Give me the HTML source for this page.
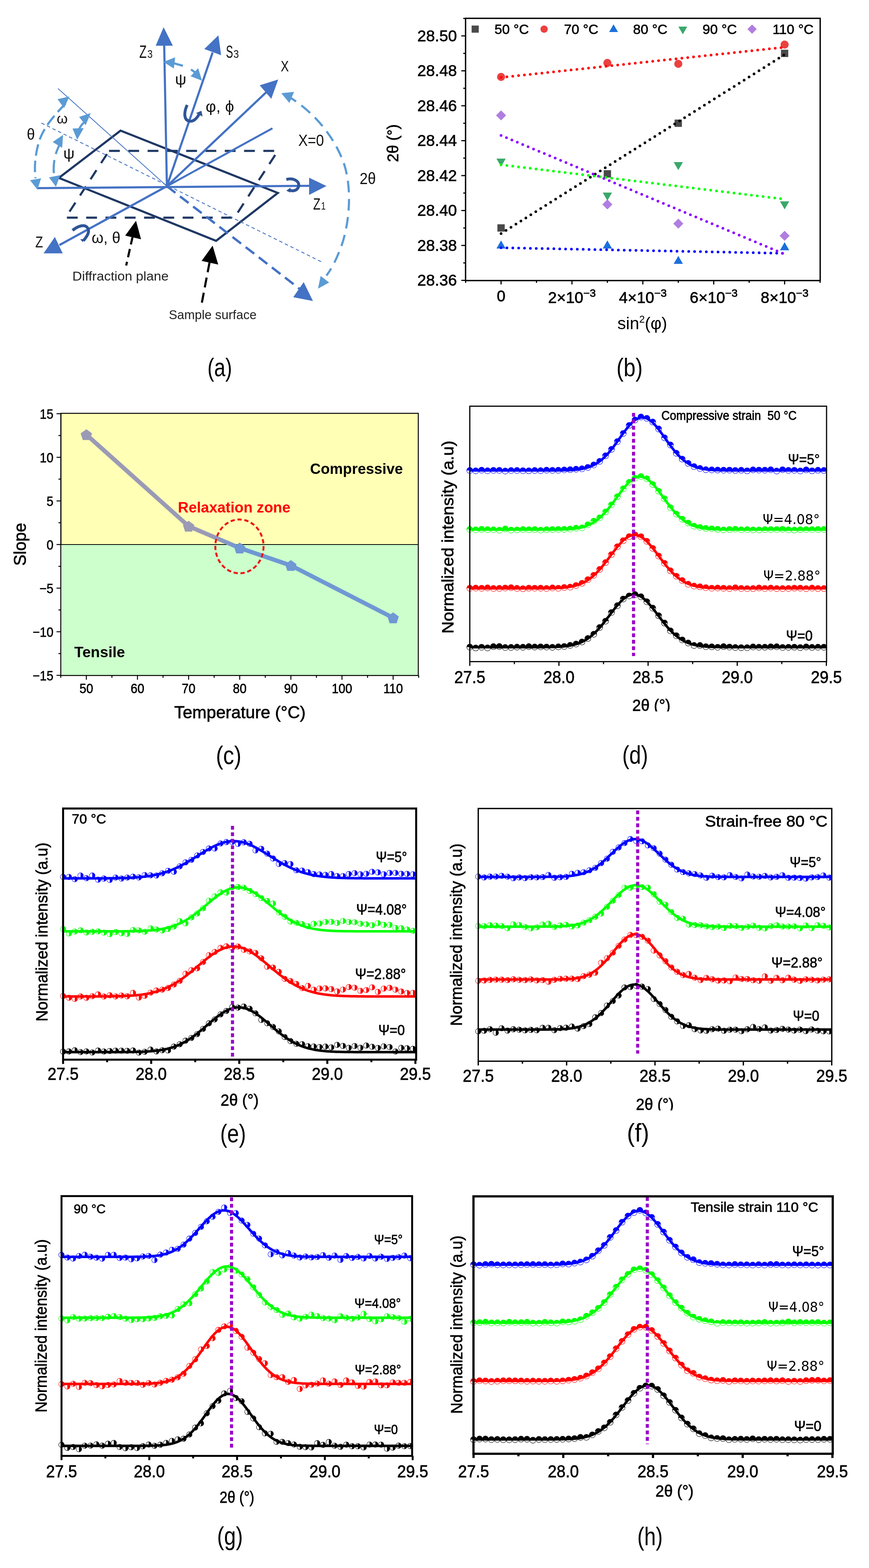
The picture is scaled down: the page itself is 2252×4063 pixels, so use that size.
<!DOCTYPE html>
<html><head><meta charset="utf-8"><title>Figure</title>
<style>html,body{margin:0;padding:0;background:#fff;}svg{display:block;}.cb{fill:#fff;stroke:#00f;stroke-width:1.1}.cg{fill:#fff;stroke:#0f0;stroke-width:1.1}.cr{fill:#fff;stroke:#f00;stroke-width:1.1}.ck{fill:#fff;stroke:#000;stroke-width:1.1}.fb{fill:#00f}.fg{fill:#0f0}.fr{fill:#f00}.fk{fill:#000}</style></head>
<body><svg width="2252" height="4063" viewBox="0 0 2252 4063">
<rect width="2252" height="4063" fill="#fff"/>
<text x="537.5" y="975.0" font-size="66" font-family="'Liberation Sans', sans-serif" fill="#000" textLength="64" lengthAdjust="spacingAndGlyphs">(a)</text>
<text x="1597.5" y="975.0" font-size="66" font-family="'Liberation Sans', sans-serif" fill="#000" textLength="68" lengthAdjust="spacingAndGlyphs">(b)</text>
<text x="559.5" y="1980.0" font-size="66" font-family="'Liberation Sans', sans-serif" fill="#000" textLength="66" lengthAdjust="spacingAndGlyphs">(c)</text>
<text x="1612.5" y="1979.0" font-size="66" font-family="'Liberation Sans', sans-serif" fill="#000" textLength="67" lengthAdjust="spacingAndGlyphs">(d)</text>
<text x="570.5" y="2960.0" font-size="66" font-family="'Liberation Sans', sans-serif" fill="#000" textLength="67" lengthAdjust="spacingAndGlyphs">(e)</text>
<text x="1624.5" y="2958.0" font-size="66" font-family="'Liberation Sans', sans-serif" fill="#000" textLength="58" lengthAdjust="spacingAndGlyphs">(f)</text>
<text x="562.5" y="4003.0" font-size="66" font-family="'Liberation Sans', sans-serif" fill="#000" textLength="67" lengthAdjust="spacingAndGlyphs">(g)</text>
<text x="1651.5" y="4004.0" font-size="66" font-family="'Liberation Sans', sans-serif" fill="#000" textLength="66" lengthAdjust="spacingAndGlyphs">(h)</text>
<polygon points="282.5,391.0 720.0,391.0 607.5,564.0 170.0,564.0" fill="none" stroke="#1f3864" stroke-width="5.5" stroke-dasharray="28 22" stroke-linejoin="miter"/>
<polygon points="312.5,338.5 720.0,500.0 560.0,624.0 152.5,461.0" fill="none" stroke="#1f3864" stroke-width="5.5" stroke-linejoin="miter"/>
<line x1="150.3" y1="229.4" x2="432.5" y2="482.5" stroke="#4472c4" stroke-width="2" />
<line x1="107.3" y1="318.7" x2="834.0" y2="679.0" stroke="#4472c4" stroke-width="2.2" stroke-dasharray="9 7"/>
<line x1="432.5" y1="482.5" x2="781.0" y2="752.0" stroke="#4472c4" stroke-width="6" stroke-dasharray="28 15"/>
<polygon points="787.0,731.0 760.0,770.0 811.0,780.0" fill="#4472c4" stroke="none" stroke-width="0" />
<line x1="97.0" y1="487.5" x2="806.0" y2="481.5" stroke="#4472c4" stroke-width="5.5" />
<polygon points="801.0,460.5 846.0,482.0 801.0,505.0" fill="#4472c4" stroke="none" stroke-width="0" />
<line x1="432.5" y1="482.5" x2="425.5" y2="116.0" stroke="#4472c4" stroke-width="5.5" />
<polygon points="403.5,118.5 448.0,118.5 424.0,70.5" fill="#4472c4" stroke="none" stroke-width="0" />
<line x1="432.5" y1="482.5" x2="551.0" y2="136.0" stroke="#4472c4" stroke-width="5.5" />
<polygon points="529.5,127.0 573.0,143.0 566.0,91.5" fill="#4472c4" stroke="none" stroke-width="0" />
<line x1="432.5" y1="482.5" x2="690.0" y2="239.0" stroke="#4472c4" stroke-width="5.5" />
<polygon points="673.0,221.0 703.0,256.0 721.0,206.0" fill="#4472c4" stroke="none" stroke-width="0" />
<line x1="432.5" y1="482.5" x2="706.0" y2="332.5" stroke="#4472c4" stroke-width="5" />
<line x1="432.5" y1="482.5" x2="154.0" y2="635.0" stroke="#4472c4" stroke-width="5.5" />
<polygon points="113.0,656.5 162.5,656.5 142.2,614.0" fill="#4472c4" stroke="none" stroke-width="0" />
<path d="M742,247 C800,280 860,340 890,420 C915,490 905,590 880,650 C868,680 858,698 846,714" fill="none" stroke="#5b9bd5" stroke-width="5.5" stroke-dasharray="30 17"/>
<polygon points="729.0,241.5 762.0,238.0 750.0,267.0" fill="#5b9bd5" stroke="none" stroke-width="0" />
<polygon points="831.0,715.0 853.0,732.0 824.0,748.0" fill="#5b9bd5" stroke="none" stroke-width="0" />
<path d="M170,268 C140,300 112,330 100,370 C92,400 88,430 92,462" fill="none" stroke="#5b9bd5" stroke-width="5.5" stroke-dasharray="30 13"/>
<polygon points="149.0,257.0 180.0,250.0 166.0,280.0" fill="#5b9bd5" stroke="none" stroke-width="0" />
<polygon points="78.0,467.0 106.5,462.0 97.0,491.5" fill="#5b9bd5" stroke="none" stroke-width="0" />
<path d="M158,368 C146,390 139,410 139,440 L140,458" fill="none" stroke="#5b9bd5" stroke-width="5.5" stroke-dasharray="34 16"/>
<polygon points="136.5,368.0 163.5,349.5 161.0,383.0" fill="#5b9bd5" stroke="none" stroke-width="0" />
<polygon points="127.0,459.5 156.0,454.0 145.0,484.0" fill="#5b9bd5" stroke="none" stroke-width="0" />
<path d="M221,314 C212,322 206,330 203,340" fill="none" stroke="#5b9bd5" stroke-width="5.5" />
<polygon points="205.0,303.0 235.0,293.0 222.0,324.5" fill="#5b9bd5" stroke="none" stroke-width="0" />
<polygon points="188.0,333.0 217.0,332.0 200.0,362.0" fill="#5b9bd5" stroke="none" stroke-width="0" />
<line x1="449.0" y1="163.5" x2="474.0" y2="170.5" stroke="#5b9bd5" stroke-width="5.5" />
<polygon points="423.5,160.5 454.0,148.5 450.5,177.5" fill="#5b9bd5" stroke="none" stroke-width="0" />
<line x1="495.0" y1="180.0" x2="506.0" y2="188.0" stroke="#5b9bd5" stroke-width="5.5" />
<polygon points="494.0,197.5 513.5,176.5 523.5,209.0" fill="#5b9bd5" stroke="none" stroke-width="0" />
<path d="M485,272 C476,292 476,312 492,314 C503,315 511,305 516,296" stroke="#2f5597" stroke-width="7.5" fill="none" stroke-linecap="butt"/>
<polygon points="508.0,293.0 522.0,287.0 525.0,302.0" fill="#2f5597" stroke="none" stroke-width="0" />
<path d="M742,465 C762,460 776,470 774,482 C772,494 758,497 749,492" stroke="#2f5597" stroke-width="7.5" fill="none" stroke-linecap="butt"/>
<polygon points="753.0,486.0 742.0,494.0 752.0,499.0" fill="#2f5597" stroke="none" stroke-width="0" />
<path d="M188,597 C200,587 220,578 228,592 C233,603 224,614 216,624" stroke="#2f5597" stroke-width="7.5" fill="none" stroke-linecap="butt"/>
<polygon points="208.0,620.0 222.0,619.0 214.0,627.0" fill="#2f5597" stroke="none" stroke-width="0" />
<line x1="344.0" y1="612.0" x2="327.0" y2="688.0" stroke="#000" stroke-width="5.5" stroke-dasharray="22 12"/>
<polygon points="352.5,572.0 324.5,610.5 365.5,620.0" fill="#000" stroke="none" stroke-width="0" />
<line x1="543.0" y1="680.0" x2="523.0" y2="785.0" stroke="#000" stroke-width="5.5" stroke-dasharray="26 14"/>
<polygon points="551.0,636.5 522.5,676.0 565.5,685.5" fill="#000" stroke="none" stroke-width="0" />
<text x="361.0" y="149.8" font-size="46" font-family="'Liberation Sans', sans-serif" fill="#111" textLength="19" lengthAdjust="spacingAndGlyphs">Z</text>
<text x="382.0" y="149.8" font-size="30" font-family="'Liberation Sans', sans-serif" fill="#111" textLength="13.5" lengthAdjust="spacingAndGlyphs">3</text>
<text x="585.5" y="149.8" font-size="46" font-family="'Liberation Sans', sans-serif" fill="#111" textLength="18.5" lengthAdjust="spacingAndGlyphs">S</text>
<text x="605.0" y="149.8" font-size="30" font-family="'Liberation Sans', sans-serif" fill="#111" textLength="14" lengthAdjust="spacingAndGlyphs">3</text>
<text x="727.5" y="185.0" font-size="39" font-family="'Liberation Sans', sans-serif" fill="#111" textLength="21" lengthAdjust="spacingAndGlyphs">X</text>
<text x="453.4" y="219.0" font-size="38" font-family="'Liberation Sans', sans-serif" fill="#111" textLength="29.5" lengthAdjust="spacingAndGlyphs">ψ</text>
<text x="532.8" y="290.0" font-size="40" font-family="'Liberation Sans', sans-serif" fill="#111" textLength="74" lengthAdjust="spacingAndGlyphs">φ, ϕ</text>
<text x="147.0" y="319.7" font-size="36" font-family="'Liberation Sans', sans-serif" fill="#111" textLength="28.5" lengthAdjust="spacingAndGlyphs">ω</text>
<text x="69.5" y="361.8" font-size="40" font-family="'Liberation Sans', sans-serif" fill="#111" textLength="21" lengthAdjust="spacingAndGlyphs">θ</text>
<text x="164.0" y="411.0" font-size="38" font-family="'Liberation Sans', sans-serif" fill="#111" textLength="29.4" lengthAdjust="spacingAndGlyphs">ψ</text>
<text x="773.0" y="377.6" font-size="42" font-family="'Liberation Sans', sans-serif" fill="#111" textLength="66.6" lengthAdjust="spacingAndGlyphs">X=0</text>
<text x="932.0" y="477.4" font-size="42" font-family="'Liberation Sans', sans-serif" fill="#111" textLength="42" lengthAdjust="spacingAndGlyphs">2θ</text>
<text x="811.6" y="543.0" font-size="42" font-family="'Liberation Sans', sans-serif" fill="#111" textLength="19" lengthAdjust="spacingAndGlyphs">Z</text>
<text x="832.0" y="543.0" font-size="28" font-family="'Liberation Sans', sans-serif" fill="#111" textLength="12" lengthAdjust="spacingAndGlyphs">1</text>
<text x="91.4" y="641.4" font-size="40" font-family="'Liberation Sans', sans-serif" fill="#111" textLength="20" lengthAdjust="spacingAndGlyphs">Z</text>
<text x="237.6" y="629.5" font-size="40" font-family="'Liberation Sans', sans-serif" fill="#111" textLength="74.4" lengthAdjust="spacingAndGlyphs">ω, θ</text>
<text x="187.6" y="726.9" font-size="33" font-family="'Liberation Sans', sans-serif" fill="#222" textLength="249.4" lengthAdjust="spacingAndGlyphs">Diffraction plane</text>
<text x="437.5" y="826.5" font-size="33" font-family="'Liberation Sans', sans-serif" fill="#222" textLength="227.5" lengthAdjust="spacingAndGlyphs">Sample surface</text>
<line x1="1195.5" y1="726.5" x2="1206.5" y2="726.5" stroke="#000" stroke-width="3" />
<text x="1184.0" y="740.0" font-size="41" font-family="'Liberation Sans', sans-serif" fill="#000" stroke="#000" stroke-width="0.9" text-anchor="end">28.36</text>
<line x1="1200.5" y1="681.2" x2="1206.5" y2="681.2" stroke="#000" stroke-width="3" />
<line x1="1195.5" y1="636.0" x2="1206.5" y2="636.0" stroke="#000" stroke-width="3" />
<text x="1184.0" y="649.5" font-size="41" font-family="'Liberation Sans', sans-serif" fill="#000" stroke="#000" stroke-width="0.9" text-anchor="end">28.38</text>
<line x1="1200.5" y1="590.7" x2="1206.5" y2="590.7" stroke="#000" stroke-width="3" />
<line x1="1195.5" y1="545.5" x2="1206.5" y2="545.5" stroke="#000" stroke-width="3" />
<text x="1184.0" y="559.0" font-size="41" font-family="'Liberation Sans', sans-serif" fill="#000" stroke="#000" stroke-width="0.9" text-anchor="end">28.40</text>
<line x1="1200.5" y1="500.2" x2="1206.5" y2="500.2" stroke="#000" stroke-width="3" />
<line x1="1195.5" y1="455.0" x2="1206.5" y2="455.0" stroke="#000" stroke-width="3" />
<text x="1184.0" y="468.5" font-size="41" font-family="'Liberation Sans', sans-serif" fill="#000" stroke="#000" stroke-width="0.9" text-anchor="end">28.42</text>
<line x1="1200.5" y1="409.7" x2="1206.5" y2="409.7" stroke="#000" stroke-width="3" />
<line x1="1195.5" y1="364.5" x2="1206.5" y2="364.5" stroke="#000" stroke-width="3" />
<text x="1184.0" y="378.0" font-size="41" font-family="'Liberation Sans', sans-serif" fill="#000" stroke="#000" stroke-width="0.9" text-anchor="end">28.44</text>
<line x1="1200.5" y1="319.3" x2="1206.5" y2="319.3" stroke="#000" stroke-width="3" />
<line x1="1195.5" y1="274.0" x2="1206.5" y2="274.0" stroke="#000" stroke-width="3" />
<text x="1184.0" y="287.5" font-size="41" font-family="'Liberation Sans', sans-serif" fill="#000" stroke="#000" stroke-width="0.9" text-anchor="end">28.46</text>
<line x1="1200.5" y1="228.8" x2="1206.5" y2="228.8" stroke="#000" stroke-width="3" />
<line x1="1195.5" y1="183.5" x2="1206.5" y2="183.5" stroke="#000" stroke-width="3" />
<text x="1184.0" y="197.0" font-size="41" font-family="'Liberation Sans', sans-serif" fill="#000" stroke="#000" stroke-width="0.9" text-anchor="end">28.48</text>
<line x1="1200.5" y1="138.3" x2="1206.5" y2="138.3" stroke="#000" stroke-width="3" />
<line x1="1195.5" y1="93.0" x2="1206.5" y2="93.0" stroke="#000" stroke-width="3" />
<text x="1184.0" y="106.5" font-size="41" font-family="'Liberation Sans', sans-serif" fill="#000" stroke="#000" stroke-width="0.9" text-anchor="end">28.50</text>
<line x1="1200.5" y1="47.8" x2="1206.5" y2="47.8" stroke="#000" stroke-width="3" />
<line x1="1206.7" y1="727.0" x2="1206.7" y2="733.0" stroke="#000" stroke-width="3" />
<line x1="1298.5" y1="727.0" x2="1298.5" y2="737.0" stroke="#000" stroke-width="3" />
<line x1="1390.3" y1="727.0" x2="1390.3" y2="733.0" stroke="#000" stroke-width="3" />
<line x1="1482.2" y1="727.0" x2="1482.2" y2="737.0" stroke="#000" stroke-width="3" />
<line x1="1574.0" y1="727.0" x2="1574.0" y2="733.0" stroke="#000" stroke-width="3" />
<line x1="1665.9" y1="727.0" x2="1665.9" y2="737.0" stroke="#000" stroke-width="3" />
<line x1="1757.8" y1="727.0" x2="1757.8" y2="733.0" stroke="#000" stroke-width="3" />
<line x1="1849.6" y1="727.0" x2="1849.6" y2="737.0" stroke="#000" stroke-width="3" />
<line x1="1941.4" y1="727.0" x2="1941.4" y2="733.0" stroke="#000" stroke-width="3" />
<line x1="2033.3" y1="727.0" x2="2033.3" y2="737.0" stroke="#000" stroke-width="3" />
<line x1="2125.2" y1="727.0" x2="2125.2" y2="733.0" stroke="#000" stroke-width="3" />
<text x="1298.5" y="781.0" font-size="40" font-family="'Liberation Sans', sans-serif" fill="#000" text-anchor="middle" stroke="#000" stroke-width="0.9">0</text>
<text x="1420.2" y="784.5" font-size="40" font-family="'Liberation Sans', sans-serif" textLength="124" lengthAdjust="spacingAndGlyphs" stroke="#000" stroke-width="0.9">2×10<tspan font-size="28" dy="-16">−3</tspan></text>
<text x="1603.9" y="784.5" font-size="40" font-family="'Liberation Sans', sans-serif" textLength="124" lengthAdjust="spacingAndGlyphs" stroke="#000" stroke-width="0.9">4×10<tspan font-size="28" dy="-16">−3</tspan></text>
<text x="1787.6" y="784.5" font-size="40" font-family="'Liberation Sans', sans-serif" textLength="124" lengthAdjust="spacingAndGlyphs" stroke="#000" stroke-width="0.9">6×10<tspan font-size="28" dy="-16">−3</tspan></text>
<text x="1971.3" y="784.5" font-size="40" font-family="'Liberation Sans', sans-serif" textLength="124" lengthAdjust="spacingAndGlyphs" stroke="#000" stroke-width="0.9">8×10<tspan font-size="28" dy="-16">−3</tspan></text>
<text x="1600" y="852.5" font-size="44" font-family="'Liberation Sans', sans-serif" textLength="129" lengthAdjust="spacingAndGlyphs">sin<tspan font-size="26" dy="-17">2</tspan><tspan dy="17">(φ)</tspan></text>
<text x="1032.0" y="371.0" font-size="40" font-family="'Liberation Sans', sans-serif" fill="#000" stroke="#000" stroke-width="0.9" text-anchor="middle" textLength="98" lengthAdjust="spacingAndGlyphs" transform="rotate(-90 1032.0 371.0)">2θ (°)</text>
<circle cx="1298.5" cy="199.3" r="10.5" fill="#ec4040"/>
<circle cx="1574.0" cy="163.1" r="10.5" fill="#ec4040"/>
<circle cx="1757.8" cy="165.4" r="10.5" fill="#ec4040"/>
<circle cx="2033.3" cy="115.6" r="10.5" fill="#ec4040"/>
<polygon points="1298.5,285.9 1311.5,298.9 1298.5,311.9 1285.5,298.9" fill="#b07ee0" stroke="none" stroke-width="0" />
<polygon points="1574.0,516.7 1587.0,529.7 1574.0,542.7 1561.0,529.7" fill="#b07ee0" stroke="none" stroke-width="0" />
<polygon points="1757.8,566.4 1770.8,579.4 1757.8,592.4 1744.8,579.4" fill="#b07ee0" stroke="none" stroke-width="0" />
<polygon points="2033.3,598.1 2046.3,611.1 2033.3,624.1 2020.3,611.1" fill="#b07ee0" stroke="none" stroke-width="0" />
<polygon points="1298.5,431.7 1310.5,410.9 1286.5,410.9" fill="#3aa86a" stroke="none" stroke-width="0" />
<polygon points="1574.0,520.0 1586.0,499.1 1562.0,499.1" fill="#3aa86a" stroke="none" stroke-width="0" />
<polygon points="1757.8,440.8 1769.8,419.9 1745.8,419.9" fill="#3aa86a" stroke="none" stroke-width="0" />
<polygon points="2033.3,542.6 2045.3,521.7 2021.3,521.7" fill="#3aa86a" stroke="none" stroke-width="0" />
<polygon points="1298.5,623.1 1310.5,643.9 1286.5,643.9" fill="#1c6fdc" stroke="none" stroke-width="0" />
<polygon points="1574.0,623.1 1586.0,643.9 1562.0,643.9" fill="#1c6fdc" stroke="none" stroke-width="0" />
<polygon points="1757.8,662.9 1769.8,683.8 1745.8,683.8" fill="#1c6fdc" stroke="none" stroke-width="0" />
<polygon points="2033.3,627.6 2045.3,648.5 2021.3,648.5" fill="#1c6fdc" stroke="none" stroke-width="0" />
<rect x="1289.0" y="581.2" width="19.0" height="19.0" fill="#4a4a4a" stroke="none" stroke-width="0" />
<rect x="1564.5" y="441.0" width="19.0" height="19.0" fill="#4a4a4a" stroke="none" stroke-width="0" />
<rect x="1748.2" y="309.8" width="19.0" height="19.0" fill="#4a4a4a" stroke="none" stroke-width="0" />
<rect x="2023.8" y="128.8" width="19.0" height="19.0" fill="#4a4a4a" stroke="none" stroke-width="0" />
<line x1="1298.5" y1="200.7" x2="2033.3" y2="122.4" stroke="#ff0000" stroke-width="7" stroke-linecap="round" stroke-dasharray="0 15.2"/>
<line x1="1298.5" y1="605.2" x2="2033.3" y2="141.4" stroke="#000000" stroke-width="7" stroke-linecap="round" stroke-dasharray="0 15.2"/>
<line x1="1298.5" y1="641.9" x2="2033.3" y2="656.4" stroke="#0000ff" stroke-width="7" stroke-linecap="round" stroke-dasharray="0 15.2"/>
<line x1="1298.5" y1="426.9" x2="2033.3" y2="516.1" stroke="#00ff00" stroke-width="7" stroke-linecap="round" stroke-dasharray="0 15.2"/>
<line x1="1298.5" y1="350.9" x2="2033.3" y2="658.6" stroke="#8b00ff" stroke-width="7" stroke-linecap="round" stroke-dasharray="0 15.2"/>
<rect x="1222.2" y="66.2" width="18.5" height="18.5" fill="#4a4a4a" stroke="none" stroke-width="0" />
<text x="1281.5" y="88.0" font-size="35.5" font-family="'Liberation Sans', sans-serif" fill="#000" stroke="#000" stroke-width="0.8">50 °C</text>
<circle cx="1410.0" cy="75.5" r="9.5" fill="#ec4040"/>
<text x="1461.5" y="88.0" font-size="35.5" font-family="'Liberation Sans', sans-serif" fill="#000" stroke="#000" stroke-width="0.8">70 °C</text>
<polygon points="1590.0,63.1 1601.5,83.1 1578.5,83.1" fill="#1c6fdc" stroke="none" stroke-width="0" />
<text x="1640.5" y="88.0" font-size="35.5" font-family="'Liberation Sans', sans-serif" fill="#000" stroke="#000" stroke-width="0.8">80 °C</text>
<polygon points="1769.5,88.9 1781.0,68.9 1758.0,68.9" fill="#3aa86a" stroke="none" stroke-width="0" />
<text x="1820.5" y="88.0" font-size="35.5" font-family="'Liberation Sans', sans-serif" fill="#000" stroke="#000" stroke-width="0.8">90 °C</text>
<polygon points="1949.0,63.5 1961.0,75.5 1949.0,87.5 1937.0,75.5" fill="#b07ee0" stroke="none" stroke-width="0" />
<text x="2002.0" y="88.0" font-size="35.5" font-family="'Liberation Sans', sans-serif" fill="#000" stroke="#000" stroke-width="0.8">110 °C</text>
<rect x="1206.5" y="47.5" width="919.0" height="679.5" fill="none" stroke="#000" stroke-width="3.5" />
<rect x="157.5" y="1071.0" width="926.5" height="340.0" fill="#ffffb6" stroke="none" stroke-width="0" />
<rect x="157.5" y="1411.0" width="926.5" height="339.3" fill="#ccffcc" stroke="none" stroke-width="0" />
<rect x="157.5" y="1071.0" width="3.0" height="340.0" fill="#b7b86a" stroke="none" stroke-width="0" />
<line x1="157.5" y1="1411.0" x2="1084.0" y2="1411.0" stroke="#000" stroke-width="2" />
<line x1="146.5" y1="1750.0" x2="157.5" y2="1750.0" stroke="#000" stroke-width="2.5" />
<text x="138.5" y="1762.5" font-size="35" font-family="'Liberation Sans', sans-serif" fill="#000" stroke="#000" stroke-width="0.8" text-anchor="end" textLength="54.0" lengthAdjust="spacingAndGlyphs">−15</text>
<line x1="151.5" y1="1693.5" x2="157.5" y2="1693.5" stroke="#000" stroke-width="2.5" />
<line x1="146.5" y1="1637.0" x2="157.5" y2="1637.0" stroke="#000" stroke-width="2.5" />
<text x="138.5" y="1649.5" font-size="35" font-family="'Liberation Sans', sans-serif" fill="#000" stroke="#000" stroke-width="0.8" text-anchor="end" textLength="54.0" lengthAdjust="spacingAndGlyphs">−10</text>
<line x1="151.5" y1="1580.5" x2="157.5" y2="1580.5" stroke="#000" stroke-width="2.5" />
<line x1="146.5" y1="1524.0" x2="157.5" y2="1524.0" stroke="#000" stroke-width="2.5" />
<text x="138.5" y="1536.5" font-size="35" font-family="'Liberation Sans', sans-serif" fill="#000" stroke="#000" stroke-width="0.8" text-anchor="end" textLength="36.3" lengthAdjust="spacingAndGlyphs">−5</text>
<line x1="151.5" y1="1467.5" x2="157.5" y2="1467.5" stroke="#000" stroke-width="2.5" />
<line x1="146.5" y1="1411.0" x2="157.5" y2="1411.0" stroke="#000" stroke-width="2.5" />
<text x="138.5" y="1423.5" font-size="35" font-family="'Liberation Sans', sans-serif" fill="#000" stroke="#000" stroke-width="0.8" text-anchor="end" textLength="17.7" lengthAdjust="spacingAndGlyphs">0</text>
<line x1="151.5" y1="1354.5" x2="157.5" y2="1354.5" stroke="#000" stroke-width="2.5" />
<line x1="146.5" y1="1298.0" x2="157.5" y2="1298.0" stroke="#000" stroke-width="2.5" />
<text x="138.5" y="1310.5" font-size="35" font-family="'Liberation Sans', sans-serif" fill="#000" stroke="#000" stroke-width="0.8" text-anchor="end" textLength="17.7" lengthAdjust="spacingAndGlyphs">5</text>
<line x1="151.5" y1="1241.5" x2="157.5" y2="1241.5" stroke="#000" stroke-width="2.5" />
<line x1="146.5" y1="1185.0" x2="157.5" y2="1185.0" stroke="#000" stroke-width="2.5" />
<text x="138.5" y="1197.5" font-size="35" font-family="'Liberation Sans', sans-serif" fill="#000" stroke="#000" stroke-width="0.8" text-anchor="end" textLength="35.4" lengthAdjust="spacingAndGlyphs">10</text>
<line x1="151.5" y1="1128.5" x2="157.5" y2="1128.5" stroke="#000" stroke-width="2.5" />
<line x1="146.5" y1="1072.0" x2="157.5" y2="1072.0" stroke="#000" stroke-width="2.5" />
<text x="138.5" y="1084.5" font-size="35" font-family="'Liberation Sans', sans-serif" fill="#000" stroke="#000" stroke-width="0.8" text-anchor="end" textLength="35.4" lengthAdjust="spacingAndGlyphs">15</text>
<line x1="157.5" y1="1750.3" x2="157.5" y2="1756.3" stroke="#000" stroke-width="2.5" />
<line x1="223.8" y1="1750.3" x2="223.8" y2="1761.3" stroke="#000" stroke-width="2.5" />
<text x="223.8" y="1796.3" font-size="35" font-family="'Liberation Sans', sans-serif" fill="#000" stroke="#000" stroke-width="0.8" text-anchor="middle" textLength="35.4" lengthAdjust="spacingAndGlyphs">50</text>
<line x1="290.0" y1="1750.3" x2="290.0" y2="1756.3" stroke="#000" stroke-width="2.5" />
<line x1="356.2" y1="1750.3" x2="356.2" y2="1761.3" stroke="#000" stroke-width="2.5" />
<text x="356.2" y="1796.3" font-size="35" font-family="'Liberation Sans', sans-serif" fill="#000" stroke="#000" stroke-width="0.8" text-anchor="middle" textLength="35.4" lengthAdjust="spacingAndGlyphs">60</text>
<line x1="422.5" y1="1750.3" x2="422.5" y2="1756.3" stroke="#000" stroke-width="2.5" />
<line x1="488.8" y1="1750.3" x2="488.8" y2="1761.3" stroke="#000" stroke-width="2.5" />
<text x="488.8" y="1796.3" font-size="35" font-family="'Liberation Sans', sans-serif" fill="#000" stroke="#000" stroke-width="0.8" text-anchor="middle" textLength="35.4" lengthAdjust="spacingAndGlyphs">70</text>
<line x1="555.0" y1="1750.3" x2="555.0" y2="1756.3" stroke="#000" stroke-width="2.5" />
<line x1="621.2" y1="1750.3" x2="621.2" y2="1761.3" stroke="#000" stroke-width="2.5" />
<text x="621.2" y="1796.3" font-size="35" font-family="'Liberation Sans', sans-serif" fill="#000" stroke="#000" stroke-width="0.8" text-anchor="middle" textLength="35.4" lengthAdjust="spacingAndGlyphs">80</text>
<line x1="687.5" y1="1750.3" x2="687.5" y2="1756.3" stroke="#000" stroke-width="2.5" />
<line x1="753.8" y1="1750.3" x2="753.8" y2="1761.3" stroke="#000" stroke-width="2.5" />
<text x="753.8" y="1796.3" font-size="35" font-family="'Liberation Sans', sans-serif" fill="#000" stroke="#000" stroke-width="0.8" text-anchor="middle" textLength="35.4" lengthAdjust="spacingAndGlyphs">90</text>
<line x1="820.0" y1="1750.3" x2="820.0" y2="1756.3" stroke="#000" stroke-width="2.5" />
<line x1="886.2" y1="1750.3" x2="886.2" y2="1761.3" stroke="#000" stroke-width="2.5" />
<text x="886.2" y="1796.3" font-size="35" font-family="'Liberation Sans', sans-serif" fill="#000" stroke="#000" stroke-width="0.8" text-anchor="middle" textLength="53.1" lengthAdjust="spacingAndGlyphs">100</text>
<line x1="952.5" y1="1750.3" x2="952.5" y2="1756.3" stroke="#000" stroke-width="2.5" />
<line x1="1018.8" y1="1750.3" x2="1018.8" y2="1761.3" stroke="#000" stroke-width="2.5" />
<text x="1018.8" y="1796.3" font-size="35" font-family="'Liberation Sans', sans-serif" fill="#000" stroke="#000" stroke-width="0.8" text-anchor="middle" textLength="50.8" lengthAdjust="spacingAndGlyphs">110</text>
<line x1="1085.0" y1="1750.3" x2="1085.0" y2="1756.3" stroke="#000" stroke-width="2.5" />
<text x="451.5" y="1861.0" font-size="44.3" font-family="'Liberation Sans', sans-serif" fill="#000" stroke="#000" stroke-width="0.9" textLength="340.5" lengthAdjust="spacingAndGlyphs">Temperature (°C)</text>
<text x="67.0" y="1410.4" font-size="45" font-family="'Liberation Sans', sans-serif" fill="#000" stroke="#000" stroke-width="0.9" text-anchor="middle" textLength="111" lengthAdjust="spacingAndGlyphs" transform="rotate(-90 67.0 1410.4)">Slope</text>
<text x="803.5" y="1227.5" font-size="38" font-family="'Liberation Sans', sans-serif" fill="#000" font-weight="bold" textLength="240.5" lengthAdjust="spacingAndGlyphs">Compressive</text>
<text x="192.5" y="1702.5" font-size="38" font-family="'Liberation Sans', sans-serif" fill="#000" font-weight="bold" textLength="131.5" lengthAdjust="spacingAndGlyphs">Tensile</text>
<text x="461.0" y="1327.5" font-size="38" font-family="'Liberation Sans', sans-serif" fill="#ff0000" font-weight="bold" textLength="291.5" lengthAdjust="spacingAndGlyphs">Relaxation zone</text>
<defs><linearGradient id="gc" gradientUnits="userSpaceOnUse" x1="488.8" y1="0" x2="621.2" y2="0"><stop offset="0.45" stop-color="#9a9ab6"/><stop offset="1" stop-color="#6f98d4"/></linearGradient></defs>
<line x1="223.8" y1="1126.2" x2="488.8" y2="1363.5" stroke="#9a9ab6" stroke-width="11" stroke-linecap="round"/>
<line x1="488.8" y1="1363.5" x2="621.2" y2="1420.0" stroke="url(#gc)" stroke-width="11" />
<polyline points="621.2,1420.0 753.8,1465.2 1018.8,1600.8" fill="none" stroke="#6f98d4" stroke-width="11" stroke-linejoin="round"/>
<polygon points="223.8,1112.2 238.5,1123.0 232.9,1140.3 214.6,1140.3 209.0,1123.0" fill="#9a9ab6" stroke="none" stroke-width="0" />
<polygon points="488.8,1349.5 503.5,1360.3 497.9,1377.6 479.6,1377.6 474.0,1360.3" fill="#9a9ab6" stroke="none" stroke-width="0" />
<polygon points="621.2,1406.0 636.0,1416.8 630.4,1434.1 612.1,1434.1 606.5,1416.8" fill="#6f98d4" stroke="none" stroke-width="0" />
<polygon points="753.8,1451.2 768.5,1462.0 762.9,1479.3 744.6,1479.3 739.0,1462.0" fill="#6f98d4" stroke="none" stroke-width="0" />
<polygon points="1018.8,1586.8 1033.5,1597.6 1027.9,1614.9 1009.6,1614.9 1004.0,1597.6" fill="#6f98d4" stroke="none" stroke-width="0" />
<ellipse cx="620.5" cy="1415.8" rx="62.5" ry="69.7" fill="none" stroke="#ee1111" stroke-width="5" stroke-dasharray="11 7"/>
<rect x="157.5" y="1071.0" width="926.5" height="679.3" fill="none" stroke="#000" stroke-width="2.5" />
<circle class="cb" cx="1217.5" cy="1219.1" r="7.9"/>
<path class="fb" d="M1209.6,1219.1a7.9,7.9 0 0 1 15.8,0z"/>
<circle class="cb" cx="1232.8" cy="1220.0" r="7.9"/>
<path class="fb" d="M1224.9,1220.0a7.9,7.9 0 0 1 15.8,0z"/>
<circle class="cb" cx="1248.1" cy="1218.3" r="7.9"/>
<path class="fb" d="M1240.2,1218.3a7.9,7.9 0 0 1 15.8,0z"/>
<circle class="cb" cx="1263.4" cy="1219.8" r="7.9"/>
<path class="fb" d="M1255.5,1219.8a7.9,7.9 0 0 1 15.8,0z"/>
<circle class="cb" cx="1278.7" cy="1218.8" r="7.9"/>
<path class="fb" d="M1270.8,1218.8a7.9,7.9 0 0 1 15.8,0z"/>
<circle class="cb" cx="1294.0" cy="1218.8" r="7.9"/>
<path class="fb" d="M1286.1,1218.8a7.9,7.9 0 0 1 15.8,0z"/>
<circle class="cb" cx="1309.3" cy="1220.5" r="7.9"/>
<path class="fb" d="M1301.4,1220.5a7.9,7.9 0 0 1 15.8,0z"/>
<circle class="cb" cx="1324.5" cy="1219.1" r="7.9"/>
<path class="fb" d="M1316.6,1219.1a7.9,7.9 0 0 1 15.8,0z"/>
<circle class="cb" cx="1339.8" cy="1219.0" r="7.9"/>
<path class="fb" d="M1331.9,1219.0a7.9,7.9 0 0 1 15.8,0z"/>
<circle class="cb" cx="1355.1" cy="1219.6" r="7.9"/>
<path class="fb" d="M1347.2,1219.6a7.9,7.9 0 0 1 15.8,0z"/>
<circle class="cb" cx="1370.4" cy="1219.9" r="7.9"/>
<path class="fb" d="M1362.5,1219.9a7.9,7.9 0 0 1 15.8,0z"/>
<circle class="cb" cx="1385.7" cy="1219.0" r="7.9"/>
<path class="fb" d="M1377.8,1219.0a7.9,7.9 0 0 1 15.8,0z"/>
<circle class="cb" cx="1401.0" cy="1219.5" r="7.9"/>
<path class="fb" d="M1393.1,1219.5a7.9,7.9 0 0 1 15.8,0z"/>
<circle class="cb" cx="1416.3" cy="1218.2" r="7.9"/>
<path class="fb" d="M1408.4,1218.2a7.9,7.9 0 0 1 15.8,0z"/>
<circle class="cb" cx="1431.6" cy="1218.7" r="7.9"/>
<path class="fb" d="M1423.7,1218.7a7.9,7.9 0 0 1 15.8,0z"/>
<circle class="cb" cx="1446.9" cy="1218.5" r="7.9"/>
<path class="fb" d="M1439.0,1218.5a7.9,7.9 0 0 1 15.8,0z"/>
<circle class="cb" cx="1462.2" cy="1217.6" r="7.9"/>
<path class="fb" d="M1454.3,1217.6a7.9,7.9 0 0 1 15.8,0z"/>
<circle class="cb" cx="1477.5" cy="1216.9" r="7.9"/>
<path class="fb" d="M1469.6,1216.9a7.9,7.9 0 0 1 15.8,0z"/>
<circle class="cb" cx="1492.8" cy="1215.7" r="7.9"/>
<path class="fb" d="M1484.9,1215.7a7.9,7.9 0 0 1 15.8,0z"/>
<circle class="cb" cx="1508.1" cy="1214.8" r="7.9"/>
<path class="fb" d="M1500.2,1214.8a7.9,7.9 0 0 1 15.8,0z"/>
<circle class="cb" cx="1523.3" cy="1211.1" r="7.9"/>
<path class="fb" d="M1515.4,1211.1a7.9,7.9 0 0 1 15.8,0z"/>
<circle class="cb" cx="1538.6" cy="1204.8" r="7.9"/>
<path class="fb" d="M1530.7,1204.8a7.9,7.9 0 0 1 15.8,0z"/>
<circle class="cb" cx="1553.9" cy="1195.5" r="7.9"/>
<path class="fb" d="M1546.0,1195.5a7.9,7.9 0 0 1 15.8,0z"/>
<circle class="cb" cx="1569.2" cy="1180.9" r="7.9"/>
<path class="fb" d="M1561.3,1180.9a7.9,7.9 0 0 1 15.8,0z"/>
<circle class="cb" cx="1584.5" cy="1164.5" r="7.9"/>
<path class="fb" d="M1576.6,1164.5a7.9,7.9 0 0 1 15.8,0z"/>
<circle class="cb" cx="1599.8" cy="1144.2" r="7.9"/>
<path class="fb" d="M1591.9,1144.2a7.9,7.9 0 0 1 15.8,0z"/>
<circle class="cb" cx="1615.1" cy="1123.2" r="7.9"/>
<path class="fb" d="M1607.2,1123.2a7.9,7.9 0 0 1 15.8,0z"/>
<circle class="cb" cx="1630.4" cy="1102.4" r="7.9"/>
<path class="fb" d="M1622.5,1102.4a7.9,7.9 0 0 1 15.8,0z"/>
<circle class="cb" cx="1645.7" cy="1088.3" r="7.9"/>
<path class="fb" d="M1637.8,1088.3a7.9,7.9 0 0 1 15.8,0z"/>
<circle class="cb" cx="1661.0" cy="1080.4" r="7.9"/>
<path class="fb" d="M1653.1,1080.4a7.9,7.9 0 0 1 15.8,0z"/>
<circle class="cb" cx="1676.3" cy="1083.9" r="7.9"/>
<path class="fb" d="M1668.4,1083.9a7.9,7.9 0 0 1 15.8,0z"/>
<circle class="cb" cx="1691.6" cy="1093.4" r="7.9"/>
<path class="fb" d="M1683.7,1093.4a7.9,7.9 0 0 1 15.8,0z"/>
<circle class="cb" cx="1706.9" cy="1111.5" r="7.9"/>
<path class="fb" d="M1699.0,1111.5a7.9,7.9 0 0 1 15.8,0z"/>
<circle class="cb" cx="1722.1" cy="1134.4" r="7.9"/>
<path class="fb" d="M1714.2,1134.4a7.9,7.9 0 0 1 15.8,0z"/>
<circle class="cb" cx="1737.4" cy="1153.0" r="7.9"/>
<path class="fb" d="M1729.5,1153.0a7.9,7.9 0 0 1 15.8,0z"/>
<circle class="cb" cx="1752.7" cy="1174.5" r="7.9"/>
<path class="fb" d="M1744.8,1174.5a7.9,7.9 0 0 1 15.8,0z"/>
<circle class="cb" cx="1768.0" cy="1189.6" r="7.9"/>
<path class="fb" d="M1760.1,1189.6a7.9,7.9 0 0 1 15.8,0z"/>
<circle class="cb" cx="1783.3" cy="1200.6" r="7.9"/>
<path class="fb" d="M1775.4,1200.6a7.9,7.9 0 0 1 15.8,0z"/>
<circle class="cb" cx="1798.6" cy="1208.9" r="7.9"/>
<path class="fb" d="M1790.7,1208.9a7.9,7.9 0 0 1 15.8,0z"/>
<circle class="cb" cx="1813.9" cy="1213.8" r="7.9"/>
<path class="fb" d="M1806.0,1213.8a7.9,7.9 0 0 1 15.8,0z"/>
<circle class="cb" cx="1829.2" cy="1217.0" r="7.9"/>
<path class="fb" d="M1821.3,1217.0a7.9,7.9 0 0 1 15.8,0z"/>
<circle class="cb" cx="1844.5" cy="1217.5" r="7.9"/>
<path class="fb" d="M1836.6,1217.5a7.9,7.9 0 0 1 15.8,0z"/>
<circle class="cb" cx="1859.8" cy="1217.9" r="7.9"/>
<path class="fb" d="M1851.9,1217.9a7.9,7.9 0 0 1 15.8,0z"/>
<circle class="cb" cx="1875.1" cy="1218.3" r="7.9"/>
<path class="fb" d="M1867.2,1218.3a7.9,7.9 0 0 1 15.8,0z"/>
<circle class="cb" cx="1890.4" cy="1218.1" r="7.9"/>
<path class="fb" d="M1882.5,1218.1a7.9,7.9 0 0 1 15.8,0z"/>
<circle class="cb" cx="1905.6" cy="1218.9" r="7.9"/>
<path class="fb" d="M1897.7,1218.9a7.9,7.9 0 0 1 15.8,0z"/>
<circle class="cb" cx="1920.9" cy="1218.4" r="7.9"/>
<path class="fb" d="M1913.0,1218.4a7.9,7.9 0 0 1 15.8,0z"/>
<circle class="cb" cx="1936.2" cy="1219.9" r="7.9"/>
<path class="fb" d="M1928.3,1219.9a7.9,7.9 0 0 1 15.8,0z"/>
<circle class="cb" cx="1951.5" cy="1217.5" r="7.9"/>
<path class="fb" d="M1943.6,1217.5a7.9,7.9 0 0 1 15.8,0z"/>
<circle class="cb" cx="1966.8" cy="1218.1" r="7.9"/>
<path class="fb" d="M1958.9,1218.1a7.9,7.9 0 0 1 15.8,0z"/>
<circle class="cb" cx="1982.1" cy="1218.2" r="7.9"/>
<path class="fb" d="M1974.2,1218.2a7.9,7.9 0 0 1 15.8,0z"/>
<circle class="cb" cx="1997.4" cy="1217.3" r="7.9"/>
<path class="fb" d="M1989.5,1217.3a7.9,7.9 0 0 1 15.8,0z"/>
<circle class="cb" cx="2012.7" cy="1220.5" r="7.9"/>
<path class="fb" d="M2004.8,1220.5a7.9,7.9 0 0 1 15.8,0z"/>
<circle class="cb" cx="2028.0" cy="1217.1" r="7.9"/>
<path class="fb" d="M2020.1,1217.1a7.9,7.9 0 0 1 15.8,0z"/>
<circle class="cb" cx="2043.3" cy="1218.8" r="7.9"/>
<path class="fb" d="M2035.4,1218.8a7.9,7.9 0 0 1 15.8,0z"/>
<circle class="cb" cx="2058.6" cy="1218.6" r="7.9"/>
<path class="fb" d="M2050.7,1218.6a7.9,7.9 0 0 1 15.8,0z"/>
<circle class="cb" cx="2073.9" cy="1220.3" r="7.9"/>
<path class="fb" d="M2066.0,1220.3a7.9,7.9 0 0 1 15.8,0z"/>
<circle class="cb" cx="2089.2" cy="1217.4" r="7.9"/>
<path class="fb" d="M2081.3,1217.4a7.9,7.9 0 0 1 15.8,0z"/>
<circle class="cb" cx="2104.4" cy="1219.9" r="7.9"/>
<path class="fb" d="M2096.5,1219.9a7.9,7.9 0 0 1 15.8,0z"/>
<circle class="cb" cx="2119.7" cy="1218.4" r="7.9"/>
<path class="fb" d="M2111.8,1218.4a7.9,7.9 0 0 1 15.8,0z"/>
<circle class="cb" cx="2135.0" cy="1218.9" r="7.9"/>
<path class="fb" d="M2127.1,1218.9a7.9,7.9 0 0 1 15.8,0z"/>
<path d="M1217.5,1219.0 L1219.8,1219.0 L1222.1,1219.0 L1224.4,1219.0 L1226.7,1219.0 L1229.0,1219.0 L1231.4,1219.0 L1233.7,1219.0 L1236.0,1219.0 L1238.3,1219.0 L1240.6,1219.0 L1242.9,1219.0 L1245.2,1219.0 L1247.5,1219.0 L1249.8,1219.0 L1252.1,1219.0 L1254.5,1219.0 L1256.8,1219.0 L1259.1,1219.0 L1261.4,1219.0 L1263.7,1219.0 L1266.0,1219.0 L1268.3,1219.0 L1270.6,1219.0 L1272.9,1219.0 L1275.2,1219.0 L1277.6,1219.0 L1279.9,1219.0 L1282.2,1219.0 L1284.5,1219.0 L1286.8,1219.0 L1289.1,1219.0 L1291.4,1219.0 L1293.7,1219.0 L1296.0,1219.0 L1298.4,1219.0 L1300.7,1219.0 L1303.0,1219.0 L1305.3,1219.0 L1307.6,1219.0 L1309.9,1219.0 L1312.2,1219.0 L1314.5,1219.0 L1316.8,1219.0 L1319.1,1219.0 L1321.5,1219.0 L1323.8,1219.0 L1326.1,1219.0 L1328.4,1219.0 L1330.7,1219.0 L1333.0,1219.0 L1335.3,1219.0 L1337.6,1219.0 L1339.9,1219.0 L1342.2,1219.0 L1344.5,1219.0 L1346.9,1219.0 L1349.2,1219.0 L1351.5,1219.0 L1353.8,1219.0 L1356.1,1219.0 L1358.4,1219.0 L1360.7,1219.0 L1363.0,1219.0 L1365.3,1219.0 L1367.6,1219.0 L1370.0,1219.0 L1372.3,1219.0 L1374.6,1219.0 L1376.9,1219.0 L1379.2,1219.0 L1381.5,1219.0 L1383.8,1219.0 L1386.1,1219.0 L1388.4,1219.0 L1390.8,1219.0 L1393.1,1219.0 L1395.4,1219.0 L1397.7,1219.0 L1400.0,1219.0 L1402.3,1219.0 L1404.6,1219.0 L1406.9,1219.0 L1409.2,1219.0 L1411.5,1219.0 L1413.9,1219.0 L1416.2,1219.0 L1418.5,1219.0 L1420.8,1219.0 L1423.1,1219.0 L1425.4,1219.0 L1427.7,1219.0 L1430.0,1218.9 L1432.3,1218.9 L1434.6,1218.9 L1437.0,1218.9 L1439.3,1218.9 L1441.6,1218.9 L1443.9,1218.9 L1446.2,1218.9 L1448.5,1218.8 L1450.8,1218.8 L1453.1,1218.8 L1455.4,1218.7 L1457.7,1218.7 L1460.0,1218.7 L1462.4,1218.6 L1464.7,1218.6 L1467.0,1218.5 L1469.3,1218.4 L1471.6,1218.4 L1473.9,1218.3 L1476.2,1218.2 L1478.5,1218.1 L1480.8,1217.9 L1483.1,1217.8 L1485.5,1217.6 L1487.8,1217.5 L1490.1,1217.3 L1492.4,1217.1 L1494.7,1216.8 L1497.0,1216.6 L1499.3,1216.3 L1501.6,1216.0 L1503.9,1215.7 L1506.2,1215.3 L1508.6,1214.9 L1510.9,1214.4 L1513.2,1213.9 L1515.5,1213.4 L1517.8,1212.8 L1520.1,1212.2 L1522.4,1211.5 L1524.7,1210.8 L1527.0,1210.0 L1529.4,1209.1 L1531.7,1208.2 L1534.0,1207.2 L1536.3,1206.2 L1538.6,1205.0 L1540.9,1203.8 L1543.2,1202.5 L1545.5,1201.2 L1547.8,1199.7 L1550.1,1198.2 L1552.5,1196.6 L1554.8,1194.8 L1557.1,1193.0 L1559.4,1191.1 L1561.7,1189.1 L1564.0,1187.0 L1566.3,1184.9 L1568.6,1182.6 L1570.9,1180.2 L1573.2,1177.7 L1575.5,1175.2 L1577.9,1172.6 L1580.2,1169.8 L1582.5,1167.0 L1584.8,1164.2 L1587.1,1161.2 L1589.4,1158.2 L1591.7,1155.2 L1594.0,1152.0 L1596.3,1148.9 L1598.6,1145.7 L1601.0,1142.4 L1603.3,1139.2 L1605.6,1135.9 L1607.9,1132.7 L1610.2,1129.4 L1612.5,1126.2 L1614.8,1123.0 L1617.1,1119.8 L1619.4,1116.7 L1621.8,1113.7 L1624.1,1110.7 L1626.4,1107.9 L1628.7,1105.1 L1631.0,1102.4 L1633.3,1099.9 L1635.6,1097.4 L1637.9,1095.2 L1640.2,1093.0 L1642.5,1091.1 L1644.9,1089.3 L1647.2,1087.6 L1649.5,1086.2 L1651.8,1085.0 L1654.1,1083.9 L1656.4,1083.1 L1658.7,1082.4 L1661.0,1082.0 L1663.3,1081.7 L1665.6,1081.7 L1668.0,1081.9 L1670.3,1082.3 L1672.6,1082.9 L1674.9,1083.7 L1677.2,1084.7 L1679.5,1085.9 L1681.8,1087.3 L1684.1,1088.9 L1686.4,1090.7 L1688.7,1092.6 L1691.0,1094.7 L1693.4,1097.0 L1695.7,1099.4 L1698.0,1101.9 L1700.3,1104.5 L1702.6,1107.3 L1704.9,1110.1 L1707.2,1113.1 L1709.5,1116.1 L1711.8,1119.2 L1714.1,1122.4 L1716.5,1125.6 L1718.8,1128.8 L1721.1,1132.0 L1723.4,1135.3 L1725.7,1138.5 L1728.0,1141.8 L1730.3,1145.0 L1732.6,1148.2 L1734.9,1151.4 L1737.2,1154.5 L1739.6,1157.6 L1741.9,1160.6 L1744.2,1163.6 L1746.5,1166.5 L1748.8,1169.3 L1751.1,1172.0 L1753.4,1174.7 L1755.7,1177.2 L1758.0,1179.7 L1760.4,1182.1 L1762.7,1184.4 L1765.0,1186.6 L1767.3,1188.7 L1769.6,1190.7 L1771.9,1192.7 L1774.2,1194.5 L1776.5,1196.2 L1778.8,1197.9 L1781.1,1199.4 L1783.5,1200.9 L1785.8,1202.3 L1788.1,1203.6 L1790.4,1204.8 L1792.7,1206.0 L1795.0,1207.0 L1797.3,1208.0 L1799.6,1209.0 L1801.9,1209.8 L1804.2,1210.6 L1806.5,1211.4 L1808.9,1212.1 L1811.2,1212.7 L1813.5,1213.3 L1815.8,1213.8 L1818.1,1214.3 L1820.4,1214.8 L1822.7,1215.2 L1825.0,1215.6 L1827.3,1215.9 L1829.6,1216.2 L1832.0,1216.5 L1834.3,1216.8 L1836.6,1217.0 L1838.9,1217.2 L1841.2,1217.4 L1843.5,1217.6 L1845.8,1217.8 L1848.1,1217.9 L1850.4,1218.0 L1852.8,1218.1 L1855.1,1218.2 L1857.4,1218.3 L1859.7,1218.4 L1862.0,1218.5 L1864.3,1218.6 L1866.6,1218.6 L1868.9,1218.7 L1871.2,1218.7 L1873.5,1218.7 L1875.9,1218.8 L1878.2,1218.8 L1880.5,1218.8 L1882.8,1218.9 L1885.1,1218.9 L1887.4,1218.9 L1889.7,1218.9 L1892.0,1218.9 L1894.3,1218.9 L1896.6,1218.9 L1899.0,1218.9 L1901.3,1219.0 L1903.6,1219.0 L1905.9,1219.0 L1908.2,1219.0 L1910.5,1219.0 L1912.8,1219.0 L1915.1,1219.0 L1917.4,1219.0 L1919.7,1219.0 L1922.0,1219.0 L1924.4,1219.0 L1926.7,1219.0 L1929.0,1219.0 L1931.3,1219.0 L1933.6,1219.0 L1935.9,1219.0 L1938.2,1219.0 L1940.5,1219.0 L1942.8,1219.0 L1945.1,1219.0 L1947.5,1219.0 L1949.8,1219.0 L1952.1,1219.0 L1954.4,1219.0 L1956.7,1219.0 L1959.0,1219.0 L1961.3,1219.0 L1963.6,1219.0 L1965.9,1219.0 L1968.2,1219.0 L1970.6,1219.0 L1972.9,1219.0 L1975.2,1219.0 L1977.5,1219.0 L1979.8,1219.0 L1982.1,1219.0 L1984.4,1219.0 L1986.7,1219.0 L1989.0,1219.0 L1991.4,1219.0 L1993.7,1219.0 L1996.0,1219.0 L1998.3,1219.0 L2000.6,1219.0 L2002.9,1219.0 L2005.2,1219.0 L2007.5,1219.0 L2009.8,1219.0 L2012.1,1219.0 L2014.5,1219.0 L2016.8,1219.0 L2019.1,1219.0 L2021.4,1219.0 L2023.7,1219.0 L2026.0,1219.0 L2028.3,1219.0 L2030.6,1219.0 L2032.9,1219.0 L2035.2,1219.0 L2037.5,1219.0 L2039.9,1219.0 L2042.2,1219.0 L2044.5,1219.0 L2046.8,1219.0 L2049.1,1219.0 L2051.4,1219.0 L2053.7,1219.0 L2056.0,1219.0 L2058.3,1219.0 L2060.6,1219.0 L2063.0,1219.0 L2065.3,1219.0 L2067.6,1219.0 L2069.9,1219.0 L2072.2,1219.0 L2074.5,1219.0 L2076.8,1219.0 L2079.1,1219.0 L2081.4,1219.0 L2083.8,1219.0 L2086.1,1219.0 L2088.4,1219.0 L2090.7,1219.0 L2093.0,1219.0 L2095.3,1219.0 L2097.6,1219.0 L2099.9,1219.0 L2102.2,1219.0 L2104.5,1219.0 L2106.9,1219.0 L2109.2,1219.0 L2111.5,1219.0 L2113.8,1219.0 L2116.1,1219.0 L2118.4,1219.0 L2120.7,1219.0 L2123.0,1219.0 L2125.3,1219.0 L2127.6,1219.0 L2130.0,1219.0 L2132.3,1219.0 L2134.6,1219.0 L2136.9,1219.0 L2139.2,1219.0 L2141.5,1219.0" fill="none" stroke="#0000ff" stroke-width="6.5" stroke-linejoin="round"/>
<circle class="cg" cx="1217.5" cy="1371.8" r="7.9"/>
<path class="fg" d="M1209.6,1371.8a7.9,7.9 0 0 1 15.8,0z"/>
<circle class="cg" cx="1232.8" cy="1372.8" r="7.9"/>
<path class="fg" d="M1224.9,1372.8a7.9,7.9 0 0 1 15.8,0z"/>
<circle class="cg" cx="1248.1" cy="1371.4" r="7.9"/>
<path class="fg" d="M1240.2,1371.4a7.9,7.9 0 0 1 15.8,0z"/>
<circle class="cg" cx="1263.4" cy="1372.2" r="7.9"/>
<path class="fg" d="M1255.5,1372.2a7.9,7.9 0 0 1 15.8,0z"/>
<circle class="cg" cx="1278.7" cy="1372.6" r="7.9"/>
<path class="fg" d="M1270.8,1372.6a7.9,7.9 0 0 1 15.8,0z"/>
<circle class="cg" cx="1294.0" cy="1373.8" r="7.9"/>
<path class="fg" d="M1286.1,1373.8a7.9,7.9 0 0 1 15.8,0z"/>
<circle class="cg" cx="1309.3" cy="1370.4" r="7.9"/>
<path class="fg" d="M1301.4,1370.4a7.9,7.9 0 0 1 15.8,0z"/>
<circle class="cg" cx="1324.5" cy="1373.5" r="7.9"/>
<path class="fg" d="M1316.6,1373.5a7.9,7.9 0 0 1 15.8,0z"/>
<circle class="cg" cx="1339.8" cy="1373.1" r="7.9"/>
<path class="fg" d="M1331.9,1373.1a7.9,7.9 0 0 1 15.8,0z"/>
<circle class="cg" cx="1355.1" cy="1371.9" r="7.9"/>
<path class="fg" d="M1347.2,1371.9a7.9,7.9 0 0 1 15.8,0z"/>
<circle class="cg" cx="1370.4" cy="1372.5" r="7.9"/>
<path class="fg" d="M1362.5,1372.5a7.9,7.9 0 0 1 15.8,0z"/>
<circle class="cg" cx="1385.7" cy="1371.9" r="7.9"/>
<path class="fg" d="M1377.8,1371.9a7.9,7.9 0 0 1 15.8,0z"/>
<circle class="cg" cx="1401.0" cy="1373.6" r="7.9"/>
<path class="fg" d="M1393.1,1373.6a7.9,7.9 0 0 1 15.8,0z"/>
<circle class="cg" cx="1416.3" cy="1372.4" r="7.9"/>
<path class="fg" d="M1408.4,1372.4a7.9,7.9 0 0 1 15.8,0z"/>
<circle class="cg" cx="1431.6" cy="1372.0" r="7.9"/>
<path class="fg" d="M1423.7,1372.0a7.9,7.9 0 0 1 15.8,0z"/>
<circle class="cg" cx="1446.9" cy="1371.8" r="7.9"/>
<path class="fg" d="M1439.0,1371.8a7.9,7.9 0 0 1 15.8,0z"/>
<circle class="cg" cx="1462.2" cy="1371.5" r="7.9"/>
<path class="fg" d="M1454.3,1371.5a7.9,7.9 0 0 1 15.8,0z"/>
<circle class="cg" cx="1477.5" cy="1370.6" r="7.9"/>
<path class="fg" d="M1469.6,1370.6a7.9,7.9 0 0 1 15.8,0z"/>
<circle class="cg" cx="1492.8" cy="1368.5" r="7.9"/>
<path class="fg" d="M1484.9,1368.5a7.9,7.9 0 0 1 15.8,0z"/>
<circle class="cg" cx="1508.1" cy="1367.8" r="7.9"/>
<path class="fg" d="M1500.2,1367.8a7.9,7.9 0 0 1 15.8,0z"/>
<circle class="cg" cx="1523.3" cy="1359.7" r="7.9"/>
<path class="fg" d="M1515.4,1359.7a7.9,7.9 0 0 1 15.8,0z"/>
<circle class="cg" cx="1538.6" cy="1350.4" r="7.9"/>
<path class="fg" d="M1530.7,1350.4a7.9,7.9 0 0 1 15.8,0z"/>
<circle class="cg" cx="1553.9" cy="1341.8" r="7.9"/>
<path class="fg" d="M1546.0,1341.8a7.9,7.9 0 0 1 15.8,0z"/>
<circle class="cg" cx="1569.2" cy="1326.4" r="7.9"/>
<path class="fg" d="M1561.3,1326.4a7.9,7.9 0 0 1 15.8,0z"/>
<circle class="cg" cx="1584.5" cy="1308.1" r="7.9"/>
<path class="fg" d="M1576.6,1308.1a7.9,7.9 0 0 1 15.8,0z"/>
<circle class="cg" cx="1599.8" cy="1286.9" r="7.9"/>
<path class="fg" d="M1591.9,1286.9a7.9,7.9 0 0 1 15.8,0z"/>
<circle class="cg" cx="1615.1" cy="1266.5" r="7.9"/>
<path class="fg" d="M1607.2,1266.5a7.9,7.9 0 0 1 15.8,0z"/>
<circle class="cg" cx="1630.4" cy="1249.7" r="7.9"/>
<path class="fg" d="M1622.5,1249.7a7.9,7.9 0 0 1 15.8,0z"/>
<circle class="cg" cx="1645.7" cy="1239.0" r="7.9"/>
<path class="fg" d="M1637.8,1239.0a7.9,7.9 0 0 1 15.8,0z"/>
<circle class="cg" cx="1661.0" cy="1234.8" r="7.9"/>
<path class="fg" d="M1653.1,1234.8a7.9,7.9 0 0 1 15.8,0z"/>
<circle class="cg" cx="1676.3" cy="1240.5" r="7.9"/>
<path class="fg" d="M1668.4,1240.5a7.9,7.9 0 0 1 15.8,0z"/>
<circle class="cg" cx="1691.6" cy="1255.5" r="7.9"/>
<path class="fg" d="M1683.7,1255.5a7.9,7.9 0 0 1 15.8,0z"/>
<circle class="cg" cx="1706.9" cy="1272.9" r="7.9"/>
<path class="fg" d="M1699.0,1272.9a7.9,7.9 0 0 1 15.8,0z"/>
<circle class="cg" cx="1722.1" cy="1292.5" r="7.9"/>
<path class="fg" d="M1714.2,1292.5a7.9,7.9 0 0 1 15.8,0z"/>
<circle class="cg" cx="1737.4" cy="1315.5" r="7.9"/>
<path class="fg" d="M1729.5,1315.5a7.9,7.9 0 0 1 15.8,0z"/>
<circle class="cg" cx="1752.7" cy="1332.1" r="7.9"/>
<path class="fg" d="M1744.8,1332.1a7.9,7.9 0 0 1 15.8,0z"/>
<circle class="cg" cx="1768.0" cy="1345.2" r="7.9"/>
<path class="fg" d="M1760.1,1345.2a7.9,7.9 0 0 1 15.8,0z"/>
<circle class="cg" cx="1783.3" cy="1355.1" r="7.9"/>
<path class="fg" d="M1775.4,1355.1a7.9,7.9 0 0 1 15.8,0z"/>
<circle class="cg" cx="1798.6" cy="1363.2" r="7.9"/>
<path class="fg" d="M1790.7,1363.2a7.9,7.9 0 0 1 15.8,0z"/>
<circle class="cg" cx="1813.9" cy="1366.6" r="7.9"/>
<path class="fg" d="M1806.0,1366.6a7.9,7.9 0 0 1 15.8,0z"/>
<circle class="cg" cx="1829.2" cy="1368.9" r="7.9"/>
<path class="fg" d="M1821.3,1368.9a7.9,7.9 0 0 1 15.8,0z"/>
<circle class="cg" cx="1844.5" cy="1370.1" r="7.9"/>
<path class="fg" d="M1836.6,1370.1a7.9,7.9 0 0 1 15.8,0z"/>
<circle class="cg" cx="1859.8" cy="1371.4" r="7.9"/>
<path class="fg" d="M1851.9,1371.4a7.9,7.9 0 0 1 15.8,0z"/>
<circle class="cg" cx="1875.1" cy="1373.0" r="7.9"/>
<path class="fg" d="M1867.2,1373.0a7.9,7.9 0 0 1 15.8,0z"/>
<circle class="cg" cx="1890.4" cy="1371.9" r="7.9"/>
<path class="fg" d="M1882.5,1371.9a7.9,7.9 0 0 1 15.8,0z"/>
<circle class="cg" cx="1905.6" cy="1371.1" r="7.9"/>
<path class="fg" d="M1897.7,1371.1a7.9,7.9 0 0 1 15.8,0z"/>
<circle class="cg" cx="1920.9" cy="1372.8" r="7.9"/>
<path class="fg" d="M1913.0,1372.8a7.9,7.9 0 0 1 15.8,0z"/>
<circle class="cg" cx="1936.2" cy="1372.3" r="7.9"/>
<path class="fg" d="M1928.3,1372.3a7.9,7.9 0 0 1 15.8,0z"/>
<circle class="cg" cx="1951.5" cy="1373.0" r="7.9"/>
<path class="fg" d="M1943.6,1373.0a7.9,7.9 0 0 1 15.8,0z"/>
<circle class="cg" cx="1966.8" cy="1373.3" r="7.9"/>
<path class="fg" d="M1958.9,1373.3a7.9,7.9 0 0 1 15.8,0z"/>
<circle class="cg" cx="1982.1" cy="1372.2" r="7.9"/>
<path class="fg" d="M1974.2,1372.2a7.9,7.9 0 0 1 15.8,0z"/>
<circle class="cg" cx="1997.4" cy="1372.2" r="7.9"/>
<path class="fg" d="M1989.5,1372.2a7.9,7.9 0 0 1 15.8,0z"/>
<circle class="cg" cx="2012.7" cy="1372.3" r="7.9"/>
<path class="fg" d="M2004.8,1372.3a7.9,7.9 0 0 1 15.8,0z"/>
<circle class="cg" cx="2028.0" cy="1371.4" r="7.9"/>
<path class="fg" d="M2020.1,1371.4a7.9,7.9 0 0 1 15.8,0z"/>
<circle class="cg" cx="2043.3" cy="1372.8" r="7.9"/>
<path class="fg" d="M2035.4,1372.8a7.9,7.9 0 0 1 15.8,0z"/>
<circle class="cg" cx="2058.6" cy="1373.4" r="7.9"/>
<path class="fg" d="M2050.7,1373.4a7.9,7.9 0 0 1 15.8,0z"/>
<circle class="cg" cx="2073.9" cy="1372.4" r="7.9"/>
<path class="fg" d="M2066.0,1372.4a7.9,7.9 0 0 1 15.8,0z"/>
<circle class="cg" cx="2089.2" cy="1372.1" r="7.9"/>
<path class="fg" d="M2081.3,1372.1a7.9,7.9 0 0 1 15.8,0z"/>
<circle class="cg" cx="2104.4" cy="1372.1" r="7.9"/>
<path class="fg" d="M2096.5,1372.1a7.9,7.9 0 0 1 15.8,0z"/>
<circle class="cg" cx="2119.7" cy="1371.7" r="7.9"/>
<path class="fg" d="M2111.8,1371.7a7.9,7.9 0 0 1 15.8,0z"/>
<circle class="cg" cx="2135.0" cy="1371.7" r="7.9"/>
<path class="fg" d="M2127.1,1371.7a7.9,7.9 0 0 1 15.8,0z"/>
<path d="M1217.5,1372.3 L1219.8,1372.3 L1222.1,1372.3 L1224.4,1372.3 L1226.7,1372.3 L1229.0,1372.3 L1231.4,1372.3 L1233.7,1372.3 L1236.0,1372.3 L1238.3,1372.3 L1240.6,1372.3 L1242.9,1372.3 L1245.2,1372.3 L1247.5,1372.3 L1249.8,1372.3 L1252.1,1372.3 L1254.5,1372.3 L1256.8,1372.3 L1259.1,1372.3 L1261.4,1372.3 L1263.7,1372.3 L1266.0,1372.3 L1268.3,1372.3 L1270.6,1372.3 L1272.9,1372.3 L1275.2,1372.3 L1277.6,1372.3 L1279.9,1372.3 L1282.2,1372.3 L1284.5,1372.3 L1286.8,1372.3 L1289.1,1372.3 L1291.4,1372.3 L1293.7,1372.3 L1296.0,1372.3 L1298.4,1372.3 L1300.7,1372.3 L1303.0,1372.3 L1305.3,1372.3 L1307.6,1372.3 L1309.9,1372.3 L1312.2,1372.3 L1314.5,1372.3 L1316.8,1372.3 L1319.1,1372.3 L1321.5,1372.3 L1323.8,1372.3 L1326.1,1372.3 L1328.4,1372.3 L1330.7,1372.3 L1333.0,1372.3 L1335.3,1372.3 L1337.6,1372.3 L1339.9,1372.3 L1342.2,1372.3 L1344.5,1372.3 L1346.9,1372.3 L1349.2,1372.3 L1351.5,1372.3 L1353.8,1372.3 L1356.1,1372.3 L1358.4,1372.3 L1360.7,1372.3 L1363.0,1372.3 L1365.3,1372.3 L1367.6,1372.3 L1370.0,1372.3 L1372.3,1372.3 L1374.6,1372.3 L1376.9,1372.3 L1379.2,1372.3 L1381.5,1372.3 L1383.8,1372.3 L1386.1,1372.3 L1388.4,1372.3 L1390.8,1372.3 L1393.1,1372.3 L1395.4,1372.3 L1397.7,1372.3 L1400.0,1372.3 L1402.3,1372.3 L1404.6,1372.3 L1406.9,1372.3 L1409.2,1372.3 L1411.5,1372.3 L1413.9,1372.3 L1416.2,1372.3 L1418.5,1372.3 L1420.8,1372.2 L1423.1,1372.2 L1425.4,1372.2 L1427.7,1372.2 L1430.0,1372.2 L1432.3,1372.2 L1434.6,1372.2 L1437.0,1372.1 L1439.3,1372.1 L1441.6,1372.1 L1443.9,1372.1 L1446.2,1372.0 L1448.5,1372.0 L1450.8,1371.9 L1453.1,1371.9 L1455.4,1371.8 L1457.7,1371.8 L1460.0,1371.7 L1462.4,1371.6 L1464.7,1371.5 L1467.0,1371.4 L1469.3,1371.3 L1471.6,1371.2 L1473.9,1371.0 L1476.2,1370.9 L1478.5,1370.7 L1480.8,1370.5 L1483.1,1370.3 L1485.5,1370.1 L1487.8,1369.8 L1490.1,1369.5 L1492.4,1369.2 L1494.7,1368.9 L1497.0,1368.5 L1499.3,1368.1 L1501.6,1367.7 L1503.9,1367.2 L1506.2,1366.6 L1508.6,1366.1 L1510.9,1365.5 L1513.2,1364.8 L1515.5,1364.1 L1517.8,1363.3 L1520.1,1362.5 L1522.4,1361.6 L1524.7,1360.6 L1527.0,1359.6 L1529.4,1358.5 L1531.7,1357.3 L1534.0,1356.1 L1536.3,1354.7 L1538.6,1353.3 L1540.9,1351.9 L1543.2,1350.3 L1545.5,1348.6 L1547.8,1346.9 L1550.1,1345.1 L1552.5,1343.1 L1554.8,1341.1 L1557.1,1339.0 L1559.4,1336.9 L1561.7,1334.6 L1564.0,1332.2 L1566.3,1329.8 L1568.6,1327.2 L1570.9,1324.6 L1573.2,1321.9 L1575.5,1319.2 L1577.9,1316.3 L1580.2,1313.4 L1582.5,1310.5 L1584.8,1307.5 L1587.1,1304.4 L1589.4,1301.3 L1591.7,1298.2 L1594.0,1295.0 L1596.3,1291.8 L1598.6,1288.7 L1601.0,1285.5 L1603.3,1282.3 L1605.6,1279.1 L1607.9,1276.0 L1610.2,1273.0 L1612.5,1269.9 L1614.8,1267.0 L1617.1,1264.1 L1619.4,1261.3 L1621.8,1258.5 L1624.1,1255.9 L1626.4,1253.4 L1628.7,1251.1 L1631.0,1248.8 L1633.3,1246.7 L1635.6,1244.8 L1637.9,1243.0 L1640.2,1241.4 L1642.5,1239.9 L1644.9,1238.7 L1647.2,1237.6 L1649.5,1236.7 L1651.8,1236.0 L1654.1,1235.5 L1656.4,1235.2 L1658.7,1235.1 L1661.0,1235.2 L1663.3,1235.5 L1665.6,1236.0 L1668.0,1236.7 L1670.3,1237.6 L1672.6,1238.7 L1674.9,1239.9 L1677.2,1241.4 L1679.5,1243.0 L1681.8,1244.8 L1684.1,1246.7 L1686.4,1248.8 L1688.7,1251.1 L1691.0,1253.4 L1693.4,1255.9 L1695.7,1258.5 L1698.0,1261.3 L1700.3,1264.1 L1702.6,1267.0 L1704.9,1269.9 L1707.2,1273.0 L1709.5,1276.0 L1711.8,1279.1 L1714.1,1282.3 L1716.5,1285.5 L1718.8,1288.7 L1721.1,1291.8 L1723.4,1295.0 L1725.7,1298.2 L1728.0,1301.3 L1730.3,1304.4 L1732.6,1307.5 L1734.9,1310.5 L1737.2,1313.4 L1739.6,1316.3 L1741.9,1319.2 L1744.2,1321.9 L1746.5,1324.6 L1748.8,1327.2 L1751.1,1329.8 L1753.4,1332.2 L1755.7,1334.6 L1758.0,1336.9 L1760.4,1339.0 L1762.7,1341.1 L1765.0,1343.1 L1767.3,1345.1 L1769.6,1346.9 L1771.9,1348.6 L1774.2,1350.3 L1776.5,1351.9 L1778.8,1353.3 L1781.1,1354.7 L1783.5,1356.1 L1785.8,1357.3 L1788.1,1358.5 L1790.4,1359.6 L1792.7,1360.6 L1795.0,1361.6 L1797.3,1362.5 L1799.6,1363.3 L1801.9,1364.1 L1804.2,1364.8 L1806.5,1365.5 L1808.9,1366.1 L1811.2,1366.6 L1813.5,1367.2 L1815.8,1367.7 L1818.1,1368.1 L1820.4,1368.5 L1822.7,1368.9 L1825.0,1369.2 L1827.3,1369.5 L1829.6,1369.8 L1832.0,1370.1 L1834.3,1370.3 L1836.6,1370.5 L1838.9,1370.7 L1841.2,1370.9 L1843.5,1371.0 L1845.8,1371.2 L1848.1,1371.3 L1850.4,1371.4 L1852.8,1371.5 L1855.1,1371.6 L1857.4,1371.7 L1859.7,1371.8 L1862.0,1371.8 L1864.3,1371.9 L1866.6,1371.9 L1868.9,1372.0 L1871.2,1372.0 L1873.5,1372.1 L1875.9,1372.1 L1878.2,1372.1 L1880.5,1372.1 L1882.8,1372.2 L1885.1,1372.2 L1887.4,1372.2 L1889.7,1372.2 L1892.0,1372.2 L1894.3,1372.2 L1896.6,1372.2 L1899.0,1372.3 L1901.3,1372.3 L1903.6,1372.3 L1905.9,1372.3 L1908.2,1372.3 L1910.5,1372.3 L1912.8,1372.3 L1915.1,1372.3 L1917.4,1372.3 L1919.7,1372.3 L1922.0,1372.3 L1924.4,1372.3 L1926.7,1372.3 L1929.0,1372.3 L1931.3,1372.3 L1933.6,1372.3 L1935.9,1372.3 L1938.2,1372.3 L1940.5,1372.3 L1942.8,1372.3 L1945.1,1372.3 L1947.5,1372.3 L1949.8,1372.3 L1952.1,1372.3 L1954.4,1372.3 L1956.7,1372.3 L1959.0,1372.3 L1961.3,1372.3 L1963.6,1372.3 L1965.9,1372.3 L1968.2,1372.3 L1970.6,1372.3 L1972.9,1372.3 L1975.2,1372.3 L1977.5,1372.3 L1979.8,1372.3 L1982.1,1372.3 L1984.4,1372.3 L1986.7,1372.3 L1989.0,1372.3 L1991.4,1372.3 L1993.7,1372.3 L1996.0,1372.3 L1998.3,1372.3 L2000.6,1372.3 L2002.9,1372.3 L2005.2,1372.3 L2007.5,1372.3 L2009.8,1372.3 L2012.1,1372.3 L2014.5,1372.3 L2016.8,1372.3 L2019.1,1372.3 L2021.4,1372.3 L2023.7,1372.3 L2026.0,1372.3 L2028.3,1372.3 L2030.6,1372.3 L2032.9,1372.3 L2035.2,1372.3 L2037.5,1372.3 L2039.9,1372.3 L2042.2,1372.3 L2044.5,1372.3 L2046.8,1372.3 L2049.1,1372.3 L2051.4,1372.3 L2053.7,1372.3 L2056.0,1372.3 L2058.3,1372.3 L2060.6,1372.3 L2063.0,1372.3 L2065.3,1372.3 L2067.6,1372.3 L2069.9,1372.3 L2072.2,1372.3 L2074.5,1372.3 L2076.8,1372.3 L2079.1,1372.3 L2081.4,1372.3 L2083.8,1372.3 L2086.1,1372.3 L2088.4,1372.3 L2090.7,1372.3 L2093.0,1372.3 L2095.3,1372.3 L2097.6,1372.3 L2099.9,1372.3 L2102.2,1372.3 L2104.5,1372.3 L2106.9,1372.3 L2109.2,1372.3 L2111.5,1372.3 L2113.8,1372.3 L2116.1,1372.3 L2118.4,1372.3 L2120.7,1372.3 L2123.0,1372.3 L2125.3,1372.3 L2127.6,1372.3 L2130.0,1372.3 L2132.3,1372.3 L2134.6,1372.3 L2136.9,1372.3 L2139.2,1372.3 L2141.5,1372.3" fill="none" stroke="#00ff00" stroke-width="6.5" stroke-linejoin="round"/>
<circle class="cr" cx="1217.5" cy="1524.2" r="7.9"/>
<path class="fr" d="M1209.6,1524.2a7.9,7.9 0 0 1 15.8,0z"/>
<circle class="cr" cx="1232.8" cy="1523.8" r="7.9"/>
<path class="fr" d="M1224.9,1523.8a7.9,7.9 0 0 1 15.8,0z"/>
<circle class="cr" cx="1248.1" cy="1524.2" r="7.9"/>
<path class="fr" d="M1240.2,1524.2a7.9,7.9 0 0 1 15.8,0z"/>
<circle class="cr" cx="1263.4" cy="1523.2" r="7.9"/>
<path class="fr" d="M1255.5,1523.2a7.9,7.9 0 0 1 15.8,0z"/>
<circle class="cr" cx="1278.7" cy="1524.8" r="7.9"/>
<path class="fr" d="M1270.8,1524.8a7.9,7.9 0 0 1 15.8,0z"/>
<circle class="cr" cx="1294.0" cy="1524.5" r="7.9"/>
<path class="fr" d="M1286.1,1524.5a7.9,7.9 0 0 1 15.8,0z"/>
<circle class="cr" cx="1309.3" cy="1523.6" r="7.9"/>
<path class="fr" d="M1301.4,1523.6a7.9,7.9 0 0 1 15.8,0z"/>
<circle class="cr" cx="1324.5" cy="1522.7" r="7.9"/>
<path class="fr" d="M1316.6,1522.7a7.9,7.9 0 0 1 15.8,0z"/>
<circle class="cr" cx="1339.8" cy="1524.5" r="7.9"/>
<path class="fr" d="M1331.9,1524.5a7.9,7.9 0 0 1 15.8,0z"/>
<circle class="cr" cx="1355.1" cy="1525.4" r="7.9"/>
<path class="fr" d="M1347.2,1525.4a7.9,7.9 0 0 1 15.8,0z"/>
<circle class="cr" cx="1370.4" cy="1523.9" r="7.9"/>
<path class="fr" d="M1362.5,1523.9a7.9,7.9 0 0 1 15.8,0z"/>
<circle class="cr" cx="1385.7" cy="1524.1" r="7.9"/>
<path class="fr" d="M1377.8,1524.1a7.9,7.9 0 0 1 15.8,0z"/>
<circle class="cr" cx="1401.0" cy="1524.0" r="7.9"/>
<path class="fr" d="M1393.1,1524.0a7.9,7.9 0 0 1 15.8,0z"/>
<circle class="cr" cx="1416.3" cy="1524.8" r="7.9"/>
<path class="fr" d="M1408.4,1524.8a7.9,7.9 0 0 1 15.8,0z"/>
<circle class="cr" cx="1431.6" cy="1523.3" r="7.9"/>
<path class="fr" d="M1423.7,1523.3a7.9,7.9 0 0 1 15.8,0z"/>
<circle class="cr" cx="1446.9" cy="1524.3" r="7.9"/>
<path class="fr" d="M1439.0,1524.3a7.9,7.9 0 0 1 15.8,0z"/>
<circle class="cr" cx="1462.2" cy="1522.2" r="7.9"/>
<path class="fr" d="M1454.3,1522.2a7.9,7.9 0 0 1 15.8,0z"/>
<circle class="cr" cx="1477.5" cy="1521.3" r="7.9"/>
<path class="fr" d="M1469.6,1521.3a7.9,7.9 0 0 1 15.8,0z"/>
<circle class="cr" cx="1492.8" cy="1517.1" r="7.9"/>
<path class="fr" d="M1484.9,1517.1a7.9,7.9 0 0 1 15.8,0z"/>
<circle class="cr" cx="1508.1" cy="1511.4" r="7.9"/>
<path class="fr" d="M1500.2,1511.4a7.9,7.9 0 0 1 15.8,0z"/>
<circle class="cr" cx="1523.3" cy="1501.9" r="7.9"/>
<path class="fr" d="M1515.4,1501.9a7.9,7.9 0 0 1 15.8,0z"/>
<circle class="cr" cx="1538.6" cy="1490.7" r="7.9"/>
<path class="fr" d="M1530.7,1490.7a7.9,7.9 0 0 1 15.8,0z"/>
<circle class="cr" cx="1553.9" cy="1475.5" r="7.9"/>
<path class="fr" d="M1546.0,1475.5a7.9,7.9 0 0 1 15.8,0z"/>
<circle class="cr" cx="1569.2" cy="1457.7" r="7.9"/>
<path class="fr" d="M1561.3,1457.7a7.9,7.9 0 0 1 15.8,0z"/>
<circle class="cr" cx="1584.5" cy="1437.1" r="7.9"/>
<path class="fr" d="M1576.6,1437.1a7.9,7.9 0 0 1 15.8,0z"/>
<circle class="cr" cx="1599.8" cy="1416.6" r="7.9"/>
<path class="fr" d="M1591.9,1416.6a7.9,7.9 0 0 1 15.8,0z"/>
<circle class="cr" cx="1615.1" cy="1400.9" r="7.9"/>
<path class="fr" d="M1607.2,1400.9a7.9,7.9 0 0 1 15.8,0z"/>
<circle class="cr" cx="1630.4" cy="1390.4" r="7.9"/>
<path class="fr" d="M1622.5,1390.4a7.9,7.9 0 0 1 15.8,0z"/>
<circle class="cr" cx="1645.7" cy="1386.1" r="7.9"/>
<path class="fr" d="M1637.8,1386.1a7.9,7.9 0 0 1 15.8,0z"/>
<circle class="cr" cx="1661.0" cy="1390.6" r="7.9"/>
<path class="fr" d="M1653.1,1390.6a7.9,7.9 0 0 1 15.8,0z"/>
<circle class="cr" cx="1676.3" cy="1402.7" r="7.9"/>
<path class="fr" d="M1668.4,1402.7a7.9,7.9 0 0 1 15.8,0z"/>
<circle class="cr" cx="1691.6" cy="1421.0" r="7.9"/>
<path class="fr" d="M1683.7,1421.0a7.9,7.9 0 0 1 15.8,0z"/>
<circle class="cr" cx="1706.9" cy="1440.8" r="7.9"/>
<path class="fr" d="M1699.0,1440.8a7.9,7.9 0 0 1 15.8,0z"/>
<circle class="cr" cx="1722.1" cy="1459.8" r="7.9"/>
<path class="fr" d="M1714.2,1459.8a7.9,7.9 0 0 1 15.8,0z"/>
<circle class="cr" cx="1737.4" cy="1478.9" r="7.9"/>
<path class="fr" d="M1729.5,1478.9a7.9,7.9 0 0 1 15.8,0z"/>
<circle class="cr" cx="1752.7" cy="1493.1" r="7.9"/>
<path class="fr" d="M1744.8,1493.1a7.9,7.9 0 0 1 15.8,0z"/>
<circle class="cr" cx="1768.0" cy="1504.2" r="7.9"/>
<path class="fr" d="M1760.1,1504.2a7.9,7.9 0 0 1 15.8,0z"/>
<circle class="cr" cx="1783.3" cy="1513.7" r="7.9"/>
<path class="fr" d="M1775.4,1513.7a7.9,7.9 0 0 1 15.8,0z"/>
<circle class="cr" cx="1798.6" cy="1518.5" r="7.9"/>
<path class="fr" d="M1790.7,1518.5a7.9,7.9 0 0 1 15.8,0z"/>
<circle class="cr" cx="1813.9" cy="1520.4" r="7.9"/>
<path class="fr" d="M1806.0,1520.4a7.9,7.9 0 0 1 15.8,0z"/>
<circle class="cr" cx="1829.2" cy="1522.8" r="7.9"/>
<path class="fr" d="M1821.3,1522.8a7.9,7.9 0 0 1 15.8,0z"/>
<circle class="cr" cx="1844.5" cy="1524.1" r="7.9"/>
<path class="fr" d="M1836.6,1524.1a7.9,7.9 0 0 1 15.8,0z"/>
<circle class="cr" cx="1859.8" cy="1523.6" r="7.9"/>
<path class="fr" d="M1851.9,1523.6a7.9,7.9 0 0 1 15.8,0z"/>
<circle class="cr" cx="1875.1" cy="1524.2" r="7.9"/>
<path class="fr" d="M1867.2,1524.2a7.9,7.9 0 0 1 15.8,0z"/>
<circle class="cr" cx="1890.4" cy="1525.0" r="7.9"/>
<path class="fr" d="M1882.5,1525.0a7.9,7.9 0 0 1 15.8,0z"/>
<circle class="cr" cx="1905.6" cy="1523.0" r="7.9"/>
<path class="fr" d="M1897.7,1523.0a7.9,7.9 0 0 1 15.8,0z"/>
<circle class="cr" cx="1920.9" cy="1524.8" r="7.9"/>
<path class="fr" d="M1913.0,1524.8a7.9,7.9 0 0 1 15.8,0z"/>
<circle class="cr" cx="1936.2" cy="1525.1" r="7.9"/>
<path class="fr" d="M1928.3,1525.1a7.9,7.9 0 0 1 15.8,0z"/>
<circle class="cr" cx="1951.5" cy="1524.9" r="7.9"/>
<path class="fr" d="M1943.6,1524.9a7.9,7.9 0 0 1 15.8,0z"/>
<circle class="cr" cx="1966.8" cy="1523.4" r="7.9"/>
<path class="fr" d="M1958.9,1523.4a7.9,7.9 0 0 1 15.8,0z"/>
<circle class="cr" cx="1982.1" cy="1524.8" r="7.9"/>
<path class="fr" d="M1974.2,1524.8a7.9,7.9 0 0 1 15.8,0z"/>
<circle class="cr" cx="1997.4" cy="1523.8" r="7.9"/>
<path class="fr" d="M1989.5,1523.8a7.9,7.9 0 0 1 15.8,0z"/>
<circle class="cr" cx="2012.7" cy="1525.0" r="7.9"/>
<path class="fr" d="M2004.8,1525.0a7.9,7.9 0 0 1 15.8,0z"/>
<circle class="cr" cx="2028.0" cy="1525.0" r="7.9"/>
<path class="fr" d="M2020.1,1525.0a7.9,7.9 0 0 1 15.8,0z"/>
<circle class="cr" cx="2043.3" cy="1524.7" r="7.9"/>
<path class="fr" d="M2035.4,1524.7a7.9,7.9 0 0 1 15.8,0z"/>
<circle class="cr" cx="2058.6" cy="1523.9" r="7.9"/>
<path class="fr" d="M2050.7,1523.9a7.9,7.9 0 0 1 15.8,0z"/>
<circle class="cr" cx="2073.9" cy="1524.0" r="7.9"/>
<path class="fr" d="M2066.0,1524.0a7.9,7.9 0 0 1 15.8,0z"/>
<circle class="cr" cx="2089.2" cy="1525.2" r="7.9"/>
<path class="fr" d="M2081.3,1525.2a7.9,7.9 0 0 1 15.8,0z"/>
<circle class="cr" cx="2104.4" cy="1523.8" r="7.9"/>
<path class="fr" d="M2096.5,1523.8a7.9,7.9 0 0 1 15.8,0z"/>
<circle class="cr" cx="2119.7" cy="1524.9" r="7.9"/>
<path class="fr" d="M2111.8,1524.9a7.9,7.9 0 0 1 15.8,0z"/>
<circle class="cr" cx="2135.0" cy="1524.9" r="7.9"/>
<path class="fr" d="M2127.1,1524.9a7.9,7.9 0 0 1 15.8,0z"/>
<path d="M1217.5,1524.5 L1219.8,1524.5 L1222.1,1524.5 L1224.4,1524.5 L1226.7,1524.5 L1229.0,1524.5 L1231.4,1524.5 L1233.7,1524.5 L1236.0,1524.5 L1238.3,1524.5 L1240.6,1524.5 L1242.9,1524.5 L1245.2,1524.5 L1247.5,1524.5 L1249.8,1524.5 L1252.1,1524.5 L1254.5,1524.5 L1256.8,1524.5 L1259.1,1524.5 L1261.4,1524.5 L1263.7,1524.5 L1266.0,1524.5 L1268.3,1524.5 L1270.6,1524.5 L1272.9,1524.5 L1275.2,1524.5 L1277.6,1524.5 L1279.9,1524.5 L1282.2,1524.5 L1284.5,1524.5 L1286.8,1524.5 L1289.1,1524.5 L1291.4,1524.5 L1293.7,1524.5 L1296.0,1524.5 L1298.4,1524.5 L1300.7,1524.5 L1303.0,1524.5 L1305.3,1524.5 L1307.6,1524.5 L1309.9,1524.5 L1312.2,1524.5 L1314.5,1524.5 L1316.8,1524.5 L1319.1,1524.5 L1321.5,1524.5 L1323.8,1524.5 L1326.1,1524.5 L1328.4,1524.5 L1330.7,1524.5 L1333.0,1524.5 L1335.3,1524.5 L1337.6,1524.5 L1339.9,1524.5 L1342.2,1524.5 L1344.5,1524.5 L1346.9,1524.5 L1349.2,1524.5 L1351.5,1524.5 L1353.8,1524.5 L1356.1,1524.5 L1358.4,1524.5 L1360.7,1524.5 L1363.0,1524.5 L1365.3,1524.5 L1367.6,1524.5 L1370.0,1524.5 L1372.3,1524.5 L1374.6,1524.5 L1376.9,1524.5 L1379.2,1524.5 L1381.5,1524.5 L1383.8,1524.5 L1386.1,1524.5 L1388.4,1524.5 L1390.8,1524.5 L1393.1,1524.5 L1395.4,1524.4 L1397.7,1524.4 L1400.0,1524.4 L1402.3,1524.4 L1404.6,1524.4 L1406.9,1524.4 L1409.2,1524.4 L1411.5,1524.4 L1413.9,1524.3 L1416.2,1524.3 L1418.5,1524.3 L1420.8,1524.3 L1423.1,1524.2 L1425.4,1524.2 L1427.7,1524.2 L1430.0,1524.1 L1432.3,1524.1 L1434.6,1524.0 L1437.0,1523.9 L1439.3,1523.9 L1441.6,1523.8 L1443.9,1523.7 L1446.2,1523.6 L1448.5,1523.5 L1450.8,1523.3 L1453.1,1523.2 L1455.4,1523.0 L1457.7,1522.9 L1460.0,1522.7 L1462.4,1522.5 L1464.7,1522.2 L1467.0,1522.0 L1469.3,1521.7 L1471.6,1521.4 L1473.9,1521.1 L1476.2,1520.7 L1478.5,1520.3 L1480.8,1519.9 L1483.1,1519.5 L1485.5,1519.0 L1487.8,1518.4 L1490.1,1517.8 L1492.4,1517.2 L1494.7,1516.5 L1497.0,1515.8 L1499.3,1515.0 L1501.6,1514.2 L1503.9,1513.3 L1506.2,1512.3 L1508.6,1511.3 L1510.9,1510.2 L1513.2,1509.1 L1515.5,1507.9 L1517.8,1506.6 L1520.1,1505.2 L1522.4,1503.7 L1524.7,1502.2 L1527.0,1500.6 L1529.4,1498.9 L1531.7,1497.1 L1534.0,1495.3 L1536.3,1493.3 L1538.6,1491.3 L1540.9,1489.2 L1543.2,1487.0 L1545.5,1484.7 L1547.8,1482.4 L1550.1,1479.9 L1552.5,1477.4 L1554.8,1474.8 L1557.1,1472.2 L1559.4,1469.4 L1561.7,1466.6 L1564.0,1463.8 L1566.3,1460.9 L1568.6,1458.0 L1570.9,1455.0 L1573.2,1451.9 L1575.5,1448.9 L1577.9,1445.8 L1580.2,1442.7 L1582.5,1439.6 L1584.8,1436.6 L1587.1,1433.5 L1589.4,1430.4 L1591.7,1427.4 L1594.0,1424.4 L1596.3,1421.5 L1598.6,1418.6 L1601.0,1415.7 L1603.3,1413.0 L1605.6,1410.4 L1607.9,1407.8 L1610.2,1405.3 L1612.5,1403.0 L1614.8,1400.8 L1617.1,1398.7 L1619.4,1396.7 L1621.8,1394.9 L1624.1,1393.3 L1626.4,1391.8 L1628.7,1390.5 L1631.0,1389.3 L1633.3,1388.4 L1635.6,1387.6 L1637.9,1386.9 L1640.2,1386.5 L1642.5,1386.3 L1644.9,1386.2 L1647.2,1386.3 L1649.5,1386.7 L1651.8,1387.2 L1654.1,1387.8 L1656.4,1388.7 L1658.7,1389.8 L1661.0,1391.0 L1663.3,1392.4 L1665.6,1393.9 L1668.0,1395.6 L1670.3,1397.5 L1672.6,1399.5 L1674.9,1401.7 L1677.2,1403.9 L1679.5,1406.3 L1681.8,1408.8 L1684.1,1411.4 L1686.4,1414.1 L1688.7,1416.9 L1691.0,1419.7 L1693.4,1422.6 L1695.7,1425.6 L1698.0,1428.6 L1700.3,1431.6 L1702.6,1434.7 L1704.9,1437.8 L1707.2,1440.9 L1709.5,1444.0 L1711.8,1447.1 L1714.1,1450.1 L1716.5,1453.2 L1718.8,1456.2 L1721.1,1459.1 L1723.4,1462.1 L1725.7,1464.9 L1728.0,1467.8 L1730.3,1470.5 L1732.6,1473.2 L1734.9,1475.9 L1737.2,1478.4 L1739.6,1480.9 L1741.9,1483.3 L1744.2,1485.6 L1746.5,1487.9 L1748.8,1490.0 L1751.1,1492.1 L1753.4,1494.1 L1755.7,1496.0 L1758.0,1497.8 L1760.4,1499.6 L1762.7,1501.2 L1765.0,1502.8 L1767.3,1504.3 L1769.6,1505.7 L1771.9,1507.1 L1774.2,1508.4 L1776.5,1509.6 L1778.8,1510.7 L1781.1,1511.7 L1783.5,1512.7 L1785.8,1513.7 L1788.1,1514.5 L1790.4,1515.4 L1792.7,1516.1 L1795.0,1516.8 L1797.3,1517.5 L1799.6,1518.1 L1801.9,1518.7 L1804.2,1519.2 L1806.5,1519.7 L1808.9,1520.1 L1811.2,1520.5 L1813.5,1520.9 L1815.8,1521.2 L1818.1,1521.5 L1820.4,1521.8 L1822.7,1522.1 L1825.0,1522.3 L1827.3,1522.6 L1829.6,1522.8 L1832.0,1522.9 L1834.3,1523.1 L1836.6,1523.3 L1838.9,1523.4 L1841.2,1523.5 L1843.5,1523.6 L1845.8,1523.7 L1848.1,1523.8 L1850.4,1523.9 L1852.8,1524.0 L1855.1,1524.0 L1857.4,1524.1 L1859.7,1524.1 L1862.0,1524.2 L1864.3,1524.2 L1866.6,1524.2 L1868.9,1524.3 L1871.2,1524.3 L1873.5,1524.3 L1875.9,1524.4 L1878.2,1524.4 L1880.5,1524.4 L1882.8,1524.4 L1885.1,1524.4 L1887.4,1524.4 L1889.7,1524.4 L1892.0,1524.4 L1894.3,1524.5 L1896.6,1524.5 L1899.0,1524.5 L1901.3,1524.5 L1903.6,1524.5 L1905.9,1524.5 L1908.2,1524.5 L1910.5,1524.5 L1912.8,1524.5 L1915.1,1524.5 L1917.4,1524.5 L1919.7,1524.5 L1922.0,1524.5 L1924.4,1524.5 L1926.7,1524.5 L1929.0,1524.5 L1931.3,1524.5 L1933.6,1524.5 L1935.9,1524.5 L1938.2,1524.5 L1940.5,1524.5 L1942.8,1524.5 L1945.1,1524.5 L1947.5,1524.5 L1949.8,1524.5 L1952.1,1524.5 L1954.4,1524.5 L1956.7,1524.5 L1959.0,1524.5 L1961.3,1524.5 L1963.6,1524.5 L1965.9,1524.5 L1968.2,1524.5 L1970.6,1524.5 L1972.9,1524.5 L1975.2,1524.5 L1977.5,1524.5 L1979.8,1524.5 L1982.1,1524.5 L1984.4,1524.5 L1986.7,1524.5 L1989.0,1524.5 L1991.4,1524.5 L1993.7,1524.5 L1996.0,1524.5 L1998.3,1524.5 L2000.6,1524.5 L2002.9,1524.5 L2005.2,1524.5 L2007.5,1524.5 L2009.8,1524.5 L2012.1,1524.5 L2014.5,1524.5 L2016.8,1524.5 L2019.1,1524.5 L2021.4,1524.5 L2023.7,1524.5 L2026.0,1524.5 L2028.3,1524.5 L2030.6,1524.5 L2032.9,1524.5 L2035.2,1524.5 L2037.5,1524.5 L2039.9,1524.5 L2042.2,1524.5 L2044.5,1524.5 L2046.8,1524.5 L2049.1,1524.5 L2051.4,1524.5 L2053.7,1524.5 L2056.0,1524.5 L2058.3,1524.5 L2060.6,1524.5 L2063.0,1524.5 L2065.3,1524.5 L2067.6,1524.5 L2069.9,1524.5 L2072.2,1524.5 L2074.5,1524.5 L2076.8,1524.5 L2079.1,1524.5 L2081.4,1524.5 L2083.8,1524.5 L2086.1,1524.5 L2088.4,1524.5 L2090.7,1524.5 L2093.0,1524.5 L2095.3,1524.5 L2097.6,1524.5 L2099.9,1524.5 L2102.2,1524.5 L2104.5,1524.5 L2106.9,1524.5 L2109.2,1524.5 L2111.5,1524.5 L2113.8,1524.5 L2116.1,1524.5 L2118.4,1524.5 L2120.7,1524.5 L2123.0,1524.5 L2125.3,1524.5 L2127.6,1524.5 L2130.0,1524.5 L2132.3,1524.5 L2134.6,1524.5 L2136.9,1524.5 L2139.2,1524.5 L2141.5,1524.5" fill="none" stroke="#ff0000" stroke-width="6.5" stroke-linejoin="round"/>
<circle class="ck" cx="1217.5" cy="1676.8" r="7.9"/>
<path class="fk" d="M1209.6,1676.8a7.9,7.9 0 0 1 15.8,0z"/>
<circle class="ck" cx="1232.8" cy="1678.9" r="7.9"/>
<path class="fk" d="M1224.9,1678.9a7.9,7.9 0 0 1 15.8,0z"/>
<circle class="ck" cx="1248.1" cy="1677.1" r="7.9"/>
<path class="fk" d="M1240.2,1677.1a7.9,7.9 0 0 1 15.8,0z"/>
<circle class="ck" cx="1263.4" cy="1678.7" r="7.9"/>
<path class="fk" d="M1255.5,1678.7a7.9,7.9 0 0 1 15.8,0z"/>
<circle class="ck" cx="1278.7" cy="1675.4" r="7.9"/>
<path class="fk" d="M1270.8,1675.4a7.9,7.9 0 0 1 15.8,0z"/>
<circle class="ck" cx="1294.0" cy="1675.2" r="7.9"/>
<path class="fk" d="M1286.1,1675.2a7.9,7.9 0 0 1 15.8,0z"/>
<circle class="ck" cx="1309.3" cy="1677.8" r="7.9"/>
<path class="fk" d="M1301.4,1677.8a7.9,7.9 0 0 1 15.8,0z"/>
<circle class="ck" cx="1324.5" cy="1677.5" r="7.9"/>
<path class="fk" d="M1316.6,1677.5a7.9,7.9 0 0 1 15.8,0z"/>
<circle class="ck" cx="1339.8" cy="1676.7" r="7.9"/>
<path class="fk" d="M1331.9,1676.7a7.9,7.9 0 0 1 15.8,0z"/>
<circle class="ck" cx="1355.1" cy="1677.0" r="7.9"/>
<path class="fk" d="M1347.2,1677.0a7.9,7.9 0 0 1 15.8,0z"/>
<circle class="ck" cx="1370.4" cy="1675.5" r="7.9"/>
<path class="fk" d="M1362.5,1675.5a7.9,7.9 0 0 1 15.8,0z"/>
<circle class="ck" cx="1385.7" cy="1676.5" r="7.9"/>
<path class="fk" d="M1377.8,1676.5a7.9,7.9 0 0 1 15.8,0z"/>
<circle class="ck" cx="1401.0" cy="1676.1" r="7.9"/>
<path class="fk" d="M1393.1,1676.1a7.9,7.9 0 0 1 15.8,0z"/>
<circle class="ck" cx="1416.3" cy="1676.6" r="7.9"/>
<path class="fk" d="M1408.4,1676.6a7.9,7.9 0 0 1 15.8,0z"/>
<circle class="ck" cx="1431.6" cy="1677.2" r="7.9"/>
<path class="fk" d="M1423.7,1677.2a7.9,7.9 0 0 1 15.8,0z"/>
<circle class="ck" cx="1446.9" cy="1676.0" r="7.9"/>
<path class="fk" d="M1439.0,1676.0a7.9,7.9 0 0 1 15.8,0z"/>
<circle class="ck" cx="1462.2" cy="1675.1" r="7.9"/>
<path class="fk" d="M1454.3,1675.1a7.9,7.9 0 0 1 15.8,0z"/>
<circle class="ck" cx="1477.5" cy="1672.2" r="7.9"/>
<path class="fk" d="M1469.6,1672.2a7.9,7.9 0 0 1 15.8,0z"/>
<circle class="ck" cx="1492.8" cy="1668.8" r="7.9"/>
<path class="fk" d="M1484.9,1668.8a7.9,7.9 0 0 1 15.8,0z"/>
<circle class="ck" cx="1508.1" cy="1663.4" r="7.9"/>
<path class="fk" d="M1500.2,1663.4a7.9,7.9 0 0 1 15.8,0z"/>
<circle class="ck" cx="1523.3" cy="1654.4" r="7.9"/>
<path class="fk" d="M1515.4,1654.4a7.9,7.9 0 0 1 15.8,0z"/>
<circle class="ck" cx="1538.6" cy="1643.5" r="7.9"/>
<path class="fk" d="M1530.7,1643.5a7.9,7.9 0 0 1 15.8,0z"/>
<circle class="ck" cx="1553.9" cy="1626.0" r="7.9"/>
<path class="fk" d="M1546.0,1626.0a7.9,7.9 0 0 1 15.8,0z"/>
<circle class="ck" cx="1569.2" cy="1609.6" r="7.9"/>
<path class="fk" d="M1561.3,1609.6a7.9,7.9 0 0 1 15.8,0z"/>
<circle class="ck" cx="1584.5" cy="1587.1" r="7.9"/>
<path class="fk" d="M1576.6,1587.1a7.9,7.9 0 0 1 15.8,0z"/>
<circle class="ck" cx="1599.8" cy="1569.5" r="7.9"/>
<path class="fk" d="M1591.9,1569.5a7.9,7.9 0 0 1 15.8,0z"/>
<circle class="ck" cx="1615.1" cy="1552.1" r="7.9"/>
<path class="fk" d="M1607.2,1552.1a7.9,7.9 0 0 1 15.8,0z"/>
<circle class="ck" cx="1630.4" cy="1544.1" r="7.9"/>
<path class="fk" d="M1622.5,1544.1a7.9,7.9 0 0 1 15.8,0z"/>
<circle class="ck" cx="1645.7" cy="1540.5" r="7.9"/>
<path class="fk" d="M1637.8,1540.5a7.9,7.9 0 0 1 15.8,0z"/>
<circle class="ck" cx="1661.0" cy="1546.3" r="7.9"/>
<path class="fk" d="M1653.1,1546.3a7.9,7.9 0 0 1 15.8,0z"/>
<circle class="ck" cx="1676.3" cy="1559.3" r="7.9"/>
<path class="fk" d="M1668.4,1559.3a7.9,7.9 0 0 1 15.8,0z"/>
<circle class="ck" cx="1691.6" cy="1575.8" r="7.9"/>
<path class="fk" d="M1683.7,1575.8a7.9,7.9 0 0 1 15.8,0z"/>
<circle class="ck" cx="1706.9" cy="1595.4" r="7.9"/>
<path class="fk" d="M1699.0,1595.4a7.9,7.9 0 0 1 15.8,0z"/>
<circle class="ck" cx="1722.1" cy="1614.4" r="7.9"/>
<path class="fk" d="M1714.2,1614.4a7.9,7.9 0 0 1 15.8,0z"/>
<circle class="ck" cx="1737.4" cy="1634.6" r="7.9"/>
<path class="fk" d="M1729.5,1634.6a7.9,7.9 0 0 1 15.8,0z"/>
<circle class="ck" cx="1752.7" cy="1647.3" r="7.9"/>
<path class="fk" d="M1744.8,1647.3a7.9,7.9 0 0 1 15.8,0z"/>
<circle class="ck" cx="1768.0" cy="1658.1" r="7.9"/>
<path class="fk" d="M1760.1,1658.1a7.9,7.9 0 0 1 15.8,0z"/>
<circle class="ck" cx="1783.3" cy="1666.0" r="7.9"/>
<path class="fk" d="M1775.4,1666.0a7.9,7.9 0 0 1 15.8,0z"/>
<circle class="ck" cx="1798.6" cy="1672.5" r="7.9"/>
<path class="fk" d="M1790.7,1672.5a7.9,7.9 0 0 1 15.8,0z"/>
<circle class="ck" cx="1813.9" cy="1672.4" r="7.9"/>
<path class="fk" d="M1806.0,1672.4a7.9,7.9 0 0 1 15.8,0z"/>
<circle class="ck" cx="1829.2" cy="1675.6" r="7.9"/>
<path class="fk" d="M1821.3,1675.6a7.9,7.9 0 0 1 15.8,0z"/>
<circle class="ck" cx="1844.5" cy="1675.9" r="7.9"/>
<path class="fk" d="M1836.6,1675.9a7.9,7.9 0 0 1 15.8,0z"/>
<circle class="ck" cx="1859.8" cy="1677.1" r="7.9"/>
<path class="fk" d="M1851.9,1677.1a7.9,7.9 0 0 1 15.8,0z"/>
<circle class="ck" cx="1875.1" cy="1675.4" r="7.9"/>
<path class="fk" d="M1867.2,1675.4a7.9,7.9 0 0 1 15.8,0z"/>
<circle class="ck" cx="1890.4" cy="1676.6" r="7.9"/>
<path class="fk" d="M1882.5,1676.6a7.9,7.9 0 0 1 15.8,0z"/>
<circle class="ck" cx="1905.6" cy="1677.7" r="7.9"/>
<path class="fk" d="M1897.7,1677.7a7.9,7.9 0 0 1 15.8,0z"/>
<circle class="ck" cx="1920.9" cy="1678.2" r="7.9"/>
<path class="fk" d="M1913.0,1678.2a7.9,7.9 0 0 1 15.8,0z"/>
<circle class="ck" cx="1936.2" cy="1678.3" r="7.9"/>
<path class="fk" d="M1928.3,1678.3a7.9,7.9 0 0 1 15.8,0z"/>
<circle class="ck" cx="1951.5" cy="1676.3" r="7.9"/>
<path class="fk" d="M1943.6,1676.3a7.9,7.9 0 0 1 15.8,0z"/>
<circle class="ck" cx="1966.8" cy="1677.0" r="7.9"/>
<path class="fk" d="M1958.9,1677.0a7.9,7.9 0 0 1 15.8,0z"/>
<circle class="ck" cx="1982.1" cy="1676.9" r="7.9"/>
<path class="fk" d="M1974.2,1676.9a7.9,7.9 0 0 1 15.8,0z"/>
<circle class="ck" cx="1997.4" cy="1675.9" r="7.9"/>
<path class="fk" d="M1989.5,1675.9a7.9,7.9 0 0 1 15.8,0z"/>
<circle class="ck" cx="2012.7" cy="1675.8" r="7.9"/>
<path class="fk" d="M2004.8,1675.8a7.9,7.9 0 0 1 15.8,0z"/>
<circle class="ck" cx="2028.0" cy="1677.6" r="7.9"/>
<path class="fk" d="M2020.1,1677.6a7.9,7.9 0 0 1 15.8,0z"/>
<circle class="ck" cx="2043.3" cy="1677.2" r="7.9"/>
<path class="fk" d="M2035.4,1677.2a7.9,7.9 0 0 1 15.8,0z"/>
<circle class="ck" cx="2058.6" cy="1676.9" r="7.9"/>
<path class="fk" d="M2050.7,1676.9a7.9,7.9 0 0 1 15.8,0z"/>
<circle class="ck" cx="2073.9" cy="1678.0" r="7.9"/>
<path class="fk" d="M2066.0,1678.0a7.9,7.9 0 0 1 15.8,0z"/>
<circle class="ck" cx="2089.2" cy="1676.2" r="7.9"/>
<path class="fk" d="M2081.3,1676.2a7.9,7.9 0 0 1 15.8,0z"/>
<circle class="ck" cx="2104.4" cy="1677.4" r="7.9"/>
<path class="fk" d="M2096.5,1677.4a7.9,7.9 0 0 1 15.8,0z"/>
<circle class="ck" cx="2119.7" cy="1677.0" r="7.9"/>
<path class="fk" d="M2111.8,1677.0a7.9,7.9 0 0 1 15.8,0z"/>
<circle class="ck" cx="2135.0" cy="1677.0" r="7.9"/>
<path class="fk" d="M2127.1,1677.0a7.9,7.9 0 0 1 15.8,0z"/>
<path d="M1217.5,1677.0 L1219.8,1677.0 L1222.1,1677.0 L1224.4,1677.0 L1226.7,1677.0 L1229.0,1677.0 L1231.4,1677.0 L1233.7,1677.0 L1236.0,1677.0 L1238.3,1677.0 L1240.6,1677.0 L1242.9,1677.0 L1245.2,1677.0 L1247.5,1677.0 L1249.8,1677.0 L1252.1,1677.0 L1254.5,1677.0 L1256.8,1677.0 L1259.1,1677.0 L1261.4,1677.0 L1263.7,1677.0 L1266.0,1677.0 L1268.3,1677.0 L1270.6,1677.0 L1272.9,1677.0 L1275.2,1677.0 L1277.6,1677.0 L1279.9,1677.0 L1282.2,1677.0 L1284.5,1677.0 L1286.8,1677.0 L1289.1,1677.0 L1291.4,1677.0 L1293.7,1677.0 L1296.0,1677.0 L1298.4,1677.0 L1300.7,1677.0 L1303.0,1677.0 L1305.3,1677.0 L1307.6,1677.0 L1309.9,1677.0 L1312.2,1677.0 L1314.5,1677.0 L1316.8,1677.0 L1319.1,1677.0 L1321.5,1677.0 L1323.8,1677.0 L1326.1,1677.0 L1328.4,1677.0 L1330.7,1677.0 L1333.0,1677.0 L1335.3,1677.0 L1337.6,1677.0 L1339.9,1677.0 L1342.2,1677.0 L1344.5,1677.0 L1346.9,1677.0 L1349.2,1677.0 L1351.5,1677.0 L1353.8,1677.0 L1356.1,1677.0 L1358.4,1677.0 L1360.7,1677.0 L1363.0,1677.0 L1365.3,1677.0 L1367.6,1677.0 L1370.0,1677.0 L1372.3,1677.0 L1374.6,1677.0 L1376.9,1677.0 L1379.2,1677.0 L1381.5,1677.0 L1383.8,1677.0 L1386.1,1677.0 L1388.4,1677.0 L1390.8,1677.0 L1393.1,1677.0 L1395.4,1676.9 L1397.7,1676.9 L1400.0,1676.9 L1402.3,1676.9 L1404.6,1676.9 L1406.9,1676.9 L1409.2,1676.9 L1411.5,1676.8 L1413.9,1676.8 L1416.2,1676.8 L1418.5,1676.8 L1420.8,1676.7 L1423.1,1676.7 L1425.4,1676.7 L1427.7,1676.6 L1430.0,1676.6 L1432.3,1676.5 L1434.6,1676.4 L1437.0,1676.4 L1439.3,1676.3 L1441.6,1676.2 L1443.9,1676.1 L1446.2,1676.0 L1448.5,1675.9 L1450.8,1675.7 L1453.1,1675.6 L1455.4,1675.4 L1457.7,1675.2 L1460.0,1675.0 L1462.4,1674.8 L1464.7,1674.6 L1467.0,1674.3 L1469.3,1674.0 L1471.6,1673.7 L1473.9,1673.4 L1476.2,1673.0 L1478.5,1672.6 L1480.8,1672.1 L1483.1,1671.6 L1485.5,1671.1 L1487.8,1670.5 L1490.1,1669.9 L1492.4,1669.3 L1494.7,1668.6 L1497.0,1667.8 L1499.3,1667.0 L1501.6,1666.1 L1503.9,1665.2 L1506.2,1664.2 L1508.6,1663.1 L1510.9,1662.0 L1513.2,1660.8 L1515.5,1659.5 L1517.8,1658.2 L1520.1,1656.7 L1522.4,1655.2 L1524.7,1653.7 L1527.0,1652.0 L1529.4,1650.3 L1531.7,1648.4 L1534.0,1646.5 L1536.3,1644.6 L1538.6,1642.5 L1540.9,1640.3 L1543.2,1638.1 L1545.5,1635.8 L1547.8,1633.4 L1550.1,1630.9 L1552.5,1628.4 L1554.8,1625.8 L1557.1,1623.1 L1559.4,1620.3 L1561.7,1617.5 L1564.0,1614.7 L1566.3,1611.8 L1568.6,1608.8 L1570.9,1605.8 L1573.2,1602.8 L1575.5,1599.8 L1577.9,1596.7 L1580.2,1593.7 L1582.5,1590.6 L1584.8,1587.6 L1587.1,1584.5 L1589.4,1581.5 L1591.7,1578.6 L1594.0,1575.6 L1596.3,1572.8 L1598.6,1570.0 L1601.0,1567.3 L1603.3,1564.6 L1605.6,1562.1 L1607.9,1559.6 L1610.2,1557.3 L1612.5,1555.1 L1614.8,1553.0 L1617.1,1551.0 L1619.4,1549.2 L1621.8,1547.5 L1624.1,1546.0 L1626.4,1544.7 L1628.7,1543.5 L1631.0,1542.5 L1633.3,1541.7 L1635.6,1541.0 L1637.9,1540.6 L1640.2,1540.3 L1642.5,1540.2 L1644.9,1540.3 L1647.2,1540.6 L1649.5,1541.0 L1651.8,1541.7 L1654.1,1542.5 L1656.4,1543.5 L1658.7,1544.7 L1661.0,1546.0 L1663.3,1547.5 L1665.6,1549.2 L1668.0,1551.0 L1670.3,1553.0 L1672.6,1555.1 L1674.9,1557.3 L1677.2,1559.6 L1679.5,1562.1 L1681.8,1564.6 L1684.1,1567.3 L1686.4,1570.0 L1688.7,1572.8 L1691.0,1575.6 L1693.4,1578.6 L1695.7,1581.5 L1698.0,1584.5 L1700.3,1587.6 L1702.6,1590.6 L1704.9,1593.7 L1707.2,1596.7 L1709.5,1599.8 L1711.8,1602.8 L1714.1,1605.8 L1716.5,1608.8 L1718.8,1611.8 L1721.1,1614.7 L1723.4,1617.5 L1725.7,1620.3 L1728.0,1623.1 L1730.3,1625.8 L1732.6,1628.4 L1734.9,1630.9 L1737.2,1633.4 L1739.6,1635.8 L1741.9,1638.1 L1744.2,1640.3 L1746.5,1642.5 L1748.8,1644.6 L1751.1,1646.5 L1753.4,1648.4 L1755.7,1650.3 L1758.0,1652.0 L1760.4,1653.7 L1762.7,1655.2 L1765.0,1656.7 L1767.3,1658.2 L1769.6,1659.5 L1771.9,1660.8 L1774.2,1662.0 L1776.5,1663.1 L1778.8,1664.2 L1781.1,1665.2 L1783.5,1666.1 L1785.8,1667.0 L1788.1,1667.8 L1790.4,1668.6 L1792.7,1669.3 L1795.0,1669.9 L1797.3,1670.5 L1799.6,1671.1 L1801.9,1671.6 L1804.2,1672.1 L1806.5,1672.6 L1808.9,1673.0 L1811.2,1673.4 L1813.5,1673.7 L1815.8,1674.0 L1818.1,1674.3 L1820.4,1674.6 L1822.7,1674.8 L1825.0,1675.0 L1827.3,1675.2 L1829.6,1675.4 L1832.0,1675.6 L1834.3,1675.7 L1836.6,1675.9 L1838.9,1676.0 L1841.2,1676.1 L1843.5,1676.2 L1845.8,1676.3 L1848.1,1676.4 L1850.4,1676.4 L1852.8,1676.5 L1855.1,1676.6 L1857.4,1676.6 L1859.7,1676.7 L1862.0,1676.7 L1864.3,1676.7 L1866.6,1676.8 L1868.9,1676.8 L1871.2,1676.8 L1873.5,1676.8 L1875.9,1676.9 L1878.2,1676.9 L1880.5,1676.9 L1882.8,1676.9 L1885.1,1676.9 L1887.4,1676.9 L1889.7,1676.9 L1892.0,1677.0 L1894.3,1677.0 L1896.6,1677.0 L1899.0,1677.0 L1901.3,1677.0 L1903.6,1677.0 L1905.9,1677.0 L1908.2,1677.0 L1910.5,1677.0 L1912.8,1677.0 L1915.1,1677.0 L1917.4,1677.0 L1919.7,1677.0 L1922.0,1677.0 L1924.4,1677.0 L1926.7,1677.0 L1929.0,1677.0 L1931.3,1677.0 L1933.6,1677.0 L1935.9,1677.0 L1938.2,1677.0 L1940.5,1677.0 L1942.8,1677.0 L1945.1,1677.0 L1947.5,1677.0 L1949.8,1677.0 L1952.1,1677.0 L1954.4,1677.0 L1956.7,1677.0 L1959.0,1677.0 L1961.3,1677.0 L1963.6,1677.0 L1965.9,1677.0 L1968.2,1677.0 L1970.6,1677.0 L1972.9,1677.0 L1975.2,1677.0 L1977.5,1677.0 L1979.8,1677.0 L1982.1,1677.0 L1984.4,1677.0 L1986.7,1677.0 L1989.0,1677.0 L1991.4,1677.0 L1993.7,1677.0 L1996.0,1677.0 L1998.3,1677.0 L2000.6,1677.0 L2002.9,1677.0 L2005.2,1677.0 L2007.5,1677.0 L2009.8,1677.0 L2012.1,1677.0 L2014.5,1677.0 L2016.8,1677.0 L2019.1,1677.0 L2021.4,1677.0 L2023.7,1677.0 L2026.0,1677.0 L2028.3,1677.0 L2030.6,1677.0 L2032.9,1677.0 L2035.2,1677.0 L2037.5,1677.0 L2039.9,1677.0 L2042.2,1677.0 L2044.5,1677.0 L2046.8,1677.0 L2049.1,1677.0 L2051.4,1677.0 L2053.7,1677.0 L2056.0,1677.0 L2058.3,1677.0 L2060.6,1677.0 L2063.0,1677.0 L2065.3,1677.0 L2067.6,1677.0 L2069.9,1677.0 L2072.2,1677.0 L2074.5,1677.0 L2076.8,1677.0 L2079.1,1677.0 L2081.4,1677.0 L2083.8,1677.0 L2086.1,1677.0 L2088.4,1677.0 L2090.7,1677.0 L2093.0,1677.0 L2095.3,1677.0 L2097.6,1677.0 L2099.9,1677.0 L2102.2,1677.0 L2104.5,1677.0 L2106.9,1677.0 L2109.2,1677.0 L2111.5,1677.0 L2113.8,1677.0 L2116.1,1677.0 L2118.4,1677.0 L2120.7,1677.0 L2123.0,1677.0 L2125.3,1677.0 L2127.6,1677.0 L2130.0,1677.0 L2132.3,1677.0 L2134.6,1677.0 L2136.9,1677.0 L2139.2,1677.0 L2141.5,1677.0" fill="none" stroke="#000000" stroke-width="6.5" stroke-linejoin="round"/>
<line x1="1641.8" y1="1070.0" x2="1641.8" y2="1700.0" stroke="#9a00c8" stroke-width="8" stroke-dasharray="9.8 7"/>
<rect x="1217.5" y="1052.5" width="924.5" height="661.9" fill="none" stroke="#000" stroke-width="3" />
<line x1="1217.5" y1="1714.4" x2="1217.5" y2="1725.4" stroke="#000" stroke-width="3" />
<text x="1217.5" y="1769.8" font-size="44" font-family="'Liberation Sans', sans-serif" fill="#000" text-anchor="middle" textLength="80.5" lengthAdjust="spacingAndGlyphs" stroke="#000" stroke-width="0.9">27.5</text>
<line x1="1333.0" y1="1714.4" x2="1333.0" y2="1720.9" stroke="#000" stroke-width="3" />
<line x1="1448.5" y1="1714.4" x2="1448.5" y2="1725.4" stroke="#000" stroke-width="3" />
<text x="1448.5" y="1769.8" font-size="44" font-family="'Liberation Sans', sans-serif" fill="#000" text-anchor="middle" textLength="80.5" lengthAdjust="spacingAndGlyphs" stroke="#000" stroke-width="0.9">28.0</text>
<line x1="1564.0" y1="1714.4" x2="1564.0" y2="1720.9" stroke="#000" stroke-width="3" />
<line x1="1679.5" y1="1714.4" x2="1679.5" y2="1725.4" stroke="#000" stroke-width="3" />
<text x="1679.5" y="1769.8" font-size="44" font-family="'Liberation Sans', sans-serif" fill="#000" text-anchor="middle" textLength="80.5" lengthAdjust="spacingAndGlyphs" stroke="#000" stroke-width="0.9">28.5</text>
<line x1="1795.0" y1="1714.4" x2="1795.0" y2="1720.9" stroke="#000" stroke-width="3" />
<line x1="1910.5" y1="1714.4" x2="1910.5" y2="1725.4" stroke="#000" stroke-width="3" />
<text x="1910.5" y="1769.8" font-size="44" font-family="'Liberation Sans', sans-serif" fill="#000" text-anchor="middle" textLength="80.5" lengthAdjust="spacingAndGlyphs" stroke="#000" stroke-width="0.9">29.0</text>
<line x1="2026.0" y1="1714.4" x2="2026.0" y2="1720.9" stroke="#000" stroke-width="3" />
<line x1="2141.5" y1="1714.4" x2="2141.5" y2="1725.4" stroke="#000" stroke-width="3" />
<text x="2141.5" y="1769.8" font-size="44" font-family="'Liberation Sans', sans-serif" fill="#000" text-anchor="middle" textLength="80.5" lengthAdjust="spacingAndGlyphs" stroke="#000" stroke-width="0.9">29.5</text>
<text x="1638.5" y="1841.6" font-size="43" font-family="'Liberation Sans', sans-serif" fill="#000" textLength="99" lengthAdjust="spacingAndGlyphs" stroke="#000" stroke-width="0.9">2θ (°)</text>
<text x="1175.2" y="1391.8" font-size="43" font-family="'Liberation Sans', sans-serif" fill="#000" text-anchor="middle" textLength="500" lengthAdjust="spacingAndGlyphs" transform="rotate(-90 1175.2 1391.8)" stroke="#000" stroke-width="0.9">Normalized intensity (a.u)</text>
<text x="1714.0" y="1087.5" font-size="32.5" font-family="'Liberation Sans', sans-serif" fill="#000" textLength="350.5" lengthAdjust="spacingAndGlyphs" stroke="#000" stroke-width="0.9" style="white-space:pre">Compressive strain  50 °C</text>
<text x="2041.9" y="1202.8" font-size="37.5" font-family="'Liberation Sans', sans-serif" fill="#000" textLength="82.4" lengthAdjust="spacingAndGlyphs" stroke="#000" stroke-width="0.9" style="white-space:pre">Ψ=5°</text>
<text x="1976.4" y="1357.8" font-size="35.5" font-family="'DejaVu Sans', 'Liberation Sans', sans-serif" fill="#000" textLength="148.2" lengthAdjust="spacingAndGlyphs"  style="white-space:pre">Ψ=4.08°</text>
<text x="1978.3" y="1504.1" font-size="35.5" font-family="'DejaVu Sans', 'Liberation Sans', sans-serif" fill="#000" textLength="148.2" lengthAdjust="spacingAndGlyphs"  style="white-space:pre">Ψ=2.88°</text>
<text x="2037.0" y="1659.5" font-size="37" font-family="'Liberation Sans', sans-serif" fill="#000" textLength="69" lengthAdjust="spacingAndGlyphs" stroke="#000" stroke-width="0.9" style="white-space:pre">Ψ=0</text>
<rect x="1630.0" y="1843.5" width="120.0" height="12.0" fill="#fff" stroke="none" stroke-width="0" />
<circle class="cb" cx="163.5" cy="2272.2" r="7.1"/>
<path class="fb" d="M163.5,2265.1a7.1,7.1 0 0 1 0,14.2z"/>
<circle class="cb" cx="178.6" cy="2272.3" r="7.1"/>
<path class="fb" d="M178.6,2265.2a7.1,7.1 0 0 1 0,14.2z"/>
<circle class="cb" cx="193.7" cy="2278.1" r="7.1"/>
<path class="fb" d="M193.7,2271.0a7.1,7.1 0 0 1 0,14.2z"/>
<circle class="cb" cx="208.8" cy="2268.6" r="7.1"/>
<path class="fb" d="M208.8,2261.5a7.1,7.1 0 0 1 0,14.2z"/>
<circle class="cb" cx="223.9" cy="2275.5" r="7.1"/>
<path class="fb" d="M223.9,2268.4a7.1,7.1 0 0 1 0,14.2z"/>
<circle class="cb" cx="239.1" cy="2268.7" r="7.1"/>
<path class="fb" d="M239.1,2261.6a7.1,7.1 0 0 1 0,14.2z"/>
<circle class="cb" cx="254.2" cy="2279.4" r="7.1"/>
<path class="fb" d="M254.2,2272.3a7.1,7.1 0 0 1 0,14.2z"/>
<circle class="cb" cx="269.3" cy="2276.5" r="7.1"/>
<path class="fb" d="M269.3,2269.4a7.1,7.1 0 0 1 0,14.2z"/>
<circle class="cb" cx="284.4" cy="2280.1" r="7.1"/>
<path class="fb" d="M284.4,2273.0a7.1,7.1 0 0 1 0,14.2z"/>
<circle class="cb" cx="299.5" cy="2273.9" r="7.1"/>
<path class="fb" d="M299.5,2266.8a7.1,7.1 0 0 1 0,14.2z"/>
<circle class="cb" cx="314.6" cy="2276.5" r="7.1"/>
<path class="fb" d="M314.6,2269.4a7.1,7.1 0 0 1 0,14.2z"/>
<circle class="cb" cx="329.7" cy="2273.9" r="7.1"/>
<path class="fb" d="M329.7,2266.8a7.1,7.1 0 0 1 0,14.2z"/>
<circle class="cb" cx="344.8" cy="2271.7" r="7.1"/>
<path class="fb" d="M344.8,2264.6a7.1,7.1 0 0 1 0,14.2z"/>
<circle class="cb" cx="359.9" cy="2273.5" r="7.1"/>
<path class="fb" d="M359.9,2266.4a7.1,7.1 0 0 1 0,14.2z"/>
<circle class="cb" cx="375.0" cy="2267.4" r="7.1"/>
<path class="fb" d="M375.0,2260.3a7.1,7.1 0 0 1 0,14.2z"/>
<circle class="cb" cx="390.2" cy="2268.2" r="7.1"/>
<path class="fb" d="M390.2,2261.1a7.1,7.1 0 0 1 0,14.2z"/>
<circle class="cb" cx="405.3" cy="2268.6" r="7.1"/>
<path class="fb" d="M405.3,2261.5a7.1,7.1 0 0 1 0,14.2z"/>
<circle class="cb" cx="420.4" cy="2262.8" r="7.1"/>
<path class="fb" d="M420.4,2255.7a7.1,7.1 0 0 1 0,14.2z"/>
<circle class="cb" cx="435.5" cy="2256.4" r="7.1"/>
<path class="fb" d="M435.5,2249.3a7.1,7.1 0 0 1 0,14.2z"/>
<circle class="cb" cx="450.6" cy="2258.8" r="7.1"/>
<path class="fb" d="M450.6,2251.7a7.1,7.1 0 0 1 0,14.2z"/>
<circle class="cb" cx="465.7" cy="2244.8" r="7.1"/>
<path class="fb" d="M465.7,2237.7a7.1,7.1 0 0 1 0,14.2z"/>
<circle class="cb" cx="480.8" cy="2234.7" r="7.1"/>
<path class="fb" d="M480.8,2227.6a7.1,7.1 0 0 1 0,14.2z"/>
<circle class="cb" cx="495.9" cy="2228.1" r="7.1"/>
<path class="fb" d="M495.9,2221.0a7.1,7.1 0 0 1 0,14.2z"/>
<circle class="cb" cx="511.0" cy="2216.6" r="7.1"/>
<path class="fb" d="M511.0,2209.5a7.1,7.1 0 0 1 0,14.2z"/>
<circle class="cb" cx="526.1" cy="2207.6" r="7.1"/>
<path class="fb" d="M526.1,2200.5a7.1,7.1 0 0 1 0,14.2z"/>
<circle class="cb" cx="541.3" cy="2198.7" r="7.1"/>
<path class="fb" d="M541.3,2191.6a7.1,7.1 0 0 1 0,14.2z"/>
<circle class="cb" cx="556.4" cy="2198.5" r="7.1"/>
<path class="fb" d="M556.4,2191.4a7.1,7.1 0 0 1 0,14.2z"/>
<circle class="cb" cx="571.5" cy="2185.7" r="7.1"/>
<path class="fb" d="M571.5,2178.6a7.1,7.1 0 0 1 0,14.2z"/>
<circle class="cb" cx="586.6" cy="2182.0" r="7.1"/>
<path class="fb" d="M586.6,2174.9a7.1,7.1 0 0 1 0,14.2z"/>
<circle class="cb" cx="601.7" cy="2181.7" r="7.1"/>
<path class="fb" d="M601.7,2174.6a7.1,7.1 0 0 1 0,14.2z"/>
<circle class="cb" cx="616.8" cy="2186.6" r="7.1"/>
<path class="fb" d="M616.8,2179.5a7.1,7.1 0 0 1 0,14.2z"/>
<circle class="cb" cx="631.9" cy="2182.5" r="7.1"/>
<path class="fb" d="M631.9,2175.4a7.1,7.1 0 0 1 0,14.2z"/>
<circle class="cb" cx="647.0" cy="2186.5" r="7.1"/>
<path class="fb" d="M647.0,2179.4a7.1,7.1 0 0 1 0,14.2z"/>
<circle class="cb" cx="662.1" cy="2203.5" r="7.1"/>
<path class="fb" d="M662.1,2196.4a7.1,7.1 0 0 1 0,14.2z"/>
<circle class="cb" cx="677.2" cy="2199.3" r="7.1"/>
<path class="fb" d="M677.2,2192.2a7.1,7.1 0 0 1 0,14.2z"/>
<circle class="cb" cx="692.4" cy="2211.9" r="7.1"/>
<path class="fb" d="M692.4,2204.8a7.1,7.1 0 0 1 0,14.2z"/>
<circle class="cb" cx="707.5" cy="2224.5" r="7.1"/>
<path class="fb" d="M707.5,2217.4a7.1,7.1 0 0 1 0,14.2z"/>
<circle class="cb" cx="722.6" cy="2238.6" r="7.1"/>
<path class="fb" d="M722.6,2231.5a7.1,7.1 0 0 1 0,14.2z"/>
<circle class="cb" cx="737.7" cy="2236.4" r="7.1"/>
<path class="fb" d="M737.7,2229.3a7.1,7.1 0 0 1 0,14.2z"/>
<circle class="cb" cx="752.8" cy="2238.9" r="7.1"/>
<path class="fb" d="M752.8,2231.8a7.1,7.1 0 0 1 0,14.2z"/>
<circle class="cb" cx="767.9" cy="2254.8" r="7.1"/>
<path class="fb" d="M767.9,2247.7a7.1,7.1 0 0 1 0,14.2z"/>
<circle class="cb" cx="783.0" cy="2255.8" r="7.1"/>
<path class="fb" d="M783.0,2248.7a7.1,7.1 0 0 1 0,14.2z"/>
<circle class="cb" cx="798.1" cy="2259.8" r="7.1"/>
<path class="fb" d="M798.1,2252.7a7.1,7.1 0 0 1 0,14.2z"/>
<circle class="cb" cx="813.2" cy="2265.0" r="7.1"/>
<path class="fb" d="M813.2,2257.9a7.1,7.1 0 0 1 0,14.2z"/>
<circle class="cb" cx="828.3" cy="2265.8" r="7.1"/>
<path class="fb" d="M828.3,2258.7a7.1,7.1 0 0 1 0,14.2z"/>
<circle class="cb" cx="843.5" cy="2266.8" r="7.1"/>
<path class="fb" d="M843.5,2259.7a7.1,7.1 0 0 1 0,14.2z"/>
<circle class="cb" cx="858.6" cy="2264.7" r="7.1"/>
<path class="fb" d="M858.6,2257.6a7.1,7.1 0 0 1 0,14.2z"/>
<circle class="cb" cx="873.7" cy="2269.9" r="7.1"/>
<path class="fb" d="M873.7,2262.8a7.1,7.1 0 0 1 0,14.2z"/>
<circle class="cb" cx="888.8" cy="2270.1" r="7.1"/>
<path class="fb" d="M888.8,2263.0a7.1,7.1 0 0 1 0,14.2z"/>
<circle class="cb" cx="903.9" cy="2264.7" r="7.1"/>
<path class="fb" d="M903.9,2257.6a7.1,7.1 0 0 1 0,14.2z"/>
<circle class="cb" cx="919.0" cy="2262.4" r="7.1"/>
<path class="fb" d="M919.0,2255.3a7.1,7.1 0 0 1 0,14.2z"/>
<circle class="cb" cx="934.1" cy="2265.5" r="7.1"/>
<path class="fb" d="M934.1,2258.4a7.1,7.1 0 0 1 0,14.2z"/>
<circle class="cb" cx="949.2" cy="2264.1" r="7.1"/>
<path class="fb" d="M949.2,2257.0a7.1,7.1 0 0 1 0,14.2z"/>
<circle class="cb" cx="964.3" cy="2258.8" r="7.1"/>
<path class="fb" d="M964.3,2251.7a7.1,7.1 0 0 1 0,14.2z"/>
<circle class="cb" cx="979.4" cy="2260.5" r="7.1"/>
<path class="fb" d="M979.4,2253.4a7.1,7.1 0 0 1 0,14.2z"/>
<circle class="cb" cx="994.6" cy="2265.4" r="7.1"/>
<path class="fb" d="M994.6,2258.3a7.1,7.1 0 0 1 0,14.2z"/>
<circle class="cb" cx="1009.7" cy="2262.0" r="7.1"/>
<path class="fb" d="M1009.7,2254.9a7.1,7.1 0 0 1 0,14.2z"/>
<circle class="cb" cx="1024.8" cy="2261.8" r="7.1"/>
<path class="fb" d="M1024.8,2254.7a7.1,7.1 0 0 1 0,14.2z"/>
<circle class="cb" cx="1039.9" cy="2264.2" r="7.1"/>
<path class="fb" d="M1039.9,2257.1a7.1,7.1 0 0 1 0,14.2z"/>
<circle class="cb" cx="1055.0" cy="2264.3" r="7.1"/>
<path class="fb" d="M1055.0,2257.2a7.1,7.1 0 0 1 0,14.2z"/>
<circle class="cb" cx="1070.1" cy="2265.4" r="7.1"/>
<path class="fb" d="M1070.1,2258.3a7.1,7.1 0 0 1 0,14.2z"/>
<path d="M163.5,2276.0 L165.8,2276.0 L168.1,2276.0 L170.3,2276.0 L172.6,2276.0 L174.9,2276.0 L177.2,2276.0 L179.5,2276.0 L181.8,2276.0 L184.0,2276.0 L186.3,2276.0 L188.6,2276.0 L190.9,2276.0 L193.2,2276.0 L195.5,2276.0 L197.7,2276.0 L200.0,2276.0 L202.3,2276.0 L204.6,2276.0 L206.9,2276.0 L209.2,2276.0 L211.4,2276.0 L213.7,2276.0 L216.0,2276.0 L218.3,2276.0 L220.6,2276.0 L222.8,2276.0 L225.1,2276.0 L227.4,2276.0 L229.7,2276.0 L232.0,2276.0 L234.3,2276.0 L236.5,2276.0 L238.8,2276.0 L241.1,2276.0 L243.4,2275.9 L245.7,2275.9 L248.0,2275.9 L250.2,2275.9 L252.5,2275.9 L254.8,2275.9 L257.1,2275.9 L259.4,2275.9 L261.6,2275.9 L263.9,2275.9 L266.2,2275.9 L268.5,2275.9 L270.8,2275.8 L273.1,2275.8 L275.3,2275.8 L277.6,2275.8 L279.9,2275.8 L282.2,2275.8 L284.5,2275.7 L286.8,2275.7 L289.0,2275.7 L291.3,2275.7 L293.6,2275.6 L295.9,2275.6 L298.2,2275.6 L300.5,2275.5 L302.7,2275.5 L305.0,2275.5 L307.3,2275.4 L309.6,2275.4 L311.9,2275.3 L314.1,2275.3 L316.4,2275.2 L318.7,2275.2 L321.0,2275.1 L323.3,2275.0 L325.6,2274.9 L327.8,2274.9 L330.1,2274.8 L332.4,2274.7 L334.7,2274.6 L337.0,2274.5 L339.3,2274.4 L341.5,2274.3 L343.8,2274.1 L346.1,2274.0 L348.4,2273.9 L350.7,2273.7 L352.9,2273.5 L355.2,2273.4 L357.5,2273.2 L359.8,2273.0 L362.1,2272.8 L364.4,2272.6 L366.6,2272.4 L368.9,2272.2 L371.2,2271.9 L373.5,2271.6 L375.8,2271.4 L378.1,2271.1 L380.3,2270.8 L382.6,2270.5 L384.9,2270.1 L387.2,2269.8 L389.5,2269.4 L391.8,2269.0 L394.0,2268.6 L396.3,2268.2 L398.6,2267.8 L400.9,2267.3 L403.2,2266.9 L405.4,2266.4 L407.7,2265.8 L410.0,2265.3 L412.3,2264.7 L414.6,2264.2 L416.9,2263.6 L419.1,2262.9 L421.4,2262.3 L423.7,2261.6 L426.0,2260.9 L428.3,2260.2 L430.6,2259.4 L432.8,2258.6 L435.1,2257.8 L437.4,2257.0 L439.7,2256.2 L442.0,2255.3 L444.2,2254.4 L446.5,2253.5 L448.8,2252.5 L451.1,2251.5 L453.4,2250.5 L455.7,2249.5 L457.9,2248.4 L460.2,2247.4 L462.5,2246.2 L464.8,2245.1 L467.1,2244.0 L469.4,2242.8 L471.6,2241.6 L473.9,2240.4 L476.2,2239.1 L478.5,2237.9 L480.8,2236.6 L483.0,2235.3 L485.3,2233.9 L487.6,2232.6 L489.9,2231.3 L492.2,2229.9 L494.5,2228.5 L496.7,2227.1 L499.0,2225.7 L501.3,2224.3 L503.6,2222.9 L505.9,2221.5 L508.2,2220.0 L510.4,2218.6 L512.7,2217.2 L515.0,2215.7 L517.3,2214.3 L519.6,2212.9 L521.9,2211.5 L524.1,2210.0 L526.4,2208.6 L528.7,2207.2 L531.0,2205.9 L533.3,2204.5 L535.5,2203.1 L537.8,2201.8 L540.1,2200.5 L542.4,2199.2 L544.7,2198.0 L547.0,2196.7 L549.2,2195.5 L551.5,2194.4 L553.8,2193.2 L556.1,2192.1 L558.4,2191.0 L560.7,2190.0 L562.9,2189.0 L565.2,2188.1 L567.5,2187.2 L569.8,2186.3 L572.1,2185.5 L574.3,2184.7 L576.6,2184.0 L578.9,2183.3 L581.2,2182.7 L583.5,2182.1 L585.8,2181.6 L588.0,2181.2 L590.3,2180.8 L592.6,2180.4 L594.9,2180.1 L597.2,2179.9 L599.5,2179.7 L601.7,2179.6 L604.0,2179.5 L606.3,2179.5 L608.6,2179.6 L610.9,2179.7 L613.2,2179.8 L615.4,2180.1 L617.7,2180.3 L620.0,2180.7 L622.3,2181.1 L624.6,2181.5 L626.8,2182.0 L629.1,2182.6 L631.4,2183.2 L633.7,2183.9 L636.0,2184.6 L638.3,2185.3 L640.5,2186.1 L642.8,2187.0 L645.1,2187.9 L647.4,2188.8 L649.7,2189.8 L652.0,2190.8 L654.2,2191.9 L656.5,2193.0 L658.8,2194.1 L661.1,2195.3 L663.4,2196.5 L665.7,2197.7 L667.9,2199.0 L670.2,2200.3 L672.5,2201.6 L674.8,2202.9 L677.1,2204.2 L679.3,2205.6 L681.6,2207.0 L683.9,2208.4 L686.2,2209.8 L688.5,2211.2 L690.8,2212.6 L693.0,2214.0 L695.3,2215.4 L697.6,2216.9 L699.9,2218.3 L702.2,2219.7 L704.5,2221.2 L706.7,2222.6 L709.0,2224.0 L711.3,2225.4 L713.6,2226.8 L715.9,2228.2 L718.1,2229.6 L720.4,2231.0 L722.7,2232.3 L725.0,2233.7 L727.3,2235.0 L729.6,2236.3 L731.8,2237.6 L734.1,2238.9 L736.4,2240.1 L738.7,2241.3 L741.0,2242.5 L743.3,2243.7 L745.5,2244.9 L747.8,2246.0 L750.1,2247.1 L752.4,2248.2 L754.7,2249.3 L757.0,2250.3 L759.2,2251.3 L761.5,2252.3 L763.8,2253.3 L766.1,2254.2 L768.4,2255.1 L770.6,2256.0 L772.9,2256.9 L775.2,2257.7 L777.5,2258.5 L779.8,2259.3 L782.1,2260.0 L784.3,2260.8 L786.6,2261.5 L788.9,2262.1 L791.2,2262.8 L793.5,2263.4 L795.8,2264.0 L798.0,2264.6 L800.3,2265.2 L802.6,2265.7 L804.9,2266.3 L807.2,2266.8 L809.4,2267.2 L811.7,2267.7 L814.0,2268.1 L816.3,2268.6 L818.6,2269.0 L820.9,2269.4 L823.1,2269.7 L825.4,2270.1 L827.7,2270.4 L830.0,2270.7 L832.3,2271.0 L834.6,2271.3 L836.8,2271.6 L839.1,2271.9 L841.4,2272.1 L843.7,2272.3 L846.0,2272.6 L848.2,2272.8 L850.5,2273.0 L852.8,2273.2 L855.1,2273.3 L857.4,2273.5 L859.7,2273.7 L861.9,2273.8 L864.2,2274.0 L866.5,2274.1 L868.8,2274.2 L871.1,2274.3 L873.4,2274.5 L875.6,2274.6 L877.9,2274.7 L880.2,2274.8 L882.5,2274.8 L884.8,2274.9 L887.1,2275.0 L889.3,2275.1 L891.6,2275.1 L893.9,2275.2 L896.2,2275.3 L898.5,2275.3 L900.7,2275.4 L903.0,2275.4 L905.3,2275.5 L907.6,2275.5 L909.9,2275.5 L912.2,2275.6 L914.4,2275.6 L916.7,2275.6 L919.0,2275.7 L921.3,2275.7 L923.6,2275.7 L925.9,2275.7 L928.1,2275.8 L930.4,2275.8 L932.7,2275.8 L935.0,2275.8 L937.3,2275.8 L939.5,2275.8 L941.8,2275.9 L944.1,2275.9 L946.4,2275.9 L948.7,2275.9 L951.0,2275.9 L953.2,2275.9 L955.5,2275.9 L957.8,2275.9 L960.1,2275.9 L962.4,2275.9 L964.7,2275.9 L966.9,2275.9 L969.2,2276.0 L971.5,2276.0 L973.8,2276.0 L976.1,2276.0 L978.4,2276.0 L980.6,2276.0 L982.9,2276.0 L985.2,2276.0 L987.5,2276.0 L989.8,2276.0 L992.0,2276.0 L994.3,2276.0 L996.6,2276.0 L998.9,2276.0 L1001.2,2276.0 L1003.5,2276.0 L1005.7,2276.0 L1008.0,2276.0 L1010.3,2276.0 L1012.6,2276.0 L1014.9,2276.0 L1017.2,2276.0 L1019.4,2276.0 L1021.7,2276.0 L1024.0,2276.0 L1026.3,2276.0 L1028.6,2276.0 L1030.8,2276.0 L1033.1,2276.0 L1035.4,2276.0 L1037.7,2276.0 L1040.0,2276.0 L1042.3,2276.0 L1044.5,2276.0 L1046.8,2276.0 L1049.1,2276.0 L1051.4,2276.0 L1053.7,2276.0 L1056.0,2276.0 L1058.2,2276.0 L1060.5,2276.0 L1062.8,2276.0 L1065.1,2276.0 L1067.4,2276.0 L1069.7,2276.0 L1071.9,2276.0 L1074.2,2276.0 L1076.5,2276.0" fill="none" stroke="#0000ff" stroke-width="6.5" stroke-linejoin="round"/>
<circle class="cg" cx="163.5" cy="2407.1" r="7.1"/>
<path class="fg" d="M163.5,2400.0a7.1,7.1 0 0 1 0,14.2z"/>
<circle class="cg" cx="178.6" cy="2418.9" r="7.1"/>
<path class="fg" d="M178.6,2411.8a7.1,7.1 0 0 1 0,14.2z"/>
<circle class="cg" cx="193.7" cy="2413.9" r="7.1"/>
<path class="fg" d="M193.7,2406.8a7.1,7.1 0 0 1 0,14.2z"/>
<circle class="cg" cx="208.8" cy="2410.5" r="7.1"/>
<path class="fg" d="M208.8,2403.4a7.1,7.1 0 0 1 0,14.2z"/>
<circle class="cg" cx="223.9" cy="2416.4" r="7.1"/>
<path class="fg" d="M223.9,2409.3a7.1,7.1 0 0 1 0,14.2z"/>
<circle class="cg" cx="239.1" cy="2414.3" r="7.1"/>
<path class="fg" d="M239.1,2407.2a7.1,7.1 0 0 1 0,14.2z"/>
<circle class="cg" cx="254.2" cy="2413.4" r="7.1"/>
<path class="fg" d="M254.2,2406.3a7.1,7.1 0 0 1 0,14.2z"/>
<circle class="cg" cx="269.3" cy="2416.6" r="7.1"/>
<path class="fg" d="M269.3,2409.5a7.1,7.1 0 0 1 0,14.2z"/>
<circle class="cg" cx="284.4" cy="2420.5" r="7.1"/>
<path class="fg" d="M284.4,2413.4a7.1,7.1 0 0 1 0,14.2z"/>
<circle class="cg" cx="299.5" cy="2415.0" r="7.1"/>
<path class="fg" d="M299.5,2407.9a7.1,7.1 0 0 1 0,14.2z"/>
<circle class="cg" cx="314.6" cy="2418.3" r="7.1"/>
<path class="fg" d="M314.6,2411.2a7.1,7.1 0 0 1 0,14.2z"/>
<circle class="cg" cx="329.7" cy="2420.0" r="7.1"/>
<path class="fg" d="M329.7,2412.9a7.1,7.1 0 0 1 0,14.2z"/>
<circle class="cg" cx="344.8" cy="2409.6" r="7.1"/>
<path class="fg" d="M344.8,2402.5a7.1,7.1 0 0 1 0,14.2z"/>
<circle class="cg" cx="359.9" cy="2410.8" r="7.1"/>
<path class="fg" d="M359.9,2403.7a7.1,7.1 0 0 1 0,14.2z"/>
<circle class="cg" cx="375.0" cy="2414.4" r="7.1"/>
<path class="fg" d="M375.0,2407.3a7.1,7.1 0 0 1 0,14.2z"/>
<circle class="cg" cx="390.2" cy="2405.4" r="7.1"/>
<path class="fg" d="M390.2,2398.3a7.1,7.1 0 0 1 0,14.2z"/>
<circle class="cg" cx="405.3" cy="2408.5" r="7.1"/>
<path class="fg" d="M405.3,2401.4a7.1,7.1 0 0 1 0,14.2z"/>
<circle class="cg" cx="420.4" cy="2411.2" r="7.1"/>
<path class="fg" d="M420.4,2404.1a7.1,7.1 0 0 1 0,14.2z"/>
<circle class="cg" cx="435.5" cy="2407.0" r="7.1"/>
<path class="fg" d="M435.5,2399.9a7.1,7.1 0 0 1 0,14.2z"/>
<circle class="cg" cx="450.6" cy="2400.9" r="7.1"/>
<path class="fg" d="M450.6,2393.8a7.1,7.1 0 0 1 0,14.2z"/>
<circle class="cg" cx="465.7" cy="2386.8" r="7.1"/>
<path class="fg" d="M465.7,2379.7a7.1,7.1 0 0 1 0,14.2z"/>
<circle class="cg" cx="480.8" cy="2392.5" r="7.1"/>
<path class="fg" d="M480.8,2385.4a7.1,7.1 0 0 1 0,14.2z"/>
<circle class="cg" cx="495.9" cy="2377.2" r="7.1"/>
<path class="fg" d="M495.9,2370.1a7.1,7.1 0 0 1 0,14.2z"/>
<circle class="cg" cx="511.0" cy="2366.8" r="7.1"/>
<path class="fg" d="M511.0,2359.7a7.1,7.1 0 0 1 0,14.2z"/>
<circle class="cg" cx="526.1" cy="2353.6" r="7.1"/>
<path class="fg" d="M526.1,2346.5a7.1,7.1 0 0 1 0,14.2z"/>
<circle class="cg" cx="541.3" cy="2333.8" r="7.1"/>
<path class="fg" d="M541.3,2326.7a7.1,7.1 0 0 1 0,14.2z"/>
<circle class="cg" cx="556.4" cy="2322.3" r="7.1"/>
<path class="fg" d="M556.4,2315.2a7.1,7.1 0 0 1 0,14.2z"/>
<circle class="cg" cx="571.5" cy="2312.0" r="7.1"/>
<path class="fg" d="M571.5,2304.9a7.1,7.1 0 0 1 0,14.2z"/>
<circle class="cg" cx="586.6" cy="2313.2" r="7.1"/>
<path class="fg" d="M586.6,2306.1a7.1,7.1 0 0 1 0,14.2z"/>
<circle class="cg" cx="601.7" cy="2298.7" r="7.1"/>
<path class="fg" d="M601.7,2291.6a7.1,7.1 0 0 1 0,14.2z"/>
<circle class="cg" cx="616.8" cy="2298.5" r="7.1"/>
<path class="fg" d="M616.8,2291.4a7.1,7.1 0 0 1 0,14.2z"/>
<circle class="cg" cx="631.9" cy="2300.3" r="7.1"/>
<path class="fg" d="M631.9,2293.2a7.1,7.1 0 0 1 0,14.2z"/>
<circle class="cg" cx="647.0" cy="2308.4" r="7.1"/>
<path class="fg" d="M647.0,2301.3a7.1,7.1 0 0 1 0,14.2z"/>
<circle class="cg" cx="662.1" cy="2316.9" r="7.1"/>
<path class="fg" d="M662.1,2309.8a7.1,7.1 0 0 1 0,14.2z"/>
<circle class="cg" cx="677.2" cy="2327.1" r="7.1"/>
<path class="fg" d="M677.2,2320.0a7.1,7.1 0 0 1 0,14.2z"/>
<circle class="cg" cx="692.4" cy="2334.5" r="7.1"/>
<path class="fg" d="M692.4,2327.4a7.1,7.1 0 0 1 0,14.2z"/>
<circle class="cg" cx="707.5" cy="2341.2" r="7.1"/>
<path class="fg" d="M707.5,2334.1a7.1,7.1 0 0 1 0,14.2z"/>
<circle class="cg" cx="722.6" cy="2364.1" r="7.1"/>
<path class="fg" d="M722.6,2357.0a7.1,7.1 0 0 1 0,14.2z"/>
<circle class="cg" cx="737.7" cy="2375.5" r="7.1"/>
<path class="fg" d="M737.7,2368.4a7.1,7.1 0 0 1 0,14.2z"/>
<circle class="cg" cx="752.8" cy="2388.0" r="7.1"/>
<path class="fg" d="M752.8,2380.9a7.1,7.1 0 0 1 0,14.2z"/>
<circle class="cg" cx="767.9" cy="2391.1" r="7.1"/>
<path class="fg" d="M767.9,2384.0a7.1,7.1 0 0 1 0,14.2z"/>
<circle class="cg" cx="783.0" cy="2394.4" r="7.1"/>
<path class="fg" d="M783.0,2387.3a7.1,7.1 0 0 1 0,14.2z"/>
<circle class="cg" cx="798.1" cy="2400.1" r="7.1"/>
<path class="fg" d="M798.1,2393.0a7.1,7.1 0 0 1 0,14.2z"/>
<circle class="cg" cx="813.2" cy="2393.7" r="7.1"/>
<path class="fg" d="M813.2,2386.6a7.1,7.1 0 0 1 0,14.2z"/>
<circle class="cg" cx="828.3" cy="2392.8" r="7.1"/>
<path class="fg" d="M828.3,2385.7a7.1,7.1 0 0 1 0,14.2z"/>
<circle class="cg" cx="843.5" cy="2388.9" r="7.1"/>
<path class="fg" d="M843.5,2381.8a7.1,7.1 0 0 1 0,14.2z"/>
<circle class="cg" cx="858.6" cy="2388.7" r="7.1"/>
<path class="fg" d="M858.6,2381.6a7.1,7.1 0 0 1 0,14.2z"/>
<circle class="cg" cx="873.7" cy="2391.4" r="7.1"/>
<path class="fg" d="M873.7,2384.3a7.1,7.1 0 0 1 0,14.2z"/>
<circle class="cg" cx="888.8" cy="2386.3" r="7.1"/>
<path class="fg" d="M888.8,2379.2a7.1,7.1 0 0 1 0,14.2z"/>
<circle class="cg" cx="903.9" cy="2389.1" r="7.1"/>
<path class="fg" d="M903.9,2382.0a7.1,7.1 0 0 1 0,14.2z"/>
<circle class="cg" cx="919.0" cy="2389.6" r="7.1"/>
<path class="fg" d="M919.0,2382.5a7.1,7.1 0 0 1 0,14.2z"/>
<circle class="cg" cx="934.1" cy="2393.7" r="7.1"/>
<path class="fg" d="M934.1,2386.6a7.1,7.1 0 0 1 0,14.2z"/>
<circle class="cg" cx="949.2" cy="2394.8" r="7.1"/>
<path class="fg" d="M949.2,2387.7a7.1,7.1 0 0 1 0,14.2z"/>
<circle class="cg" cx="964.3" cy="2397.5" r="7.1"/>
<path class="fg" d="M964.3,2390.4a7.1,7.1 0 0 1 0,14.2z"/>
<circle class="cg" cx="979.4" cy="2391.8" r="7.1"/>
<path class="fg" d="M979.4,2384.7a7.1,7.1 0 0 1 0,14.2z"/>
<circle class="cg" cx="994.6" cy="2396.3" r="7.1"/>
<path class="fg" d="M994.6,2389.2a7.1,7.1 0 0 1 0,14.2z"/>
<circle class="cg" cx="1009.7" cy="2396.5" r="7.1"/>
<path class="fg" d="M1009.7,2389.4a7.1,7.1 0 0 1 0,14.2z"/>
<circle class="cg" cx="1024.8" cy="2404.3" r="7.1"/>
<path class="fg" d="M1024.8,2397.2a7.1,7.1 0 0 1 0,14.2z"/>
<circle class="cg" cx="1039.9" cy="2405.2" r="7.1"/>
<path class="fg" d="M1039.9,2398.1a7.1,7.1 0 0 1 0,14.2z"/>
<circle class="cg" cx="1055.0" cy="2408.6" r="7.1"/>
<path class="fg" d="M1055.0,2401.5a7.1,7.1 0 0 1 0,14.2z"/>
<circle class="cg" cx="1070.1" cy="2412.0" r="7.1"/>
<path class="fg" d="M1070.1,2404.9a7.1,7.1 0 0 1 0,14.2z"/>
<path d="M163.5,2413.3 L165.8,2413.3 L168.1,2413.3 L170.3,2413.3 L172.6,2413.3 L174.9,2413.3 L177.2,2413.3 L179.5,2413.3 L181.8,2413.3 L184.0,2413.3 L186.3,2413.3 L188.6,2413.3 L190.9,2413.3 L193.2,2413.3 L195.5,2413.3 L197.7,2413.3 L200.0,2413.3 L202.3,2413.3 L204.6,2413.3 L206.9,2413.3 L209.2,2413.3 L211.4,2413.3 L213.7,2413.3 L216.0,2413.3 L218.3,2413.3 L220.6,2413.3 L222.8,2413.3 L225.1,2413.3 L227.4,2413.3 L229.7,2413.3 L232.0,2413.3 L234.3,2413.3 L236.5,2413.3 L238.8,2413.3 L241.1,2413.3 L243.4,2413.3 L245.7,2413.3 L248.0,2413.3 L250.2,2413.3 L252.5,2413.3 L254.8,2413.3 L257.1,2413.3 L259.4,2413.3 L261.6,2413.3 L263.9,2413.3 L266.2,2413.3 L268.5,2413.3 L270.8,2413.3 L273.1,2413.3 L275.3,2413.3 L277.6,2413.3 L279.9,2413.3 L282.2,2413.3 L284.5,2413.3 L286.8,2413.3 L289.0,2413.3 L291.3,2413.3 L293.6,2413.3 L295.9,2413.2 L298.2,2413.2 L300.5,2413.2 L302.7,2413.2 L305.0,2413.2 L307.3,2413.2 L309.6,2413.2 L311.9,2413.2 L314.1,2413.2 L316.4,2413.2 L318.7,2413.2 L321.0,2413.1 L323.3,2413.1 L325.6,2413.1 L327.8,2413.1 L330.1,2413.1 L332.4,2413.0 L334.7,2413.0 L337.0,2413.0 L339.3,2412.9 L341.5,2412.9 L343.8,2412.9 L346.1,2412.8 L348.4,2412.8 L350.7,2412.7 L352.9,2412.7 L355.2,2412.6 L357.5,2412.6 L359.8,2412.5 L362.1,2412.4 L364.4,2412.3 L366.6,2412.3 L368.9,2412.2 L371.2,2412.1 L373.5,2412.0 L375.8,2411.8 L378.1,2411.7 L380.3,2411.6 L382.6,2411.4 L384.9,2411.3 L387.2,2411.1 L389.5,2411.0 L391.8,2410.8 L394.0,2410.6 L396.3,2410.3 L398.6,2410.1 L400.9,2409.9 L403.2,2409.6 L405.4,2409.3 L407.7,2409.0 L410.0,2408.7 L412.3,2408.4 L414.6,2408.0 L416.9,2407.7 L419.1,2407.3 L421.4,2406.8 L423.7,2406.4 L426.0,2405.9 L428.3,2405.4 L430.6,2404.9 L432.8,2404.4 L435.1,2403.8 L437.4,2403.2 L439.7,2402.5 L442.0,2401.9 L444.2,2401.2 L446.5,2400.4 L448.8,2399.7 L451.1,2398.9 L453.4,2398.0 L455.7,2397.2 L457.9,2396.2 L460.2,2395.3 L462.5,2394.3 L464.8,2393.3 L467.1,2392.2 L469.4,2391.1 L471.6,2390.0 L473.9,2388.8 L476.2,2387.6 L478.5,2386.3 L480.8,2385.0 L483.0,2383.7 L485.3,2382.3 L487.6,2380.9 L489.9,2379.4 L492.2,2378.0 L494.5,2376.4 L496.7,2374.9 L499.0,2373.3 L501.3,2371.6 L503.6,2370.0 L505.9,2368.3 L508.2,2366.5 L510.4,2364.8 L512.7,2363.0 L515.0,2361.2 L517.3,2359.3 L519.6,2357.5 L521.9,2355.6 L524.1,2353.7 L526.4,2351.8 L528.7,2349.9 L531.0,2348.0 L533.3,2346.1 L535.5,2344.1 L537.8,2342.2 L540.1,2340.3 L542.4,2338.4 L544.7,2336.4 L547.0,2334.5 L549.2,2332.7 L551.5,2330.8 L553.8,2329.0 L556.1,2327.1 L558.4,2325.4 L560.7,2323.6 L562.9,2321.9 L565.2,2320.2 L567.5,2318.6 L569.8,2317.0 L572.1,2315.5 L574.3,2314.0 L576.6,2312.5 L578.9,2311.2 L581.2,2309.9 L583.5,2308.6 L585.8,2307.5 L588.0,2306.4 L590.3,2305.3 L592.6,2304.4 L594.9,2303.5 L597.2,2302.7 L599.5,2302.0 L601.7,2301.3 L604.0,2300.8 L606.3,2300.3 L608.6,2299.9 L610.9,2299.6 L613.2,2299.4 L615.4,2299.3 L617.7,2299.3 L620.0,2299.4 L622.3,2299.5 L624.6,2299.8 L626.8,2300.1 L629.1,2300.5 L631.4,2301.0 L633.7,2301.6 L636.0,2302.3 L638.3,2303.0 L640.5,2303.8 L642.8,2304.7 L645.1,2305.7 L647.4,2306.8 L649.7,2307.9 L652.0,2309.1 L654.2,2310.4 L656.5,2311.7 L658.8,2313.1 L661.1,2314.6 L663.4,2316.1 L665.7,2317.6 L667.9,2319.2 L670.2,2320.9 L672.5,2322.6 L674.8,2324.3 L677.1,2326.1 L679.3,2327.9 L681.6,2329.7 L683.9,2331.5 L686.2,2333.4 L688.5,2335.3 L690.8,2337.2 L693.0,2339.1 L695.3,2341.0 L697.6,2343.0 L699.9,2344.9 L702.2,2346.8 L704.5,2348.8 L706.7,2350.7 L709.0,2352.6 L711.3,2354.5 L713.6,2356.4 L715.9,2358.2 L718.1,2360.1 L720.4,2361.9 L722.7,2363.7 L725.0,2365.5 L727.3,2367.2 L729.6,2368.9 L731.8,2370.6 L734.1,2372.3 L736.4,2373.9 L738.7,2375.5 L741.0,2377.0 L743.3,2378.6 L745.5,2380.0 L747.8,2381.5 L750.1,2382.9 L752.4,2384.2 L754.7,2385.6 L757.0,2386.8 L759.2,2388.1 L761.5,2389.3 L763.8,2390.4 L766.1,2391.6 L768.4,2392.7 L770.6,2393.7 L772.9,2394.7 L775.2,2395.7 L777.5,2396.6 L779.8,2397.5 L782.1,2398.4 L784.3,2399.2 L786.6,2400.0 L788.9,2400.7 L791.2,2401.5 L793.5,2402.1 L795.8,2402.8 L798.0,2403.4 L800.3,2404.0 L802.6,2404.6 L804.9,2405.1 L807.2,2405.6 L809.4,2406.1 L811.7,2406.6 L814.0,2407.0 L816.3,2407.4 L818.6,2407.8 L820.9,2408.2 L823.1,2408.5 L825.4,2408.8 L827.7,2409.2 L830.0,2409.4 L832.3,2409.7 L834.6,2410.0 L836.8,2410.2 L839.1,2410.4 L841.4,2410.6 L843.7,2410.8 L846.0,2411.0 L848.2,2411.2 L850.5,2411.4 L852.8,2411.5 L855.1,2411.6 L857.4,2411.8 L859.7,2411.9 L861.9,2412.0 L864.2,2412.1 L866.5,2412.2 L868.8,2412.3 L871.1,2412.4 L873.4,2412.5 L875.6,2412.5 L877.9,2412.6 L880.2,2412.7 L882.5,2412.7 L884.8,2412.8 L887.1,2412.8 L889.3,2412.9 L891.6,2412.9 L893.9,2412.9 L896.2,2413.0 L898.5,2413.0 L900.7,2413.0 L903.0,2413.0 L905.3,2413.1 L907.6,2413.1 L909.9,2413.1 L912.2,2413.1 L914.4,2413.1 L916.7,2413.2 L919.0,2413.2 L921.3,2413.2 L923.6,2413.2 L925.9,2413.2 L928.1,2413.2 L930.4,2413.2 L932.7,2413.2 L935.0,2413.2 L937.3,2413.2 L939.5,2413.3 L941.8,2413.3 L944.1,2413.3 L946.4,2413.3 L948.7,2413.3 L951.0,2413.3 L953.2,2413.3 L955.5,2413.3 L957.8,2413.3 L960.1,2413.3 L962.4,2413.3 L964.7,2413.3 L966.9,2413.3 L969.2,2413.3 L971.5,2413.3 L973.8,2413.3 L976.1,2413.3 L978.4,2413.3 L980.6,2413.3 L982.9,2413.3 L985.2,2413.3 L987.5,2413.3 L989.8,2413.3 L992.0,2413.3 L994.3,2413.3 L996.6,2413.3 L998.9,2413.3 L1001.2,2413.3 L1003.5,2413.3 L1005.7,2413.3 L1008.0,2413.3 L1010.3,2413.3 L1012.6,2413.3 L1014.9,2413.3 L1017.2,2413.3 L1019.4,2413.3 L1021.7,2413.3 L1024.0,2413.3 L1026.3,2413.3 L1028.6,2413.3 L1030.8,2413.3 L1033.1,2413.3 L1035.4,2413.3 L1037.7,2413.3 L1040.0,2413.3 L1042.3,2413.3 L1044.5,2413.3 L1046.8,2413.3 L1049.1,2413.3 L1051.4,2413.3 L1053.7,2413.3 L1056.0,2413.3 L1058.2,2413.3 L1060.5,2413.3 L1062.8,2413.3 L1065.1,2413.3 L1067.4,2413.3 L1069.7,2413.3 L1071.9,2413.3 L1074.2,2413.3 L1076.5,2413.3" fill="none" stroke="#00ff00" stroke-width="6.5" stroke-linejoin="round"/>
<circle class="cr" cx="163.5" cy="2581.0" r="7.1"/>
<path class="fr" d="M163.5,2573.9a7.1,7.1 0 0 1 0,14.2z"/>
<circle class="cr" cx="178.6" cy="2585.4" r="7.1"/>
<path class="fr" d="M178.6,2578.3a7.1,7.1 0 0 1 0,14.2z"/>
<circle class="cr" cx="193.7" cy="2588.3" r="7.1"/>
<path class="fr" d="M193.7,2581.2a7.1,7.1 0 0 1 0,14.2z"/>
<circle class="cr" cx="208.8" cy="2582.0" r="7.1"/>
<path class="fr" d="M208.8,2574.9a7.1,7.1 0 0 1 0,14.2z"/>
<circle class="cr" cx="223.9" cy="2585.5" r="7.1"/>
<path class="fr" d="M223.9,2578.4a7.1,7.1 0 0 1 0,14.2z"/>
<circle class="cr" cx="239.1" cy="2581.4" r="7.1"/>
<path class="fr" d="M239.1,2574.3a7.1,7.1 0 0 1 0,14.2z"/>
<circle class="cr" cx="254.2" cy="2576.7" r="7.1"/>
<path class="fr" d="M254.2,2569.6a7.1,7.1 0 0 1 0,14.2z"/>
<circle class="cr" cx="269.3" cy="2582.2" r="7.1"/>
<path class="fr" d="M269.3,2575.1a7.1,7.1 0 0 1 0,14.2z"/>
<circle class="cr" cx="284.4" cy="2579.0" r="7.1"/>
<path class="fr" d="M284.4,2571.9a7.1,7.1 0 0 1 0,14.2z"/>
<circle class="cr" cx="299.5" cy="2581.8" r="7.1"/>
<path class="fr" d="M299.5,2574.7a7.1,7.1 0 0 1 0,14.2z"/>
<circle class="cr" cx="314.6" cy="2579.6" r="7.1"/>
<path class="fr" d="M314.6,2572.5a7.1,7.1 0 0 1 0,14.2z"/>
<circle class="cr" cx="329.7" cy="2581.5" r="7.1"/>
<path class="fr" d="M329.7,2574.4a7.1,7.1 0 0 1 0,14.2z"/>
<circle class="cr" cx="344.8" cy="2572.7" r="7.1"/>
<path class="fr" d="M344.8,2565.6a7.1,7.1 0 0 1 0,14.2z"/>
<circle class="cr" cx="359.9" cy="2584.8" r="7.1"/>
<path class="fr" d="M359.9,2577.7a7.1,7.1 0 0 1 0,14.2z"/>
<circle class="cr" cx="375.0" cy="2580.4" r="7.1"/>
<path class="fr" d="M375.0,2573.3a7.1,7.1 0 0 1 0,14.2z"/>
<circle class="cr" cx="390.2" cy="2572.1" r="7.1"/>
<path class="fr" d="M390.2,2565.0a7.1,7.1 0 0 1 0,14.2z"/>
<circle class="cr" cx="405.3" cy="2566.5" r="7.1"/>
<path class="fr" d="M405.3,2559.4a7.1,7.1 0 0 1 0,14.2z"/>
<circle class="cr" cx="420.4" cy="2564.3" r="7.1"/>
<path class="fr" d="M420.4,2557.2a7.1,7.1 0 0 1 0,14.2z"/>
<circle class="cr" cx="435.5" cy="2560.0" r="7.1"/>
<path class="fr" d="M435.5,2552.9a7.1,7.1 0 0 1 0,14.2z"/>
<circle class="cr" cx="450.6" cy="2551.2" r="7.1"/>
<path class="fr" d="M450.6,2544.1a7.1,7.1 0 0 1 0,14.2z"/>
<circle class="cr" cx="465.7" cy="2541.7" r="7.1"/>
<path class="fr" d="M465.7,2534.6a7.1,7.1 0 0 1 0,14.2z"/>
<circle class="cr" cx="480.8" cy="2523.2" r="7.1"/>
<path class="fr" d="M480.8,2516.1a7.1,7.1 0 0 1 0,14.2z"/>
<circle class="cr" cx="495.9" cy="2513.9" r="7.1"/>
<path class="fr" d="M495.9,2506.8a7.1,7.1 0 0 1 0,14.2z"/>
<circle class="cr" cx="511.0" cy="2509.2" r="7.1"/>
<path class="fr" d="M511.0,2502.1a7.1,7.1 0 0 1 0,14.2z"/>
<circle class="cr" cx="526.1" cy="2492.9" r="7.1"/>
<path class="fr" d="M526.1,2485.8a7.1,7.1 0 0 1 0,14.2z"/>
<circle class="cr" cx="541.3" cy="2475.2" r="7.1"/>
<path class="fr" d="M541.3,2468.1a7.1,7.1 0 0 1 0,14.2z"/>
<circle class="cr" cx="556.4" cy="2466.6" r="7.1"/>
<path class="fr" d="M556.4,2459.5a7.1,7.1 0 0 1 0,14.2z"/>
<circle class="cr" cx="571.5" cy="2456.2" r="7.1"/>
<path class="fr" d="M571.5,2449.1a7.1,7.1 0 0 1 0,14.2z"/>
<circle class="cr" cx="586.6" cy="2451.8" r="7.1"/>
<path class="fr" d="M586.6,2444.7a7.1,7.1 0 0 1 0,14.2z"/>
<circle class="cr" cx="601.7" cy="2456.2" r="7.1"/>
<path class="fr" d="M601.7,2449.1a7.1,7.1 0 0 1 0,14.2z"/>
<circle class="cr" cx="616.8" cy="2452.6" r="7.1"/>
<path class="fr" d="M616.8,2445.5a7.1,7.1 0 0 1 0,14.2z"/>
<circle class="cr" cx="631.9" cy="2461.0" r="7.1"/>
<path class="fr" d="M631.9,2453.9a7.1,7.1 0 0 1 0,14.2z"/>
<circle class="cr" cx="647.0" cy="2465.1" r="7.1"/>
<path class="fr" d="M647.0,2458.0a7.1,7.1 0 0 1 0,14.2z"/>
<circle class="cr" cx="662.1" cy="2469.1" r="7.1"/>
<path class="fr" d="M662.1,2462.0a7.1,7.1 0 0 1 0,14.2z"/>
<circle class="cr" cx="677.2" cy="2483.1" r="7.1"/>
<path class="fr" d="M677.2,2476.0a7.1,7.1 0 0 1 0,14.2z"/>
<circle class="cr" cx="692.4" cy="2504.8" r="7.1"/>
<path class="fr" d="M692.4,2497.7a7.1,7.1 0 0 1 0,14.2z"/>
<circle class="cr" cx="707.5" cy="2507.2" r="7.1"/>
<path class="fr" d="M707.5,2500.1a7.1,7.1 0 0 1 0,14.2z"/>
<circle class="cr" cx="722.6" cy="2518.2" r="7.1"/>
<path class="fr" d="M722.6,2511.1a7.1,7.1 0 0 1 0,14.2z"/>
<circle class="cr" cx="737.7" cy="2536.4" r="7.1"/>
<path class="fr" d="M737.7,2529.3a7.1,7.1 0 0 1 0,14.2z"/>
<circle class="cr" cx="752.8" cy="2542.0" r="7.1"/>
<path class="fr" d="M752.8,2534.9a7.1,7.1 0 0 1 0,14.2z"/>
<circle class="cr" cx="767.9" cy="2549.5" r="7.1"/>
<path class="fr" d="M767.9,2542.4a7.1,7.1 0 0 1 0,14.2z"/>
<circle class="cr" cx="783.0" cy="2560.3" r="7.1"/>
<path class="fr" d="M783.0,2553.2a7.1,7.1 0 0 1 0,14.2z"/>
<circle class="cr" cx="798.1" cy="2554.3" r="7.1"/>
<path class="fr" d="M798.1,2547.2a7.1,7.1 0 0 1 0,14.2z"/>
<circle class="cr" cx="813.2" cy="2564.4" r="7.1"/>
<path class="fr" d="M813.2,2557.3a7.1,7.1 0 0 1 0,14.2z"/>
<circle class="cr" cx="828.3" cy="2561.4" r="7.1"/>
<path class="fr" d="M828.3,2554.3a7.1,7.1 0 0 1 0,14.2z"/>
<circle class="cr" cx="843.5" cy="2561.0" r="7.1"/>
<path class="fr" d="M843.5,2553.9a7.1,7.1 0 0 1 0,14.2z"/>
<circle class="cr" cx="858.6" cy="2563.0" r="7.1"/>
<path class="fr" d="M858.6,2555.9a7.1,7.1 0 0 1 0,14.2z"/>
<circle class="cr" cx="873.7" cy="2569.0" r="7.1"/>
<path class="fr" d="M873.7,2561.9a7.1,7.1 0 0 1 0,14.2z"/>
<circle class="cr" cx="888.8" cy="2564.1" r="7.1"/>
<path class="fr" d="M888.8,2557.0a7.1,7.1 0 0 1 0,14.2z"/>
<circle class="cr" cx="903.9" cy="2557.7" r="7.1"/>
<path class="fr" d="M903.9,2550.6a7.1,7.1 0 0 1 0,14.2z"/>
<circle class="cr" cx="919.0" cy="2559.3" r="7.1"/>
<path class="fr" d="M919.0,2552.2a7.1,7.1 0 0 1 0,14.2z"/>
<circle class="cr" cx="934.1" cy="2567.3" r="7.1"/>
<path class="fr" d="M934.1,2560.2a7.1,7.1 0 0 1 0,14.2z"/>
<circle class="cr" cx="949.2" cy="2565.3" r="7.1"/>
<path class="fr" d="M949.2,2558.2a7.1,7.1 0 0 1 0,14.2z"/>
<circle class="cr" cx="964.3" cy="2558.4" r="7.1"/>
<path class="fr" d="M964.3,2551.3a7.1,7.1 0 0 1 0,14.2z"/>
<circle class="cr" cx="979.4" cy="2570.1" r="7.1"/>
<path class="fr" d="M979.4,2563.0a7.1,7.1 0 0 1 0,14.2z"/>
<circle class="cr" cx="994.6" cy="2561.6" r="7.1"/>
<path class="fr" d="M994.6,2554.5a7.1,7.1 0 0 1 0,14.2z"/>
<circle class="cr" cx="1009.7" cy="2559.7" r="7.1"/>
<path class="fr" d="M1009.7,2552.6a7.1,7.1 0 0 1 0,14.2z"/>
<circle class="cr" cx="1024.8" cy="2564.3" r="7.1"/>
<path class="fr" d="M1024.8,2557.2a7.1,7.1 0 0 1 0,14.2z"/>
<circle class="cr" cx="1039.9" cy="2569.2" r="7.1"/>
<path class="fr" d="M1039.9,2562.1a7.1,7.1 0 0 1 0,14.2z"/>
<circle class="cr" cx="1055.0" cy="2572.9" r="7.1"/>
<path class="fr" d="M1055.0,2565.8a7.1,7.1 0 0 1 0,14.2z"/>
<circle class="cr" cx="1070.1" cy="2572.6" r="7.1"/>
<path class="fr" d="M1070.1,2565.5a7.1,7.1 0 0 1 0,14.2z"/>
<path d="M163.5,2582.0 L165.8,2582.0 L168.1,2582.0 L170.3,2582.0 L172.6,2582.0 L174.9,2582.0 L177.2,2582.0 L179.5,2582.0 L181.8,2582.0 L184.0,2582.0 L186.3,2582.0 L188.6,2582.0 L190.9,2582.0 L193.2,2582.0 L195.5,2582.0 L197.7,2582.0 L200.0,2582.0 L202.3,2582.0 L204.6,2582.0 L206.9,2582.0 L209.2,2582.0 L211.4,2582.0 L213.7,2582.0 L216.0,2582.0 L218.3,2582.0 L220.6,2582.0 L222.8,2582.0 L225.1,2582.0 L227.4,2582.0 L229.7,2582.0 L232.0,2582.0 L234.3,2582.0 L236.5,2582.0 L238.8,2581.9 L241.1,2581.9 L243.4,2581.9 L245.7,2581.9 L248.0,2581.9 L250.2,2581.9 L252.5,2581.9 L254.8,2581.9 L257.1,2581.9 L259.4,2581.9 L261.6,2581.9 L263.9,2581.9 L266.2,2581.8 L268.5,2581.8 L270.8,2581.8 L273.1,2581.8 L275.3,2581.8 L277.6,2581.8 L279.9,2581.7 L282.2,2581.7 L284.5,2581.7 L286.8,2581.6 L289.0,2581.6 L291.3,2581.6 L293.6,2581.5 L295.9,2581.5 L298.2,2581.5 L300.5,2581.4 L302.7,2581.4 L305.0,2581.3 L307.3,2581.3 L309.6,2581.2 L311.9,2581.1 L314.1,2581.1 L316.4,2581.0 L318.7,2580.9 L321.0,2580.8 L323.3,2580.7 L325.6,2580.6 L327.8,2580.5 L330.1,2580.4 L332.4,2580.3 L334.7,2580.2 L337.0,2580.0 L339.3,2579.9 L341.5,2579.7 L343.8,2579.6 L346.1,2579.4 L348.4,2579.2 L350.7,2579.0 L352.9,2578.8 L355.2,2578.6 L357.5,2578.4 L359.8,2578.1 L362.1,2577.9 L364.4,2577.6 L366.6,2577.3 L368.9,2577.0 L371.2,2576.7 L373.5,2576.3 L375.8,2576.0 L378.1,2575.6 L380.3,2575.2 L382.6,2574.8 L384.9,2574.4 L387.2,2573.9 L389.5,2573.4 L391.8,2572.9 L394.0,2572.4 L396.3,2571.8 L398.6,2571.2 L400.9,2570.6 L403.2,2570.0 L405.4,2569.4 L407.7,2568.7 L410.0,2568.0 L412.3,2567.2 L414.6,2566.4 L416.9,2565.6 L419.1,2564.8 L421.4,2563.9 L423.7,2563.0 L426.0,2562.1 L428.3,2561.1 L430.6,2560.1 L432.8,2559.1 L435.1,2558.0 L437.4,2556.9 L439.7,2555.8 L442.0,2554.6 L444.2,2553.4 L446.5,2552.2 L448.8,2550.9 L451.1,2549.6 L453.4,2548.3 L455.7,2546.9 L457.9,2545.5 L460.2,2544.0 L462.5,2542.5 L464.8,2541.0 L467.1,2539.5 L469.4,2537.9 L471.6,2536.3 L473.9,2534.6 L476.2,2533.0 L478.5,2531.3 L480.8,2529.6 L483.0,2527.8 L485.3,2526.0 L487.6,2524.2 L489.9,2522.4 L492.2,2520.6 L494.5,2518.7 L496.7,2516.8 L499.0,2515.0 L501.3,2513.1 L503.6,2511.1 L505.9,2509.2 L508.2,2507.3 L510.4,2505.4 L512.7,2503.4 L515.0,2501.5 L517.3,2499.6 L519.6,2497.6 L521.9,2495.7 L524.1,2493.8 L526.4,2491.9 L528.7,2490.0 L531.0,2488.2 L533.3,2486.3 L535.5,2484.5 L537.8,2482.7 L540.1,2480.9 L542.4,2479.2 L544.7,2477.5 L547.0,2475.8 L549.2,2474.2 L551.5,2472.6 L553.8,2471.1 L556.1,2469.6 L558.4,2468.1 L560.7,2466.7 L562.9,2465.4 L565.2,2464.1 L567.5,2462.9 L569.8,2461.7 L572.1,2460.6 L574.3,2459.6 L576.6,2458.6 L578.9,2457.7 L581.2,2456.8 L583.5,2456.1 L585.8,2455.4 L588.0,2454.7 L590.3,2454.2 L592.6,2453.7 L594.9,2453.3 L597.2,2453.0 L599.5,2452.8 L601.7,2452.6 L604.0,2452.5 L606.3,2452.5 L608.6,2452.6 L610.9,2452.7 L613.2,2453.0 L615.4,2453.3 L617.7,2453.6 L620.0,2454.1 L622.3,2454.6 L624.6,2455.2 L626.8,2455.9 L629.1,2456.7 L631.4,2457.5 L633.7,2458.4 L636.0,2459.4 L638.3,2460.4 L640.5,2461.5 L642.8,2462.6 L645.1,2463.9 L647.4,2465.1 L649.7,2466.5 L652.0,2467.9 L654.2,2469.3 L656.5,2470.8 L658.8,2472.3 L661.1,2473.9 L663.4,2475.5 L665.7,2477.2 L667.9,2478.9 L670.2,2480.6 L672.5,2482.4 L674.8,2484.1 L677.1,2486.0 L679.3,2487.8 L681.6,2489.7 L683.9,2491.5 L686.2,2493.4 L688.5,2495.3 L690.8,2497.3 L693.0,2499.2 L695.3,2501.1 L697.6,2503.0 L699.9,2505.0 L702.2,2506.9 L704.5,2508.8 L706.7,2510.8 L709.0,2512.7 L711.3,2514.6 L713.6,2516.5 L715.9,2518.3 L718.1,2520.2 L720.4,2522.0 L722.7,2523.9 L725.0,2525.7 L727.3,2527.5 L729.6,2529.2 L731.8,2530.9 L734.1,2532.6 L736.4,2534.3 L738.7,2536.0 L741.0,2537.6 L743.3,2539.2 L745.5,2540.7 L747.8,2542.2 L750.1,2543.7 L752.4,2545.2 L754.7,2546.6 L757.0,2548.0 L759.2,2549.3 L761.5,2550.7 L763.8,2551.9 L766.1,2553.2 L768.4,2554.4 L770.6,2555.6 L772.9,2556.7 L775.2,2557.8 L777.5,2558.9 L779.8,2559.9 L782.1,2560.9 L784.3,2561.9 L786.6,2562.9 L788.9,2563.8 L791.2,2564.6 L793.5,2565.5 L795.8,2566.3 L798.0,2567.1 L800.3,2567.8 L802.6,2568.5 L804.9,2569.2 L807.2,2569.9 L809.4,2570.5 L811.7,2571.1 L814.0,2571.7 L816.3,2572.3 L818.6,2572.8 L820.9,2573.3 L823.1,2573.8 L825.4,2574.3 L827.7,2574.7 L830.0,2575.1 L832.3,2575.5 L834.6,2575.9 L836.8,2576.3 L839.1,2576.6 L841.4,2576.9 L843.7,2577.2 L846.0,2577.5 L848.2,2577.8 L850.5,2578.1 L852.8,2578.3 L855.1,2578.6 L857.4,2578.8 L859.7,2579.0 L861.9,2579.2 L864.2,2579.4 L866.5,2579.6 L868.8,2579.7 L871.1,2579.9 L873.4,2580.0 L875.6,2580.2 L877.9,2580.3 L880.2,2580.4 L882.5,2580.5 L884.8,2580.6 L887.1,2580.7 L889.3,2580.8 L891.6,2580.9 L893.9,2581.0 L896.2,2581.1 L898.5,2581.1 L900.7,2581.2 L903.0,2581.3 L905.3,2581.3 L907.6,2581.4 L909.9,2581.4 L912.2,2581.5 L914.4,2581.5 L916.7,2581.5 L919.0,2581.6 L921.3,2581.6 L923.6,2581.6 L925.9,2581.7 L928.1,2581.7 L930.4,2581.7 L932.7,2581.7 L935.0,2581.8 L937.3,2581.8 L939.5,2581.8 L941.8,2581.8 L944.1,2581.8 L946.4,2581.9 L948.7,2581.9 L951.0,2581.9 L953.2,2581.9 L955.5,2581.9 L957.8,2581.9 L960.1,2581.9 L962.4,2581.9 L964.7,2581.9 L966.9,2581.9 L969.2,2581.9 L971.5,2581.9 L973.8,2582.0 L976.1,2582.0 L978.4,2582.0 L980.6,2582.0 L982.9,2582.0 L985.2,2582.0 L987.5,2582.0 L989.8,2582.0 L992.0,2582.0 L994.3,2582.0 L996.6,2582.0 L998.9,2582.0 L1001.2,2582.0 L1003.5,2582.0 L1005.7,2582.0 L1008.0,2582.0 L1010.3,2582.0 L1012.6,2582.0 L1014.9,2582.0 L1017.2,2582.0 L1019.4,2582.0 L1021.7,2582.0 L1024.0,2582.0 L1026.3,2582.0 L1028.6,2582.0 L1030.8,2582.0 L1033.1,2582.0 L1035.4,2582.0 L1037.7,2582.0 L1040.0,2582.0 L1042.3,2582.0 L1044.5,2582.0 L1046.8,2582.0 L1049.1,2582.0 L1051.4,2582.0 L1053.7,2582.0 L1056.0,2582.0 L1058.2,2582.0 L1060.5,2582.0 L1062.8,2582.0 L1065.1,2582.0 L1067.4,2582.0 L1069.7,2582.0 L1071.9,2582.0 L1074.2,2582.0 L1076.5,2582.0" fill="none" stroke="#ff0000" stroke-width="6.5" stroke-linejoin="round"/>
<circle class="ck" cx="163.5" cy="2724.9" r="7.1"/>
<path class="fk" d="M163.5,2717.8a7.1,7.1 0 0 1 0,14.2z"/>
<circle class="ck" cx="178.6" cy="2724.5" r="7.1"/>
<path class="fk" d="M178.6,2717.4a7.1,7.1 0 0 1 0,14.2z"/>
<circle class="ck" cx="193.7" cy="2721.5" r="7.1"/>
<path class="fk" d="M193.7,2714.4a7.1,7.1 0 0 1 0,14.2z"/>
<circle class="ck" cx="208.8" cy="2726.1" r="7.1"/>
<path class="fk" d="M208.8,2719.0a7.1,7.1 0 0 1 0,14.2z"/>
<circle class="ck" cx="223.9" cy="2724.3" r="7.1"/>
<path class="fk" d="M223.9,2717.2a7.1,7.1 0 0 1 0,14.2z"/>
<circle class="ck" cx="239.1" cy="2727.1" r="7.1"/>
<path class="fk" d="M239.1,2720.0a7.1,7.1 0 0 1 0,14.2z"/>
<circle class="ck" cx="254.2" cy="2722.2" r="7.1"/>
<path class="fk" d="M254.2,2715.1a7.1,7.1 0 0 1 0,14.2z"/>
<circle class="ck" cx="269.3" cy="2724.6" r="7.1"/>
<path class="fk" d="M269.3,2717.5a7.1,7.1 0 0 1 0,14.2z"/>
<circle class="ck" cx="284.4" cy="2723.4" r="7.1"/>
<path class="fk" d="M284.4,2716.3a7.1,7.1 0 0 1 0,14.2z"/>
<circle class="ck" cx="299.5" cy="2722.3" r="7.1"/>
<path class="fk" d="M299.5,2715.2a7.1,7.1 0 0 1 0,14.2z"/>
<circle class="ck" cx="314.6" cy="2722.3" r="7.1"/>
<path class="fk" d="M314.6,2715.2a7.1,7.1 0 0 1 0,14.2z"/>
<circle class="ck" cx="329.7" cy="2722.8" r="7.1"/>
<path class="fk" d="M329.7,2715.7a7.1,7.1 0 0 1 0,14.2z"/>
<circle class="ck" cx="344.8" cy="2722.0" r="7.1"/>
<path class="fk" d="M344.8,2714.9a7.1,7.1 0 0 1 0,14.2z"/>
<circle class="ck" cx="359.9" cy="2727.4" r="7.1"/>
<path class="fk" d="M359.9,2720.3a7.1,7.1 0 0 1 0,14.2z"/>
<circle class="ck" cx="375.0" cy="2725.3" r="7.1"/>
<path class="fk" d="M375.0,2718.2a7.1,7.1 0 0 1 0,14.2z"/>
<circle class="ck" cx="390.2" cy="2719.7" r="7.1"/>
<path class="fk" d="M390.2,2712.6a7.1,7.1 0 0 1 0,14.2z"/>
<circle class="ck" cx="405.3" cy="2724.3" r="7.1"/>
<path class="fk" d="M405.3,2717.2a7.1,7.1 0 0 1 0,14.2z"/>
<circle class="ck" cx="420.4" cy="2721.3" r="7.1"/>
<path class="fk" d="M420.4,2714.2a7.1,7.1 0 0 1 0,14.2z"/>
<circle class="ck" cx="435.5" cy="2721.9" r="7.1"/>
<path class="fk" d="M435.5,2714.8a7.1,7.1 0 0 1 0,14.2z"/>
<circle class="ck" cx="450.6" cy="2712.0" r="7.1"/>
<path class="fk" d="M450.6,2704.9a7.1,7.1 0 0 1 0,14.2z"/>
<circle class="ck" cx="465.7" cy="2705.9" r="7.1"/>
<path class="fk" d="M465.7,2698.8a7.1,7.1 0 0 1 0,14.2z"/>
<circle class="ck" cx="480.8" cy="2696.5" r="7.1"/>
<path class="fk" d="M480.8,2689.4a7.1,7.1 0 0 1 0,14.2z"/>
<circle class="ck" cx="495.9" cy="2689.6" r="7.1"/>
<path class="fk" d="M495.9,2682.5a7.1,7.1 0 0 1 0,14.2z"/>
<circle class="ck" cx="511.0" cy="2679.6" r="7.1"/>
<path class="fk" d="M511.0,2672.5a7.1,7.1 0 0 1 0,14.2z"/>
<circle class="ck" cx="526.1" cy="2666.1" r="7.1"/>
<path class="fk" d="M526.1,2659.0a7.1,7.1 0 0 1 0,14.2z"/>
<circle class="ck" cx="541.3" cy="2651.7" r="7.1"/>
<path class="fk" d="M541.3,2644.6a7.1,7.1 0 0 1 0,14.2z"/>
<circle class="ck" cx="556.4" cy="2641.6" r="7.1"/>
<path class="fk" d="M556.4,2634.5a7.1,7.1 0 0 1 0,14.2z"/>
<circle class="ck" cx="571.5" cy="2628.5" r="7.1"/>
<path class="fk" d="M571.5,2621.4a7.1,7.1 0 0 1 0,14.2z"/>
<circle class="ck" cx="586.6" cy="2619.7" r="7.1"/>
<path class="fk" d="M586.6,2612.6a7.1,7.1 0 0 1 0,14.2z"/>
<circle class="ck" cx="601.7" cy="2609.6" r="7.1"/>
<path class="fk" d="M601.7,2602.5a7.1,7.1 0 0 1 0,14.2z"/>
<circle class="ck" cx="616.8" cy="2610.8" r="7.1"/>
<path class="fk" d="M616.8,2603.7a7.1,7.1 0 0 1 0,14.2z"/>
<circle class="ck" cx="631.9" cy="2608.2" r="7.1"/>
<path class="fk" d="M631.9,2601.1a7.1,7.1 0 0 1 0,14.2z"/>
<circle class="ck" cx="647.0" cy="2613.9" r="7.1"/>
<path class="fk" d="M647.0,2606.8a7.1,7.1 0 0 1 0,14.2z"/>
<circle class="ck" cx="662.1" cy="2625.6" r="7.1"/>
<path class="fk" d="M662.1,2618.5a7.1,7.1 0 0 1 0,14.2z"/>
<circle class="ck" cx="677.2" cy="2642.8" r="7.1"/>
<path class="fk" d="M677.2,2635.7a7.1,7.1 0 0 1 0,14.2z"/>
<circle class="ck" cx="692.4" cy="2651.4" r="7.1"/>
<path class="fk" d="M692.4,2644.3a7.1,7.1 0 0 1 0,14.2z"/>
<circle class="ck" cx="707.5" cy="2660.8" r="7.1"/>
<path class="fk" d="M707.5,2653.7a7.1,7.1 0 0 1 0,14.2z"/>
<circle class="ck" cx="722.6" cy="2672.4" r="7.1"/>
<path class="fk" d="M722.6,2665.3a7.1,7.1 0 0 1 0,14.2z"/>
<circle class="ck" cx="737.7" cy="2687.1" r="7.1"/>
<path class="fk" d="M737.7,2680.0a7.1,7.1 0 0 1 0,14.2z"/>
<circle class="ck" cx="752.8" cy="2697.7" r="7.1"/>
<path class="fk" d="M752.8,2690.6a7.1,7.1 0 0 1 0,14.2z"/>
<circle class="ck" cx="767.9" cy="2704.6" r="7.1"/>
<path class="fk" d="M767.9,2697.5a7.1,7.1 0 0 1 0,14.2z"/>
<circle class="ck" cx="783.0" cy="2705.6" r="7.1"/>
<path class="fk" d="M783.0,2698.5a7.1,7.1 0 0 1 0,14.2z"/>
<circle class="ck" cx="798.1" cy="2710.8" r="7.1"/>
<path class="fk" d="M798.1,2703.7a7.1,7.1 0 0 1 0,14.2z"/>
<circle class="ck" cx="813.2" cy="2711.6" r="7.1"/>
<path class="fk" d="M813.2,2704.5a7.1,7.1 0 0 1 0,14.2z"/>
<circle class="ck" cx="828.3" cy="2713.1" r="7.1"/>
<path class="fk" d="M828.3,2706.0a7.1,7.1 0 0 1 0,14.2z"/>
<circle class="ck" cx="843.5" cy="2711.9" r="7.1"/>
<path class="fk" d="M843.5,2704.8a7.1,7.1 0 0 1 0,14.2z"/>
<circle class="ck" cx="858.6" cy="2713.9" r="7.1"/>
<path class="fk" d="M858.6,2706.8a7.1,7.1 0 0 1 0,14.2z"/>
<circle class="ck" cx="873.7" cy="2707.4" r="7.1"/>
<path class="fk" d="M873.7,2700.3a7.1,7.1 0 0 1 0,14.2z"/>
<circle class="ck" cx="888.8" cy="2710.1" r="7.1"/>
<path class="fk" d="M888.8,2703.0a7.1,7.1 0 0 1 0,14.2z"/>
<circle class="ck" cx="903.9" cy="2715.1" r="7.1"/>
<path class="fk" d="M903.9,2708.0a7.1,7.1 0 0 1 0,14.2z"/>
<circle class="ck" cx="919.0" cy="2710.4" r="7.1"/>
<path class="fk" d="M919.0,2703.3a7.1,7.1 0 0 1 0,14.2z"/>
<circle class="ck" cx="934.1" cy="2715.0" r="7.1"/>
<path class="fk" d="M934.1,2707.9a7.1,7.1 0 0 1 0,14.2z"/>
<circle class="ck" cx="949.2" cy="2709.1" r="7.1"/>
<path class="fk" d="M949.2,2702.0a7.1,7.1 0 0 1 0,14.2z"/>
<circle class="ck" cx="964.3" cy="2712.4" r="7.1"/>
<path class="fk" d="M964.3,2705.3a7.1,7.1 0 0 1 0,14.2z"/>
<circle class="ck" cx="979.4" cy="2715.4" r="7.1"/>
<path class="fk" d="M979.4,2708.3a7.1,7.1 0 0 1 0,14.2z"/>
<circle class="ck" cx="994.6" cy="2711.3" r="7.1"/>
<path class="fk" d="M994.6,2704.2a7.1,7.1 0 0 1 0,14.2z"/>
<circle class="ck" cx="1009.7" cy="2713.2" r="7.1"/>
<path class="fk" d="M1009.7,2706.1a7.1,7.1 0 0 1 0,14.2z"/>
<circle class="ck" cx="1024.8" cy="2724.6" r="7.1"/>
<path class="fk" d="M1024.8,2717.5a7.1,7.1 0 0 1 0,14.2z"/>
<circle class="ck" cx="1039.9" cy="2715.2" r="7.1"/>
<path class="fk" d="M1039.9,2708.1a7.1,7.1 0 0 1 0,14.2z"/>
<circle class="ck" cx="1055.0" cy="2716.2" r="7.1"/>
<path class="fk" d="M1055.0,2709.1a7.1,7.1 0 0 1 0,14.2z"/>
<circle class="ck" cx="1070.1" cy="2717.7" r="7.1"/>
<path class="fk" d="M1070.1,2710.6a7.1,7.1 0 0 1 0,14.2z"/>
<path d="M163.5,2726.3 L165.8,2726.3 L168.1,2726.3 L170.3,2726.3 L172.6,2726.3 L174.9,2726.3 L177.2,2726.3 L179.5,2726.3 L181.8,2726.3 L184.0,2726.3 L186.3,2726.3 L188.6,2726.3 L190.9,2726.3 L193.2,2726.3 L195.5,2726.3 L197.7,2726.3 L200.0,2726.3 L202.3,2726.3 L204.6,2726.3 L206.9,2726.3 L209.2,2726.3 L211.4,2726.3 L213.7,2726.3 L216.0,2726.3 L218.3,2726.3 L220.6,2726.3 L222.8,2726.3 L225.1,2726.3 L227.4,2726.3 L229.7,2726.3 L232.0,2726.3 L234.3,2726.3 L236.5,2726.3 L238.8,2726.3 L241.1,2726.3 L243.4,2726.3 L245.7,2726.3 L248.0,2726.3 L250.2,2726.3 L252.5,2726.3 L254.8,2726.3 L257.1,2726.3 L259.4,2726.3 L261.6,2726.3 L263.9,2726.3 L266.2,2726.3 L268.5,2726.3 L270.8,2726.3 L273.1,2726.3 L275.3,2726.3 L277.6,2726.3 L279.9,2726.3 L282.2,2726.3 L284.5,2726.3 L286.8,2726.3 L289.0,2726.3 L291.3,2726.3 L293.6,2726.3 L295.9,2726.3 L298.2,2726.3 L300.5,2726.2 L302.7,2726.2 L305.0,2726.2 L307.3,2726.2 L309.6,2726.2 L311.9,2726.2 L314.1,2726.2 L316.4,2726.2 L318.7,2726.2 L321.0,2726.2 L323.3,2726.1 L325.6,2726.1 L327.8,2726.1 L330.1,2726.1 L332.4,2726.1 L334.7,2726.0 L337.0,2726.0 L339.3,2726.0 L341.5,2726.0 L343.8,2725.9 L346.1,2725.9 L348.4,2725.8 L350.7,2725.8 L352.9,2725.7 L355.2,2725.7 L357.5,2725.6 L359.8,2725.6 L362.1,2725.5 L364.4,2725.4 L366.6,2725.4 L368.9,2725.3 L371.2,2725.2 L373.5,2725.1 L375.8,2725.0 L378.1,2724.8 L380.3,2724.7 L382.6,2724.6 L384.9,2724.4 L387.2,2724.3 L389.5,2724.1 L391.8,2723.9 L394.0,2723.8 L396.3,2723.5 L398.6,2723.3 L400.9,2723.1 L403.2,2722.8 L405.4,2722.6 L407.7,2722.3 L410.0,2722.0 L412.3,2721.7 L414.6,2721.3 L416.9,2721.0 L419.1,2720.6 L421.4,2720.2 L423.7,2719.8 L426.0,2719.3 L428.3,2718.8 L430.6,2718.3 L432.8,2717.8 L435.1,2717.2 L437.4,2716.6 L439.7,2716.0 L442.0,2715.4 L444.2,2714.7 L446.5,2714.0 L448.8,2713.2 L451.1,2712.4 L453.4,2711.6 L455.7,2710.8 L457.9,2709.9 L460.2,2708.9 L462.5,2708.0 L464.8,2707.0 L467.1,2705.9 L469.4,2704.8 L471.6,2703.7 L473.9,2702.5 L476.2,2701.3 L478.5,2700.1 L480.8,2698.8 L483.0,2697.4 L485.3,2696.1 L487.6,2694.7 L489.9,2693.2 L492.2,2691.7 L494.5,2690.2 L496.7,2688.6 L499.0,2687.0 L501.3,2685.4 L503.6,2683.7 L505.9,2682.0 L508.2,2680.2 L510.4,2678.5 L512.7,2676.7 L515.0,2674.8 L517.3,2673.0 L519.6,2671.1 L521.9,2669.2 L524.1,2667.3 L526.4,2665.4 L528.7,2663.4 L531.0,2661.4 L533.3,2659.5 L535.5,2657.5 L537.8,2655.5 L540.1,2653.6 L542.4,2651.6 L544.7,2649.6 L547.0,2647.7 L549.2,2645.7 L551.5,2643.8 L553.8,2641.9 L556.1,2640.0 L558.4,2638.2 L560.7,2636.4 L562.9,2634.6 L565.2,2632.8 L567.5,2631.1 L569.8,2629.5 L572.1,2627.9 L574.3,2626.3 L576.6,2624.8 L578.9,2623.4 L581.2,2622.0 L583.5,2620.7 L585.8,2619.4 L588.0,2618.2 L590.3,2617.1 L592.6,2616.1 L594.9,2615.1 L597.2,2614.3 L599.5,2613.5 L601.7,2612.8 L604.0,2612.2 L606.3,2611.6 L608.6,2611.2 L610.9,2610.8 L613.2,2610.6 L615.4,2610.4 L617.7,2610.3 L620.0,2610.3 L622.3,2610.4 L624.6,2610.6 L626.8,2610.9 L629.1,2611.3 L631.4,2611.7 L633.7,2612.3 L636.0,2612.9 L638.3,2613.6 L640.5,2614.4 L642.8,2615.3 L645.1,2616.3 L647.4,2617.3 L649.7,2618.5 L652.0,2619.7 L654.2,2620.9 L656.5,2622.2 L658.8,2623.6 L661.1,2625.1 L663.4,2626.6 L665.7,2628.2 L667.9,2629.8 L670.2,2631.5 L672.5,2633.2 L674.8,2634.9 L677.1,2636.7 L679.3,2638.5 L681.6,2640.4 L683.9,2642.3 L686.2,2644.2 L688.5,2646.1 L690.8,2648.1 L693.0,2650.0 L695.3,2652.0 L697.6,2653.9 L699.9,2655.9 L702.2,2657.9 L704.5,2659.9 L706.7,2661.8 L709.0,2663.8 L711.3,2665.7 L713.6,2667.7 L715.9,2669.6 L718.1,2671.5 L720.4,2673.4 L722.7,2675.2 L725.0,2677.0 L727.3,2678.8 L729.6,2680.6 L731.8,2682.3 L734.1,2684.0 L736.4,2685.7 L738.7,2687.3 L741.0,2688.9 L743.3,2690.5 L745.5,2692.0 L747.8,2693.5 L750.1,2694.9 L752.4,2696.3 L754.7,2697.7 L757.0,2699.0 L759.2,2700.3 L761.5,2701.6 L763.8,2702.8 L766.1,2703.9 L768.4,2705.0 L770.6,2706.1 L772.9,2707.2 L775.2,2708.2 L777.5,2709.1 L779.8,2710.0 L782.1,2710.9 L784.3,2711.8 L786.6,2712.6 L788.9,2713.4 L791.2,2714.1 L793.5,2714.8 L795.8,2715.5 L798.0,2716.1 L800.3,2716.8 L802.6,2717.3 L804.9,2717.9 L807.2,2718.4 L809.4,2718.9 L811.7,2719.4 L814.0,2719.8 L816.3,2720.3 L818.6,2720.7 L820.9,2721.0 L823.1,2721.4 L825.4,2721.7 L827.7,2722.1 L830.0,2722.4 L832.3,2722.6 L834.6,2722.9 L836.8,2723.1 L839.1,2723.4 L841.4,2723.6 L843.7,2723.8 L846.0,2724.0 L848.2,2724.2 L850.5,2724.3 L852.8,2724.5 L855.1,2724.6 L857.4,2724.7 L859.7,2724.9 L861.9,2725.0 L864.2,2725.1 L866.5,2725.2 L868.8,2725.3 L871.1,2725.4 L873.4,2725.4 L875.6,2725.5 L877.9,2725.6 L880.2,2725.6 L882.5,2725.7 L884.8,2725.8 L887.1,2725.8 L889.3,2725.8 L891.6,2725.9 L893.9,2725.9 L896.2,2726.0 L898.5,2726.0 L900.7,2726.0 L903.0,2726.0 L905.3,2726.1 L907.6,2726.1 L909.9,2726.1 L912.2,2726.1 L914.4,2726.1 L916.7,2726.2 L919.0,2726.2 L921.3,2726.2 L923.6,2726.2 L925.9,2726.2 L928.1,2726.2 L930.4,2726.2 L932.7,2726.2 L935.0,2726.2 L937.3,2726.2 L939.5,2726.3 L941.8,2726.3 L944.1,2726.3 L946.4,2726.3 L948.7,2726.3 L951.0,2726.3 L953.2,2726.3 L955.5,2726.3 L957.8,2726.3 L960.1,2726.3 L962.4,2726.3 L964.7,2726.3 L966.9,2726.3 L969.2,2726.3 L971.5,2726.3 L973.8,2726.3 L976.1,2726.3 L978.4,2726.3 L980.6,2726.3 L982.9,2726.3 L985.2,2726.3 L987.5,2726.3 L989.8,2726.3 L992.0,2726.3 L994.3,2726.3 L996.6,2726.3 L998.9,2726.3 L1001.2,2726.3 L1003.5,2726.3 L1005.7,2726.3 L1008.0,2726.3 L1010.3,2726.3 L1012.6,2726.3 L1014.9,2726.3 L1017.2,2726.3 L1019.4,2726.3 L1021.7,2726.3 L1024.0,2726.3 L1026.3,2726.3 L1028.6,2726.3 L1030.8,2726.3 L1033.1,2726.3 L1035.4,2726.3 L1037.7,2726.3 L1040.0,2726.3 L1042.3,2726.3 L1044.5,2726.3 L1046.8,2726.3 L1049.1,2726.3 L1051.4,2726.3 L1053.7,2726.3 L1056.0,2726.3 L1058.2,2726.3 L1060.5,2726.3 L1062.8,2726.3 L1065.1,2726.3 L1067.4,2726.3 L1069.7,2726.3 L1071.9,2726.3 L1074.2,2726.3 L1076.5,2726.3" fill="none" stroke="#000000" stroke-width="6.5" stroke-linejoin="round"/>
<line x1="602.5" y1="2140.0" x2="602.5" y2="2739.0" stroke="#9a00c8" stroke-width="8" stroke-dasharray="9.8 7"/>
<rect x="163.5" y="2095.0" width="915.0" height="650.8" fill="none" stroke="#000" stroke-width="5.2" />
<line x1="163.5" y1="2745.8" x2="163.5" y2="2756.8" stroke="#000" stroke-width="5.2" />
<text x="163.5" y="2797.9" font-size="44" font-family="'Liberation Sans', sans-serif" fill="#000" text-anchor="middle" textLength="80.5" lengthAdjust="spacingAndGlyphs" stroke="#000" stroke-width="0.9">27.5</text>
<line x1="277.6" y1="2745.8" x2="277.6" y2="2752.3" stroke="#000" stroke-width="5.2" />
<line x1="391.8" y1="2745.8" x2="391.8" y2="2756.8" stroke="#000" stroke-width="5.2" />
<text x="391.8" y="2797.9" font-size="44" font-family="'Liberation Sans', sans-serif" fill="#000" text-anchor="middle" textLength="80.5" lengthAdjust="spacingAndGlyphs" stroke="#000" stroke-width="0.9">28.0</text>
<line x1="505.9" y1="2745.8" x2="505.9" y2="2752.3" stroke="#000" stroke-width="5.2" />
<line x1="620.0" y1="2745.8" x2="620.0" y2="2756.8" stroke="#000" stroke-width="5.2" />
<text x="620.0" y="2797.9" font-size="44" font-family="'Liberation Sans', sans-serif" fill="#000" text-anchor="middle" textLength="80.5" lengthAdjust="spacingAndGlyphs" stroke="#000" stroke-width="0.9">28.5</text>
<line x1="734.1" y1="2745.8" x2="734.1" y2="2752.3" stroke="#000" stroke-width="5.2" />
<line x1="848.2" y1="2745.8" x2="848.2" y2="2756.8" stroke="#000" stroke-width="5.2" />
<text x="848.2" y="2797.9" font-size="44" font-family="'Liberation Sans', sans-serif" fill="#000" text-anchor="middle" textLength="80.5" lengthAdjust="spacingAndGlyphs" stroke="#000" stroke-width="0.9">29.0</text>
<line x1="962.4" y1="2745.8" x2="962.4" y2="2752.3" stroke="#000" stroke-width="5.2" />
<line x1="1076.5" y1="2745.8" x2="1076.5" y2="2756.8" stroke="#000" stroke-width="5.2" />
<text x="1076.5" y="2797.9" font-size="44" font-family="'Liberation Sans', sans-serif" fill="#000" text-anchor="middle" textLength="80.5" lengthAdjust="spacingAndGlyphs" stroke="#000" stroke-width="0.9">29.5</text>
<text x="571.5" y="2864.8" font-size="43" font-family="'Liberation Sans', sans-serif" fill="#000" textLength="99" lengthAdjust="spacingAndGlyphs" stroke="#000" stroke-width="0.9">2θ (°)</text>
<text x="122.7" y="2415.0" font-size="43" font-family="'Liberation Sans', sans-serif" fill="#000" text-anchor="middle" textLength="464" lengthAdjust="spacingAndGlyphs" transform="rotate(-90 122.7 2415.0)" stroke="#000" stroke-width="0.9">Normalized intensity (a.u)</text>
<text x="186.0" y="2134.0" font-size="35" font-family="'Liberation Sans', sans-serif" fill="#000" textLength="89" lengthAdjust="spacingAndGlyphs" stroke="#000" stroke-width="0.9" style="white-space:pre">70 °C</text>
<text x="973.9" y="2233.8" font-size="38" font-family="'Liberation Sans', sans-serif" fill="#000" textLength="81.1" lengthAdjust="spacingAndGlyphs" stroke="#000" stroke-width="0.9" style="white-space:pre">Ψ=5°</text>
<text x="923.3" y="2370.1" font-size="38" font-family="'Liberation Sans', sans-serif" fill="#000" textLength="130.8" lengthAdjust="spacingAndGlyphs" stroke="#000" stroke-width="0.9" style="white-space:pre">Ψ=4.08°</text>
<text x="920.2" y="2536.8" font-size="38" font-family="'Liberation Sans', sans-serif" fill="#000" textLength="131.8" lengthAdjust="spacingAndGlyphs" stroke="#000" stroke-width="0.9" style="white-space:pre">Ψ=2.88°</text>
<text x="980.4" y="2682.0" font-size="37.5" font-family="'Liberation Sans', sans-serif" fill="#000" textLength="68.8" lengthAdjust="spacingAndGlyphs" stroke="#000" stroke-width="0.9" style="white-space:pre">Ψ=0</text>
<circle class="cb" cx="1239.4" cy="2271.4" r="7.1"/>
<path class="fb" d="M1239.4,2264.3a7.1,7.1 0 0 1 0,14.2z"/>
<circle class="cb" cx="1254.6" cy="2273.7" r="7.1"/>
<path class="fb" d="M1254.6,2266.6a7.1,7.1 0 0 1 0,14.2z"/>
<circle class="cb" cx="1269.7" cy="2271.5" r="7.1"/>
<path class="fb" d="M1269.7,2264.4a7.1,7.1 0 0 1 0,14.2z"/>
<circle class="cb" cx="1284.9" cy="2271.3" r="7.1"/>
<path class="fb" d="M1284.9,2264.2a7.1,7.1 0 0 1 0,14.2z"/>
<circle class="cb" cx="1300.0" cy="2269.4" r="7.1"/>
<path class="fb" d="M1300.0,2262.3a7.1,7.1 0 0 1 0,14.2z"/>
<circle class="cb" cx="1315.2" cy="2271.6" r="7.1"/>
<path class="fb" d="M1315.2,2264.5a7.1,7.1 0 0 1 0,14.2z"/>
<circle class="cb" cx="1330.4" cy="2275.5" r="7.1"/>
<path class="fb" d="M1330.4,2268.4a7.1,7.1 0 0 1 0,14.2z"/>
<circle class="cb" cx="1345.5" cy="2273.5" r="7.1"/>
<path class="fb" d="M1345.5,2266.4a7.1,7.1 0 0 1 0,14.2z"/>
<circle class="cb" cx="1360.7" cy="2275.3" r="7.1"/>
<path class="fb" d="M1360.7,2268.2a7.1,7.1 0 0 1 0,14.2z"/>
<circle class="cb" cx="1375.8" cy="2272.9" r="7.1"/>
<path class="fb" d="M1375.8,2265.8a7.1,7.1 0 0 1 0,14.2z"/>
<circle class="cb" cx="1391.0" cy="2273.4" r="7.1"/>
<path class="fb" d="M1391.0,2266.3a7.1,7.1 0 0 1 0,14.2z"/>
<circle class="cb" cx="1406.2" cy="2272.7" r="7.1"/>
<path class="fb" d="M1406.2,2265.6a7.1,7.1 0 0 1 0,14.2z"/>
<circle class="cb" cx="1421.3" cy="2267.1" r="7.1"/>
<path class="fb" d="M1421.3,2260.0a7.1,7.1 0 0 1 0,14.2z"/>
<circle class="cb" cx="1436.5" cy="2274.5" r="7.1"/>
<path class="fb" d="M1436.5,2267.4a7.1,7.1 0 0 1 0,14.2z"/>
<circle class="cb" cx="1451.6" cy="2273.0" r="7.1"/>
<path class="fb" d="M1451.6,2265.9a7.1,7.1 0 0 1 0,14.2z"/>
<circle class="cb" cx="1466.8" cy="2272.2" r="7.1"/>
<path class="fb" d="M1466.8,2265.1a7.1,7.1 0 0 1 0,14.2z"/>
<circle class="cb" cx="1482.0" cy="2264.2" r="7.1"/>
<path class="fb" d="M1482.0,2257.1a7.1,7.1 0 0 1 0,14.2z"/>
<circle class="cb" cx="1497.1" cy="2261.6" r="7.1"/>
<path class="fb" d="M1497.1,2254.5a7.1,7.1 0 0 1 0,14.2z"/>
<circle class="cb" cx="1512.3" cy="2260.1" r="7.1"/>
<path class="fb" d="M1512.3,2253.0a7.1,7.1 0 0 1 0,14.2z"/>
<circle class="cb" cx="1527.4" cy="2255.2" r="7.1"/>
<path class="fb" d="M1527.4,2248.1a7.1,7.1 0 0 1 0,14.2z"/>
<circle class="cb" cx="1542.6" cy="2248.9" r="7.1"/>
<path class="fb" d="M1542.6,2241.8a7.1,7.1 0 0 1 0,14.2z"/>
<circle class="cb" cx="1557.8" cy="2236.7" r="7.1"/>
<path class="fb" d="M1557.8,2229.6a7.1,7.1 0 0 1 0,14.2z"/>
<circle class="cb" cx="1572.9" cy="2225.1" r="7.1"/>
<path class="fb" d="M1572.9,2218.0a7.1,7.1 0 0 1 0,14.2z"/>
<circle class="cb" cx="1588.1" cy="2207.1" r="7.1"/>
<path class="fb" d="M1588.1,2200.0a7.1,7.1 0 0 1 0,14.2z"/>
<circle class="cb" cx="1603.2" cy="2196.0" r="7.1"/>
<path class="fb" d="M1603.2,2188.9a7.1,7.1 0 0 1 0,14.2z"/>
<circle class="cb" cx="1618.4" cy="2184.7" r="7.1"/>
<path class="fb" d="M1618.4,2177.6a7.1,7.1 0 0 1 0,14.2z"/>
<circle class="cb" cx="1633.6" cy="2174.2" r="7.1"/>
<path class="fb" d="M1633.6,2167.1a7.1,7.1 0 0 1 0,14.2z"/>
<circle class="cb" cx="1648.7" cy="2179.4" r="7.1"/>
<path class="fb" d="M1648.7,2172.3a7.1,7.1 0 0 1 0,14.2z"/>
<circle class="cb" cx="1663.9" cy="2179.8" r="7.1"/>
<path class="fb" d="M1663.9,2172.7a7.1,7.1 0 0 1 0,14.2z"/>
<circle class="cb" cx="1679.0" cy="2190.7" r="7.1"/>
<path class="fb" d="M1679.0,2183.6a7.1,7.1 0 0 1 0,14.2z"/>
<circle class="cb" cx="1694.2" cy="2197.9" r="7.1"/>
<path class="fb" d="M1694.2,2190.8a7.1,7.1 0 0 1 0,14.2z"/>
<circle class="cb" cx="1709.4" cy="2211.9" r="7.1"/>
<path class="fb" d="M1709.4,2204.8a7.1,7.1 0 0 1 0,14.2z"/>
<circle class="cb" cx="1724.5" cy="2227.3" r="7.1"/>
<path class="fb" d="M1724.5,2220.2a7.1,7.1 0 0 1 0,14.2z"/>
<circle class="cb" cx="1739.7" cy="2240.7" r="7.1"/>
<path class="fb" d="M1739.7,2233.6a7.1,7.1 0 0 1 0,14.2z"/>
<circle class="cb" cx="1754.8" cy="2253.2" r="7.1"/>
<path class="fb" d="M1754.8,2246.1a7.1,7.1 0 0 1 0,14.2z"/>
<circle class="cb" cx="1770.0" cy="2259.7" r="7.1"/>
<path class="fb" d="M1770.0,2252.6a7.1,7.1 0 0 1 0,14.2z"/>
<circle class="cb" cx="1785.2" cy="2263.0" r="7.1"/>
<path class="fb" d="M1785.2,2255.9a7.1,7.1 0 0 1 0,14.2z"/>
<circle class="cb" cx="1800.3" cy="2264.9" r="7.1"/>
<path class="fb" d="M1800.3,2257.8a7.1,7.1 0 0 1 0,14.2z"/>
<circle class="cb" cx="1815.5" cy="2268.3" r="7.1"/>
<path class="fb" d="M1815.5,2261.2a7.1,7.1 0 0 1 0,14.2z"/>
<circle class="cb" cx="1830.6" cy="2274.7" r="7.1"/>
<path class="fb" d="M1830.6,2267.6a7.1,7.1 0 0 1 0,14.2z"/>
<circle class="cb" cx="1845.8" cy="2269.2" r="7.1"/>
<path class="fb" d="M1845.8,2262.1a7.1,7.1 0 0 1 0,14.2z"/>
<circle class="cb" cx="1861.0" cy="2272.7" r="7.1"/>
<path class="fb" d="M1861.0,2265.6a7.1,7.1 0 0 1 0,14.2z"/>
<circle class="cb" cx="1876.1" cy="2273.4" r="7.1"/>
<path class="fb" d="M1876.1,2266.3a7.1,7.1 0 0 1 0,14.2z"/>
<circle class="cb" cx="1891.3" cy="2267.7" r="7.1"/>
<path class="fb" d="M1891.3,2260.6a7.1,7.1 0 0 1 0,14.2z"/>
<circle class="cb" cx="1906.4" cy="2272.3" r="7.1"/>
<path class="fb" d="M1906.4,2265.2a7.1,7.1 0 0 1 0,14.2z"/>
<circle class="cb" cx="1921.6" cy="2276.1" r="7.1"/>
<path class="fb" d="M1921.6,2269.0a7.1,7.1 0 0 1 0,14.2z"/>
<circle class="cb" cx="1936.8" cy="2266.2" r="7.1"/>
<path class="fb" d="M1936.8,2259.1a7.1,7.1 0 0 1 0,14.2z"/>
<circle class="cb" cx="1951.9" cy="2271.2" r="7.1"/>
<path class="fb" d="M1951.9,2264.1a7.1,7.1 0 0 1 0,14.2z"/>
<circle class="cb" cx="1967.1" cy="2271.9" r="7.1"/>
<path class="fb" d="M1967.1,2264.8a7.1,7.1 0 0 1 0,14.2z"/>
<circle class="cb" cx="1982.2" cy="2269.7" r="7.1"/>
<path class="fb" d="M1982.2,2262.6a7.1,7.1 0 0 1 0,14.2z"/>
<circle class="cb" cx="1997.4" cy="2273.7" r="7.1"/>
<path class="fb" d="M1997.4,2266.6a7.1,7.1 0 0 1 0,14.2z"/>
<circle class="cb" cx="2012.5" cy="2272.0" r="7.1"/>
<path class="fb" d="M2012.5,2264.9a7.1,7.1 0 0 1 0,14.2z"/>
<circle class="cb" cx="2027.7" cy="2267.8" r="7.1"/>
<path class="fb" d="M2027.7,2260.7a7.1,7.1 0 0 1 0,14.2z"/>
<circle class="cb" cx="2042.9" cy="2274.7" r="7.1"/>
<path class="fb" d="M2042.9,2267.6a7.1,7.1 0 0 1 0,14.2z"/>
<circle class="cb" cx="2058.0" cy="2274.2" r="7.1"/>
<path class="fb" d="M2058.0,2267.1a7.1,7.1 0 0 1 0,14.2z"/>
<circle class="cb" cx="2073.2" cy="2275.0" r="7.1"/>
<path class="fb" d="M2073.2,2267.9a7.1,7.1 0 0 1 0,14.2z"/>
<circle class="cb" cx="2088.3" cy="2276.5" r="7.1"/>
<path class="fb" d="M2088.3,2269.4a7.1,7.1 0 0 1 0,14.2z"/>
<circle class="cb" cx="2103.5" cy="2273.3" r="7.1"/>
<path class="fb" d="M2103.5,2266.2a7.1,7.1 0 0 1 0,14.2z"/>
<circle class="cb" cx="2118.7" cy="2272.6" r="7.1"/>
<path class="fb" d="M2118.7,2265.5a7.1,7.1 0 0 1 0,14.2z"/>
<circle class="cb" cx="2133.8" cy="2268.3" r="7.1"/>
<path class="fb" d="M2133.8,2261.2a7.1,7.1 0 0 1 0,14.2z"/>
<circle class="cb" cx="2149.0" cy="2274.0" r="7.1"/>
<path class="fb" d="M2149.0,2266.9a7.1,7.1 0 0 1 0,14.2z"/>
<path d="M1239.4,2272.2 L1241.7,2272.2 L1244.0,2272.2 L1246.3,2272.2 L1248.6,2272.2 L1250.8,2272.2 L1253.1,2272.2 L1255.4,2272.2 L1257.7,2272.2 L1260.0,2272.2 L1262.3,2272.2 L1264.6,2272.2 L1266.9,2272.2 L1269.2,2272.2 L1271.5,2272.2 L1273.7,2272.2 L1276.0,2272.2 L1278.3,2272.2 L1280.6,2272.2 L1282.9,2272.2 L1285.2,2272.2 L1287.5,2272.2 L1289.8,2272.2 L1292.1,2272.2 L1294.4,2272.2 L1296.7,2272.2 L1298.9,2272.2 L1301.2,2272.2 L1303.5,2272.2 L1305.8,2272.2 L1308.1,2272.2 L1310.4,2272.2 L1312.7,2272.2 L1315.0,2272.2 L1317.3,2272.2 L1319.6,2272.2 L1321.8,2272.2 L1324.1,2272.2 L1326.4,2272.2 L1328.7,2272.2 L1331.0,2272.2 L1333.3,2272.2 L1335.6,2272.2 L1337.9,2272.2 L1340.2,2272.2 L1342.5,2272.2 L1344.7,2272.2 L1347.0,2272.2 L1349.3,2272.2 L1351.6,2272.2 L1353.9,2272.2 L1356.2,2272.2 L1358.5,2272.2 L1360.8,2272.2 L1363.1,2272.2 L1365.3,2272.2 L1367.6,2272.2 L1369.9,2272.2 L1372.2,2272.2 L1374.5,2272.2 L1376.8,2272.2 L1379.1,2272.2 L1381.4,2272.2 L1383.7,2272.2 L1386.0,2272.2 L1388.2,2272.2 L1390.5,2272.2 L1392.8,2272.2 L1395.1,2272.2 L1397.4,2272.2 L1399.7,2272.2 L1402.0,2272.2 L1404.3,2272.2 L1406.6,2272.1 L1408.9,2272.1 L1411.2,2272.1 L1413.4,2272.1 L1415.7,2272.1 L1418.0,2272.1 L1420.3,2272.1 L1422.6,2272.1 L1424.9,2272.0 L1427.2,2272.0 L1429.5,2272.0 L1431.8,2272.0 L1434.1,2271.9 L1436.3,2271.9 L1438.6,2271.8 L1440.9,2271.8 L1443.2,2271.7 L1445.5,2271.7 L1447.8,2271.6 L1450.1,2271.6 L1452.4,2271.5 L1454.7,2271.4 L1457.0,2271.3 L1459.2,2271.2 L1461.5,2271.1 L1463.8,2270.9 L1466.1,2270.8 L1468.4,2270.6 L1470.7,2270.4 L1473.0,2270.2 L1475.3,2270.0 L1477.6,2269.8 L1479.8,2269.6 L1482.1,2269.3 L1484.4,2269.0 L1486.7,2268.7 L1489.0,2268.3 L1491.3,2267.9 L1493.6,2267.5 L1495.9,2267.1 L1498.2,2266.6 L1500.5,2266.1 L1502.7,2265.5 L1505.0,2264.9 L1507.3,2264.3 L1509.6,2263.6 L1511.9,2262.9 L1514.2,2262.1 L1516.5,2261.3 L1518.8,2260.4 L1521.1,2259.5 L1523.4,2258.5 L1525.7,2257.5 L1527.9,2256.4 L1530.2,2255.2 L1532.5,2254.0 L1534.8,2252.8 L1537.1,2251.4 L1539.4,2250.1 L1541.7,2248.6 L1544.0,2247.1 L1546.3,2245.6 L1548.6,2243.9 L1550.8,2242.3 L1553.1,2240.5 L1555.4,2238.7 L1557.7,2236.9 L1560.0,2235.0 L1562.3,2233.1 L1564.6,2231.1 L1566.9,2229.0 L1569.2,2227.0 L1571.5,2224.9 L1573.7,2222.8 L1576.0,2220.6 L1578.3,2218.4 L1580.6,2216.2 L1582.9,2214.0 L1585.2,2211.8 L1587.5,2209.6 L1589.8,2207.5 L1592.1,2205.3 L1594.3,2203.1 L1596.6,2201.0 L1598.9,2198.9 L1601.2,2196.9 L1603.5,2194.9 L1605.8,2192.9 L1608.1,2191.1 L1610.4,2189.2 L1612.7,2187.5 L1615.0,2185.9 L1617.2,2184.3 L1619.5,2182.8 L1621.8,2181.5 L1624.1,2180.2 L1626.4,2179.0 L1628.7,2178.0 L1631.0,2177.1 L1633.3,2176.3 L1635.6,2175.6 L1637.9,2175.1 L1640.2,2174.7 L1642.4,2174.4 L1644.7,2174.2 L1647.0,2174.2 L1649.3,2174.3 L1651.6,2174.6 L1653.9,2175.0 L1656.2,2175.5 L1658.5,2176.1 L1660.8,2176.9 L1663.1,2177.8 L1665.3,2178.8 L1667.6,2180.0 L1669.9,2181.2 L1672.2,2182.5 L1674.5,2184.0 L1676.8,2185.5 L1679.1,2187.2 L1681.4,2188.9 L1683.7,2190.7 L1686.0,2192.6 L1688.2,2194.5 L1690.5,2196.5 L1692.8,2198.5 L1695.1,2200.6 L1697.4,2202.7 L1699.7,2204.9 L1702.0,2207.0 L1704.3,2209.2 L1706.6,2211.4 L1708.8,2213.6 L1711.1,2215.8 L1713.4,2218.0 L1715.7,2220.2 L1718.0,2222.3 L1720.3,2224.5 L1722.6,2226.6 L1724.9,2228.6 L1727.2,2230.7 L1729.5,2232.7 L1731.7,2234.6 L1734.0,2236.5 L1736.3,2238.4 L1738.6,2240.2 L1740.9,2241.9 L1743.2,2243.6 L1745.5,2245.2 L1747.8,2246.8 L1750.1,2248.3 L1752.4,2249.8 L1754.7,2251.2 L1756.9,2252.5 L1759.2,2253.8 L1761.5,2255.0 L1763.8,2256.2 L1766.1,2257.3 L1768.4,2258.3 L1770.7,2259.3 L1773.0,2260.2 L1775.3,2261.1 L1777.6,2261.9 L1779.8,2262.7 L1782.1,2263.5 L1784.4,2264.1 L1786.7,2264.8 L1789.0,2265.4 L1791.3,2266.0 L1793.6,2266.5 L1795.9,2267.0 L1798.2,2267.4 L1800.5,2267.8 L1802.7,2268.2 L1805.0,2268.6 L1807.3,2268.9 L1809.6,2269.2 L1811.9,2269.5 L1814.2,2269.8 L1816.5,2270.0 L1818.8,2270.2 L1821.1,2270.4 L1823.3,2270.6 L1825.6,2270.7 L1827.9,2270.9 L1830.2,2271.0 L1832.5,2271.2 L1834.8,2271.3 L1837.1,2271.4 L1839.4,2271.5 L1841.7,2271.5 L1844.0,2271.6 L1846.2,2271.7 L1848.5,2271.7 L1850.8,2271.8 L1853.1,2271.8 L1855.4,2271.9 L1857.7,2271.9 L1860.0,2272.0 L1862.3,2272.0 L1864.6,2272.0 L1866.9,2272.0 L1869.2,2272.1 L1871.4,2272.1 L1873.7,2272.1 L1876.0,2272.1 L1878.3,2272.1 L1880.6,2272.1 L1882.9,2272.1 L1885.2,2272.1 L1887.5,2272.2 L1889.8,2272.2 L1892.1,2272.2 L1894.3,2272.2 L1896.6,2272.2 L1898.9,2272.2 L1901.2,2272.2 L1903.5,2272.2 L1905.8,2272.2 L1908.1,2272.2 L1910.4,2272.2 L1912.7,2272.2 L1915.0,2272.2 L1917.2,2272.2 L1919.5,2272.2 L1921.8,2272.2 L1924.1,2272.2 L1926.4,2272.2 L1928.7,2272.2 L1931.0,2272.2 L1933.3,2272.2 L1935.6,2272.2 L1937.8,2272.2 L1940.1,2272.2 L1942.4,2272.2 L1944.7,2272.2 L1947.0,2272.2 L1949.3,2272.2 L1951.6,2272.2 L1953.9,2272.2 L1956.2,2272.2 L1958.5,2272.2 L1960.7,2272.2 L1963.0,2272.2 L1965.3,2272.2 L1967.6,2272.2 L1969.9,2272.2 L1972.2,2272.2 L1974.5,2272.2 L1976.8,2272.2 L1979.1,2272.2 L1981.4,2272.2 L1983.7,2272.2 L1985.9,2272.2 L1988.2,2272.2 L1990.5,2272.2 L1992.8,2272.2 L1995.1,2272.2 L1997.4,2272.2 L1999.7,2272.2 L2002.0,2272.2 L2004.3,2272.2 L2006.6,2272.2 L2008.8,2272.2 L2011.1,2272.2 L2013.4,2272.2 L2015.7,2272.2 L2018.0,2272.2 L2020.3,2272.2 L2022.6,2272.2 L2024.9,2272.2 L2027.2,2272.2 L2029.5,2272.2 L2031.7,2272.2 L2034.0,2272.2 L2036.3,2272.2 L2038.6,2272.2 L2040.9,2272.2 L2043.2,2272.2 L2045.5,2272.2 L2047.8,2272.2 L2050.1,2272.2 L2052.3,2272.2 L2054.6,2272.2 L2056.9,2272.2 L2059.2,2272.2 L2061.5,2272.2 L2063.8,2272.2 L2066.1,2272.2 L2068.4,2272.2 L2070.7,2272.2 L2073.0,2272.2 L2075.2,2272.2 L2077.5,2272.2 L2079.8,2272.2 L2082.1,2272.2 L2084.4,2272.2 L2086.7,2272.2 L2089.0,2272.2 L2091.3,2272.2 L2093.6,2272.2 L2095.9,2272.2 L2098.2,2272.2 L2100.4,2272.2 L2102.7,2272.2 L2105.0,2272.2 L2107.3,2272.2 L2109.6,2272.2 L2111.9,2272.2 L2114.2,2272.2 L2116.5,2272.2 L2118.8,2272.2 L2121.1,2272.2 L2123.3,2272.2 L2125.6,2272.2 L2127.9,2272.2 L2130.2,2272.2 L2132.5,2272.2 L2134.8,2272.2 L2137.1,2272.2 L2139.4,2272.2 L2141.7,2272.2 L2144.0,2272.2 L2146.2,2272.2 L2148.5,2272.2 L2150.8,2272.2 L2153.1,2272.2 L2155.4,2272.2" fill="none" stroke="#0000ff" stroke-width="6.5" stroke-linejoin="round"/>
<circle class="cg" cx="1239.4" cy="2399.4" r="7.1"/>
<path class="fg" d="M1239.4,2392.3a7.1,7.1 0 0 1 0,14.2z"/>
<circle class="cg" cx="1254.6" cy="2399.8" r="7.1"/>
<path class="fg" d="M1254.6,2392.7a7.1,7.1 0 0 1 0,14.2z"/>
<circle class="cg" cx="1269.7" cy="2397.4" r="7.1"/>
<path class="fg" d="M1269.7,2390.3a7.1,7.1 0 0 1 0,14.2z"/>
<circle class="cg" cx="1284.9" cy="2398.3" r="7.1"/>
<path class="fg" d="M1284.9,2391.2a7.1,7.1 0 0 1 0,14.2z"/>
<circle class="cg" cx="1300.0" cy="2399.6" r="7.1"/>
<path class="fg" d="M1300.0,2392.5a7.1,7.1 0 0 1 0,14.2z"/>
<circle class="cg" cx="1315.2" cy="2405.1" r="7.1"/>
<path class="fg" d="M1315.2,2398.0a7.1,7.1 0 0 1 0,14.2z"/>
<circle class="cg" cx="1330.4" cy="2395.1" r="7.1"/>
<path class="fg" d="M1330.4,2388.0a7.1,7.1 0 0 1 0,14.2z"/>
<circle class="cg" cx="1345.5" cy="2396.8" r="7.1"/>
<path class="fg" d="M1345.5,2389.7a7.1,7.1 0 0 1 0,14.2z"/>
<circle class="cg" cx="1360.7" cy="2401.9" r="7.1"/>
<path class="fg" d="M1360.7,2394.8a7.1,7.1 0 0 1 0,14.2z"/>
<circle class="cg" cx="1375.8" cy="2405.5" r="7.1"/>
<path class="fg" d="M1375.8,2398.4a7.1,7.1 0 0 1 0,14.2z"/>
<circle class="cg" cx="1391.0" cy="2402.9" r="7.1"/>
<path class="fg" d="M1391.0,2395.8a7.1,7.1 0 0 1 0,14.2z"/>
<circle class="cg" cx="1406.2" cy="2395.4" r="7.1"/>
<path class="fg" d="M1406.2,2388.3a7.1,7.1 0 0 1 0,14.2z"/>
<circle class="cg" cx="1421.3" cy="2393.5" r="7.1"/>
<path class="fg" d="M1421.3,2386.4a7.1,7.1 0 0 1 0,14.2z"/>
<circle class="cg" cx="1436.5" cy="2401.9" r="7.1"/>
<path class="fg" d="M1436.5,2394.8a7.1,7.1 0 0 1 0,14.2z"/>
<circle class="cg" cx="1451.6" cy="2398.1" r="7.1"/>
<path class="fg" d="M1451.6,2391.0a7.1,7.1 0 0 1 0,14.2z"/>
<circle class="cg" cx="1466.8" cy="2396.1" r="7.1"/>
<path class="fg" d="M1466.8,2389.0a7.1,7.1 0 0 1 0,14.2z"/>
<circle class="cg" cx="1482.0" cy="2400.7" r="7.1"/>
<path class="fg" d="M1482.0,2393.6a7.1,7.1 0 0 1 0,14.2z"/>
<circle class="cg" cx="1497.1" cy="2398.2" r="7.1"/>
<path class="fg" d="M1497.1,2391.1a7.1,7.1 0 0 1 0,14.2z"/>
<circle class="cg" cx="1512.3" cy="2390.9" r="7.1"/>
<path class="fg" d="M1512.3,2383.8a7.1,7.1 0 0 1 0,14.2z"/>
<circle class="cg" cx="1527.4" cy="2384.4" r="7.1"/>
<path class="fg" d="M1527.4,2377.3a7.1,7.1 0 0 1 0,14.2z"/>
<circle class="cg" cx="1542.6" cy="2375.7" r="7.1"/>
<path class="fg" d="M1542.6,2368.6a7.1,7.1 0 0 1 0,14.2z"/>
<circle class="cg" cx="1557.8" cy="2367.1" r="7.1"/>
<path class="fg" d="M1557.8,2360.0a7.1,7.1 0 0 1 0,14.2z"/>
<circle class="cg" cx="1572.9" cy="2349.9" r="7.1"/>
<path class="fg" d="M1572.9,2342.8a7.1,7.1 0 0 1 0,14.2z"/>
<circle class="cg" cx="1588.1" cy="2334.1" r="7.1"/>
<path class="fg" d="M1588.1,2327.0a7.1,7.1 0 0 1 0,14.2z"/>
<circle class="cg" cx="1603.2" cy="2319.1" r="7.1"/>
<path class="fg" d="M1603.2,2312.0a7.1,7.1 0 0 1 0,14.2z"/>
<circle class="cg" cx="1618.4" cy="2300.1" r="7.1"/>
<path class="fg" d="M1618.4,2293.0a7.1,7.1 0 0 1 0,14.2z"/>
<circle class="cg" cx="1633.6" cy="2300.3" r="7.1"/>
<path class="fg" d="M1633.6,2293.2a7.1,7.1 0 0 1 0,14.2z"/>
<circle class="cg" cx="1648.7" cy="2296.6" r="7.1"/>
<path class="fg" d="M1648.7,2289.5a7.1,7.1 0 0 1 0,14.2z"/>
<circle class="cg" cx="1663.9" cy="2298.6" r="7.1"/>
<path class="fg" d="M1663.9,2291.5a7.1,7.1 0 0 1 0,14.2z"/>
<circle class="cg" cx="1679.0" cy="2300.0" r="7.1"/>
<path class="fg" d="M1679.0,2292.9a7.1,7.1 0 0 1 0,14.2z"/>
<circle class="cg" cx="1694.2" cy="2317.0" r="7.1"/>
<path class="fg" d="M1694.2,2309.9a7.1,7.1 0 0 1 0,14.2z"/>
<circle class="cg" cx="1709.4" cy="2336.6" r="7.1"/>
<path class="fg" d="M1709.4,2329.5a7.1,7.1 0 0 1 0,14.2z"/>
<circle class="cg" cx="1724.5" cy="2344.1" r="7.1"/>
<path class="fg" d="M1724.5,2337.0a7.1,7.1 0 0 1 0,14.2z"/>
<circle class="cg" cx="1739.7" cy="2363.1" r="7.1"/>
<path class="fg" d="M1739.7,2356.0a7.1,7.1 0 0 1 0,14.2z"/>
<circle class="cg" cx="1754.8" cy="2378.5" r="7.1"/>
<path class="fg" d="M1754.8,2371.4a7.1,7.1 0 0 1 0,14.2z"/>
<circle class="cg" cx="1770.0" cy="2380.6" r="7.1"/>
<path class="fg" d="M1770.0,2373.5a7.1,7.1 0 0 1 0,14.2z"/>
<circle class="cg" cx="1785.2" cy="2395.8" r="7.1"/>
<path class="fg" d="M1785.2,2388.7a7.1,7.1 0 0 1 0,14.2z"/>
<circle class="cg" cx="1800.3" cy="2397.0" r="7.1"/>
<path class="fg" d="M1800.3,2389.9a7.1,7.1 0 0 1 0,14.2z"/>
<circle class="cg" cx="1815.5" cy="2397.5" r="7.1"/>
<path class="fg" d="M1815.5,2390.4a7.1,7.1 0 0 1 0,14.2z"/>
<circle class="cg" cx="1830.6" cy="2400.5" r="7.1"/>
<path class="fg" d="M1830.6,2393.4a7.1,7.1 0 0 1 0,14.2z"/>
<circle class="cg" cx="1845.8" cy="2402.3" r="7.1"/>
<path class="fg" d="M1845.8,2395.2a7.1,7.1 0 0 1 0,14.2z"/>
<circle class="cg" cx="1861.0" cy="2401.2" r="7.1"/>
<path class="fg" d="M1861.0,2394.1a7.1,7.1 0 0 1 0,14.2z"/>
<circle class="cg" cx="1876.1" cy="2404.5" r="7.1"/>
<path class="fg" d="M1876.1,2397.4a7.1,7.1 0 0 1 0,14.2z"/>
<circle class="cg" cx="1891.3" cy="2399.1" r="7.1"/>
<path class="fg" d="M1891.3,2392.0a7.1,7.1 0 0 1 0,14.2z"/>
<circle class="cg" cx="1906.4" cy="2399.9" r="7.1"/>
<path class="fg" d="M1906.4,2392.8a7.1,7.1 0 0 1 0,14.2z"/>
<circle class="cg" cx="1921.6" cy="2404.3" r="7.1"/>
<path class="fg" d="M1921.6,2397.2a7.1,7.1 0 0 1 0,14.2z"/>
<circle class="cg" cx="1936.8" cy="2401.3" r="7.1"/>
<path class="fg" d="M1936.8,2394.2a7.1,7.1 0 0 1 0,14.2z"/>
<circle class="cg" cx="1951.9" cy="2398.6" r="7.1"/>
<path class="fg" d="M1951.9,2391.5a7.1,7.1 0 0 1 0,14.2z"/>
<circle class="cg" cx="1967.1" cy="2404.0" r="7.1"/>
<path class="fg" d="M1967.1,2396.9a7.1,7.1 0 0 1 0,14.2z"/>
<circle class="cg" cx="1982.2" cy="2405.6" r="7.1"/>
<path class="fg" d="M1982.2,2398.5a7.1,7.1 0 0 1 0,14.2z"/>
<circle class="cg" cx="1997.4" cy="2399.9" r="7.1"/>
<path class="fg" d="M1997.4,2392.8a7.1,7.1 0 0 1 0,14.2z"/>
<circle class="cg" cx="2012.5" cy="2397.1" r="7.1"/>
<path class="fg" d="M2012.5,2390.0a7.1,7.1 0 0 1 0,14.2z"/>
<circle class="cg" cx="2027.7" cy="2400.8" r="7.1"/>
<path class="fg" d="M2027.7,2393.7a7.1,7.1 0 0 1 0,14.2z"/>
<circle class="cg" cx="2042.9" cy="2400.8" r="7.1"/>
<path class="fg" d="M2042.9,2393.7a7.1,7.1 0 0 1 0,14.2z"/>
<circle class="cg" cx="2058.0" cy="2400.3" r="7.1"/>
<path class="fg" d="M2058.0,2393.2a7.1,7.1 0 0 1 0,14.2z"/>
<circle class="cg" cx="2073.2" cy="2405.4" r="7.1"/>
<path class="fg" d="M2073.2,2398.3a7.1,7.1 0 0 1 0,14.2z"/>
<circle class="cg" cx="2088.3" cy="2398.1" r="7.1"/>
<path class="fg" d="M2088.3,2391.0a7.1,7.1 0 0 1 0,14.2z"/>
<circle class="cg" cx="2103.5" cy="2405.0" r="7.1"/>
<path class="fg" d="M2103.5,2397.9a7.1,7.1 0 0 1 0,14.2z"/>
<circle class="cg" cx="2118.7" cy="2397.4" r="7.1"/>
<path class="fg" d="M2118.7,2390.3a7.1,7.1 0 0 1 0,14.2z"/>
<circle class="cg" cx="2133.8" cy="2398.8" r="7.1"/>
<path class="fg" d="M2133.8,2391.7a7.1,7.1 0 0 1 0,14.2z"/>
<circle class="cg" cx="2149.0" cy="2403.1" r="7.1"/>
<path class="fg" d="M2149.0,2396.0a7.1,7.1 0 0 1 0,14.2z"/>
<path d="M1239.4,2401.2 L1241.7,2401.2 L1244.0,2401.2 L1246.3,2401.2 L1248.6,2401.2 L1250.8,2401.2 L1253.1,2401.2 L1255.4,2401.2 L1257.7,2401.2 L1260.0,2401.2 L1262.3,2401.2 L1264.6,2401.2 L1266.9,2401.2 L1269.2,2401.2 L1271.5,2401.2 L1273.7,2401.2 L1276.0,2401.2 L1278.3,2401.2 L1280.6,2401.2 L1282.9,2401.2 L1285.2,2401.2 L1287.5,2401.2 L1289.8,2401.2 L1292.1,2401.2 L1294.4,2401.2 L1296.7,2401.2 L1298.9,2401.2 L1301.2,2401.2 L1303.5,2401.2 L1305.8,2401.2 L1308.1,2401.2 L1310.4,2401.2 L1312.7,2401.2 L1315.0,2401.2 L1317.3,2401.2 L1319.6,2401.2 L1321.8,2401.2 L1324.1,2401.2 L1326.4,2401.2 L1328.7,2401.2 L1331.0,2401.2 L1333.3,2401.2 L1335.6,2401.2 L1337.9,2401.2 L1340.2,2401.2 L1342.5,2401.2 L1344.7,2401.2 L1347.0,2401.2 L1349.3,2401.2 L1351.6,2401.2 L1353.9,2401.2 L1356.2,2401.2 L1358.5,2401.2 L1360.8,2401.2 L1363.1,2401.2 L1365.3,2401.2 L1367.6,2401.2 L1369.9,2401.2 L1372.2,2401.2 L1374.5,2401.2 L1376.8,2401.2 L1379.1,2401.2 L1381.4,2401.2 L1383.7,2401.2 L1386.0,2401.2 L1388.2,2401.2 L1390.5,2401.2 L1392.8,2401.2 L1395.1,2401.2 L1397.4,2401.2 L1399.7,2401.2 L1402.0,2401.1 L1404.3,2401.1 L1406.6,2401.1 L1408.9,2401.1 L1411.2,2401.1 L1413.4,2401.1 L1415.7,2401.1 L1418.0,2401.1 L1420.3,2401.0 L1422.6,2401.0 L1424.9,2401.0 L1427.2,2401.0 L1429.5,2400.9 L1431.8,2400.9 L1434.1,2400.8 L1436.3,2400.8 L1438.6,2400.8 L1440.9,2400.7 L1443.2,2400.6 L1445.5,2400.6 L1447.8,2400.5 L1450.1,2400.4 L1452.4,2400.3 L1454.7,2400.2 L1457.0,2400.1 L1459.2,2399.9 L1461.5,2399.8 L1463.8,2399.6 L1466.1,2399.5 L1468.4,2399.3 L1470.7,2399.1 L1473.0,2398.9 L1475.3,2398.6 L1477.6,2398.3 L1479.8,2398.1 L1482.1,2397.7 L1484.4,2397.4 L1486.7,2397.0 L1489.0,2396.6 L1491.3,2396.2 L1493.6,2395.7 L1495.9,2395.2 L1498.2,2394.7 L1500.5,2394.1 L1502.7,2393.5 L1505.0,2392.8 L1507.3,2392.1 L1509.6,2391.4 L1511.9,2390.6 L1514.2,2389.7 L1516.5,2388.8 L1518.8,2387.8 L1521.1,2386.8 L1523.4,2385.8 L1525.7,2384.6 L1527.9,2383.4 L1530.2,2382.2 L1532.5,2380.9 L1534.8,2379.5 L1537.1,2378.1 L1539.4,2376.6 L1541.7,2375.0 L1544.0,2373.4 L1546.3,2371.7 L1548.6,2369.9 L1550.8,2368.1 L1553.1,2366.3 L1555.4,2364.3 L1557.7,2362.3 L1560.0,2360.3 L1562.3,2358.2 L1564.6,2356.1 L1566.9,2353.9 L1569.2,2351.7 L1571.5,2349.5 L1573.7,2347.2 L1576.0,2344.9 L1578.3,2342.5 L1580.6,2340.2 L1582.9,2337.8 L1585.2,2335.5 L1587.5,2333.1 L1589.8,2330.8 L1592.1,2328.4 L1594.3,2326.1 L1596.6,2323.8 L1598.9,2321.6 L1601.2,2319.4 L1603.5,2317.2 L1605.8,2315.1 L1608.1,2313.1 L1610.4,2311.1 L1612.7,2309.2 L1615.0,2307.4 L1617.2,2305.6 L1619.5,2304.0 L1621.8,2302.5 L1624.1,2301.1 L1626.4,2299.8 L1628.7,2298.6 L1631.0,2297.5 L1633.3,2296.5 L1635.6,2295.7 L1637.9,2295.1 L1640.2,2294.5 L1642.4,2294.1 L1644.7,2293.8 L1647.0,2293.7 L1649.3,2293.7 L1651.6,2293.9 L1653.9,2294.2 L1656.2,2294.6 L1658.5,2295.2 L1660.8,2295.9 L1663.1,2296.7 L1665.3,2297.7 L1667.6,2298.8 L1669.9,2300.0 L1672.2,2301.3 L1674.5,2302.8 L1676.8,2304.3 L1679.1,2306.0 L1681.4,2307.7 L1683.7,2309.6 L1686.0,2311.5 L1688.2,2313.5 L1690.5,2315.5 L1692.8,2317.6 L1695.1,2319.8 L1697.4,2322.0 L1699.7,2324.3 L1702.0,2326.6 L1704.3,2328.9 L1706.6,2331.2 L1708.8,2333.6 L1711.1,2336.0 L1713.4,2338.3 L1715.7,2340.7 L1718.0,2343.0 L1720.3,2345.3 L1722.6,2347.6 L1724.9,2349.9 L1727.2,2352.2 L1729.5,2354.4 L1731.7,2356.5 L1734.0,2358.7 L1736.3,2360.7 L1738.6,2362.7 L1740.9,2364.7 L1743.2,2366.6 L1745.5,2368.5 L1747.8,2370.3 L1750.1,2372.0 L1752.4,2373.7 L1754.7,2375.3 L1756.9,2376.9 L1759.2,2378.3 L1761.5,2379.8 L1763.8,2381.1 L1766.1,2382.4 L1768.4,2383.7 L1770.7,2384.9 L1773.0,2386.0 L1775.3,2387.0 L1777.6,2388.0 L1779.8,2389.0 L1782.1,2389.9 L1784.4,2390.7 L1786.7,2391.5 L1789.0,2392.3 L1791.3,2393.0 L1793.6,2393.6 L1795.9,2394.2 L1798.2,2394.8 L1800.5,2395.3 L1802.7,2395.8 L1805.0,2396.3 L1807.3,2396.7 L1809.6,2397.1 L1811.9,2397.5 L1814.2,2397.8 L1816.5,2398.1 L1818.8,2398.4 L1821.1,2398.7 L1823.3,2398.9 L1825.6,2399.1 L1827.9,2399.3 L1830.2,2399.5 L1832.5,2399.7 L1834.8,2399.8 L1837.1,2400.0 L1839.4,2400.1 L1841.7,2400.2 L1844.0,2400.3 L1846.2,2400.4 L1848.5,2400.5 L1850.8,2400.6 L1853.1,2400.6 L1855.4,2400.7 L1857.7,2400.8 L1860.0,2400.8 L1862.3,2400.9 L1864.6,2400.9 L1866.9,2400.9 L1869.2,2401.0 L1871.4,2401.0 L1873.7,2401.0 L1876.0,2401.0 L1878.3,2401.1 L1880.6,2401.1 L1882.9,2401.1 L1885.2,2401.1 L1887.5,2401.1 L1889.8,2401.1 L1892.1,2401.1 L1894.3,2401.1 L1896.6,2401.2 L1898.9,2401.2 L1901.2,2401.2 L1903.5,2401.2 L1905.8,2401.2 L1908.1,2401.2 L1910.4,2401.2 L1912.7,2401.2 L1915.0,2401.2 L1917.2,2401.2 L1919.5,2401.2 L1921.8,2401.2 L1924.1,2401.2 L1926.4,2401.2 L1928.7,2401.2 L1931.0,2401.2 L1933.3,2401.2 L1935.6,2401.2 L1937.8,2401.2 L1940.1,2401.2 L1942.4,2401.2 L1944.7,2401.2 L1947.0,2401.2 L1949.3,2401.2 L1951.6,2401.2 L1953.9,2401.2 L1956.2,2401.2 L1958.5,2401.2 L1960.7,2401.2 L1963.0,2401.2 L1965.3,2401.2 L1967.6,2401.2 L1969.9,2401.2 L1972.2,2401.2 L1974.5,2401.2 L1976.8,2401.2 L1979.1,2401.2 L1981.4,2401.2 L1983.7,2401.2 L1985.9,2401.2 L1988.2,2401.2 L1990.5,2401.2 L1992.8,2401.2 L1995.1,2401.2 L1997.4,2401.2 L1999.7,2401.2 L2002.0,2401.2 L2004.3,2401.2 L2006.6,2401.2 L2008.8,2401.2 L2011.1,2401.2 L2013.4,2401.2 L2015.7,2401.2 L2018.0,2401.2 L2020.3,2401.2 L2022.6,2401.2 L2024.9,2401.2 L2027.2,2401.2 L2029.5,2401.2 L2031.7,2401.2 L2034.0,2401.2 L2036.3,2401.2 L2038.6,2401.2 L2040.9,2401.2 L2043.2,2401.2 L2045.5,2401.2 L2047.8,2401.2 L2050.1,2401.2 L2052.3,2401.2 L2054.6,2401.2 L2056.9,2401.2 L2059.2,2401.2 L2061.5,2401.2 L2063.8,2401.2 L2066.1,2401.2 L2068.4,2401.2 L2070.7,2401.2 L2073.0,2401.2 L2075.2,2401.2 L2077.5,2401.2 L2079.8,2401.2 L2082.1,2401.2 L2084.4,2401.2 L2086.7,2401.2 L2089.0,2401.2 L2091.3,2401.2 L2093.6,2401.2 L2095.9,2401.2 L2098.2,2401.2 L2100.4,2401.2 L2102.7,2401.2 L2105.0,2401.2 L2107.3,2401.2 L2109.6,2401.2 L2111.9,2401.2 L2114.2,2401.2 L2116.5,2401.2 L2118.8,2401.2 L2121.1,2401.2 L2123.3,2401.2 L2125.6,2401.2 L2127.9,2401.2 L2130.2,2401.2 L2132.5,2401.2 L2134.8,2401.2 L2137.1,2401.2 L2139.4,2401.2 L2141.7,2401.2 L2144.0,2401.2 L2146.2,2401.2 L2148.5,2401.2 L2150.8,2401.2 L2153.1,2401.2 L2155.4,2401.2" fill="none" stroke="#00ff00" stroke-width="6.5" stroke-linejoin="round"/>
<circle class="cr" cx="1239.4" cy="2541.4" r="7.1"/>
<path class="fr" d="M1239.4,2534.3a7.1,7.1 0 0 1 0,14.2z"/>
<circle class="cr" cx="1254.6" cy="2540.6" r="7.1"/>
<path class="fr" d="M1254.6,2533.5a7.1,7.1 0 0 1 0,14.2z"/>
<circle class="cr" cx="1269.7" cy="2539.0" r="7.1"/>
<path class="fr" d="M1269.7,2531.9a7.1,7.1 0 0 1 0,14.2z"/>
<circle class="cr" cx="1284.9" cy="2538.4" r="7.1"/>
<path class="fr" d="M1284.9,2531.3a7.1,7.1 0 0 1 0,14.2z"/>
<circle class="cr" cx="1300.0" cy="2538.5" r="7.1"/>
<path class="fr" d="M1300.0,2531.4a7.1,7.1 0 0 1 0,14.2z"/>
<circle class="cr" cx="1315.2" cy="2539.7" r="7.1"/>
<path class="fr" d="M1315.2,2532.6a7.1,7.1 0 0 1 0,14.2z"/>
<circle class="cr" cx="1330.4" cy="2537.5" r="7.1"/>
<path class="fr" d="M1330.4,2530.4a7.1,7.1 0 0 1 0,14.2z"/>
<circle class="cr" cx="1345.5" cy="2538.8" r="7.1"/>
<path class="fr" d="M1345.5,2531.7a7.1,7.1 0 0 1 0,14.2z"/>
<circle class="cr" cx="1360.7" cy="2539.7" r="7.1"/>
<path class="fr" d="M1360.7,2532.6a7.1,7.1 0 0 1 0,14.2z"/>
<circle class="cr" cx="1375.8" cy="2538.0" r="7.1"/>
<path class="fr" d="M1375.8,2530.9a7.1,7.1 0 0 1 0,14.2z"/>
<circle class="cr" cx="1391.0" cy="2540.3" r="7.1"/>
<path class="fr" d="M1391.0,2533.2a7.1,7.1 0 0 1 0,14.2z"/>
<circle class="cr" cx="1406.2" cy="2539.7" r="7.1"/>
<path class="fr" d="M1406.2,2532.6a7.1,7.1 0 0 1 0,14.2z"/>
<circle class="cr" cx="1421.3" cy="2544.0" r="7.1"/>
<path class="fr" d="M1421.3,2536.9a7.1,7.1 0 0 1 0,14.2z"/>
<circle class="cr" cx="1436.5" cy="2538.8" r="7.1"/>
<path class="fr" d="M1436.5,2531.7a7.1,7.1 0 0 1 0,14.2z"/>
<circle class="cr" cx="1451.6" cy="2536.3" r="7.1"/>
<path class="fr" d="M1451.6,2529.2a7.1,7.1 0 0 1 0,14.2z"/>
<circle class="cr" cx="1466.8" cy="2536.0" r="7.1"/>
<path class="fr" d="M1466.8,2528.9a7.1,7.1 0 0 1 0,14.2z"/>
<circle class="cr" cx="1482.0" cy="2536.0" r="7.1"/>
<path class="fr" d="M1482.0,2528.9a7.1,7.1 0 0 1 0,14.2z"/>
<circle class="cr" cx="1497.1" cy="2536.8" r="7.1"/>
<path class="fr" d="M1497.1,2529.7a7.1,7.1 0 0 1 0,14.2z"/>
<circle class="cr" cx="1512.3" cy="2529.3" r="7.1"/>
<path class="fr" d="M1512.3,2522.2a7.1,7.1 0 0 1 0,14.2z"/>
<circle class="cr" cx="1527.4" cy="2525.5" r="7.1"/>
<path class="fr" d="M1527.4,2518.4a7.1,7.1 0 0 1 0,14.2z"/>
<circle class="cr" cx="1542.6" cy="2520.6" r="7.1"/>
<path class="fr" d="M1542.6,2513.5a7.1,7.1 0 0 1 0,14.2z"/>
<circle class="cr" cx="1557.8" cy="2494.7" r="7.1"/>
<path class="fr" d="M1557.8,2487.6a7.1,7.1 0 0 1 0,14.2z"/>
<circle class="cr" cx="1572.9" cy="2482.9" r="7.1"/>
<path class="fr" d="M1572.9,2475.8a7.1,7.1 0 0 1 0,14.2z"/>
<circle class="cr" cx="1588.1" cy="2468.7" r="7.1"/>
<path class="fr" d="M1588.1,2461.6a7.1,7.1 0 0 1 0,14.2z"/>
<circle class="cr" cx="1603.2" cy="2450.8" r="7.1"/>
<path class="fr" d="M1603.2,2443.7a7.1,7.1 0 0 1 0,14.2z"/>
<circle class="cr" cx="1618.4" cy="2434.6" r="7.1"/>
<path class="fr" d="M1618.4,2427.5a7.1,7.1 0 0 1 0,14.2z"/>
<circle class="cr" cx="1633.6" cy="2422.5" r="7.1"/>
<path class="fr" d="M1633.6,2415.4a7.1,7.1 0 0 1 0,14.2z"/>
<circle class="cr" cx="1648.7" cy="2423.1" r="7.1"/>
<path class="fr" d="M1648.7,2416.0a7.1,7.1 0 0 1 0,14.2z"/>
<circle class="cr" cx="1663.9" cy="2427.3" r="7.1"/>
<path class="fr" d="M1663.9,2420.2a7.1,7.1 0 0 1 0,14.2z"/>
<circle class="cr" cx="1679.0" cy="2437.3" r="7.1"/>
<path class="fr" d="M1679.0,2430.2a7.1,7.1 0 0 1 0,14.2z"/>
<circle class="cr" cx="1694.2" cy="2463.0" r="7.1"/>
<path class="fr" d="M1694.2,2455.9a7.1,7.1 0 0 1 0,14.2z"/>
<circle class="cr" cx="1709.4" cy="2475.5" r="7.1"/>
<path class="fr" d="M1709.4,2468.4a7.1,7.1 0 0 1 0,14.2z"/>
<circle class="cr" cx="1724.5" cy="2490.5" r="7.1"/>
<path class="fr" d="M1724.5,2483.4a7.1,7.1 0 0 1 0,14.2z"/>
<circle class="cr" cx="1739.7" cy="2506.9" r="7.1"/>
<path class="fr" d="M1739.7,2499.8a7.1,7.1 0 0 1 0,14.2z"/>
<circle class="cr" cx="1754.8" cy="2518.0" r="7.1"/>
<path class="fr" d="M1754.8,2510.9a7.1,7.1 0 0 1 0,14.2z"/>
<circle class="cr" cx="1770.0" cy="2526.5" r="7.1"/>
<path class="fr" d="M1770.0,2519.4a7.1,7.1 0 0 1 0,14.2z"/>
<circle class="cr" cx="1785.2" cy="2523.7" r="7.1"/>
<path class="fr" d="M1785.2,2516.6a7.1,7.1 0 0 1 0,14.2z"/>
<circle class="cr" cx="1800.3" cy="2533.4" r="7.1"/>
<path class="fr" d="M1800.3,2526.3a7.1,7.1 0 0 1 0,14.2z"/>
<circle class="cr" cx="1815.5" cy="2539.5" r="7.1"/>
<path class="fr" d="M1815.5,2532.4a7.1,7.1 0 0 1 0,14.2z"/>
<circle class="cr" cx="1830.6" cy="2533.8" r="7.1"/>
<path class="fr" d="M1830.6,2526.7a7.1,7.1 0 0 1 0,14.2z"/>
<circle class="cr" cx="1845.8" cy="2537.5" r="7.1"/>
<path class="fr" d="M1845.8,2530.4a7.1,7.1 0 0 1 0,14.2z"/>
<circle class="cr" cx="1861.0" cy="2540.8" r="7.1"/>
<path class="fr" d="M1861.0,2533.7a7.1,7.1 0 0 1 0,14.2z"/>
<circle class="cr" cx="1876.1" cy="2540.5" r="7.1"/>
<path class="fr" d="M1876.1,2533.4a7.1,7.1 0 0 1 0,14.2z"/>
<circle class="cr" cx="1891.3" cy="2542.5" r="7.1"/>
<path class="fr" d="M1891.3,2535.4a7.1,7.1 0 0 1 0,14.2z"/>
<circle class="cr" cx="1906.4" cy="2532.9" r="7.1"/>
<path class="fr" d="M1906.4,2525.8a7.1,7.1 0 0 1 0,14.2z"/>
<circle class="cr" cx="1921.6" cy="2536.9" r="7.1"/>
<path class="fr" d="M1921.6,2529.8a7.1,7.1 0 0 1 0,14.2z"/>
<circle class="cr" cx="1936.8" cy="2537.0" r="7.1"/>
<path class="fr" d="M1936.8,2529.9a7.1,7.1 0 0 1 0,14.2z"/>
<circle class="cr" cx="1951.9" cy="2539.9" r="7.1"/>
<path class="fr" d="M1951.9,2532.8a7.1,7.1 0 0 1 0,14.2z"/>
<circle class="cr" cx="1967.1" cy="2541.3" r="7.1"/>
<path class="fr" d="M1967.1,2534.2a7.1,7.1 0 0 1 0,14.2z"/>
<circle class="cr" cx="1982.2" cy="2530.0" r="7.1"/>
<path class="fr" d="M1982.2,2522.9a7.1,7.1 0 0 1 0,14.2z"/>
<circle class="cr" cx="1997.4" cy="2541.3" r="7.1"/>
<path class="fr" d="M1997.4,2534.2a7.1,7.1 0 0 1 0,14.2z"/>
<circle class="cr" cx="2012.5" cy="2533.7" r="7.1"/>
<path class="fr" d="M2012.5,2526.6a7.1,7.1 0 0 1 0,14.2z"/>
<circle class="cr" cx="2027.7" cy="2540.0" r="7.1"/>
<path class="fr" d="M2027.7,2532.9a7.1,7.1 0 0 1 0,14.2z"/>
<circle class="cr" cx="2042.9" cy="2533.5" r="7.1"/>
<path class="fr" d="M2042.9,2526.4a7.1,7.1 0 0 1 0,14.2z"/>
<circle class="cr" cx="2058.0" cy="2538.5" r="7.1"/>
<path class="fr" d="M2058.0,2531.4a7.1,7.1 0 0 1 0,14.2z"/>
<circle class="cr" cx="2073.2" cy="2541.6" r="7.1"/>
<path class="fr" d="M2073.2,2534.5a7.1,7.1 0 0 1 0,14.2z"/>
<circle class="cr" cx="2088.3" cy="2537.6" r="7.1"/>
<path class="fr" d="M2088.3,2530.5a7.1,7.1 0 0 1 0,14.2z"/>
<circle class="cr" cx="2103.5" cy="2538.6" r="7.1"/>
<path class="fr" d="M2103.5,2531.5a7.1,7.1 0 0 1 0,14.2z"/>
<circle class="cr" cx="2118.7" cy="2540.4" r="7.1"/>
<path class="fr" d="M2118.7,2533.3a7.1,7.1 0 0 1 0,14.2z"/>
<circle class="cr" cx="2133.8" cy="2538.4" r="7.1"/>
<path class="fr" d="M2133.8,2531.3a7.1,7.1 0 0 1 0,14.2z"/>
<circle class="cr" cx="2149.0" cy="2537.7" r="7.1"/>
<path class="fr" d="M2149.0,2530.6a7.1,7.1 0 0 1 0,14.2z"/>
<path d="M1239.4,2538.0 L1241.7,2538.0 L1244.0,2538.0 L1246.3,2538.0 L1248.6,2538.0 L1250.8,2538.0 L1253.1,2538.0 L1255.4,2538.0 L1257.7,2538.0 L1260.0,2538.0 L1262.3,2538.0 L1264.6,2538.0 L1266.9,2538.0 L1269.2,2538.0 L1271.5,2538.0 L1273.7,2538.0 L1276.0,2538.0 L1278.3,2538.0 L1280.6,2538.0 L1282.9,2538.0 L1285.2,2538.0 L1287.5,2538.0 L1289.8,2538.0 L1292.1,2538.0 L1294.4,2538.0 L1296.7,2538.0 L1298.9,2538.0 L1301.2,2538.0 L1303.5,2538.0 L1305.8,2538.0 L1308.1,2538.0 L1310.4,2538.0 L1312.7,2538.0 L1315.0,2538.0 L1317.3,2538.0 L1319.6,2538.0 L1321.8,2538.0 L1324.1,2538.0 L1326.4,2538.0 L1328.7,2538.0 L1331.0,2538.0 L1333.3,2538.0 L1335.6,2538.0 L1337.9,2538.0 L1340.2,2538.0 L1342.5,2538.0 L1344.7,2538.0 L1347.0,2538.0 L1349.3,2538.0 L1351.6,2538.0 L1353.9,2538.0 L1356.2,2538.0 L1358.5,2538.0 L1360.8,2538.0 L1363.1,2538.0 L1365.3,2538.0 L1367.6,2538.0 L1369.9,2538.0 L1372.2,2538.0 L1374.5,2538.0 L1376.8,2538.0 L1379.1,2538.0 L1381.4,2538.0 L1383.7,2538.0 L1386.0,2538.0 L1388.2,2538.0 L1390.5,2538.0 L1392.8,2538.0 L1395.1,2538.0 L1397.4,2538.0 L1399.7,2538.0 L1402.0,2538.0 L1404.3,2538.0 L1406.6,2538.0 L1408.9,2538.0 L1411.2,2538.0 L1413.4,2538.0 L1415.7,2538.0 L1418.0,2538.0 L1420.3,2538.0 L1422.6,2537.9 L1424.9,2537.9 L1427.2,2537.9 L1429.5,2537.9 L1431.8,2537.9 L1434.1,2537.9 L1436.3,2537.9 L1438.6,2537.8 L1440.9,2537.8 L1443.2,2537.8 L1445.5,2537.7 L1447.8,2537.7 L1450.1,2537.7 L1452.4,2537.6 L1454.7,2537.6 L1457.0,2537.5 L1459.2,2537.4 L1461.5,2537.3 L1463.8,2537.3 L1466.1,2537.2 L1468.4,2537.0 L1470.7,2536.9 L1473.0,2536.8 L1475.3,2536.6 L1477.6,2536.5 L1479.8,2536.3 L1482.1,2536.1 L1484.4,2535.8 L1486.7,2535.6 L1489.0,2535.3 L1491.3,2535.0 L1493.6,2534.6 L1495.9,2534.2 L1498.2,2533.8 L1500.5,2533.4 L1502.7,2532.9 L1505.0,2532.4 L1507.3,2531.8 L1509.6,2531.2 L1511.9,2530.5 L1514.2,2529.7 L1516.5,2529.0 L1518.8,2528.1 L1521.1,2527.2 L1523.4,2526.2 L1525.7,2525.2 L1527.9,2524.1 L1530.2,2522.9 L1532.5,2521.6 L1534.8,2520.3 L1537.1,2518.9 L1539.4,2517.4 L1541.7,2515.8 L1544.0,2514.1 L1546.3,2512.4 L1548.6,2510.6 L1550.8,2508.6 L1553.1,2506.6 L1555.4,2504.6 L1557.7,2502.4 L1560.0,2500.2 L1562.3,2497.9 L1564.6,2495.5 L1566.9,2493.0 L1569.2,2490.5 L1571.5,2487.9 L1573.7,2485.3 L1576.0,2482.6 L1578.3,2479.9 L1580.6,2477.1 L1582.9,2474.3 L1585.2,2471.5 L1587.5,2468.7 L1589.8,2465.9 L1592.1,2463.0 L1594.3,2460.2 L1596.6,2457.4 L1598.9,2454.6 L1601.2,2451.9 L1603.5,2449.3 L1605.8,2446.7 L1608.1,2444.1 L1610.4,2441.7 L1612.7,2439.3 L1615.0,2437.1 L1617.2,2434.9 L1619.5,2432.9 L1621.8,2431.0 L1624.1,2429.3 L1626.4,2427.7 L1628.7,2426.3 L1631.0,2425.0 L1633.3,2423.9 L1635.6,2423.0 L1637.9,2422.2 L1640.2,2421.6 L1642.4,2421.2 L1644.7,2421.0 L1647.0,2421.0 L1649.3,2421.2 L1651.6,2421.5 L1653.9,2422.1 L1656.2,2422.8 L1658.5,2423.7 L1660.8,2424.8 L1663.1,2426.0 L1665.3,2427.4 L1667.6,2429.0 L1669.9,2430.7 L1672.2,2432.5 L1674.5,2434.5 L1676.8,2436.6 L1679.1,2438.9 L1681.4,2441.2 L1683.7,2443.6 L1686.0,2446.1 L1688.2,2448.7 L1690.5,2451.4 L1692.8,2454.1 L1695.1,2456.9 L1697.4,2459.6 L1699.7,2462.5 L1702.0,2465.3 L1704.3,2468.1 L1706.6,2471.0 L1708.8,2473.8 L1711.1,2476.6 L1713.4,2479.3 L1715.7,2482.1 L1718.0,2484.8 L1720.3,2487.4 L1722.6,2490.0 L1724.9,2492.5 L1727.2,2495.0 L1729.5,2497.4 L1731.7,2499.7 L1734.0,2502.0 L1736.3,2504.2 L1738.6,2506.2 L1740.9,2508.3 L1743.2,2510.2 L1745.5,2512.0 L1747.8,2513.8 L1750.1,2515.5 L1752.4,2517.1 L1754.7,2518.6 L1756.9,2520.0 L1759.2,2521.3 L1761.5,2522.6 L1763.8,2523.8 L1766.1,2525.0 L1768.4,2526.0 L1770.7,2527.0 L1773.0,2527.9 L1775.3,2528.8 L1777.6,2529.6 L1779.8,2530.3 L1782.1,2531.0 L1784.4,2531.7 L1786.7,2532.2 L1789.0,2532.8 L1791.3,2533.3 L1793.6,2533.7 L1795.9,2534.2 L1798.2,2534.5 L1800.5,2534.9 L1802.7,2535.2 L1805.0,2535.5 L1807.3,2535.8 L1809.6,2536.0 L1811.9,2536.2 L1814.2,2536.4 L1816.5,2536.6 L1818.8,2536.8 L1821.1,2536.9 L1823.3,2537.0 L1825.6,2537.1 L1827.9,2537.2 L1830.2,2537.3 L1832.5,2537.4 L1834.8,2537.5 L1837.1,2537.5 L1839.4,2537.6 L1841.7,2537.7 L1844.0,2537.7 L1846.2,2537.7 L1848.5,2537.8 L1850.8,2537.8 L1853.1,2537.8 L1855.4,2537.9 L1857.7,2537.9 L1860.0,2537.9 L1862.3,2537.9 L1864.6,2537.9 L1866.9,2537.9 L1869.2,2537.9 L1871.4,2537.9 L1873.7,2538.0 L1876.0,2538.0 L1878.3,2538.0 L1880.6,2538.0 L1882.9,2538.0 L1885.2,2538.0 L1887.5,2538.0 L1889.8,2538.0 L1892.1,2538.0 L1894.3,2538.0 L1896.6,2538.0 L1898.9,2538.0 L1901.2,2538.0 L1903.5,2538.0 L1905.8,2538.0 L1908.1,2538.0 L1910.4,2538.0 L1912.7,2538.0 L1915.0,2538.0 L1917.2,2538.0 L1919.5,2538.0 L1921.8,2538.0 L1924.1,2538.0 L1926.4,2538.0 L1928.7,2538.0 L1931.0,2538.0 L1933.3,2538.0 L1935.6,2538.0 L1937.8,2538.0 L1940.1,2538.0 L1942.4,2538.0 L1944.7,2538.0 L1947.0,2538.0 L1949.3,2538.0 L1951.6,2538.0 L1953.9,2538.0 L1956.2,2538.0 L1958.5,2538.0 L1960.7,2538.0 L1963.0,2538.0 L1965.3,2538.0 L1967.6,2538.0 L1969.9,2538.0 L1972.2,2538.0 L1974.5,2538.0 L1976.8,2538.0 L1979.1,2538.0 L1981.4,2538.0 L1983.7,2538.0 L1985.9,2538.0 L1988.2,2538.0 L1990.5,2538.0 L1992.8,2538.0 L1995.1,2538.0 L1997.4,2538.0 L1999.7,2538.0 L2002.0,2538.0 L2004.3,2538.0 L2006.6,2538.0 L2008.8,2538.0 L2011.1,2538.0 L2013.4,2538.0 L2015.7,2538.0 L2018.0,2538.0 L2020.3,2538.0 L2022.6,2538.0 L2024.9,2538.0 L2027.2,2538.0 L2029.5,2538.0 L2031.7,2538.0 L2034.0,2538.0 L2036.3,2538.0 L2038.6,2538.0 L2040.9,2538.0 L2043.2,2538.0 L2045.5,2538.0 L2047.8,2538.0 L2050.1,2538.0 L2052.3,2538.0 L2054.6,2538.0 L2056.9,2538.0 L2059.2,2538.0 L2061.5,2538.0 L2063.8,2538.0 L2066.1,2538.0 L2068.4,2538.0 L2070.7,2538.0 L2073.0,2538.0 L2075.2,2538.0 L2077.5,2538.0 L2079.8,2538.0 L2082.1,2538.0 L2084.4,2538.0 L2086.7,2538.0 L2089.0,2538.0 L2091.3,2538.0 L2093.6,2538.0 L2095.9,2538.0 L2098.2,2538.0 L2100.4,2538.0 L2102.7,2538.0 L2105.0,2538.0 L2107.3,2538.0 L2109.6,2538.0 L2111.9,2538.0 L2114.2,2538.0 L2116.5,2538.0 L2118.8,2538.0 L2121.1,2538.0 L2123.3,2538.0 L2125.6,2538.0 L2127.9,2538.0 L2130.2,2538.0 L2132.5,2538.0 L2134.8,2538.0 L2137.1,2538.0 L2139.4,2538.0 L2141.7,2538.0 L2144.0,2538.0 L2146.2,2538.0 L2148.5,2538.0 L2150.8,2538.0 L2153.1,2538.0 L2155.4,2538.0" fill="none" stroke="#ff0000" stroke-width="6.5" stroke-linejoin="round"/>
<circle class="ck" cx="1239.4" cy="2672.4" r="7.1"/>
<path class="fk" d="M1239.4,2665.3a7.1,7.1 0 0 1 0,14.2z"/>
<circle class="ck" cx="1254.6" cy="2670.9" r="7.1"/>
<path class="fk" d="M1254.6,2663.8a7.1,7.1 0 0 1 0,14.2z"/>
<circle class="ck" cx="1269.7" cy="2666.9" r="7.1"/>
<path class="fk" d="M1269.7,2659.8a7.1,7.1 0 0 1 0,14.2z"/>
<circle class="ck" cx="1284.9" cy="2676.0" r="7.1"/>
<path class="fk" d="M1284.9,2668.9a7.1,7.1 0 0 1 0,14.2z"/>
<circle class="ck" cx="1300.0" cy="2664.4" r="7.1"/>
<path class="fk" d="M1300.0,2657.3a7.1,7.1 0 0 1 0,14.2z"/>
<circle class="ck" cx="1315.2" cy="2670.5" r="7.1"/>
<path class="fk" d="M1315.2,2663.4a7.1,7.1 0 0 1 0,14.2z"/>
<circle class="ck" cx="1330.4" cy="2667.0" r="7.1"/>
<path class="fk" d="M1330.4,2659.9a7.1,7.1 0 0 1 0,14.2z"/>
<circle class="ck" cx="1345.5" cy="2668.2" r="7.1"/>
<path class="fk" d="M1345.5,2661.1a7.1,7.1 0 0 1 0,14.2z"/>
<circle class="ck" cx="1360.7" cy="2669.9" r="7.1"/>
<path class="fk" d="M1360.7,2662.8a7.1,7.1 0 0 1 0,14.2z"/>
<circle class="ck" cx="1375.8" cy="2668.5" r="7.1"/>
<path class="fk" d="M1375.8,2661.4a7.1,7.1 0 0 1 0,14.2z"/>
<circle class="ck" cx="1391.0" cy="2669.7" r="7.1"/>
<path class="fk" d="M1391.0,2662.6a7.1,7.1 0 0 1 0,14.2z"/>
<circle class="ck" cx="1406.2" cy="2663.2" r="7.1"/>
<path class="fk" d="M1406.2,2656.1a7.1,7.1 0 0 1 0,14.2z"/>
<circle class="ck" cx="1421.3" cy="2663.1" r="7.1"/>
<path class="fk" d="M1421.3,2656.0a7.1,7.1 0 0 1 0,14.2z"/>
<circle class="ck" cx="1436.5" cy="2669.3" r="7.1"/>
<path class="fk" d="M1436.5,2662.2a7.1,7.1 0 0 1 0,14.2z"/>
<circle class="ck" cx="1451.6" cy="2664.1" r="7.1"/>
<path class="fk" d="M1451.6,2657.0a7.1,7.1 0 0 1 0,14.2z"/>
<circle class="ck" cx="1466.8" cy="2663.0" r="7.1"/>
<path class="fk" d="M1466.8,2655.9a7.1,7.1 0 0 1 0,14.2z"/>
<circle class="ck" cx="1482.0" cy="2660.0" r="7.1"/>
<path class="fk" d="M1482.0,2652.9a7.1,7.1 0 0 1 0,14.2z"/>
<circle class="ck" cx="1497.1" cy="2665.3" r="7.1"/>
<path class="fk" d="M1497.1,2658.2a7.1,7.1 0 0 1 0,14.2z"/>
<circle class="ck" cx="1512.3" cy="2658.9" r="7.1"/>
<path class="fk" d="M1512.3,2651.8a7.1,7.1 0 0 1 0,14.2z"/>
<circle class="ck" cx="1527.4" cy="2653.6" r="7.1"/>
<path class="fk" d="M1527.4,2646.5a7.1,7.1 0 0 1 0,14.2z"/>
<circle class="ck" cx="1542.6" cy="2636.0" r="7.1"/>
<path class="fk" d="M1542.6,2628.9a7.1,7.1 0 0 1 0,14.2z"/>
<circle class="ck" cx="1557.8" cy="2625.2" r="7.1"/>
<path class="fk" d="M1557.8,2618.1a7.1,7.1 0 0 1 0,14.2z"/>
<circle class="ck" cx="1572.9" cy="2605.6" r="7.1"/>
<path class="fk" d="M1572.9,2598.5a7.1,7.1 0 0 1 0,14.2z"/>
<circle class="ck" cx="1588.1" cy="2593.9" r="7.1"/>
<path class="fk" d="M1588.1,2586.8a7.1,7.1 0 0 1 0,14.2z"/>
<circle class="ck" cx="1603.2" cy="2579.6" r="7.1"/>
<path class="fk" d="M1603.2,2572.5a7.1,7.1 0 0 1 0,14.2z"/>
<circle class="ck" cx="1618.4" cy="2558.6" r="7.1"/>
<path class="fk" d="M1618.4,2551.5a7.1,7.1 0 0 1 0,14.2z"/>
<circle class="ck" cx="1633.6" cy="2557.7" r="7.1"/>
<path class="fk" d="M1633.6,2550.6a7.1,7.1 0 0 1 0,14.2z"/>
<circle class="ck" cx="1648.7" cy="2554.5" r="7.1"/>
<path class="fk" d="M1648.7,2547.4a7.1,7.1 0 0 1 0,14.2z"/>
<circle class="ck" cx="1663.9" cy="2556.5" r="7.1"/>
<path class="fk" d="M1663.9,2549.4a7.1,7.1 0 0 1 0,14.2z"/>
<circle class="ck" cx="1679.0" cy="2562.8" r="7.1"/>
<path class="fk" d="M1679.0,2555.7a7.1,7.1 0 0 1 0,14.2z"/>
<circle class="ck" cx="1694.2" cy="2588.6" r="7.1"/>
<path class="fk" d="M1694.2,2581.5a7.1,7.1 0 0 1 0,14.2z"/>
<circle class="ck" cx="1709.4" cy="2601.6" r="7.1"/>
<path class="fk" d="M1709.4,2594.5a7.1,7.1 0 0 1 0,14.2z"/>
<circle class="ck" cx="1724.5" cy="2617.0" r="7.1"/>
<path class="fk" d="M1724.5,2609.9a7.1,7.1 0 0 1 0,14.2z"/>
<circle class="ck" cx="1739.7" cy="2634.7" r="7.1"/>
<path class="fk" d="M1739.7,2627.6a7.1,7.1 0 0 1 0,14.2z"/>
<circle class="ck" cx="1754.8" cy="2646.5" r="7.1"/>
<path class="fk" d="M1754.8,2639.4a7.1,7.1 0 0 1 0,14.2z"/>
<circle class="ck" cx="1770.0" cy="2658.4" r="7.1"/>
<path class="fk" d="M1770.0,2651.3a7.1,7.1 0 0 1 0,14.2z"/>
<circle class="ck" cx="1785.2" cy="2656.7" r="7.1"/>
<path class="fk" d="M1785.2,2649.6a7.1,7.1 0 0 1 0,14.2z"/>
<circle class="ck" cx="1800.3" cy="2666.8" r="7.1"/>
<path class="fk" d="M1800.3,2659.7a7.1,7.1 0 0 1 0,14.2z"/>
<circle class="ck" cx="1815.5" cy="2670.0" r="7.1"/>
<path class="fk" d="M1815.5,2662.9a7.1,7.1 0 0 1 0,14.2z"/>
<circle class="ck" cx="1830.6" cy="2671.1" r="7.1"/>
<path class="fk" d="M1830.6,2664.0a7.1,7.1 0 0 1 0,14.2z"/>
<circle class="ck" cx="1845.8" cy="2666.8" r="7.1"/>
<path class="fk" d="M1845.8,2659.7a7.1,7.1 0 0 1 0,14.2z"/>
<circle class="ck" cx="1861.0" cy="2665.4" r="7.1"/>
<path class="fk" d="M1861.0,2658.3a7.1,7.1 0 0 1 0,14.2z"/>
<circle class="ck" cx="1876.1" cy="2670.8" r="7.1"/>
<path class="fk" d="M1876.1,2663.7a7.1,7.1 0 0 1 0,14.2z"/>
<circle class="ck" cx="1891.3" cy="2668.1" r="7.1"/>
<path class="fk" d="M1891.3,2661.0a7.1,7.1 0 0 1 0,14.2z"/>
<circle class="ck" cx="1906.4" cy="2668.2" r="7.1"/>
<path class="fk" d="M1906.4,2661.1a7.1,7.1 0 0 1 0,14.2z"/>
<circle class="ck" cx="1921.6" cy="2672.1" r="7.1"/>
<path class="fk" d="M1921.6,2665.0a7.1,7.1 0 0 1 0,14.2z"/>
<circle class="ck" cx="1936.8" cy="2667.0" r="7.1"/>
<path class="fk" d="M1936.8,2659.9a7.1,7.1 0 0 1 0,14.2z"/>
<circle class="ck" cx="1951.9" cy="2660.9" r="7.1"/>
<path class="fk" d="M1951.9,2653.8a7.1,7.1 0 0 1 0,14.2z"/>
<circle class="ck" cx="1967.1" cy="2666.6" r="7.1"/>
<path class="fk" d="M1967.1,2659.5a7.1,7.1 0 0 1 0,14.2z"/>
<circle class="ck" cx="1982.2" cy="2662.2" r="7.1"/>
<path class="fk" d="M1982.2,2655.1a7.1,7.1 0 0 1 0,14.2z"/>
<circle class="ck" cx="1997.4" cy="2670.3" r="7.1"/>
<path class="fk" d="M1997.4,2663.2a7.1,7.1 0 0 1 0,14.2z"/>
<circle class="ck" cx="2012.5" cy="2668.8" r="7.1"/>
<path class="fk" d="M2012.5,2661.7a7.1,7.1 0 0 1 0,14.2z"/>
<circle class="ck" cx="2027.7" cy="2666.0" r="7.1"/>
<path class="fk" d="M2027.7,2658.9a7.1,7.1 0 0 1 0,14.2z"/>
<circle class="ck" cx="2042.9" cy="2667.8" r="7.1"/>
<path class="fk" d="M2042.9,2660.7a7.1,7.1 0 0 1 0,14.2z"/>
<circle class="ck" cx="2058.0" cy="2670.3" r="7.1"/>
<path class="fk" d="M2058.0,2663.2a7.1,7.1 0 0 1 0,14.2z"/>
<circle class="ck" cx="2073.2" cy="2668.0" r="7.1"/>
<path class="fk" d="M2073.2,2660.9a7.1,7.1 0 0 1 0,14.2z"/>
<circle class="ck" cx="2088.3" cy="2671.8" r="7.1"/>
<path class="fk" d="M2088.3,2664.7a7.1,7.1 0 0 1 0,14.2z"/>
<circle class="ck" cx="2103.5" cy="2667.6" r="7.1"/>
<path class="fk" d="M2103.5,2660.5a7.1,7.1 0 0 1 0,14.2z"/>
<circle class="ck" cx="2118.7" cy="2670.9" r="7.1"/>
<path class="fk" d="M2118.7,2663.8a7.1,7.1 0 0 1 0,14.2z"/>
<circle class="ck" cx="2133.8" cy="2672.3" r="7.1"/>
<path class="fk" d="M2133.8,2665.2a7.1,7.1 0 0 1 0,14.2z"/>
<circle class="ck" cx="2149.0" cy="2672.6" r="7.1"/>
<path class="fk" d="M2149.0,2665.5a7.1,7.1 0 0 1 0,14.2z"/>
<path d="M1239.4,2667.8 L1241.7,2667.8 L1244.0,2667.8 L1246.3,2667.8 L1248.6,2667.8 L1250.8,2667.8 L1253.1,2667.8 L1255.4,2667.8 L1257.7,2667.8 L1260.0,2667.8 L1262.3,2667.8 L1264.6,2667.8 L1266.9,2667.8 L1269.2,2667.8 L1271.5,2667.8 L1273.7,2667.8 L1276.0,2667.8 L1278.3,2667.8 L1280.6,2667.8 L1282.9,2667.8 L1285.2,2667.8 L1287.5,2667.8 L1289.8,2667.8 L1292.1,2667.8 L1294.4,2667.8 L1296.7,2667.8 L1298.9,2667.8 L1301.2,2667.8 L1303.5,2667.8 L1305.8,2667.8 L1308.1,2667.8 L1310.4,2667.8 L1312.7,2667.8 L1315.0,2667.8 L1317.3,2667.8 L1319.6,2667.8 L1321.8,2667.8 L1324.1,2667.8 L1326.4,2667.8 L1328.7,2667.8 L1331.0,2667.8 L1333.3,2667.8 L1335.6,2667.8 L1337.9,2667.8 L1340.2,2667.8 L1342.5,2667.8 L1344.7,2667.8 L1347.0,2667.8 L1349.3,2667.8 L1351.6,2667.8 L1353.9,2667.8 L1356.2,2667.8 L1358.5,2667.8 L1360.8,2667.8 L1363.1,2667.8 L1365.3,2667.8 L1367.6,2667.8 L1369.9,2667.8 L1372.2,2667.8 L1374.5,2667.8 L1376.8,2667.8 L1379.1,2667.8 L1381.4,2667.8 L1383.7,2667.8 L1386.0,2667.8 L1388.2,2667.8 L1390.5,2667.8 L1392.8,2667.8 L1395.1,2667.8 L1397.4,2667.8 L1399.7,2667.8 L1402.0,2667.8 L1404.3,2667.7 L1406.6,2667.7 L1408.9,2667.7 L1411.2,2667.7 L1413.4,2667.7 L1415.7,2667.7 L1418.0,2667.7 L1420.3,2667.7 L1422.6,2667.6 L1424.9,2667.6 L1427.2,2667.6 L1429.5,2667.6 L1431.8,2667.5 L1434.1,2667.5 L1436.3,2667.5 L1438.6,2667.4 L1440.9,2667.4 L1443.2,2667.3 L1445.5,2667.2 L1447.8,2667.2 L1450.1,2667.1 L1452.4,2667.0 L1454.7,2666.9 L1457.0,2666.8 L1459.2,2666.6 L1461.5,2666.5 L1463.8,2666.3 L1466.1,2666.2 L1468.4,2666.0 L1470.7,2665.8 L1473.0,2665.6 L1475.3,2665.3 L1477.6,2665.0 L1479.8,2664.7 L1482.1,2664.4 L1484.4,2664.1 L1486.7,2663.7 L1489.0,2663.3 L1491.3,2662.8 L1493.6,2662.3 L1495.9,2661.8 L1498.2,2661.2 L1500.5,2660.6 L1502.7,2659.9 L1505.0,2659.2 L1507.3,2658.5 L1509.6,2657.6 L1511.9,2656.8 L1514.2,2655.8 L1516.5,2654.8 L1518.8,2653.8 L1521.1,2652.7 L1523.4,2651.5 L1525.7,2650.3 L1527.9,2648.9 L1530.2,2647.5 L1532.5,2646.1 L1534.8,2644.6 L1537.1,2642.9 L1539.4,2641.3 L1541.7,2639.5 L1544.0,2637.7 L1546.3,2635.8 L1548.6,2633.8 L1550.8,2631.8 L1553.1,2629.7 L1555.4,2627.5 L1557.7,2625.3 L1560.0,2623.0 L1562.3,2620.6 L1564.6,2618.2 L1566.9,2615.7 L1569.2,2613.2 L1571.5,2610.7 L1573.7,2608.1 L1576.0,2605.5 L1578.3,2602.9 L1580.6,2600.2 L1582.9,2597.6 L1585.2,2594.9 L1587.5,2592.3 L1589.8,2589.6 L1592.1,2587.0 L1594.3,2584.4 L1596.6,2581.9 L1598.9,2579.4 L1601.2,2576.9 L1603.5,2574.6 L1605.8,2572.3 L1608.1,2570.0 L1610.4,2567.9 L1612.7,2565.9 L1615.0,2563.9 L1617.2,2562.1 L1619.5,2560.4 L1621.8,2558.8 L1624.1,2557.4 L1626.4,2556.1 L1628.7,2554.9 L1631.0,2553.9 L1633.3,2553.1 L1635.6,2552.4 L1637.9,2551.8 L1640.2,2551.5 L1642.4,2551.3 L1644.7,2551.2 L1647.0,2551.3 L1649.3,2551.6 L1651.6,2552.0 L1653.9,2552.6 L1656.2,2553.4 L1658.5,2554.3 L1660.8,2555.4 L1663.1,2556.6 L1665.3,2558.0 L1667.6,2559.5 L1669.9,2561.1 L1672.2,2562.8 L1674.5,2564.7 L1676.8,2566.7 L1679.1,2568.7 L1681.4,2570.9 L1683.7,2573.2 L1686.0,2575.5 L1688.2,2577.9 L1690.5,2580.4 L1692.8,2582.9 L1695.1,2585.5 L1697.4,2588.1 L1699.7,2590.7 L1702.0,2593.3 L1704.3,2596.0 L1706.6,2598.6 L1708.8,2601.3 L1711.1,2603.9 L1713.4,2606.5 L1715.7,2609.1 L1718.0,2611.7 L1720.3,2614.2 L1722.6,2616.7 L1724.9,2619.2 L1727.2,2621.6 L1729.5,2623.9 L1731.7,2626.2 L1734.0,2628.4 L1736.3,2630.5 L1738.6,2632.6 L1740.9,2634.6 L1743.2,2636.6 L1745.5,2638.4 L1747.8,2640.2 L1750.1,2641.9 L1752.4,2643.6 L1754.7,2645.2 L1756.9,2646.7 L1759.2,2648.1 L1761.5,2649.5 L1763.8,2650.8 L1766.1,2652.0 L1768.4,2653.1 L1770.7,2654.2 L1773.0,2655.3 L1775.3,2656.2 L1777.6,2657.1 L1779.8,2658.0 L1782.1,2658.8 L1784.4,2659.5 L1786.7,2660.2 L1789.0,2660.8 L1791.3,2661.4 L1793.6,2662.0 L1795.9,2662.5 L1798.2,2663.0 L1800.5,2663.4 L1802.7,2663.8 L1805.0,2664.2 L1807.3,2664.5 L1809.6,2664.9 L1811.9,2665.1 L1814.2,2665.4 L1816.5,2665.6 L1818.8,2665.9 L1821.1,2666.1 L1823.3,2666.2 L1825.6,2666.4 L1827.9,2666.6 L1830.2,2666.7 L1832.5,2666.8 L1834.8,2666.9 L1837.1,2667.0 L1839.4,2667.1 L1841.7,2667.2 L1844.0,2667.3 L1846.2,2667.3 L1848.5,2667.4 L1850.8,2667.4 L1853.1,2667.5 L1855.4,2667.5 L1857.7,2667.5 L1860.0,2667.6 L1862.3,2667.6 L1864.6,2667.6 L1866.9,2667.7 L1869.2,2667.7 L1871.4,2667.7 L1873.7,2667.7 L1876.0,2667.7 L1878.3,2667.7 L1880.6,2667.7 L1882.9,2667.7 L1885.2,2667.8 L1887.5,2667.8 L1889.8,2667.8 L1892.1,2667.8 L1894.3,2667.8 L1896.6,2667.8 L1898.9,2667.8 L1901.2,2667.8 L1903.5,2667.8 L1905.8,2667.8 L1908.1,2667.8 L1910.4,2667.8 L1912.7,2667.8 L1915.0,2667.8 L1917.2,2667.8 L1919.5,2667.8 L1921.8,2667.8 L1924.1,2667.8 L1926.4,2667.8 L1928.7,2667.8 L1931.0,2667.8 L1933.3,2667.8 L1935.6,2667.8 L1937.8,2667.8 L1940.1,2667.8 L1942.4,2667.8 L1944.7,2667.8 L1947.0,2667.8 L1949.3,2667.8 L1951.6,2667.8 L1953.9,2667.8 L1956.2,2667.8 L1958.5,2667.8 L1960.7,2667.8 L1963.0,2667.8 L1965.3,2667.8 L1967.6,2667.8 L1969.9,2667.8 L1972.2,2667.8 L1974.5,2667.8 L1976.8,2667.8 L1979.1,2667.8 L1981.4,2667.8 L1983.7,2667.8 L1985.9,2667.8 L1988.2,2667.8 L1990.5,2667.8 L1992.8,2667.8 L1995.1,2667.8 L1997.4,2667.8 L1999.7,2667.8 L2002.0,2667.8 L2004.3,2667.8 L2006.6,2667.8 L2008.8,2667.8 L2011.1,2667.8 L2013.4,2667.8 L2015.7,2667.8 L2018.0,2667.8 L2020.3,2667.8 L2022.6,2667.8 L2024.9,2667.8 L2027.2,2667.8 L2029.5,2667.8 L2031.7,2667.8 L2034.0,2667.8 L2036.3,2667.8 L2038.6,2667.8 L2040.9,2667.8 L2043.2,2667.8 L2045.5,2667.8 L2047.8,2667.8 L2050.1,2667.8 L2052.3,2667.8 L2054.6,2667.8 L2056.9,2667.8 L2059.2,2667.8 L2061.5,2667.8 L2063.8,2667.8 L2066.1,2667.8 L2068.4,2667.8 L2070.7,2667.8 L2073.0,2667.8 L2075.2,2667.8 L2077.5,2667.8 L2079.8,2667.8 L2082.1,2667.8 L2084.4,2667.8 L2086.7,2667.8 L2089.0,2667.8 L2091.3,2667.8 L2093.6,2667.8 L2095.9,2667.8 L2098.2,2667.8 L2100.4,2667.8 L2102.7,2667.8 L2105.0,2667.8 L2107.3,2667.8 L2109.6,2667.8 L2111.9,2667.8 L2114.2,2667.8 L2116.5,2667.8 L2118.8,2667.8 L2121.1,2667.8 L2123.3,2667.8 L2125.6,2667.8 L2127.9,2667.8 L2130.2,2667.8 L2132.5,2667.8 L2134.8,2667.8 L2137.1,2667.8 L2139.4,2667.8 L2141.7,2667.8 L2144.0,2667.8 L2146.2,2667.8 L2148.5,2667.8 L2150.8,2667.8 L2153.1,2667.8 L2155.4,2667.8" fill="none" stroke="#000000" stroke-width="6.5" stroke-linejoin="round"/>
<line x1="1652.5" y1="2100.0" x2="1652.5" y2="2730.0" stroke="#9a00c8" stroke-width="8" stroke-dasharray="9.8 7"/>
<rect x="1239.4" y="2095.0" width="916.1" height="654.8" fill="none" stroke="#000" stroke-width="3.4" />
<line x1="1239.4" y1="2749.8" x2="1239.4" y2="2760.8" stroke="#000" stroke-width="3.4" />
<text x="1239.4" y="2802.9" font-size="44" font-family="'Liberation Sans', sans-serif" fill="#000" text-anchor="middle" textLength="80.5" lengthAdjust="spacingAndGlyphs" stroke="#000" stroke-width="0.9">27.5</text>
<line x1="1353.9" y1="2749.8" x2="1353.9" y2="2756.3" stroke="#000" stroke-width="3.4" />
<line x1="1468.4" y1="2749.8" x2="1468.4" y2="2760.8" stroke="#000" stroke-width="3.4" />
<text x="1468.4" y="2802.9" font-size="44" font-family="'Liberation Sans', sans-serif" fill="#000" text-anchor="middle" textLength="80.5" lengthAdjust="spacingAndGlyphs" stroke="#000" stroke-width="0.9">28.0</text>
<line x1="1582.9" y1="2749.8" x2="1582.9" y2="2756.3" stroke="#000" stroke-width="3.4" />
<line x1="1697.4" y1="2749.8" x2="1697.4" y2="2760.8" stroke="#000" stroke-width="3.4" />
<text x="1697.4" y="2802.9" font-size="44" font-family="'Liberation Sans', sans-serif" fill="#000" text-anchor="middle" textLength="80.5" lengthAdjust="spacingAndGlyphs" stroke="#000" stroke-width="0.9">28.5</text>
<line x1="1811.9" y1="2749.8" x2="1811.9" y2="2756.3" stroke="#000" stroke-width="3.4" />
<line x1="1926.4" y1="2749.8" x2="1926.4" y2="2760.8" stroke="#000" stroke-width="3.4" />
<text x="1926.4" y="2802.9" font-size="44" font-family="'Liberation Sans', sans-serif" fill="#000" text-anchor="middle" textLength="80.5" lengthAdjust="spacingAndGlyphs" stroke="#000" stroke-width="0.9">29.0</text>
<line x1="2040.9" y1="2749.8" x2="2040.9" y2="2756.3" stroke="#000" stroke-width="3.4" />
<line x1="2155.4" y1="2749.8" x2="2155.4" y2="2760.8" stroke="#000" stroke-width="3.4" />
<text x="2155.4" y="2802.9" font-size="44" font-family="'Liberation Sans', sans-serif" fill="#000" text-anchor="middle" textLength="80.5" lengthAdjust="spacingAndGlyphs" stroke="#000" stroke-width="0.9">29.5</text>
<text x="1648.0" y="2875.6" font-size="43" font-family="'Liberation Sans', sans-serif" fill="#000" textLength="98" lengthAdjust="spacingAndGlyphs" stroke="#000" stroke-width="0.9">2θ (°)</text>
<text x="1197.4" y="2422.0" font-size="43" font-family="'Liberation Sans', sans-serif" fill="#000" text-anchor="middle" textLength="473" lengthAdjust="spacingAndGlyphs" transform="rotate(-90 1197.4 2422.0)" stroke="#000" stroke-width="0.9">Normalized intensity (a.u)</text>
<text x="1827.0" y="2141.5" font-size="40.5" font-family="'Liberation Sans', sans-serif" fill="#000" textLength="317.5" lengthAdjust="spacingAndGlyphs" stroke="#000" stroke-width="0.9" style="white-space:pre">Strain-free 80 °C</text>
<text x="2046.6" y="2246.8" font-size="37.5" font-family="'Liberation Sans', sans-serif" fill="#000" textLength="81.8" lengthAdjust="spacingAndGlyphs" stroke="#000" stroke-width="0.9" style="white-space:pre">Ψ=5°</text>
<text x="2008.5" y="2375.8" font-size="37.5" font-family="'Liberation Sans', sans-serif" fill="#000" textLength="131.1" lengthAdjust="spacingAndGlyphs" stroke="#000" stroke-width="0.9" style="white-space:pre">Ψ=4.08°</text>
<text x="1999.0" y="2507.0" font-size="37.5" font-family="'Liberation Sans', sans-serif" fill="#000" textLength="133" lengthAdjust="spacingAndGlyphs" stroke="#000" stroke-width="0.9" style="white-space:pre">Ψ=2.88°</text>
<text x="2054.7" y="2645.0" font-size="37.5" font-family="'Liberation Sans', sans-serif" fill="#000" textLength="68.6" lengthAdjust="spacingAndGlyphs" stroke="#000" stroke-width="0.9" style="white-space:pre">Ψ=0</text>
<rect x="1640.0" y="2877.3" width="120.0" height="12.0" fill="#fff" stroke="none" stroke-width="0" />
<circle class="cb" cx="159.4" cy="3251.7" r="7.1"/>
<path class="fb" d="M159.4,3244.6a7.1,7.1 0 0 1 0,14.2z"/>
<circle class="cb" cx="174.5" cy="3258.4" r="7.1"/>
<path class="fb" d="M174.5,3251.3a7.1,7.1 0 0 1 0,14.2z"/>
<circle class="cb" cx="189.5" cy="3261.0" r="7.1"/>
<path class="fb" d="M189.5,3253.9a7.1,7.1 0 0 1 0,14.2z"/>
<circle class="cb" cx="204.6" cy="3254.6" r="7.1"/>
<path class="fb" d="M204.6,3247.5a7.1,7.1 0 0 1 0,14.2z"/>
<circle class="cb" cx="219.6" cy="3251.2" r="7.1"/>
<path class="fb" d="M219.6,3244.1a7.1,7.1 0 0 1 0,14.2z"/>
<circle class="cb" cx="234.7" cy="3256.5" r="7.1"/>
<path class="fb" d="M234.7,3249.4a7.1,7.1 0 0 1 0,14.2z"/>
<circle class="cb" cx="249.8" cy="3258.8" r="7.1"/>
<path class="fb" d="M249.8,3251.7a7.1,7.1 0 0 1 0,14.2z"/>
<circle class="cb" cx="264.8" cy="3261.4" r="7.1"/>
<path class="fb" d="M264.8,3254.3a7.1,7.1 0 0 1 0,14.2z"/>
<circle class="cb" cx="279.9" cy="3251.7" r="7.1"/>
<path class="fb" d="M279.9,3244.6a7.1,7.1 0 0 1 0,14.2z"/>
<circle class="cb" cx="294.9" cy="3251.4" r="7.1"/>
<path class="fb" d="M294.9,3244.3a7.1,7.1 0 0 1 0,14.2z"/>
<circle class="cb" cx="310.0" cy="3259.7" r="7.1"/>
<path class="fb" d="M310.0,3252.6a7.1,7.1 0 0 1 0,14.2z"/>
<circle class="cb" cx="325.1" cy="3258.7" r="7.1"/>
<path class="fb" d="M325.1,3251.6a7.1,7.1 0 0 1 0,14.2z"/>
<circle class="cb" cx="340.1" cy="3263.1" r="7.1"/>
<path class="fb" d="M340.1,3256.0a7.1,7.1 0 0 1 0,14.2z"/>
<circle class="cb" cx="355.2" cy="3260.7" r="7.1"/>
<path class="fb" d="M355.2,3253.6a7.1,7.1 0 0 1 0,14.2z"/>
<circle class="cb" cx="370.2" cy="3255.8" r="7.1"/>
<path class="fb" d="M370.2,3248.7a7.1,7.1 0 0 1 0,14.2z"/>
<circle class="cb" cx="385.3" cy="3254.4" r="7.1"/>
<path class="fb" d="M385.3,3247.3a7.1,7.1 0 0 1 0,14.2z"/>
<circle class="cb" cx="400.4" cy="3265.2" r="7.1"/>
<path class="fb" d="M400.4,3258.1a7.1,7.1 0 0 1 0,14.2z"/>
<circle class="cb" cx="415.4" cy="3251.0" r="7.1"/>
<path class="fb" d="M415.4,3243.9a7.1,7.1 0 0 1 0,14.2z"/>
<circle class="cb" cx="430.5" cy="3245.5" r="7.1"/>
<path class="fb" d="M430.5,3238.4a7.1,7.1 0 0 1 0,14.2z"/>
<circle class="cb" cx="445.5" cy="3238.5" r="7.1"/>
<path class="fb" d="M445.5,3231.4a7.1,7.1 0 0 1 0,14.2z"/>
<circle class="cb" cx="460.6" cy="3235.8" r="7.1"/>
<path class="fb" d="M460.6,3228.7a7.1,7.1 0 0 1 0,14.2z"/>
<circle class="cb" cx="475.7" cy="3225.2" r="7.1"/>
<path class="fb" d="M475.7,3218.1a7.1,7.1 0 0 1 0,14.2z"/>
<circle class="cb" cx="490.7" cy="3209.5" r="7.1"/>
<path class="fb" d="M490.7,3202.4a7.1,7.1 0 0 1 0,14.2z"/>
<circle class="cb" cx="505.8" cy="3194.8" r="7.1"/>
<path class="fb" d="M505.8,3187.7a7.1,7.1 0 0 1 0,14.2z"/>
<circle class="cb" cx="520.9" cy="3179.2" r="7.1"/>
<path class="fb" d="M520.9,3172.1a7.1,7.1 0 0 1 0,14.2z"/>
<circle class="cb" cx="535.9" cy="3164.7" r="7.1"/>
<path class="fb" d="M535.9,3157.6a7.1,7.1 0 0 1 0,14.2z"/>
<circle class="cb" cx="551.0" cy="3152.8" r="7.1"/>
<path class="fb" d="M551.0,3145.7a7.1,7.1 0 0 1 0,14.2z"/>
<circle class="cb" cx="566.0" cy="3140.1" r="7.1"/>
<path class="fb" d="M566.0,3133.0a7.1,7.1 0 0 1 0,14.2z"/>
<circle class="cb" cx="581.1" cy="3128.8" r="7.1"/>
<path class="fb" d="M581.1,3121.7a7.1,7.1 0 0 1 0,14.2z"/>
<circle class="cb" cx="596.2" cy="3142.9" r="7.1"/>
<path class="fb" d="M596.2,3135.8a7.1,7.1 0 0 1 0,14.2z"/>
<circle class="cb" cx="611.2" cy="3143.5" r="7.1"/>
<path class="fb" d="M611.2,3136.4a7.1,7.1 0 0 1 0,14.2z"/>
<circle class="cb" cx="626.3" cy="3162.7" r="7.1"/>
<path class="fb" d="M626.3,3155.6a7.1,7.1 0 0 1 0,14.2z"/>
<circle class="cb" cx="641.3" cy="3173.8" r="7.1"/>
<path class="fb" d="M641.3,3166.7a7.1,7.1 0 0 1 0,14.2z"/>
<circle class="cb" cx="656.4" cy="3196.9" r="7.1"/>
<path class="fb" d="M656.4,3189.8a7.1,7.1 0 0 1 0,14.2z"/>
<circle class="cb" cx="671.5" cy="3209.3" r="7.1"/>
<path class="fb" d="M671.5,3202.2a7.1,7.1 0 0 1 0,14.2z"/>
<circle class="cb" cx="686.5" cy="3226.8" r="7.1"/>
<path class="fb" d="M686.5,3219.7a7.1,7.1 0 0 1 0,14.2z"/>
<circle class="cb" cx="701.6" cy="3250.2" r="7.1"/>
<path class="fb" d="M701.6,3243.1a7.1,7.1 0 0 1 0,14.2z"/>
<circle class="cb" cx="716.6" cy="3243.8" r="7.1"/>
<path class="fb" d="M716.6,3236.7a7.1,7.1 0 0 1 0,14.2z"/>
<circle class="cb" cx="731.7" cy="3252.8" r="7.1"/>
<path class="fb" d="M731.7,3245.7a7.1,7.1 0 0 1 0,14.2z"/>
<circle class="cb" cx="746.8" cy="3247.0" r="7.1"/>
<path class="fb" d="M746.8,3239.9a7.1,7.1 0 0 1 0,14.2z"/>
<circle class="cb" cx="761.8" cy="3253.3" r="7.1"/>
<path class="fb" d="M761.8,3246.2a7.1,7.1 0 0 1 0,14.2z"/>
<circle class="cb" cx="776.9" cy="3258.4" r="7.1"/>
<path class="fb" d="M776.9,3251.3a7.1,7.1 0 0 1 0,14.2z"/>
<circle class="cb" cx="791.9" cy="3255.9" r="7.1"/>
<path class="fb" d="M791.9,3248.8a7.1,7.1 0 0 1 0,14.2z"/>
<circle class="cb" cx="807.0" cy="3258.1" r="7.1"/>
<path class="fb" d="M807.0,3251.0a7.1,7.1 0 0 1 0,14.2z"/>
<circle class="cb" cx="822.1" cy="3257.1" r="7.1"/>
<path class="fb" d="M822.1,3250.0a7.1,7.1 0 0 1 0,14.2z"/>
<circle class="cb" cx="837.1" cy="3252.5" r="7.1"/>
<path class="fb" d="M837.1,3245.4a7.1,7.1 0 0 1 0,14.2z"/>
<circle class="cb" cx="852.2" cy="3259.2" r="7.1"/>
<path class="fb" d="M852.2,3252.1a7.1,7.1 0 0 1 0,14.2z"/>
<circle class="cb" cx="867.2" cy="3253.4" r="7.1"/>
<path class="fb" d="M867.2,3246.3a7.1,7.1 0 0 1 0,14.2z"/>
<circle class="cb" cx="882.3" cy="3264.7" r="7.1"/>
<path class="fb" d="M882.3,3257.6a7.1,7.1 0 0 1 0,14.2z"/>
<circle class="cb" cx="897.4" cy="3254.7" r="7.1"/>
<path class="fb" d="M897.4,3247.6a7.1,7.1 0 0 1 0,14.2z"/>
<circle class="cb" cx="912.4" cy="3259.7" r="7.1"/>
<path class="fb" d="M912.4,3252.6a7.1,7.1 0 0 1 0,14.2z"/>
<circle class="cb" cx="927.5" cy="3256.8" r="7.1"/>
<path class="fb" d="M927.5,3249.7a7.1,7.1 0 0 1 0,14.2z"/>
<circle class="cb" cx="942.5" cy="3260.8" r="7.1"/>
<path class="fb" d="M942.5,3253.7a7.1,7.1 0 0 1 0,14.2z"/>
<circle class="cb" cx="957.6" cy="3254.3" r="7.1"/>
<path class="fb" d="M957.6,3247.2a7.1,7.1 0 0 1 0,14.2z"/>
<circle class="cb" cx="972.7" cy="3261.0" r="7.1"/>
<path class="fb" d="M972.7,3253.9a7.1,7.1 0 0 1 0,14.2z"/>
<circle class="cb" cx="987.7" cy="3256.3" r="7.1"/>
<path class="fb" d="M987.7,3249.2a7.1,7.1 0 0 1 0,14.2z"/>
<circle class="cb" cx="1002.8" cy="3262.1" r="7.1"/>
<path class="fb" d="M1002.8,3255.0a7.1,7.1 0 0 1 0,14.2z"/>
<circle class="cb" cx="1017.8" cy="3259.4" r="7.1"/>
<path class="fb" d="M1017.8,3252.3a7.1,7.1 0 0 1 0,14.2z"/>
<circle class="cb" cx="1032.9" cy="3257.4" r="7.1"/>
<path class="fb" d="M1032.9,3250.3a7.1,7.1 0 0 1 0,14.2z"/>
<circle class="cb" cx="1048.0" cy="3253.5" r="7.1"/>
<path class="fb" d="M1048.0,3246.4a7.1,7.1 0 0 1 0,14.2z"/>
<circle class="cb" cx="1063.0" cy="3260.0" r="7.1"/>
<path class="fb" d="M1063.0,3252.9a7.1,7.1 0 0 1 0,14.2z"/>
<path d="M159.4,3256.8 L161.7,3256.8 L164.0,3256.8 L166.2,3256.8 L168.5,3256.8 L170.8,3256.8 L173.1,3256.8 L175.3,3256.8 L177.6,3256.8 L179.9,3256.8 L182.2,3256.8 L184.4,3256.8 L186.7,3256.8 L189.0,3256.8 L191.3,3256.8 L193.5,3256.8 L195.8,3256.8 L198.1,3256.8 L200.3,3256.8 L202.6,3256.8 L204.9,3256.8 L207.2,3256.8 L209.4,3256.8 L211.7,3256.8 L214.0,3256.8 L216.3,3256.8 L218.5,3256.8 L220.8,3256.8 L223.1,3256.8 L225.4,3256.8 L227.6,3256.8 L229.9,3256.8 L232.2,3256.8 L234.5,3256.8 L236.8,3256.8 L239.0,3256.8 L241.3,3256.8 L243.6,3256.8 L245.9,3256.8 L248.1,3256.8 L250.4,3256.8 L252.7,3256.8 L255.0,3256.8 L257.2,3256.8 L259.5,3256.8 L261.8,3256.8 L264.1,3256.8 L266.3,3256.8 L268.6,3256.8 L270.9,3256.8 L273.1,3256.8 L275.4,3256.8 L277.7,3256.8 L280.0,3256.8 L282.2,3256.8 L284.5,3256.8 L286.8,3256.8 L289.1,3256.8 L291.3,3256.8 L293.6,3256.8 L295.9,3256.8 L298.2,3256.8 L300.4,3256.8 L302.7,3256.8 L305.0,3256.8 L307.3,3256.8 L309.5,3256.8 L311.8,3256.8 L314.1,3256.8 L316.4,3256.8 L318.7,3256.8 L320.9,3256.8 L323.2,3256.8 L325.5,3256.8 L327.8,3256.7 L330.0,3256.7 L332.3,3256.7 L334.6,3256.7 L336.9,3256.7 L339.1,3256.7 L341.4,3256.7 L343.7,3256.7 L346.0,3256.6 L348.2,3256.6 L350.5,3256.6 L352.8,3256.6 L355.0,3256.5 L357.3,3256.5 L359.6,3256.5 L361.9,3256.4 L364.1,3256.4 L366.4,3256.3 L368.7,3256.3 L371.0,3256.2 L373.2,3256.1 L375.5,3256.0 L377.8,3255.9 L380.1,3255.8 L382.3,3255.7 L384.6,3255.6 L386.9,3255.5 L389.2,3255.3 L391.5,3255.2 L393.7,3255.0 L396.0,3254.8 L398.3,3254.6 L400.6,3254.4 L402.8,3254.1 L405.1,3253.8 L407.4,3253.5 L409.7,3253.2 L411.9,3252.9 L414.2,3252.5 L416.5,3252.1 L418.8,3251.6 L421.0,3251.1 L423.3,3250.6 L425.6,3250.1 L427.8,3249.5 L430.1,3248.9 L432.4,3248.2 L434.7,3247.5 L436.9,3246.7 L439.2,3245.9 L441.5,3245.0 L443.8,3244.1 L446.0,3243.1 L448.3,3242.0 L450.6,3240.9 L452.9,3239.8 L455.1,3238.6 L457.4,3237.3 L459.7,3235.9 L462.0,3234.5 L464.3,3233.0 L466.5,3231.5 L468.8,3229.9 L471.1,3228.2 L473.4,3226.5 L475.6,3224.6 L477.9,3222.8 L480.2,3220.8 L482.5,3218.8 L484.7,3216.7 L487.0,3214.6 L489.3,3212.4 L491.6,3210.2 L493.8,3207.9 L496.1,3205.5 L498.4,3203.1 L500.6,3200.7 L502.9,3198.2 L505.2,3195.7 L507.5,3193.2 L509.7,3190.7 L512.0,3188.1 L514.3,3185.5 L516.6,3182.9 L518.8,3180.4 L521.1,3177.8 L523.4,3175.2 L525.7,3172.7 L527.9,3170.2 L530.2,3167.7 L532.5,3165.3 L534.8,3162.9 L537.0,3160.6 L539.3,3158.4 L541.6,3156.2 L543.9,3154.1 L546.2,3152.1 L548.4,3150.2 L550.7,3148.4 L553.0,3146.7 L555.3,3145.1 L557.5,3143.6 L559.8,3142.2 L562.1,3141.0 L564.4,3139.9 L566.6,3139.0 L568.9,3138.2 L571.2,3137.5 L573.5,3137.0 L575.7,3136.6 L578.0,3136.4 L580.3,3136.3 L582.5,3136.4 L584.8,3136.6 L587.1,3137.0 L589.4,3137.5 L591.6,3138.2 L593.9,3139.0 L596.2,3139.9 L598.5,3141.0 L600.7,3142.2 L603.0,3143.6 L605.3,3145.1 L607.6,3146.7 L609.8,3148.4 L612.1,3150.2 L614.4,3152.1 L616.7,3154.1 L619.0,3156.2 L621.2,3158.4 L623.5,3160.6 L625.8,3162.9 L628.1,3165.3 L630.3,3167.7 L632.6,3170.2 L634.9,3172.7 L637.2,3175.2 L639.4,3177.8 L641.7,3180.4 L644.0,3182.9 L646.3,3185.5 L648.5,3188.1 L650.8,3190.7 L653.1,3193.2 L655.3,3195.7 L657.6,3198.2 L659.9,3200.7 L662.2,3203.1 L664.4,3205.5 L666.7,3207.9 L669.0,3210.2 L671.3,3212.4 L673.5,3214.6 L675.8,3216.7 L678.1,3218.8 L680.4,3220.8 L682.6,3222.8 L684.9,3224.6 L687.2,3226.5 L689.5,3228.2 L691.8,3229.9 L694.0,3231.5 L696.3,3233.0 L698.6,3234.5 L700.9,3235.9 L703.1,3237.3 L705.4,3238.6 L707.7,3239.8 L710.0,3240.9 L712.2,3242.0 L714.5,3243.1 L716.8,3244.1 L719.1,3245.0 L721.3,3245.9 L723.6,3246.7 L725.9,3247.5 L728.1,3248.2 L730.4,3248.9 L732.7,3249.5 L735.0,3250.1 L737.2,3250.6 L739.5,3251.1 L741.8,3251.6 L744.1,3252.1 L746.3,3252.5 L748.6,3252.9 L750.9,3253.2 L753.2,3253.5 L755.4,3253.8 L757.7,3254.1 L760.0,3254.4 L762.3,3254.6 L764.5,3254.8 L766.8,3255.0 L769.1,3255.2 L771.4,3255.3 L773.7,3255.5 L775.9,3255.6 L778.2,3255.7 L780.5,3255.8 L782.8,3255.9 L785.0,3256.0 L787.3,3256.1 L789.6,3256.2 L791.9,3256.3 L794.1,3256.3 L796.4,3256.4 L798.7,3256.4 L801.0,3256.5 L803.2,3256.5 L805.5,3256.5 L807.8,3256.6 L810.0,3256.6 L812.3,3256.6 L814.6,3256.6 L816.9,3256.7 L819.1,3256.7 L821.4,3256.7 L823.7,3256.7 L826.0,3256.7 L828.2,3256.7 L830.5,3256.7 L832.8,3256.7 L835.1,3256.8 L837.3,3256.8 L839.6,3256.8 L841.9,3256.8 L844.2,3256.8 L846.5,3256.8 L848.7,3256.8 L851.0,3256.8 L853.3,3256.8 L855.6,3256.8 L857.8,3256.8 L860.1,3256.8 L862.4,3256.8 L864.7,3256.8 L866.9,3256.8 L869.2,3256.8 L871.5,3256.8 L873.8,3256.8 L876.0,3256.8 L878.3,3256.8 L880.6,3256.8 L882.8,3256.8 L885.1,3256.8 L887.4,3256.8 L889.7,3256.8 L891.9,3256.8 L894.2,3256.8 L896.5,3256.8 L898.8,3256.8 L901.0,3256.8 L903.3,3256.8 L905.6,3256.8 L907.9,3256.8 L910.1,3256.8 L912.4,3256.8 L914.7,3256.8 L917.0,3256.8 L919.3,3256.8 L921.5,3256.8 L923.8,3256.8 L926.1,3256.8 L928.4,3256.8 L930.6,3256.8 L932.9,3256.8 L935.2,3256.8 L937.5,3256.8 L939.7,3256.8 L942.0,3256.8 L944.3,3256.8 L946.6,3256.8 L948.8,3256.8 L951.1,3256.8 L953.4,3256.8 L955.6,3256.8 L957.9,3256.8 L960.2,3256.8 L962.5,3256.8 L964.7,3256.8 L967.0,3256.8 L969.3,3256.8 L971.6,3256.8 L973.8,3256.8 L976.1,3256.8 L978.4,3256.8 L980.7,3256.8 L982.9,3256.8 L985.2,3256.8 L987.5,3256.8 L989.8,3256.8 L992.0,3256.8 L994.3,3256.8 L996.6,3256.8 L998.9,3256.8 L1001.2,3256.8 L1003.4,3256.8 L1005.7,3256.8 L1008.0,3256.8 L1010.3,3256.8 L1012.5,3256.8 L1014.8,3256.8 L1017.1,3256.8 L1019.4,3256.8 L1021.6,3256.8 L1023.9,3256.8 L1026.2,3256.8 L1028.5,3256.8 L1030.7,3256.8 L1033.0,3256.8 L1035.3,3256.8 L1037.5,3256.8 L1039.8,3256.8 L1042.1,3256.8 L1044.4,3256.8 L1046.6,3256.8 L1048.9,3256.8 L1051.2,3256.8 L1053.5,3256.8 L1055.7,3256.8 L1058.0,3256.8 L1060.3,3256.8 L1062.6,3256.8 L1064.8,3256.8 L1067.1,3256.8 L1069.4,3256.8" fill="none" stroke="#0000ff" stroke-width="6.5" stroke-linejoin="round"/>
<circle class="cg" cx="159.4" cy="3416.5" r="7.1"/>
<path class="fg" d="M159.4,3409.4a7.1,7.1 0 0 1 0,14.2z"/>
<circle class="cg" cx="174.5" cy="3421.4" r="7.1"/>
<path class="fg" d="M174.5,3414.3a7.1,7.1 0 0 1 0,14.2z"/>
<circle class="cg" cx="189.5" cy="3412.9" r="7.1"/>
<path class="fg" d="M189.5,3405.8a7.1,7.1 0 0 1 0,14.2z"/>
<circle class="cg" cx="204.6" cy="3416.8" r="7.1"/>
<path class="fg" d="M204.6,3409.7a7.1,7.1 0 0 1 0,14.2z"/>
<circle class="cg" cx="219.6" cy="3416.6" r="7.1"/>
<path class="fg" d="M219.6,3409.5a7.1,7.1 0 0 1 0,14.2z"/>
<circle class="cg" cx="234.7" cy="3415.7" r="7.1"/>
<path class="fg" d="M234.7,3408.6a7.1,7.1 0 0 1 0,14.2z"/>
<circle class="cg" cx="249.8" cy="3415.4" r="7.1"/>
<path class="fg" d="M249.8,3408.3a7.1,7.1 0 0 1 0,14.2z"/>
<circle class="cg" cx="264.8" cy="3415.3" r="7.1"/>
<path class="fg" d="M264.8,3408.2a7.1,7.1 0 0 1 0,14.2z"/>
<circle class="cg" cx="279.9" cy="3412.0" r="7.1"/>
<path class="fg" d="M279.9,3404.9a7.1,7.1 0 0 1 0,14.2z"/>
<circle class="cg" cx="294.9" cy="3410.2" r="7.1"/>
<path class="fg" d="M294.9,3403.1a7.1,7.1 0 0 1 0,14.2z"/>
<circle class="cg" cx="310.0" cy="3412.8" r="7.1"/>
<path class="fg" d="M310.0,3405.7a7.1,7.1 0 0 1 0,14.2z"/>
<circle class="cg" cx="325.1" cy="3416.9" r="7.1"/>
<path class="fg" d="M325.1,3409.8a7.1,7.1 0 0 1 0,14.2z"/>
<circle class="cg" cx="340.1" cy="3420.7" r="7.1"/>
<path class="fg" d="M340.1,3413.6a7.1,7.1 0 0 1 0,14.2z"/>
<circle class="cg" cx="355.2" cy="3418.3" r="7.1"/>
<path class="fg" d="M355.2,3411.2a7.1,7.1 0 0 1 0,14.2z"/>
<circle class="cg" cx="370.2" cy="3418.3" r="7.1"/>
<path class="fg" d="M370.2,3411.2a7.1,7.1 0 0 1 0,14.2z"/>
<circle class="cg" cx="385.3" cy="3416.5" r="7.1"/>
<path class="fg" d="M385.3,3409.4a7.1,7.1 0 0 1 0,14.2z"/>
<circle class="cg" cx="400.4" cy="3415.0" r="7.1"/>
<path class="fg" d="M400.4,3407.9a7.1,7.1 0 0 1 0,14.2z"/>
<circle class="cg" cx="415.4" cy="3410.7" r="7.1"/>
<path class="fg" d="M415.4,3403.6a7.1,7.1 0 0 1 0,14.2z"/>
<circle class="cg" cx="430.5" cy="3409.7" r="7.1"/>
<path class="fg" d="M430.5,3402.6a7.1,7.1 0 0 1 0,14.2z"/>
<circle class="cg" cx="445.5" cy="3408.6" r="7.1"/>
<path class="fg" d="M445.5,3401.5a7.1,7.1 0 0 1 0,14.2z"/>
<circle class="cg" cx="460.6" cy="3392.0" r="7.1"/>
<path class="fg" d="M460.6,3384.9a7.1,7.1 0 0 1 0,14.2z"/>
<circle class="cg" cx="475.7" cy="3379.7" r="7.1"/>
<path class="fg" d="M475.7,3372.6a7.1,7.1 0 0 1 0,14.2z"/>
<circle class="cg" cx="490.7" cy="3377.2" r="7.1"/>
<path class="fg" d="M490.7,3370.1a7.1,7.1 0 0 1 0,14.2z"/>
<circle class="cg" cx="505.8" cy="3353.7" r="7.1"/>
<path class="fg" d="M505.8,3346.6a7.1,7.1 0 0 1 0,14.2z"/>
<circle class="cg" cx="520.9" cy="3338.8" r="7.1"/>
<path class="fg" d="M520.9,3331.7a7.1,7.1 0 0 1 0,14.2z"/>
<circle class="cg" cx="535.9" cy="3320.4" r="7.1"/>
<path class="fg" d="M535.9,3313.3a7.1,7.1 0 0 1 0,14.2z"/>
<circle class="cg" cx="551.0" cy="3295.9" r="7.1"/>
<path class="fg" d="M551.0,3288.8a7.1,7.1 0 0 1 0,14.2z"/>
<circle class="cg" cx="566.0" cy="3298.8" r="7.1"/>
<path class="fg" d="M566.0,3291.7a7.1,7.1 0 0 1 0,14.2z"/>
<circle class="cg" cx="581.1" cy="3289.7" r="7.1"/>
<path class="fg" d="M581.1,3282.6a7.1,7.1 0 0 1 0,14.2z"/>
<circle class="cg" cx="596.2" cy="3283.2" r="7.1"/>
<path class="fg" d="M596.2,3276.1a7.1,7.1 0 0 1 0,14.2z"/>
<circle class="cg" cx="611.2" cy="3292.5" r="7.1"/>
<path class="fg" d="M611.2,3285.4a7.1,7.1 0 0 1 0,14.2z"/>
<circle class="cg" cx="626.3" cy="3302.4" r="7.1"/>
<path class="fg" d="M626.3,3295.3a7.1,7.1 0 0 1 0,14.2z"/>
<circle class="cg" cx="641.3" cy="3314.4" r="7.1"/>
<path class="fg" d="M641.3,3307.3a7.1,7.1 0 0 1 0,14.2z"/>
<circle class="cg" cx="656.4" cy="3335.7" r="7.1"/>
<path class="fg" d="M656.4,3328.6a7.1,7.1 0 0 1 0,14.2z"/>
<circle class="cg" cx="671.5" cy="3355.6" r="7.1"/>
<path class="fg" d="M671.5,3348.5a7.1,7.1 0 0 1 0,14.2z"/>
<circle class="cg" cx="686.5" cy="3374.9" r="7.1"/>
<path class="fg" d="M686.5,3367.8a7.1,7.1 0 0 1 0,14.2z"/>
<circle class="cg" cx="701.6" cy="3386.6" r="7.1"/>
<path class="fg" d="M701.6,3379.5a7.1,7.1 0 0 1 0,14.2z"/>
<circle class="cg" cx="716.6" cy="3394.3" r="7.1"/>
<path class="fg" d="M716.6,3387.2a7.1,7.1 0 0 1 0,14.2z"/>
<circle class="cg" cx="731.7" cy="3407.4" r="7.1"/>
<path class="fg" d="M731.7,3400.3a7.1,7.1 0 0 1 0,14.2z"/>
<circle class="cg" cx="746.8" cy="3403.6" r="7.1"/>
<path class="fg" d="M746.8,3396.5a7.1,7.1 0 0 1 0,14.2z"/>
<circle class="cg" cx="761.8" cy="3413.5" r="7.1"/>
<path class="fg" d="M761.8,3406.4a7.1,7.1 0 0 1 0,14.2z"/>
<circle class="cg" cx="776.9" cy="3416.8" r="7.1"/>
<path class="fg" d="M776.9,3409.7a7.1,7.1 0 0 1 0,14.2z"/>
<circle class="cg" cx="791.9" cy="3412.1" r="7.1"/>
<path class="fg" d="M791.9,3405.0a7.1,7.1 0 0 1 0,14.2z"/>
<circle class="cg" cx="807.0" cy="3406.4" r="7.1"/>
<path class="fg" d="M807.0,3399.3a7.1,7.1 0 0 1 0,14.2z"/>
<circle class="cg" cx="822.1" cy="3410.4" r="7.1"/>
<path class="fg" d="M822.1,3403.3a7.1,7.1 0 0 1 0,14.2z"/>
<circle class="cg" cx="837.1" cy="3415.4" r="7.1"/>
<path class="fg" d="M837.1,3408.3a7.1,7.1 0 0 1 0,14.2z"/>
<circle class="cg" cx="852.2" cy="3416.7" r="7.1"/>
<path class="fg" d="M852.2,3409.6a7.1,7.1 0 0 1 0,14.2z"/>
<circle class="cg" cx="867.2" cy="3421.0" r="7.1"/>
<path class="fg" d="M867.2,3413.9a7.1,7.1 0 0 1 0,14.2z"/>
<circle class="cg" cx="882.3" cy="3410.3" r="7.1"/>
<path class="fg" d="M882.3,3403.2a7.1,7.1 0 0 1 0,14.2z"/>
<circle class="cg" cx="897.4" cy="3414.5" r="7.1"/>
<path class="fg" d="M897.4,3407.4a7.1,7.1 0 0 1 0,14.2z"/>
<circle class="cg" cx="912.4" cy="3417.2" r="7.1"/>
<path class="fg" d="M912.4,3410.1a7.1,7.1 0 0 1 0,14.2z"/>
<circle class="cg" cx="927.5" cy="3413.8" r="7.1"/>
<path class="fg" d="M927.5,3406.7a7.1,7.1 0 0 1 0,14.2z"/>
<circle class="cg" cx="942.5" cy="3404.5" r="7.1"/>
<path class="fg" d="M942.5,3397.4a7.1,7.1 0 0 1 0,14.2z"/>
<circle class="cg" cx="957.6" cy="3417.9" r="7.1"/>
<path class="fg" d="M957.6,3410.8a7.1,7.1 0 0 1 0,14.2z"/>
<circle class="cg" cx="972.7" cy="3424.2" r="7.1"/>
<path class="fg" d="M972.7,3417.1a7.1,7.1 0 0 1 0,14.2z"/>
<circle class="cg" cx="987.7" cy="3418.7" r="7.1"/>
<path class="fg" d="M987.7,3411.6a7.1,7.1 0 0 1 0,14.2z"/>
<circle class="cg" cx="1002.8" cy="3410.6" r="7.1"/>
<path class="fg" d="M1002.8,3403.5a7.1,7.1 0 0 1 0,14.2z"/>
<circle class="cg" cx="1017.8" cy="3412.8" r="7.1"/>
<path class="fg" d="M1017.8,3405.7a7.1,7.1 0 0 1 0,14.2z"/>
<circle class="cg" cx="1032.9" cy="3415.4" r="7.1"/>
<path class="fg" d="M1032.9,3408.3a7.1,7.1 0 0 1 0,14.2z"/>
<circle class="cg" cx="1048.0" cy="3425.0" r="7.1"/>
<path class="fg" d="M1048.0,3417.9a7.1,7.1 0 0 1 0,14.2z"/>
<circle class="cg" cx="1063.0" cy="3417.1" r="7.1"/>
<path class="fg" d="M1063.0,3410.0a7.1,7.1 0 0 1 0,14.2z"/>
<path d="M159.4,3414.5 L161.7,3414.5 L164.0,3414.5 L166.2,3414.5 L168.5,3414.5 L170.8,3414.5 L173.1,3414.5 L175.3,3414.5 L177.6,3414.5 L179.9,3414.5 L182.2,3414.5 L184.4,3414.5 L186.7,3414.5 L189.0,3414.5 L191.3,3414.5 L193.5,3414.5 L195.8,3414.5 L198.1,3414.5 L200.3,3414.5 L202.6,3414.5 L204.9,3414.5 L207.2,3414.5 L209.4,3414.5 L211.7,3414.5 L214.0,3414.5 L216.3,3414.5 L218.5,3414.5 L220.8,3414.5 L223.1,3414.5 L225.4,3414.5 L227.6,3414.5 L229.9,3414.5 L232.2,3414.5 L234.5,3414.5 L236.8,3414.5 L239.0,3414.5 L241.3,3414.5 L243.6,3414.5 L245.9,3414.5 L248.1,3414.5 L250.4,3414.5 L252.7,3414.5 L255.0,3414.5 L257.2,3414.5 L259.5,3414.5 L261.8,3414.5 L264.1,3414.5 L266.3,3414.5 L268.6,3414.5 L270.9,3414.5 L273.1,3414.5 L275.4,3414.5 L277.7,3414.5 L280.0,3414.5 L282.2,3414.5 L284.5,3414.5 L286.8,3414.5 L289.1,3414.5 L291.3,3414.5 L293.6,3414.5 L295.9,3414.5 L298.2,3414.5 L300.4,3414.5 L302.7,3414.5 L305.0,3414.5 L307.3,3414.5 L309.5,3414.5 L311.8,3414.5 L314.1,3414.5 L316.4,3414.5 L318.7,3414.5 L320.9,3414.5 L323.2,3414.5 L325.5,3414.4 L327.8,3414.4 L330.0,3414.4 L332.3,3414.4 L334.6,3414.4 L336.9,3414.4 L339.1,3414.4 L341.4,3414.4 L343.7,3414.3 L346.0,3414.3 L348.2,3414.3 L350.5,3414.3 L352.8,3414.2 L355.0,3414.2 L357.3,3414.2 L359.6,3414.1 L361.9,3414.1 L364.1,3414.0 L366.4,3414.0 L368.7,3413.9 L371.0,3413.9 L373.2,3413.8 L375.5,3413.7 L377.8,3413.6 L380.1,3413.5 L382.3,3413.4 L384.6,3413.3 L386.9,3413.1 L389.2,3413.0 L391.5,3412.8 L393.7,3412.7 L396.0,3412.5 L398.3,3412.2 L400.6,3412.0 L402.8,3411.8 L405.1,3411.5 L407.4,3411.2 L409.7,3410.9 L411.9,3410.5 L414.2,3410.2 L416.5,3409.8 L418.8,3409.3 L421.0,3408.9 L423.3,3408.3 L425.6,3407.8 L427.8,3407.2 L430.1,3406.6 L432.4,3405.9 L434.7,3405.2 L436.9,3404.5 L439.2,3403.7 L441.5,3402.8 L443.8,3401.9 L446.0,3400.9 L448.3,3399.9 L450.6,3398.8 L452.9,3397.7 L455.1,3396.5 L457.4,3395.2 L459.7,3393.9 L462.0,3392.5 L464.3,3391.0 L466.5,3389.5 L468.8,3387.9 L471.1,3386.2 L473.4,3384.5 L475.6,3382.7 L477.9,3380.8 L480.2,3378.9 L482.5,3376.9 L484.7,3374.8 L487.0,3372.6 L489.3,3370.4 L491.6,3368.1 L493.8,3365.8 L496.1,3363.4 L498.4,3361.0 L500.6,3358.5 L502.9,3355.9 L505.2,3353.3 L507.5,3350.7 L509.7,3348.0 L512.0,3345.4 L514.3,3342.6 L516.6,3339.9 L518.8,3337.1 L521.1,3334.4 L523.4,3331.6 L525.7,3328.9 L527.9,3326.1 L530.2,3323.4 L532.5,3320.7 L534.8,3318.0 L537.0,3315.4 L539.3,3312.8 L541.6,3310.3 L543.9,3307.8 L546.2,3305.4 L548.4,3303.1 L550.7,3300.9 L553.0,3298.8 L555.3,3296.7 L557.5,3294.8 L559.8,3293.0 L562.1,3291.3 L564.4,3289.7 L566.6,3288.2 L568.9,3286.9 L571.2,3285.7 L573.5,3284.7 L575.7,3283.8 L578.0,3283.0 L580.3,3282.4 L582.5,3281.9 L584.8,3281.7 L587.1,3281.5 L589.4,3281.5 L591.6,3281.7 L593.9,3282.0 L596.2,3282.5 L598.5,3283.1 L600.7,3283.9 L603.0,3284.9 L605.3,3285.9 L607.6,3287.1 L609.8,3288.5 L612.1,3290.0 L614.4,3291.6 L616.7,3293.3 L619.0,3295.2 L621.2,3297.1 L623.5,3299.2 L625.8,3301.3 L628.1,3303.6 L630.3,3305.9 L632.6,3308.3 L634.9,3310.8 L637.2,3313.3 L639.4,3315.9 L641.7,3318.6 L644.0,3321.2 L646.3,3323.9 L648.5,3326.7 L650.8,3329.4 L653.1,3332.2 L655.3,3334.9 L657.6,3337.7 L659.9,3340.4 L662.2,3343.2 L664.4,3345.9 L666.7,3348.6 L669.0,3351.2 L671.3,3353.9 L673.5,3356.4 L675.8,3359.0 L678.1,3361.5 L680.4,3363.9 L682.6,3366.3 L684.9,3368.6 L687.2,3370.9 L689.5,3373.1 L691.8,3375.2 L694.0,3377.3 L696.3,3379.3 L698.6,3381.2 L700.9,3383.1 L703.1,3384.9 L705.4,3386.6 L707.7,3388.2 L710.0,3389.8 L712.2,3391.3 L714.5,3392.8 L716.8,3394.2 L719.1,3395.5 L721.3,3396.7 L723.6,3397.9 L725.9,3399.1 L728.1,3400.1 L730.4,3401.1 L732.7,3402.1 L735.0,3403.0 L737.2,3403.8 L739.5,3404.6 L741.8,3405.4 L744.1,3406.1 L746.3,3406.7 L748.6,3407.3 L750.9,3407.9 L753.2,3408.5 L755.4,3408.9 L757.7,3409.4 L760.0,3409.8 L762.3,3410.2 L764.5,3410.6 L766.8,3410.9 L769.1,3411.3 L771.4,3411.6 L773.7,3411.8 L775.9,3412.1 L778.2,3412.3 L780.5,3412.5 L782.8,3412.7 L785.0,3412.9 L787.3,3413.0 L789.6,3413.2 L791.9,3413.3 L794.1,3413.4 L796.4,3413.5 L798.7,3413.6 L801.0,3413.7 L803.2,3413.8 L805.5,3413.9 L807.8,3413.9 L810.0,3414.0 L812.3,3414.1 L814.6,3414.1 L816.9,3414.1 L819.1,3414.2 L821.4,3414.2 L823.7,3414.3 L826.0,3414.3 L828.2,3414.3 L830.5,3414.3 L832.8,3414.4 L835.1,3414.4 L837.3,3414.4 L839.6,3414.4 L841.9,3414.4 L844.2,3414.4 L846.5,3414.4 L848.7,3414.4 L851.0,3414.4 L853.3,3414.5 L855.6,3414.5 L857.8,3414.5 L860.1,3414.5 L862.4,3414.5 L864.7,3414.5 L866.9,3414.5 L869.2,3414.5 L871.5,3414.5 L873.8,3414.5 L876.0,3414.5 L878.3,3414.5 L880.6,3414.5 L882.8,3414.5 L885.1,3414.5 L887.4,3414.5 L889.7,3414.5 L891.9,3414.5 L894.2,3414.5 L896.5,3414.5 L898.8,3414.5 L901.0,3414.5 L903.3,3414.5 L905.6,3414.5 L907.9,3414.5 L910.1,3414.5 L912.4,3414.5 L914.7,3414.5 L917.0,3414.5 L919.3,3414.5 L921.5,3414.5 L923.8,3414.5 L926.1,3414.5 L928.4,3414.5 L930.6,3414.5 L932.9,3414.5 L935.2,3414.5 L937.5,3414.5 L939.7,3414.5 L942.0,3414.5 L944.3,3414.5 L946.6,3414.5 L948.8,3414.5 L951.1,3414.5 L953.4,3414.5 L955.6,3414.5 L957.9,3414.5 L960.2,3414.5 L962.5,3414.5 L964.7,3414.5 L967.0,3414.5 L969.3,3414.5 L971.6,3414.5 L973.8,3414.5 L976.1,3414.5 L978.4,3414.5 L980.7,3414.5 L982.9,3414.5 L985.2,3414.5 L987.5,3414.5 L989.8,3414.5 L992.0,3414.5 L994.3,3414.5 L996.6,3414.5 L998.9,3414.5 L1001.2,3414.5 L1003.4,3414.5 L1005.7,3414.5 L1008.0,3414.5 L1010.3,3414.5 L1012.5,3414.5 L1014.8,3414.5 L1017.1,3414.5 L1019.4,3414.5 L1021.6,3414.5 L1023.9,3414.5 L1026.2,3414.5 L1028.5,3414.5 L1030.7,3414.5 L1033.0,3414.5 L1035.3,3414.5 L1037.5,3414.5 L1039.8,3414.5 L1042.1,3414.5 L1044.4,3414.5 L1046.6,3414.5 L1048.9,3414.5 L1051.2,3414.5 L1053.5,3414.5 L1055.7,3414.5 L1058.0,3414.5 L1060.3,3414.5 L1062.6,3414.5 L1064.8,3414.5 L1067.1,3414.5 L1069.4,3414.5" fill="none" stroke="#00ff00" stroke-width="6.5" stroke-linejoin="round"/>
<circle class="cr" cx="159.4" cy="3586.5" r="7.1"/>
<path class="fr" d="M159.4,3579.4a7.1,7.1 0 0 1 0,14.2z"/>
<circle class="cr" cx="174.5" cy="3592.5" r="7.1"/>
<path class="fr" d="M174.5,3585.4a7.1,7.1 0 0 1 0,14.2z"/>
<circle class="cr" cx="189.5" cy="3585.7" r="7.1"/>
<path class="fr" d="M189.5,3578.6a7.1,7.1 0 0 1 0,14.2z"/>
<circle class="cr" cx="204.6" cy="3593.8" r="7.1"/>
<path class="fr" d="M204.6,3586.7a7.1,7.1 0 0 1 0,14.2z"/>
<circle class="cr" cx="219.6" cy="3583.1" r="7.1"/>
<path class="fr" d="M219.6,3576.0a7.1,7.1 0 0 1 0,14.2z"/>
<circle class="cr" cx="234.7" cy="3584.0" r="7.1"/>
<path class="fr" d="M234.7,3576.9a7.1,7.1 0 0 1 0,14.2z"/>
<circle class="cr" cx="249.8" cy="3589.0" r="7.1"/>
<path class="fr" d="M249.8,3581.9a7.1,7.1 0 0 1 0,14.2z"/>
<circle class="cr" cx="264.8" cy="3592.0" r="7.1"/>
<path class="fr" d="M264.8,3584.9a7.1,7.1 0 0 1 0,14.2z"/>
<circle class="cr" cx="279.9" cy="3588.7" r="7.1"/>
<path class="fr" d="M279.9,3581.6a7.1,7.1 0 0 1 0,14.2z"/>
<circle class="cr" cx="294.9" cy="3587.3" r="7.1"/>
<path class="fr" d="M294.9,3580.2a7.1,7.1 0 0 1 0,14.2z"/>
<circle class="cr" cx="310.0" cy="3578.3" r="7.1"/>
<path class="fr" d="M310.0,3571.2a7.1,7.1 0 0 1 0,14.2z"/>
<circle class="cr" cx="325.1" cy="3583.0" r="7.1"/>
<path class="fr" d="M325.1,3575.9a7.1,7.1 0 0 1 0,14.2z"/>
<circle class="cr" cx="340.1" cy="3583.4" r="7.1"/>
<path class="fr" d="M340.1,3576.3a7.1,7.1 0 0 1 0,14.2z"/>
<circle class="cr" cx="355.2" cy="3583.6" r="7.1"/>
<path class="fr" d="M355.2,3576.5a7.1,7.1 0 0 1 0,14.2z"/>
<circle class="cr" cx="370.2" cy="3588.1" r="7.1"/>
<path class="fr" d="M370.2,3581.0a7.1,7.1 0 0 1 0,14.2z"/>
<circle class="cr" cx="385.3" cy="3583.8" r="7.1"/>
<path class="fr" d="M385.3,3576.7a7.1,7.1 0 0 1 0,14.2z"/>
<circle class="cr" cx="400.4" cy="3587.6" r="7.1"/>
<path class="fr" d="M400.4,3580.5a7.1,7.1 0 0 1 0,14.2z"/>
<circle class="cr" cx="415.4" cy="3583.0" r="7.1"/>
<path class="fr" d="M415.4,3575.9a7.1,7.1 0 0 1 0,14.2z"/>
<circle class="cr" cx="430.5" cy="3578.2" r="7.1"/>
<path class="fr" d="M430.5,3571.1a7.1,7.1 0 0 1 0,14.2z"/>
<circle class="cr" cx="445.5" cy="3575.2" r="7.1"/>
<path class="fr" d="M445.5,3568.1a7.1,7.1 0 0 1 0,14.2z"/>
<circle class="cr" cx="460.6" cy="3568.9" r="7.1"/>
<path class="fr" d="M460.6,3561.8a7.1,7.1 0 0 1 0,14.2z"/>
<circle class="cr" cx="475.7" cy="3559.7" r="7.1"/>
<path class="fr" d="M475.7,3552.6a7.1,7.1 0 0 1 0,14.2z"/>
<circle class="cr" cx="490.7" cy="3539.4" r="7.1"/>
<path class="fr" d="M490.7,3532.3a7.1,7.1 0 0 1 0,14.2z"/>
<circle class="cr" cx="505.8" cy="3522.2" r="7.1"/>
<path class="fr" d="M505.8,3515.1a7.1,7.1 0 0 1 0,14.2z"/>
<circle class="cr" cx="520.9" cy="3496.7" r="7.1"/>
<path class="fr" d="M520.9,3489.6a7.1,7.1 0 0 1 0,14.2z"/>
<circle class="cr" cx="535.9" cy="3487.8" r="7.1"/>
<path class="fr" d="M535.9,3480.7a7.1,7.1 0 0 1 0,14.2z"/>
<circle class="cr" cx="551.0" cy="3467.7" r="7.1"/>
<path class="fr" d="M551.0,3460.6a7.1,7.1 0 0 1 0,14.2z"/>
<circle class="cr" cx="566.0" cy="3446.0" r="7.1"/>
<path class="fr" d="M566.0,3438.9a7.1,7.1 0 0 1 0,14.2z"/>
<circle class="cr" cx="581.1" cy="3436.9" r="7.1"/>
<path class="fr" d="M581.1,3429.8a7.1,7.1 0 0 1 0,14.2z"/>
<circle class="cr" cx="596.2" cy="3434.0" r="7.1"/>
<path class="fr" d="M596.2,3426.9a7.1,7.1 0 0 1 0,14.2z"/>
<circle class="cr" cx="611.2" cy="3448.5" r="7.1"/>
<path class="fr" d="M611.2,3441.4a7.1,7.1 0 0 1 0,14.2z"/>
<circle class="cr" cx="626.3" cy="3463.9" r="7.1"/>
<path class="fr" d="M626.3,3456.8a7.1,7.1 0 0 1 0,14.2z"/>
<circle class="cr" cx="641.3" cy="3492.0" r="7.1"/>
<path class="fr" d="M641.3,3484.9a7.1,7.1 0 0 1 0,14.2z"/>
<circle class="cr" cx="656.4" cy="3505.2" r="7.1"/>
<path class="fr" d="M656.4,3498.1a7.1,7.1 0 0 1 0,14.2z"/>
<circle class="cr" cx="671.5" cy="3521.5" r="7.1"/>
<path class="fr" d="M671.5,3514.4a7.1,7.1 0 0 1 0,14.2z"/>
<circle class="cr" cx="686.5" cy="3532.5" r="7.1"/>
<path class="fr" d="M686.5,3525.4a7.1,7.1 0 0 1 0,14.2z"/>
<circle class="cr" cx="701.6" cy="3563.1" r="7.1"/>
<path class="fr" d="M701.6,3556.0a7.1,7.1 0 0 1 0,14.2z"/>
<circle class="cr" cx="716.6" cy="3568.6" r="7.1"/>
<path class="fr" d="M716.6,3561.5a7.1,7.1 0 0 1 0,14.2z"/>
<circle class="cr" cx="731.7" cy="3568.4" r="7.1"/>
<path class="fr" d="M731.7,3561.3a7.1,7.1 0 0 1 0,14.2z"/>
<circle class="cr" cx="746.8" cy="3580.7" r="7.1"/>
<path class="fr" d="M746.8,3573.6a7.1,7.1 0 0 1 0,14.2z"/>
<circle class="cr" cx="761.8" cy="3576.0" r="7.1"/>
<path class="fr" d="M761.8,3568.9a7.1,7.1 0 0 1 0,14.2z"/>
<circle class="cr" cx="776.9" cy="3599.0" r="7.1"/>
<path class="fr" d="M776.9,3591.9a7.1,7.1 0 0 1 0,14.2z"/>
<circle class="cr" cx="791.9" cy="3589.9" r="7.1"/>
<path class="fr" d="M791.9,3582.8a7.1,7.1 0 0 1 0,14.2z"/>
<circle class="cr" cx="807.0" cy="3588.1" r="7.1"/>
<path class="fr" d="M807.0,3581.0a7.1,7.1 0 0 1 0,14.2z"/>
<circle class="cr" cx="822.1" cy="3585.1" r="7.1"/>
<path class="fr" d="M822.1,3578.0a7.1,7.1 0 0 1 0,14.2z"/>
<circle class="cr" cx="837.1" cy="3577.0" r="7.1"/>
<path class="fr" d="M837.1,3569.9a7.1,7.1 0 0 1 0,14.2z"/>
<circle class="cr" cx="852.2" cy="3585.4" r="7.1"/>
<path class="fr" d="M852.2,3578.3a7.1,7.1 0 0 1 0,14.2z"/>
<circle class="cr" cx="867.2" cy="3579.5" r="7.1"/>
<path class="fr" d="M867.2,3572.4a7.1,7.1 0 0 1 0,14.2z"/>
<circle class="cr" cx="882.3" cy="3588.5" r="7.1"/>
<path class="fr" d="M882.3,3581.4a7.1,7.1 0 0 1 0,14.2z"/>
<circle class="cr" cx="897.4" cy="3577.0" r="7.1"/>
<path class="fr" d="M897.4,3569.9a7.1,7.1 0 0 1 0,14.2z"/>
<circle class="cr" cx="912.4" cy="3582.2" r="7.1"/>
<path class="fr" d="M912.4,3575.1a7.1,7.1 0 0 1 0,14.2z"/>
<circle class="cr" cx="927.5" cy="3591.1" r="7.1"/>
<path class="fr" d="M927.5,3584.0a7.1,7.1 0 0 1 0,14.2z"/>
<circle class="cr" cx="942.5" cy="3592.9" r="7.1"/>
<path class="fr" d="M942.5,3585.8a7.1,7.1 0 0 1 0,14.2z"/>
<circle class="cr" cx="957.6" cy="3581.0" r="7.1"/>
<path class="fr" d="M957.6,3573.9a7.1,7.1 0 0 1 0,14.2z"/>
<circle class="cr" cx="972.7" cy="3579.6" r="7.1"/>
<path class="fr" d="M972.7,3572.5a7.1,7.1 0 0 1 0,14.2z"/>
<circle class="cr" cx="987.7" cy="3589.7" r="7.1"/>
<path class="fr" d="M987.7,3582.6a7.1,7.1 0 0 1 0,14.2z"/>
<circle class="cr" cx="1002.8" cy="3589.6" r="7.1"/>
<path class="fr" d="M1002.8,3582.5a7.1,7.1 0 0 1 0,14.2z"/>
<circle class="cr" cx="1017.8" cy="3581.9" r="7.1"/>
<path class="fr" d="M1017.8,3574.8a7.1,7.1 0 0 1 0,14.2z"/>
<circle class="cr" cx="1032.9" cy="3583.1" r="7.1"/>
<path class="fr" d="M1032.9,3576.0a7.1,7.1 0 0 1 0,14.2z"/>
<circle class="cr" cx="1048.0" cy="3583.1" r="7.1"/>
<path class="fr" d="M1048.0,3576.0a7.1,7.1 0 0 1 0,14.2z"/>
<circle class="cr" cx="1063.0" cy="3581.0" r="7.1"/>
<path class="fr" d="M1063.0,3573.9a7.1,7.1 0 0 1 0,14.2z"/>
<path d="M159.4,3586.0 L161.7,3586.0 L164.0,3586.0 L166.2,3586.0 L168.5,3586.0 L170.8,3586.0 L173.1,3586.0 L175.3,3586.0 L177.6,3586.0 L179.9,3586.0 L182.2,3586.0 L184.4,3586.0 L186.7,3586.0 L189.0,3586.0 L191.3,3586.0 L193.5,3586.0 L195.8,3586.0 L198.1,3586.0 L200.3,3586.0 L202.6,3586.0 L204.9,3586.0 L207.2,3586.0 L209.4,3586.0 L211.7,3586.0 L214.0,3586.0 L216.3,3586.0 L218.5,3586.0 L220.8,3586.0 L223.1,3586.0 L225.4,3586.0 L227.6,3586.0 L229.9,3586.0 L232.2,3586.0 L234.5,3586.0 L236.8,3586.0 L239.0,3586.0 L241.3,3586.0 L243.6,3586.0 L245.9,3586.0 L248.1,3586.0 L250.4,3586.0 L252.7,3586.0 L255.0,3586.0 L257.2,3586.0 L259.5,3586.0 L261.8,3586.0 L264.1,3586.0 L266.3,3586.0 L268.6,3586.0 L270.9,3586.0 L273.1,3586.0 L275.4,3586.0 L277.7,3586.0 L280.0,3586.0 L282.2,3586.0 L284.5,3586.0 L286.8,3586.0 L289.1,3586.0 L291.3,3586.0 L293.6,3586.0 L295.9,3586.0 L298.2,3586.0 L300.4,3586.0 L302.7,3586.0 L305.0,3586.0 L307.3,3586.0 L309.5,3586.0 L311.8,3586.0 L314.1,3586.0 L316.4,3586.0 L318.7,3586.0 L320.9,3586.0 L323.2,3586.0 L325.5,3586.0 L327.8,3586.0 L330.0,3586.0 L332.3,3586.0 L334.6,3586.0 L336.9,3586.0 L339.1,3585.9 L341.4,3585.9 L343.7,3585.9 L346.0,3585.9 L348.2,3585.9 L350.5,3585.9 L352.8,3585.9 L355.0,3585.8 L357.3,3585.8 L359.6,3585.8 L361.9,3585.8 L364.1,3585.7 L366.4,3585.7 L368.7,3585.7 L371.0,3585.6 L373.2,3585.6 L375.5,3585.5 L377.8,3585.5 L380.1,3585.4 L382.3,3585.3 L384.6,3585.2 L386.9,3585.1 L389.2,3585.0 L391.5,3584.9 L393.7,3584.8 L396.0,3584.6 L398.3,3584.5 L400.6,3584.3 L402.8,3584.1 L405.1,3583.9 L407.4,3583.6 L409.7,3583.4 L411.9,3583.1 L414.2,3582.8 L416.5,3582.5 L418.8,3582.1 L421.0,3581.7 L423.3,3581.3 L425.6,3580.8 L427.8,3580.3 L430.1,3579.7 L432.4,3579.1 L434.7,3578.5 L436.9,3577.8 L439.2,3577.1 L441.5,3576.3 L443.8,3575.4 L446.0,3574.5 L448.3,3573.5 L450.6,3572.5 L452.9,3571.4 L455.1,3570.2 L457.4,3569.0 L459.7,3567.6 L462.0,3566.3 L464.3,3564.8 L466.5,3563.2 L468.8,3561.6 L471.1,3559.9 L473.4,3558.1 L475.6,3556.2 L477.9,3554.2 L480.2,3552.1 L482.5,3550.0 L484.7,3547.7 L487.0,3545.4 L489.3,3543.0 L491.6,3540.5 L493.8,3537.9 L496.1,3535.3 L498.4,3532.6 L500.6,3529.8 L502.9,3526.9 L505.2,3524.0 L507.5,3521.0 L509.7,3517.9 L512.0,3514.8 L514.3,3511.7 L516.6,3508.5 L518.8,3505.3 L521.1,3502.1 L523.4,3498.8 L525.7,3495.6 L527.9,3492.3 L530.2,3489.1 L532.5,3485.9 L534.8,3482.7 L537.0,3479.5 L539.3,3476.4 L541.6,3473.4 L543.9,3470.4 L546.2,3467.5 L548.4,3464.7 L550.7,3461.9 L553.0,3459.3 L555.3,3456.8 L557.5,3454.5 L559.8,3452.2 L562.1,3450.1 L564.4,3448.1 L566.6,3446.3 L568.9,3444.7 L571.2,3443.2 L573.5,3441.9 L575.7,3440.8 L578.0,3439.9 L580.3,3439.1 L582.5,3438.6 L584.8,3438.2 L587.1,3438.0 L589.4,3438.0 L591.6,3438.2 L593.9,3438.7 L596.2,3439.3 L598.5,3440.0 L600.7,3441.0 L603.0,3442.2 L605.3,3443.5 L607.6,3445.0 L609.8,3446.7 L612.1,3448.5 L614.4,3450.5 L616.7,3452.6 L619.0,3454.9 L621.2,3457.3 L623.5,3459.8 L625.8,3462.5 L628.1,3465.2 L630.3,3468.1 L632.6,3471.0 L634.9,3474.0 L637.2,3477.0 L639.4,3480.2 L641.7,3483.3 L644.0,3486.5 L646.3,3489.7 L648.5,3493.0 L650.8,3496.2 L653.1,3499.5 L655.3,3502.7 L657.6,3505.9 L659.9,3509.1 L662.2,3512.3 L664.4,3515.5 L666.7,3518.5 L669.0,3521.6 L671.3,3524.6 L673.5,3527.5 L675.8,3530.3 L678.1,3533.1 L680.4,3535.8 L682.6,3538.5 L684.9,3541.0 L687.2,3543.5 L689.5,3545.9 L691.8,3548.2 L694.0,3550.4 L696.3,3552.5 L698.6,3554.6 L700.9,3556.6 L703.1,3558.4 L705.4,3560.2 L707.7,3561.9 L710.0,3563.5 L712.2,3565.1 L714.5,3566.5 L716.8,3567.9 L719.1,3569.2 L721.3,3570.5 L723.6,3571.6 L725.9,3572.7 L728.1,3573.7 L730.4,3574.7 L732.7,3575.6 L735.0,3576.4 L737.2,3577.2 L739.5,3577.9 L741.8,3578.6 L744.1,3579.3 L746.3,3579.8 L748.6,3580.4 L750.9,3580.9 L753.2,3581.3 L755.4,3581.8 L757.7,3582.2 L760.0,3582.5 L762.3,3582.9 L764.5,3583.2 L766.8,3583.4 L769.1,3583.7 L771.4,3583.9 L773.7,3584.1 L775.9,3584.3 L778.2,3584.5 L780.5,3584.6 L782.8,3584.8 L785.0,3584.9 L787.3,3585.0 L789.6,3585.1 L791.9,3585.2 L794.1,3585.3 L796.4,3585.4 L798.7,3585.5 L801.0,3585.5 L803.2,3585.6 L805.5,3585.6 L807.8,3585.7 L810.0,3585.7 L812.3,3585.7 L814.6,3585.8 L816.9,3585.8 L819.1,3585.8 L821.4,3585.9 L823.7,3585.9 L826.0,3585.9 L828.2,3585.9 L830.5,3585.9 L832.8,3585.9 L835.1,3585.9 L837.3,3585.9 L839.6,3586.0 L841.9,3586.0 L844.2,3586.0 L846.5,3586.0 L848.7,3586.0 L851.0,3586.0 L853.3,3586.0 L855.6,3586.0 L857.8,3586.0 L860.1,3586.0 L862.4,3586.0 L864.7,3586.0 L866.9,3586.0 L869.2,3586.0 L871.5,3586.0 L873.8,3586.0 L876.0,3586.0 L878.3,3586.0 L880.6,3586.0 L882.8,3586.0 L885.1,3586.0 L887.4,3586.0 L889.7,3586.0 L891.9,3586.0 L894.2,3586.0 L896.5,3586.0 L898.8,3586.0 L901.0,3586.0 L903.3,3586.0 L905.6,3586.0 L907.9,3586.0 L910.1,3586.0 L912.4,3586.0 L914.7,3586.0 L917.0,3586.0 L919.3,3586.0 L921.5,3586.0 L923.8,3586.0 L926.1,3586.0 L928.4,3586.0 L930.6,3586.0 L932.9,3586.0 L935.2,3586.0 L937.5,3586.0 L939.7,3586.0 L942.0,3586.0 L944.3,3586.0 L946.6,3586.0 L948.8,3586.0 L951.1,3586.0 L953.4,3586.0 L955.6,3586.0 L957.9,3586.0 L960.2,3586.0 L962.5,3586.0 L964.7,3586.0 L967.0,3586.0 L969.3,3586.0 L971.6,3586.0 L973.8,3586.0 L976.1,3586.0 L978.4,3586.0 L980.7,3586.0 L982.9,3586.0 L985.2,3586.0 L987.5,3586.0 L989.8,3586.0 L992.0,3586.0 L994.3,3586.0 L996.6,3586.0 L998.9,3586.0 L1001.2,3586.0 L1003.4,3586.0 L1005.7,3586.0 L1008.0,3586.0 L1010.3,3586.0 L1012.5,3586.0 L1014.8,3586.0 L1017.1,3586.0 L1019.4,3586.0 L1021.6,3586.0 L1023.9,3586.0 L1026.2,3586.0 L1028.5,3586.0 L1030.7,3586.0 L1033.0,3586.0 L1035.3,3586.0 L1037.5,3586.0 L1039.8,3586.0 L1042.1,3586.0 L1044.4,3586.0 L1046.6,3586.0 L1048.9,3586.0 L1051.2,3586.0 L1053.5,3586.0 L1055.7,3586.0 L1058.0,3586.0 L1060.3,3586.0 L1062.6,3586.0 L1064.8,3586.0 L1067.1,3586.0 L1069.4,3586.0" fill="none" stroke="#ff0000" stroke-width="6.5" stroke-linejoin="round"/>
<circle class="ck" cx="159.4" cy="3743.6" r="7.1"/>
<path class="fk" d="M159.4,3736.5a7.1,7.1 0 0 1 0,14.2z"/>
<circle class="ck" cx="174.5" cy="3751.8" r="7.1"/>
<path class="fk" d="M174.5,3744.7a7.1,7.1 0 0 1 0,14.2z"/>
<circle class="ck" cx="189.5" cy="3749.4" r="7.1"/>
<path class="fk" d="M189.5,3742.3a7.1,7.1 0 0 1 0,14.2z"/>
<circle class="ck" cx="204.6" cy="3755.1" r="7.1"/>
<path class="fk" d="M204.6,3748.0a7.1,7.1 0 0 1 0,14.2z"/>
<circle class="ck" cx="219.6" cy="3746.1" r="7.1"/>
<path class="fk" d="M219.6,3739.0a7.1,7.1 0 0 1 0,14.2z"/>
<circle class="ck" cx="234.7" cy="3745.9" r="7.1"/>
<path class="fk" d="M234.7,3738.8a7.1,7.1 0 0 1 0,14.2z"/>
<circle class="ck" cx="249.8" cy="3742.4" r="7.1"/>
<path class="fk" d="M249.8,3735.3a7.1,7.1 0 0 1 0,14.2z"/>
<circle class="ck" cx="264.8" cy="3746.0" r="7.1"/>
<path class="fk" d="M264.8,3738.9a7.1,7.1 0 0 1 0,14.2z"/>
<circle class="ck" cx="279.9" cy="3741.0" r="7.1"/>
<path class="fk" d="M279.9,3733.9a7.1,7.1 0 0 1 0,14.2z"/>
<circle class="ck" cx="294.9" cy="3739.0" r="7.1"/>
<path class="fk" d="M294.9,3731.9a7.1,7.1 0 0 1 0,14.2z"/>
<circle class="ck" cx="310.0" cy="3749.4" r="7.1"/>
<path class="fk" d="M310.0,3742.3a7.1,7.1 0 0 1 0,14.2z"/>
<circle class="ck" cx="325.1" cy="3752.5" r="7.1"/>
<path class="fk" d="M325.1,3745.4a7.1,7.1 0 0 1 0,14.2z"/>
<circle class="ck" cx="340.1" cy="3750.0" r="7.1"/>
<path class="fk" d="M340.1,3742.9a7.1,7.1 0 0 1 0,14.2z"/>
<circle class="ck" cx="355.2" cy="3752.1" r="7.1"/>
<path class="fk" d="M355.2,3745.0a7.1,7.1 0 0 1 0,14.2z"/>
<circle class="ck" cx="370.2" cy="3747.5" r="7.1"/>
<path class="fk" d="M370.2,3740.4a7.1,7.1 0 0 1 0,14.2z"/>
<circle class="ck" cx="385.3" cy="3743.2" r="7.1"/>
<path class="fk" d="M385.3,3736.1a7.1,7.1 0 0 1 0,14.2z"/>
<circle class="ck" cx="400.4" cy="3746.3" r="7.1"/>
<path class="fk" d="M400.4,3739.2a7.1,7.1 0 0 1 0,14.2z"/>
<circle class="ck" cx="415.4" cy="3743.5" r="7.1"/>
<path class="fk" d="M415.4,3736.4a7.1,7.1 0 0 1 0,14.2z"/>
<circle class="ck" cx="430.5" cy="3738.9" r="7.1"/>
<path class="fk" d="M430.5,3731.8a7.1,7.1 0 0 1 0,14.2z"/>
<circle class="ck" cx="445.5" cy="3733.6" r="7.1"/>
<path class="fk" d="M445.5,3726.5a7.1,7.1 0 0 1 0,14.2z"/>
<circle class="ck" cx="460.6" cy="3729.6" r="7.1"/>
<path class="fk" d="M460.6,3722.5a7.1,7.1 0 0 1 0,14.2z"/>
<circle class="ck" cx="475.7" cy="3728.0" r="7.1"/>
<path class="fk" d="M475.7,3720.9a7.1,7.1 0 0 1 0,14.2z"/>
<circle class="ck" cx="490.7" cy="3717.2" r="7.1"/>
<path class="fk" d="M490.7,3710.1a7.1,7.1 0 0 1 0,14.2z"/>
<circle class="ck" cx="505.8" cy="3699.1" r="7.1"/>
<path class="fk" d="M505.8,3692.0a7.1,7.1 0 0 1 0,14.2z"/>
<circle class="ck" cx="520.9" cy="3688.2" r="7.1"/>
<path class="fk" d="M520.9,3681.1a7.1,7.1 0 0 1 0,14.2z"/>
<circle class="ck" cx="535.9" cy="3662.2" r="7.1"/>
<path class="fk" d="M535.9,3655.1a7.1,7.1 0 0 1 0,14.2z"/>
<circle class="ck" cx="551.0" cy="3643.6" r="7.1"/>
<path class="fk" d="M551.0,3636.5a7.1,7.1 0 0 1 0,14.2z"/>
<circle class="ck" cx="566.0" cy="3629.5" r="7.1"/>
<path class="fk" d="M566.0,3622.4a7.1,7.1 0 0 1 0,14.2z"/>
<circle class="ck" cx="581.1" cy="3610.7" r="7.1"/>
<path class="fk" d="M581.1,3603.6a7.1,7.1 0 0 1 0,14.2z"/>
<circle class="ck" cx="596.2" cy="3604.1" r="7.1"/>
<path class="fk" d="M596.2,3597.0a7.1,7.1 0 0 1 0,14.2z"/>
<circle class="ck" cx="611.2" cy="3622.5" r="7.1"/>
<path class="fk" d="M611.2,3615.4a7.1,7.1 0 0 1 0,14.2z"/>
<circle class="ck" cx="626.3" cy="3630.9" r="7.1"/>
<path class="fk" d="M626.3,3623.8a7.1,7.1 0 0 1 0,14.2z"/>
<circle class="ck" cx="641.3" cy="3658.5" r="7.1"/>
<path class="fk" d="M641.3,3651.4a7.1,7.1 0 0 1 0,14.2z"/>
<circle class="ck" cx="656.4" cy="3675.4" r="7.1"/>
<path class="fk" d="M656.4,3668.3a7.1,7.1 0 0 1 0,14.2z"/>
<circle class="ck" cx="671.5" cy="3698.1" r="7.1"/>
<path class="fk" d="M671.5,3691.0a7.1,7.1 0 0 1 0,14.2z"/>
<circle class="ck" cx="686.5" cy="3714.0" r="7.1"/>
<path class="fk" d="M686.5,3706.9a7.1,7.1 0 0 1 0,14.2z"/>
<circle class="ck" cx="701.6" cy="3715.1" r="7.1"/>
<path class="fk" d="M701.6,3708.0a7.1,7.1 0 0 1 0,14.2z"/>
<circle class="ck" cx="716.6" cy="3736.1" r="7.1"/>
<path class="fk" d="M716.6,3729.0a7.1,7.1 0 0 1 0,14.2z"/>
<circle class="ck" cx="731.7" cy="3736.2" r="7.1"/>
<path class="fk" d="M731.7,3729.1a7.1,7.1 0 0 1 0,14.2z"/>
<circle class="ck" cx="746.8" cy="3739.4" r="7.1"/>
<path class="fk" d="M746.8,3732.3a7.1,7.1 0 0 1 0,14.2z"/>
<circle class="ck" cx="761.8" cy="3742.8" r="7.1"/>
<path class="fk" d="M761.8,3735.7a7.1,7.1 0 0 1 0,14.2z"/>
<circle class="ck" cx="776.9" cy="3748.9" r="7.1"/>
<path class="fk" d="M776.9,3741.8a7.1,7.1 0 0 1 0,14.2z"/>
<circle class="ck" cx="791.9" cy="3749.9" r="7.1"/>
<path class="fk" d="M791.9,3742.8a7.1,7.1 0 0 1 0,14.2z"/>
<circle class="ck" cx="807.0" cy="3750.6" r="7.1"/>
<path class="fk" d="M807.0,3743.5a7.1,7.1 0 0 1 0,14.2z"/>
<circle class="ck" cx="822.1" cy="3739.5" r="7.1"/>
<path class="fk" d="M822.1,3732.4a7.1,7.1 0 0 1 0,14.2z"/>
<circle class="ck" cx="837.1" cy="3744.0" r="7.1"/>
<path class="fk" d="M837.1,3736.9a7.1,7.1 0 0 1 0,14.2z"/>
<circle class="ck" cx="852.2" cy="3736.5" r="7.1"/>
<path class="fk" d="M852.2,3729.4a7.1,7.1 0 0 1 0,14.2z"/>
<circle class="ck" cx="867.2" cy="3746.1" r="7.1"/>
<path class="fk" d="M867.2,3739.0a7.1,7.1 0 0 1 0,14.2z"/>
<circle class="ck" cx="882.3" cy="3749.0" r="7.1"/>
<path class="fk" d="M882.3,3741.9a7.1,7.1 0 0 1 0,14.2z"/>
<circle class="ck" cx="897.4" cy="3743.3" r="7.1"/>
<path class="fk" d="M897.4,3736.2a7.1,7.1 0 0 1 0,14.2z"/>
<circle class="ck" cx="912.4" cy="3747.5" r="7.1"/>
<path class="fk" d="M912.4,3740.4a7.1,7.1 0 0 1 0,14.2z"/>
<circle class="ck" cx="927.5" cy="3747.5" r="7.1"/>
<path class="fk" d="M927.5,3740.4a7.1,7.1 0 0 1 0,14.2z"/>
<circle class="ck" cx="942.5" cy="3750.7" r="7.1"/>
<path class="fk" d="M942.5,3743.6a7.1,7.1 0 0 1 0,14.2z"/>
<circle class="ck" cx="957.6" cy="3743.1" r="7.1"/>
<path class="fk" d="M957.6,3736.0a7.1,7.1 0 0 1 0,14.2z"/>
<circle class="ck" cx="972.7" cy="3743.0" r="7.1"/>
<path class="fk" d="M972.7,3735.9a7.1,7.1 0 0 1 0,14.2z"/>
<circle class="ck" cx="987.7" cy="3743.3" r="7.1"/>
<path class="fk" d="M987.7,3736.2a7.1,7.1 0 0 1 0,14.2z"/>
<circle class="ck" cx="1002.8" cy="3753.9" r="7.1"/>
<path class="fk" d="M1002.8,3746.8a7.1,7.1 0 0 1 0,14.2z"/>
<circle class="ck" cx="1017.8" cy="3751.1" r="7.1"/>
<path class="fk" d="M1017.8,3744.0a7.1,7.1 0 0 1 0,14.2z"/>
<circle class="ck" cx="1032.9" cy="3746.0" r="7.1"/>
<path class="fk" d="M1032.9,3738.9a7.1,7.1 0 0 1 0,14.2z"/>
<circle class="ck" cx="1048.0" cy="3747.4" r="7.1"/>
<path class="fk" d="M1048.0,3740.3a7.1,7.1 0 0 1 0,14.2z"/>
<circle class="ck" cx="1063.0" cy="3747.0" r="7.1"/>
<path class="fk" d="M1063.0,3739.9a7.1,7.1 0 0 1 0,14.2z"/>
<path d="M159.4,3746.5 L161.7,3746.5 L164.0,3746.5 L166.2,3746.5 L168.5,3746.5 L170.8,3746.5 L173.1,3746.5 L175.3,3746.5 L177.6,3746.5 L179.9,3746.5 L182.2,3746.5 L184.4,3746.5 L186.7,3746.5 L189.0,3746.5 L191.3,3746.5 L193.5,3746.5 L195.8,3746.5 L198.1,3746.5 L200.3,3746.5 L202.6,3746.5 L204.9,3746.5 L207.2,3746.5 L209.4,3746.5 L211.7,3746.5 L214.0,3746.5 L216.3,3746.5 L218.5,3746.5 L220.8,3746.5 L223.1,3746.5 L225.4,3746.5 L227.6,3746.5 L229.9,3746.5 L232.2,3746.5 L234.5,3746.5 L236.8,3746.5 L239.0,3746.5 L241.3,3746.5 L243.6,3746.5 L245.9,3746.5 L248.1,3746.5 L250.4,3746.5 L252.7,3746.5 L255.0,3746.5 L257.2,3746.5 L259.5,3746.5 L261.8,3746.5 L264.1,3746.5 L266.3,3746.5 L268.6,3746.5 L270.9,3746.5 L273.1,3746.5 L275.4,3746.5 L277.7,3746.5 L280.0,3746.5 L282.2,3746.5 L284.5,3746.5 L286.8,3746.5 L289.1,3746.5 L291.3,3746.5 L293.6,3746.5 L295.9,3746.5 L298.2,3746.5 L300.4,3746.5 L302.7,3746.5 L305.0,3746.5 L307.3,3746.5 L309.5,3746.5 L311.8,3746.5 L314.1,3746.5 L316.4,3746.5 L318.7,3746.5 L320.9,3746.5 L323.2,3746.5 L325.5,3746.5 L327.8,3746.5 L330.0,3746.5 L332.3,3746.5 L334.6,3746.5 L336.9,3746.5 L339.1,3746.5 L341.4,3746.5 L343.7,3746.5 L346.0,3746.5 L348.2,3746.5 L350.5,3746.5 L352.8,3746.5 L355.0,3746.5 L357.3,3746.5 L359.6,3746.5 L361.9,3746.4 L364.1,3746.4 L366.4,3746.4 L368.7,3746.4 L371.0,3746.4 L373.2,3746.4 L375.5,3746.4 L377.8,3746.3 L380.1,3746.3 L382.3,3746.3 L384.6,3746.3 L386.9,3746.2 L389.2,3746.2 L391.5,3746.1 L393.7,3746.1 L396.0,3746.0 L398.3,3746.0 L400.6,3745.9 L402.8,3745.8 L405.1,3745.7 L407.4,3745.6 L409.7,3745.5 L411.9,3745.3 L414.2,3745.2 L416.5,3745.0 L418.8,3744.9 L421.0,3744.7 L423.3,3744.4 L425.6,3744.2 L427.8,3743.9 L430.1,3743.6 L432.4,3743.3 L434.7,3742.9 L436.9,3742.5 L439.2,3742.1 L441.5,3741.7 L443.8,3741.1 L446.0,3740.6 L448.3,3740.0 L450.6,3739.3 L452.9,3738.6 L455.1,3737.9 L457.4,3737.0 L459.7,3736.2 L462.0,3735.2 L464.3,3734.2 L466.5,3733.1 L468.8,3732.0 L471.1,3730.7 L473.4,3729.4 L475.6,3728.0 L477.9,3726.5 L480.2,3725.0 L482.5,3723.3 L484.7,3721.6 L487.0,3719.7 L489.3,3717.8 L491.6,3715.8 L493.8,3713.7 L496.1,3711.5 L498.4,3709.2 L500.6,3706.8 L502.9,3704.3 L505.2,3701.8 L507.5,3699.2 L509.7,3696.5 L512.0,3693.7 L514.3,3690.8 L516.6,3687.9 L518.8,3684.9 L521.1,3681.9 L523.4,3678.8 L525.7,3675.7 L527.9,3672.5 L530.2,3669.4 L532.5,3666.2 L534.8,3663.0 L537.0,3659.8 L539.3,3656.7 L541.6,3653.5 L543.9,3650.4 L546.2,3647.4 L548.4,3644.4 L550.7,3641.5 L553.0,3638.6 L555.3,3635.9 L557.5,3633.2 L559.8,3630.7 L562.1,3628.3 L564.4,3626.0 L566.6,3623.9 L568.9,3621.9 L571.2,3620.1 L573.5,3618.4 L575.7,3616.9 L578.0,3615.6 L580.3,3614.5 L582.5,3613.6 L584.8,3612.9 L587.1,3612.4 L589.4,3612.1 L591.6,3612.0 L593.9,3612.1 L596.2,3612.4 L598.5,3612.9 L600.7,3613.6 L603.0,3614.5 L605.3,3615.6 L607.6,3616.9 L609.8,3618.4 L612.1,3620.1 L614.4,3621.9 L616.7,3623.9 L619.0,3626.0 L621.2,3628.3 L623.5,3630.7 L625.8,3633.2 L628.1,3635.9 L630.3,3638.6 L632.6,3641.5 L634.9,3644.4 L637.2,3647.4 L639.4,3650.4 L641.7,3653.5 L644.0,3656.7 L646.3,3659.8 L648.5,3663.0 L650.8,3666.2 L653.1,3669.4 L655.3,3672.5 L657.6,3675.7 L659.9,3678.8 L662.2,3681.9 L664.4,3684.9 L666.7,3687.9 L669.0,3690.8 L671.3,3693.7 L673.5,3696.5 L675.8,3699.2 L678.1,3701.8 L680.4,3704.3 L682.6,3706.8 L684.9,3709.2 L687.2,3711.5 L689.5,3713.7 L691.8,3715.8 L694.0,3717.8 L696.3,3719.7 L698.6,3721.6 L700.9,3723.3 L703.1,3725.0 L705.4,3726.5 L707.7,3728.0 L710.0,3729.4 L712.2,3730.7 L714.5,3732.0 L716.8,3733.1 L719.1,3734.2 L721.3,3735.2 L723.6,3736.2 L725.9,3737.0 L728.1,3737.9 L730.4,3738.6 L732.7,3739.3 L735.0,3740.0 L737.2,3740.6 L739.5,3741.1 L741.8,3741.7 L744.1,3742.1 L746.3,3742.5 L748.6,3742.9 L750.9,3743.3 L753.2,3743.6 L755.4,3743.9 L757.7,3744.2 L760.0,3744.4 L762.3,3744.7 L764.5,3744.9 L766.8,3745.0 L769.1,3745.2 L771.4,3745.3 L773.7,3745.5 L775.9,3745.6 L778.2,3745.7 L780.5,3745.8 L782.8,3745.9 L785.0,3746.0 L787.3,3746.0 L789.6,3746.1 L791.9,3746.1 L794.1,3746.2 L796.4,3746.2 L798.7,3746.3 L801.0,3746.3 L803.2,3746.3 L805.5,3746.3 L807.8,3746.4 L810.0,3746.4 L812.3,3746.4 L814.6,3746.4 L816.9,3746.4 L819.1,3746.4 L821.4,3746.4 L823.7,3746.5 L826.0,3746.5 L828.2,3746.5 L830.5,3746.5 L832.8,3746.5 L835.1,3746.5 L837.3,3746.5 L839.6,3746.5 L841.9,3746.5 L844.2,3746.5 L846.5,3746.5 L848.7,3746.5 L851.0,3746.5 L853.3,3746.5 L855.6,3746.5 L857.8,3746.5 L860.1,3746.5 L862.4,3746.5 L864.7,3746.5 L866.9,3746.5 L869.2,3746.5 L871.5,3746.5 L873.8,3746.5 L876.0,3746.5 L878.3,3746.5 L880.6,3746.5 L882.8,3746.5 L885.1,3746.5 L887.4,3746.5 L889.7,3746.5 L891.9,3746.5 L894.2,3746.5 L896.5,3746.5 L898.8,3746.5 L901.0,3746.5 L903.3,3746.5 L905.6,3746.5 L907.9,3746.5 L910.1,3746.5 L912.4,3746.5 L914.7,3746.5 L917.0,3746.5 L919.3,3746.5 L921.5,3746.5 L923.8,3746.5 L926.1,3746.5 L928.4,3746.5 L930.6,3746.5 L932.9,3746.5 L935.2,3746.5 L937.5,3746.5 L939.7,3746.5 L942.0,3746.5 L944.3,3746.5 L946.6,3746.5 L948.8,3746.5 L951.1,3746.5 L953.4,3746.5 L955.6,3746.5 L957.9,3746.5 L960.2,3746.5 L962.5,3746.5 L964.7,3746.5 L967.0,3746.5 L969.3,3746.5 L971.6,3746.5 L973.8,3746.5 L976.1,3746.5 L978.4,3746.5 L980.7,3746.5 L982.9,3746.5 L985.2,3746.5 L987.5,3746.5 L989.8,3746.5 L992.0,3746.5 L994.3,3746.5 L996.6,3746.5 L998.9,3746.5 L1001.2,3746.5 L1003.4,3746.5 L1005.7,3746.5 L1008.0,3746.5 L1010.3,3746.5 L1012.5,3746.5 L1014.8,3746.5 L1017.1,3746.5 L1019.4,3746.5 L1021.6,3746.5 L1023.9,3746.5 L1026.2,3746.5 L1028.5,3746.5 L1030.7,3746.5 L1033.0,3746.5 L1035.3,3746.5 L1037.5,3746.5 L1039.8,3746.5 L1042.1,3746.5 L1044.4,3746.5 L1046.6,3746.5 L1048.9,3746.5 L1051.2,3746.5 L1053.5,3746.5 L1055.7,3746.5 L1058.0,3746.5 L1060.3,3746.5 L1062.6,3746.5 L1064.8,3746.5 L1067.1,3746.5 L1069.4,3746.5" fill="none" stroke="#000000" stroke-width="6.5" stroke-linejoin="round"/>
<line x1="600.0" y1="3102.7" x2="600.0" y2="3758.0" stroke="#9a00c8" stroke-width="8" stroke-dasharray="9.8 7"/>
<rect x="159.4" y="3099.3" width="908.6" height="673.2" fill="none" stroke="#000" stroke-width="5" />
<line x1="159.4" y1="3772.5" x2="159.4" y2="3783.5" stroke="#000" stroke-width="5" />
<text x="159.4" y="3828.1" font-size="44" font-family="'Liberation Sans', sans-serif" fill="#000" text-anchor="middle" textLength="80.5" lengthAdjust="spacingAndGlyphs" stroke="#000" stroke-width="0.9">27.5</text>
<line x1="273.1" y1="3772.5" x2="273.1" y2="3779.0" stroke="#000" stroke-width="5" />
<line x1="386.9" y1="3772.5" x2="386.9" y2="3783.5" stroke="#000" stroke-width="5" />
<text x="386.9" y="3828.1" font-size="44" font-family="'Liberation Sans', sans-serif" fill="#000" text-anchor="middle" textLength="80.5" lengthAdjust="spacingAndGlyphs" stroke="#000" stroke-width="0.9">28.0</text>
<line x1="500.6" y1="3772.5" x2="500.6" y2="3779.0" stroke="#000" stroke-width="5" />
<line x1="614.4" y1="3772.5" x2="614.4" y2="3783.5" stroke="#000" stroke-width="5" />
<text x="614.4" y="3828.1" font-size="44" font-family="'Liberation Sans', sans-serif" fill="#000" text-anchor="middle" textLength="80.5" lengthAdjust="spacingAndGlyphs" stroke="#000" stroke-width="0.9">28.5</text>
<line x1="728.1" y1="3772.5" x2="728.1" y2="3779.0" stroke="#000" stroke-width="5" />
<line x1="841.9" y1="3772.5" x2="841.9" y2="3783.5" stroke="#000" stroke-width="5" />
<text x="841.9" y="3828.1" font-size="44" font-family="'Liberation Sans', sans-serif" fill="#000" text-anchor="middle" textLength="80.5" lengthAdjust="spacingAndGlyphs" stroke="#000" stroke-width="0.9">29.0</text>
<line x1="955.6" y1="3772.5" x2="955.6" y2="3779.0" stroke="#000" stroke-width="5" />
<line x1="1069.4" y1="3772.5" x2="1069.4" y2="3783.5" stroke="#000" stroke-width="5" />
<text x="1069.4" y="3828.1" font-size="44" font-family="'Liberation Sans', sans-serif" fill="#000" text-anchor="middle" textLength="80.5" lengthAdjust="spacingAndGlyphs" stroke="#000" stroke-width="0.9">29.5</text>
<text x="569.0" y="3893.8" font-size="43" font-family="'Liberation Sans', sans-serif" fill="#000" textLength="90" lengthAdjust="spacingAndGlyphs" stroke="#000" stroke-width="0.9">2θ (°)</text>
<text x="121.1" y="3435.5" font-size="43" font-family="'Liberation Sans', sans-serif" fill="#000" text-anchor="middle" textLength="449" lengthAdjust="spacingAndGlyphs" transform="rotate(-90 121.1 3435.5)" stroke="#000" stroke-width="0.9">Normalized intensity (a.u)</text>
<text x="191.0" y="3143.5" font-size="34" font-family="'Liberation Sans', sans-serif" fill="#000" textLength="82.7" lengthAdjust="spacingAndGlyphs" stroke="#000" stroke-width="0.9" style="white-space:pre">90 °C</text>
<text x="969.6" y="3223.7" font-size="35.5" font-family="'Liberation Sans', sans-serif" fill="#000" textLength="73.9" lengthAdjust="spacingAndGlyphs" stroke="#000" stroke-width="0.9" style="white-space:pre">Ψ=5°</text>
<text x="918.5" y="3388.8" font-size="35.5" font-family="'Liberation Sans', sans-serif" fill="#000" textLength="120.2" lengthAdjust="spacingAndGlyphs" stroke="#000" stroke-width="0.9" style="white-space:pre">Ψ=4.08°</text>
<text x="919.5" y="3560.5" font-size="35.5" font-family="'Liberation Sans', sans-serif" fill="#000" textLength="120" lengthAdjust="spacingAndGlyphs" stroke="#000" stroke-width="0.9" style="white-space:pre">Ψ=2.88°</text>
<text x="969.0" y="3716.0" font-size="35.5" font-family="'Liberation Sans', sans-serif" fill="#000" textLength="62" lengthAdjust="spacingAndGlyphs" stroke="#000" stroke-width="0.9" style="white-space:pre">Ψ=0</text>
<circle class="cb" cx="1227.2" cy="3276.9" r="7.9"/>
<path class="fb" d="M1219.3,3276.9a7.9,7.9 0 0 1 15.8,0z"/>
<circle class="cb" cx="1242.6" cy="3278.2" r="7.9"/>
<path class="fb" d="M1234.7,3278.2a7.9,7.9 0 0 1 15.8,0z"/>
<circle class="cb" cx="1258.0" cy="3276.4" r="7.9"/>
<path class="fb" d="M1250.1,3276.4a7.9,7.9 0 0 1 15.8,0z"/>
<circle class="cb" cx="1273.4" cy="3275.6" r="7.9"/>
<path class="fb" d="M1265.5,3275.6a7.9,7.9 0 0 1 15.8,0z"/>
<circle class="cb" cx="1288.8" cy="3277.2" r="7.9"/>
<path class="fb" d="M1280.9,3277.2a7.9,7.9 0 0 1 15.8,0z"/>
<circle class="cb" cx="1304.2" cy="3277.5" r="7.9"/>
<path class="fb" d="M1296.3,3277.5a7.9,7.9 0 0 1 15.8,0z"/>
<circle class="cb" cx="1319.5" cy="3277.3" r="7.9"/>
<path class="fb" d="M1311.6,3277.3a7.9,7.9 0 0 1 15.8,0z"/>
<circle class="cb" cx="1334.9" cy="3277.5" r="7.9"/>
<path class="fb" d="M1327.0,3277.5a7.9,7.9 0 0 1 15.8,0z"/>
<circle class="cb" cx="1350.3" cy="3277.0" r="7.9"/>
<path class="fb" d="M1342.4,3277.0a7.9,7.9 0 0 1 15.8,0z"/>
<circle class="cb" cx="1365.7" cy="3276.6" r="7.9"/>
<path class="fb" d="M1357.8,3276.6a7.9,7.9 0 0 1 15.8,0z"/>
<circle class="cb" cx="1381.1" cy="3276.4" r="7.9"/>
<path class="fb" d="M1373.2,3276.4a7.9,7.9 0 0 1 15.8,0z"/>
<circle class="cb" cx="1396.5" cy="3276.9" r="7.9"/>
<path class="fb" d="M1388.6,3276.9a7.9,7.9 0 0 1 15.8,0z"/>
<circle class="cb" cx="1411.9" cy="3276.7" r="7.9"/>
<path class="fb" d="M1404.0,3276.7a7.9,7.9 0 0 1 15.8,0z"/>
<circle class="cb" cx="1427.3" cy="3277.6" r="7.9"/>
<path class="fb" d="M1419.4,3277.6a7.9,7.9 0 0 1 15.8,0z"/>
<circle class="cb" cx="1442.7" cy="3277.1" r="7.9"/>
<path class="fb" d="M1434.8,3277.1a7.9,7.9 0 0 1 15.8,0z"/>
<circle class="cb" cx="1458.1" cy="3275.0" r="7.9"/>
<path class="fb" d="M1450.2,3275.0a7.9,7.9 0 0 1 15.8,0z"/>
<circle class="cb" cx="1473.5" cy="3275.4" r="7.9"/>
<path class="fb" d="M1465.6,3275.4a7.9,7.9 0 0 1 15.8,0z"/>
<circle class="cb" cx="1488.9" cy="3272.7" r="7.9"/>
<path class="fb" d="M1481.0,3272.7a7.9,7.9 0 0 1 15.8,0z"/>
<circle class="cb" cx="1504.2" cy="3270.0" r="7.9"/>
<path class="fb" d="M1496.3,3270.0a7.9,7.9 0 0 1 15.8,0z"/>
<circle class="cb" cx="1519.6" cy="3264.5" r="7.9"/>
<path class="fb" d="M1511.7,3264.5a7.9,7.9 0 0 1 15.8,0z"/>
<circle class="cb" cx="1535.0" cy="3254.9" r="7.9"/>
<path class="fb" d="M1527.1,3254.9a7.9,7.9 0 0 1 15.8,0z"/>
<circle class="cb" cx="1550.4" cy="3240.8" r="7.9"/>
<path class="fb" d="M1542.5,3240.8a7.9,7.9 0 0 1 15.8,0z"/>
<circle class="cb" cx="1565.8" cy="3226.9" r="7.9"/>
<path class="fb" d="M1557.9,3226.9a7.9,7.9 0 0 1 15.8,0z"/>
<circle class="cb" cx="1581.2" cy="3206.2" r="7.9"/>
<path class="fb" d="M1573.3,3206.2a7.9,7.9 0 0 1 15.8,0z"/>
<circle class="cb" cx="1596.6" cy="3188.4" r="7.9"/>
<path class="fb" d="M1588.7,3188.4a7.9,7.9 0 0 1 15.8,0z"/>
<circle class="cb" cx="1612.0" cy="3166.9" r="7.9"/>
<path class="fb" d="M1604.1,3166.9a7.9,7.9 0 0 1 15.8,0z"/>
<circle class="cb" cx="1627.4" cy="3150.9" r="7.9"/>
<path class="fb" d="M1619.5,3150.9a7.9,7.9 0 0 1 15.8,0z"/>
<circle class="cb" cx="1642.8" cy="3142.0" r="7.9"/>
<path class="fb" d="M1634.9,3142.0a7.9,7.9 0 0 1 15.8,0z"/>
<circle class="cb" cx="1658.2" cy="3136.2" r="7.9"/>
<path class="fb" d="M1650.3,3136.2a7.9,7.9 0 0 1 15.8,0z"/>
<circle class="cb" cx="1673.6" cy="3142.9" r="7.9"/>
<path class="fb" d="M1665.7,3142.9a7.9,7.9 0 0 1 15.8,0z"/>
<circle class="cb" cx="1688.9" cy="3154.4" r="7.9"/>
<path class="fb" d="M1681.0,3154.4a7.9,7.9 0 0 1 15.8,0z"/>
<circle class="cb" cx="1704.3" cy="3172.5" r="7.9"/>
<path class="fb" d="M1696.4,3172.5a7.9,7.9 0 0 1 15.8,0z"/>
<circle class="cb" cx="1719.7" cy="3192.4" r="7.9"/>
<path class="fb" d="M1711.8,3192.4a7.9,7.9 0 0 1 15.8,0z"/>
<circle class="cb" cx="1735.1" cy="3213.8" r="7.9"/>
<path class="fb" d="M1727.2,3213.8a7.9,7.9 0 0 1 15.8,0z"/>
<circle class="cb" cx="1750.5" cy="3231.1" r="7.9"/>
<path class="fb" d="M1742.6,3231.1a7.9,7.9 0 0 1 15.8,0z"/>
<circle class="cb" cx="1765.9" cy="3246.4" r="7.9"/>
<path class="fb" d="M1758.0,3246.4a7.9,7.9 0 0 1 15.8,0z"/>
<circle class="cb" cx="1781.3" cy="3257.9" r="7.9"/>
<path class="fb" d="M1773.4,3257.9a7.9,7.9 0 0 1 15.8,0z"/>
<circle class="cb" cx="1796.7" cy="3263.9" r="7.9"/>
<path class="fb" d="M1788.8,3263.9a7.9,7.9 0 0 1 15.8,0z"/>
<circle class="cb" cx="1812.1" cy="3271.5" r="7.9"/>
<path class="fb" d="M1804.2,3271.5a7.9,7.9 0 0 1 15.8,0z"/>
<circle class="cb" cx="1827.5" cy="3273.3" r="7.9"/>
<path class="fb" d="M1819.6,3273.3a7.9,7.9 0 0 1 15.8,0z"/>
<circle class="cb" cx="1842.9" cy="3274.0" r="7.9"/>
<path class="fb" d="M1835.0,3274.0a7.9,7.9 0 0 1 15.8,0z"/>
<circle class="cb" cx="1858.3" cy="3275.7" r="7.9"/>
<path class="fb" d="M1850.4,3275.7a7.9,7.9 0 0 1 15.8,0z"/>
<circle class="cb" cx="1873.6" cy="3277.4" r="7.9"/>
<path class="fb" d="M1865.7,3277.4a7.9,7.9 0 0 1 15.8,0z"/>
<circle class="cb" cx="1889.0" cy="3277.7" r="7.9"/>
<path class="fb" d="M1881.1,3277.7a7.9,7.9 0 0 1 15.8,0z"/>
<circle class="cb" cx="1904.4" cy="3276.5" r="7.9"/>
<path class="fb" d="M1896.5,3276.5a7.9,7.9 0 0 1 15.8,0z"/>
<circle class="cb" cx="1919.8" cy="3277.1" r="7.9"/>
<path class="fb" d="M1911.9,3277.1a7.9,7.9 0 0 1 15.8,0z"/>
<circle class="cb" cx="1935.2" cy="3277.3" r="7.9"/>
<path class="fb" d="M1927.3,3277.3a7.9,7.9 0 0 1 15.8,0z"/>
<circle class="cb" cx="1950.6" cy="3277.9" r="7.9"/>
<path class="fb" d="M1942.7,3277.9a7.9,7.9 0 0 1 15.8,0z"/>
<circle class="cb" cx="1966.0" cy="3277.0" r="7.9"/>
<path class="fb" d="M1958.1,3277.0a7.9,7.9 0 0 1 15.8,0z"/>
<circle class="cb" cx="1981.4" cy="3277.9" r="7.9"/>
<path class="fb" d="M1973.5,3277.9a7.9,7.9 0 0 1 15.8,0z"/>
<circle class="cb" cx="1996.8" cy="3276.4" r="7.9"/>
<path class="fb" d="M1988.9,3276.4a7.9,7.9 0 0 1 15.8,0z"/>
<circle class="cb" cx="2012.2" cy="3276.5" r="7.9"/>
<path class="fb" d="M2004.3,3276.5a7.9,7.9 0 0 1 15.8,0z"/>
<circle class="cb" cx="2027.6" cy="3277.6" r="7.9"/>
<path class="fb" d="M2019.7,3277.6a7.9,7.9 0 0 1 15.8,0z"/>
<circle class="cb" cx="2042.9" cy="3277.7" r="7.9"/>
<path class="fb" d="M2035.0,3277.7a7.9,7.9 0 0 1 15.8,0z"/>
<circle class="cb" cx="2058.3" cy="3277.1" r="7.9"/>
<path class="fb" d="M2050.4,3277.1a7.9,7.9 0 0 1 15.8,0z"/>
<circle class="cb" cx="2073.7" cy="3277.6" r="7.9"/>
<path class="fb" d="M2065.8,3277.6a7.9,7.9 0 0 1 15.8,0z"/>
<circle class="cb" cx="2089.1" cy="3277.3" r="7.9"/>
<path class="fb" d="M2081.2,3277.3a7.9,7.9 0 0 1 15.8,0z"/>
<circle class="cb" cx="2104.5" cy="3277.7" r="7.9"/>
<path class="fb" d="M2096.6,3277.7a7.9,7.9 0 0 1 15.8,0z"/>
<circle class="cb" cx="2119.9" cy="3278.0" r="7.9"/>
<path class="fb" d="M2112.0,3278.0a7.9,7.9 0 0 1 15.8,0z"/>
<circle class="cb" cx="2135.3" cy="3277.5" r="7.9"/>
<path class="fb" d="M2127.4,3277.5a7.9,7.9 0 0 1 15.8,0z"/>
<circle class="cb" cx="2150.7" cy="3277.8" r="7.9"/>
<path class="fb" d="M2142.8,3277.8a7.9,7.9 0 0 1 15.8,0z"/>
<path d="M1227.2,3277.0 L1229.5,3277.0 L1231.9,3277.0 L1234.2,3277.0 L1236.5,3277.0 L1238.8,3277.0 L1241.2,3277.0 L1243.5,3277.0 L1245.8,3277.0 L1248.1,3277.0 L1250.5,3277.0 L1252.8,3277.0 L1255.1,3277.0 L1257.4,3277.0 L1259.8,3277.0 L1262.1,3277.0 L1264.4,3277.0 L1266.7,3277.0 L1269.0,3277.0 L1271.4,3277.0 L1273.7,3277.0 L1276.0,3277.0 L1278.3,3277.0 L1280.7,3277.0 L1283.0,3277.0 L1285.3,3277.0 L1287.6,3277.0 L1290.0,3277.0 L1292.3,3277.0 L1294.6,3277.0 L1296.9,3277.0 L1299.3,3277.0 L1301.6,3277.0 L1303.9,3277.0 L1306.3,3277.0 L1308.6,3277.0 L1310.9,3277.0 L1313.2,3277.0 L1315.6,3277.0 L1317.9,3277.0 L1320.2,3277.0 L1322.5,3277.0 L1324.9,3277.0 L1327.2,3277.0 L1329.5,3277.0 L1331.8,3277.0 L1334.2,3277.0 L1336.5,3277.0 L1338.8,3277.0 L1341.1,3277.0 L1343.5,3277.0 L1345.8,3277.0 L1348.1,3277.0 L1350.4,3277.0 L1352.7,3277.0 L1355.1,3277.0 L1357.4,3277.0 L1359.7,3277.0 L1362.0,3277.0 L1364.4,3277.0 L1366.7,3277.0 L1369.0,3277.0 L1371.3,3277.0 L1373.7,3277.0 L1376.0,3277.0 L1378.3,3277.0 L1380.6,3277.0 L1383.0,3277.0 L1385.3,3277.0 L1387.6,3277.0 L1390.0,3277.0 L1392.3,3277.0 L1394.6,3277.0 L1396.9,3277.0 L1399.3,3277.0 L1401.6,3277.0 L1403.9,3276.9 L1406.2,3276.9 L1408.6,3276.9 L1410.9,3276.9 L1413.2,3276.9 L1415.5,3276.9 L1417.9,3276.9 L1420.2,3276.9 L1422.5,3276.8 L1424.8,3276.8 L1427.1,3276.8 L1429.5,3276.8 L1431.8,3276.7 L1434.1,3276.7 L1436.4,3276.7 L1438.8,3276.6 L1441.1,3276.6 L1443.4,3276.5 L1445.7,3276.4 L1448.1,3276.4 L1450.4,3276.3 L1452.7,3276.2 L1455.0,3276.1 L1457.4,3276.0 L1459.7,3275.8 L1462.0,3275.7 L1464.4,3275.6 L1466.7,3275.4 L1469.0,3275.2 L1471.3,3275.0 L1473.7,3274.8 L1476.0,3274.5 L1478.3,3274.3 L1480.6,3274.0 L1483.0,3273.6 L1485.3,3273.3 L1487.6,3272.9 L1489.9,3272.5 L1492.3,3272.0 L1494.6,3271.6 L1496.9,3271.0 L1499.2,3270.5 L1501.5,3269.8 L1503.9,3269.2 L1506.2,3268.5 L1508.5,3267.7 L1510.8,3266.9 L1513.2,3266.0 L1515.5,3265.0 L1517.8,3264.0 L1520.1,3263.0 L1522.5,3261.8 L1524.8,3260.6 L1527.1,3259.3 L1529.4,3258.0 L1531.8,3256.6 L1534.1,3255.0 L1536.4,3253.5 L1538.8,3251.8 L1541.1,3250.0 L1543.4,3248.2 L1545.7,3246.3 L1548.1,3244.3 L1550.4,3242.2 L1552.7,3240.0 L1555.0,3237.8 L1557.4,3235.4 L1559.7,3233.0 L1562.0,3230.5 L1564.3,3228.0 L1566.7,3225.3 L1569.0,3222.6 L1571.3,3219.8 L1573.6,3217.0 L1576.0,3214.1 L1578.3,3211.2 L1580.6,3208.2 L1582.9,3205.2 L1585.2,3202.1 L1587.6,3199.1 L1589.9,3196.0 L1592.2,3192.9 L1594.5,3189.8 L1596.9,3186.7 L1599.2,3183.6 L1601.5,3180.5 L1603.8,3177.5 L1606.2,3174.5 L1608.5,3171.6 L1610.8,3168.7 L1613.1,3165.9 L1615.5,3163.2 L1617.8,3160.6 L1620.1,3158.1 L1622.5,3155.7 L1624.8,3153.4 L1627.1,3151.2 L1629.4,3149.2 L1631.8,3147.3 L1634.1,3145.6 L1636.4,3144.0 L1638.7,3142.6 L1641.1,3141.3 L1643.4,3140.2 L1645.7,3139.3 L1648.0,3138.6 L1650.4,3138.0 L1652.7,3137.7 L1655.0,3137.5 L1657.3,3137.5 L1659.6,3137.7 L1662.0,3138.1 L1664.3,3138.7 L1666.6,3139.5 L1668.9,3140.4 L1671.3,3141.5 L1673.6,3142.8 L1675.9,3144.3 L1678.2,3145.9 L1680.6,3147.7 L1682.9,3149.6 L1685.2,3151.6 L1687.5,3153.8 L1689.9,3156.2 L1692.2,3158.6 L1694.5,3161.1 L1696.9,3163.8 L1699.2,3166.5 L1701.5,3169.3 L1703.8,3172.2 L1706.2,3175.1 L1708.5,3178.1 L1710.8,3181.1 L1713.1,3184.2 L1715.5,3187.3 L1717.8,3190.4 L1720.1,3193.5 L1722.4,3196.6 L1724.8,3199.7 L1727.1,3202.7 L1729.4,3205.8 L1731.7,3208.8 L1734.0,3211.8 L1736.4,3214.7 L1738.7,3217.6 L1741.0,3220.4 L1743.3,3223.2 L1745.7,3225.8 L1748.0,3228.5 L1750.3,3231.0 L1752.6,3233.5 L1755.0,3235.9 L1757.3,3238.2 L1759.6,3240.5 L1761.9,3242.6 L1764.3,3244.7 L1766.6,3246.7 L1768.9,3248.6 L1771.3,3250.4 L1773.6,3252.1 L1775.9,3253.8 L1778.2,3255.3 L1780.6,3256.8 L1782.9,3258.3 L1785.2,3259.6 L1787.5,3260.9 L1789.9,3262.1 L1792.2,3263.2 L1794.5,3264.2 L1796.8,3265.2 L1799.2,3266.2 L1801.5,3267.0 L1803.8,3267.8 L1806.1,3268.6 L1808.5,3269.3 L1810.8,3270.0 L1813.1,3270.6 L1815.4,3271.1 L1817.8,3271.7 L1820.1,3272.1 L1822.4,3272.6 L1824.7,3273.0 L1827.0,3273.4 L1829.4,3273.7 L1831.7,3274.0 L1834.0,3274.3 L1836.3,3274.6 L1838.7,3274.8 L1841.0,3275.0 L1843.3,3275.2 L1845.6,3275.4 L1848.0,3275.6 L1850.3,3275.7 L1852.6,3275.9 L1855.0,3276.0 L1857.3,3276.1 L1859.6,3276.2 L1861.9,3276.3 L1864.3,3276.4 L1866.6,3276.4 L1868.9,3276.5 L1871.2,3276.6 L1873.6,3276.6 L1875.9,3276.7 L1878.2,3276.7 L1880.5,3276.7 L1882.9,3276.8 L1885.2,3276.8 L1887.5,3276.8 L1889.8,3276.8 L1892.1,3276.9 L1894.5,3276.9 L1896.8,3276.9 L1899.1,3276.9 L1901.4,3276.9 L1903.8,3276.9 L1906.1,3276.9 L1908.4,3277.0 L1910.7,3277.0 L1913.1,3277.0 L1915.4,3277.0 L1917.7,3277.0 L1920.0,3277.0 L1922.4,3277.0 L1924.7,3277.0 L1927.0,3277.0 L1929.4,3277.0 L1931.7,3277.0 L1934.0,3277.0 L1936.3,3277.0 L1938.7,3277.0 L1941.0,3277.0 L1943.3,3277.0 L1945.6,3277.0 L1948.0,3277.0 L1950.3,3277.0 L1952.6,3277.0 L1954.9,3277.0 L1957.3,3277.0 L1959.6,3277.0 L1961.9,3277.0 L1964.2,3277.0 L1966.5,3277.0 L1968.9,3277.0 L1971.2,3277.0 L1973.5,3277.0 L1975.8,3277.0 L1978.2,3277.0 L1980.5,3277.0 L1982.8,3277.0 L1985.1,3277.0 L1987.5,3277.0 L1989.8,3277.0 L1992.1,3277.0 L1994.4,3277.0 L1996.8,3277.0 L1999.1,3277.0 L2001.4,3277.0 L2003.8,3277.0 L2006.1,3277.0 L2008.4,3277.0 L2010.7,3277.0 L2013.1,3277.0 L2015.4,3277.0 L2017.7,3277.0 L2020.0,3277.0 L2022.4,3277.0 L2024.7,3277.0 L2027.0,3277.0 L2029.3,3277.0 L2031.7,3277.0 L2034.0,3277.0 L2036.3,3277.0 L2038.6,3277.0 L2041.0,3277.0 L2043.3,3277.0 L2045.6,3277.0 L2047.9,3277.0 L2050.2,3277.0 L2052.6,3277.0 L2054.9,3277.0 L2057.2,3277.0 L2059.5,3277.0 L2061.9,3277.0 L2064.2,3277.0 L2066.5,3277.0 L2068.8,3277.0 L2071.2,3277.0 L2073.5,3277.0 L2075.8,3277.0 L2078.1,3277.0 L2080.5,3277.0 L2082.8,3277.0 L2085.1,3277.0 L2087.5,3277.0 L2089.8,3277.0 L2092.1,3277.0 L2094.4,3277.0 L2096.8,3277.0 L2099.1,3277.0 L2101.4,3277.0 L2103.7,3277.0 L2106.1,3277.0 L2108.4,3277.0 L2110.7,3277.0 L2113.0,3277.0 L2115.4,3277.0 L2117.7,3277.0 L2120.0,3277.0 L2122.3,3277.0 L2124.6,3277.0 L2127.0,3277.0 L2129.3,3277.0 L2131.6,3277.0 L2133.9,3277.0 L2136.3,3277.0 L2138.6,3277.0 L2140.9,3277.0 L2143.2,3277.0 L2145.6,3277.0 L2147.9,3277.0 L2150.2,3277.0 L2152.5,3277.0 L2154.9,3277.0 L2157.2,3277.0" fill="none" stroke="#0000ff" stroke-width="6.5" stroke-linejoin="round"/>
<circle class="cg" cx="1227.2" cy="3427.2" r="7.9"/>
<path class="fg" d="M1219.3,3427.2a7.9,7.9 0 0 1 15.8,0z"/>
<circle class="cg" cx="1242.6" cy="3427.0" r="7.9"/>
<path class="fg" d="M1234.7,3427.0a7.9,7.9 0 0 1 15.8,0z"/>
<circle class="cg" cx="1258.0" cy="3425.6" r="7.9"/>
<path class="fg" d="M1250.1,3425.6a7.9,7.9 0 0 1 15.8,0z"/>
<circle class="cg" cx="1273.4" cy="3427.8" r="7.9"/>
<path class="fg" d="M1265.5,3427.8a7.9,7.9 0 0 1 15.8,0z"/>
<circle class="cg" cx="1288.8" cy="3427.5" r="7.9"/>
<path class="fg" d="M1280.9,3427.5a7.9,7.9 0 0 1 15.8,0z"/>
<circle class="cg" cx="1304.2" cy="3427.9" r="7.9"/>
<path class="fg" d="M1296.3,3427.9a7.9,7.9 0 0 1 15.8,0z"/>
<circle class="cg" cx="1319.5" cy="3426.0" r="7.9"/>
<path class="fg" d="M1311.6,3426.0a7.9,7.9 0 0 1 15.8,0z"/>
<circle class="cg" cx="1334.9" cy="3427.1" r="7.9"/>
<path class="fg" d="M1327.0,3427.1a7.9,7.9 0 0 1 15.8,0z"/>
<circle class="cg" cx="1350.3" cy="3427.0" r="7.9"/>
<path class="fg" d="M1342.4,3427.0a7.9,7.9 0 0 1 15.8,0z"/>
<circle class="cg" cx="1365.7" cy="3426.0" r="7.9"/>
<path class="fg" d="M1357.8,3426.0a7.9,7.9 0 0 1 15.8,0z"/>
<circle class="cg" cx="1381.1" cy="3428.2" r="7.9"/>
<path class="fg" d="M1373.2,3428.2a7.9,7.9 0 0 1 15.8,0z"/>
<circle class="cg" cx="1396.5" cy="3428.4" r="7.9"/>
<path class="fg" d="M1388.6,3428.4a7.9,7.9 0 0 1 15.8,0z"/>
<circle class="cg" cx="1411.9" cy="3426.3" r="7.9"/>
<path class="fg" d="M1404.0,3426.3a7.9,7.9 0 0 1 15.8,0z"/>
<circle class="cg" cx="1427.3" cy="3427.5" r="7.9"/>
<path class="fg" d="M1419.4,3427.5a7.9,7.9 0 0 1 15.8,0z"/>
<circle class="cg" cx="1442.7" cy="3428.2" r="7.9"/>
<path class="fg" d="M1434.8,3428.2a7.9,7.9 0 0 1 15.8,0z"/>
<circle class="cg" cx="1458.1" cy="3425.0" r="7.9"/>
<path class="fg" d="M1450.2,3425.0a7.9,7.9 0 0 1 15.8,0z"/>
<circle class="cg" cx="1473.5" cy="3425.4" r="7.9"/>
<path class="fg" d="M1465.6,3425.4a7.9,7.9 0 0 1 15.8,0z"/>
<circle class="cg" cx="1488.9" cy="3423.4" r="7.9"/>
<path class="fg" d="M1481.0,3423.4a7.9,7.9 0 0 1 15.8,0z"/>
<circle class="cg" cx="1504.2" cy="3419.5" r="7.9"/>
<path class="fg" d="M1496.3,3419.5a7.9,7.9 0 0 1 15.8,0z"/>
<circle class="cg" cx="1519.6" cy="3410.5" r="7.9"/>
<path class="fg" d="M1511.7,3410.5a7.9,7.9 0 0 1 15.8,0z"/>
<circle class="cg" cx="1535.0" cy="3401.5" r="7.9"/>
<path class="fg" d="M1527.1,3401.5a7.9,7.9 0 0 1 15.8,0z"/>
<circle class="cg" cx="1550.4" cy="3390.0" r="7.9"/>
<path class="fg" d="M1542.5,3390.0a7.9,7.9 0 0 1 15.8,0z"/>
<circle class="cg" cx="1565.8" cy="3375.0" r="7.9"/>
<path class="fg" d="M1557.9,3375.0a7.9,7.9 0 0 1 15.8,0z"/>
<circle class="cg" cx="1581.2" cy="3354.6" r="7.9"/>
<path class="fg" d="M1573.3,3354.6a7.9,7.9 0 0 1 15.8,0z"/>
<circle class="cg" cx="1596.6" cy="3335.3" r="7.9"/>
<path class="fg" d="M1588.7,3335.3a7.9,7.9 0 0 1 15.8,0z"/>
<circle class="cg" cx="1612.0" cy="3316.0" r="7.9"/>
<path class="fg" d="M1604.1,3316.0a7.9,7.9 0 0 1 15.8,0z"/>
<circle class="cg" cx="1627.4" cy="3302.0" r="7.9"/>
<path class="fg" d="M1619.5,3302.0a7.9,7.9 0 0 1 15.8,0z"/>
<circle class="cg" cx="1642.8" cy="3290.1" r="7.9"/>
<path class="fg" d="M1634.9,3290.1a7.9,7.9 0 0 1 15.8,0z"/>
<circle class="cg" cx="1658.2" cy="3287.5" r="7.9"/>
<path class="fg" d="M1650.3,3287.5a7.9,7.9 0 0 1 15.8,0z"/>
<circle class="cg" cx="1673.6" cy="3291.5" r="7.9"/>
<path class="fg" d="M1665.7,3291.5a7.9,7.9 0 0 1 15.8,0z"/>
<circle class="cg" cx="1688.9" cy="3302.7" r="7.9"/>
<path class="fg" d="M1681.0,3302.7a7.9,7.9 0 0 1 15.8,0z"/>
<circle class="cg" cx="1704.3" cy="3318.2" r="7.9"/>
<path class="fg" d="M1696.4,3318.2a7.9,7.9 0 0 1 15.8,0z"/>
<circle class="cg" cx="1719.7" cy="3337.1" r="7.9"/>
<path class="fg" d="M1711.8,3337.1a7.9,7.9 0 0 1 15.8,0z"/>
<circle class="cg" cx="1735.1" cy="3357.5" r="7.9"/>
<path class="fg" d="M1727.2,3357.5a7.9,7.9 0 0 1 15.8,0z"/>
<circle class="cg" cx="1750.5" cy="3375.3" r="7.9"/>
<path class="fg" d="M1742.6,3375.3a7.9,7.9 0 0 1 15.8,0z"/>
<circle class="cg" cx="1765.9" cy="3389.5" r="7.9"/>
<path class="fg" d="M1758.0,3389.5a7.9,7.9 0 0 1 15.8,0z"/>
<circle class="cg" cx="1781.3" cy="3402.5" r="7.9"/>
<path class="fg" d="M1773.4,3402.5a7.9,7.9 0 0 1 15.8,0z"/>
<circle class="cg" cx="1796.7" cy="3412.7" r="7.9"/>
<path class="fg" d="M1788.8,3412.7a7.9,7.9 0 0 1 15.8,0z"/>
<circle class="cg" cx="1812.1" cy="3418.4" r="7.9"/>
<path class="fg" d="M1804.2,3418.4a7.9,7.9 0 0 1 15.8,0z"/>
<circle class="cg" cx="1827.5" cy="3422.0" r="7.9"/>
<path class="fg" d="M1819.6,3422.0a7.9,7.9 0 0 1 15.8,0z"/>
<circle class="cg" cx="1842.9" cy="3424.9" r="7.9"/>
<path class="fg" d="M1835.0,3424.9a7.9,7.9 0 0 1 15.8,0z"/>
<circle class="cg" cx="1858.3" cy="3428.8" r="7.9"/>
<path class="fg" d="M1850.4,3428.8a7.9,7.9 0 0 1 15.8,0z"/>
<circle class="cg" cx="1873.6" cy="3426.8" r="7.9"/>
<path class="fg" d="M1865.7,3426.8a7.9,7.9 0 0 1 15.8,0z"/>
<circle class="cg" cx="1889.0" cy="3427.6" r="7.9"/>
<path class="fg" d="M1881.1,3427.6a7.9,7.9 0 0 1 15.8,0z"/>
<circle class="cg" cx="1904.4" cy="3427.7" r="7.9"/>
<path class="fg" d="M1896.5,3427.7a7.9,7.9 0 0 1 15.8,0z"/>
<circle class="cg" cx="1919.8" cy="3427.2" r="7.9"/>
<path class="fg" d="M1911.9,3427.2a7.9,7.9 0 0 1 15.8,0z"/>
<circle class="cg" cx="1935.2" cy="3428.5" r="7.9"/>
<path class="fg" d="M1927.3,3428.5a7.9,7.9 0 0 1 15.8,0z"/>
<circle class="cg" cx="1950.6" cy="3428.2" r="7.9"/>
<path class="fg" d="M1942.7,3428.2a7.9,7.9 0 0 1 15.8,0z"/>
<circle class="cg" cx="1966.0" cy="3427.8" r="7.9"/>
<path class="fg" d="M1958.1,3427.8a7.9,7.9 0 0 1 15.8,0z"/>
<circle class="cg" cx="1981.4" cy="3426.4" r="7.9"/>
<path class="fg" d="M1973.5,3426.4a7.9,7.9 0 0 1 15.8,0z"/>
<circle class="cg" cx="1996.8" cy="3428.5" r="7.9"/>
<path class="fg" d="M1988.9,3428.5a7.9,7.9 0 0 1 15.8,0z"/>
<circle class="cg" cx="2012.2" cy="3428.1" r="7.9"/>
<path class="fg" d="M2004.3,3428.1a7.9,7.9 0 0 1 15.8,0z"/>
<circle class="cg" cx="2027.6" cy="3427.4" r="7.9"/>
<path class="fg" d="M2019.7,3427.4a7.9,7.9 0 0 1 15.8,0z"/>
<circle class="cg" cx="2042.9" cy="3425.3" r="7.9"/>
<path class="fg" d="M2035.0,3425.3a7.9,7.9 0 0 1 15.8,0z"/>
<circle class="cg" cx="2058.3" cy="3427.4" r="7.9"/>
<path class="fg" d="M2050.4,3427.4a7.9,7.9 0 0 1 15.8,0z"/>
<circle class="cg" cx="2073.7" cy="3426.5" r="7.9"/>
<path class="fg" d="M2065.8,3426.5a7.9,7.9 0 0 1 15.8,0z"/>
<circle class="cg" cx="2089.1" cy="3427.3" r="7.9"/>
<path class="fg" d="M2081.2,3427.3a7.9,7.9 0 0 1 15.8,0z"/>
<circle class="cg" cx="2104.5" cy="3427.1" r="7.9"/>
<path class="fg" d="M2096.6,3427.1a7.9,7.9 0 0 1 15.8,0z"/>
<circle class="cg" cx="2119.9" cy="3426.8" r="7.9"/>
<path class="fg" d="M2112.0,3426.8a7.9,7.9 0 0 1 15.8,0z"/>
<circle class="cg" cx="2135.3" cy="3428.3" r="7.9"/>
<path class="fg" d="M2127.4,3428.3a7.9,7.9 0 0 1 15.8,0z"/>
<circle class="cg" cx="2150.7" cy="3427.6" r="7.9"/>
<path class="fg" d="M2142.8,3427.6a7.9,7.9 0 0 1 15.8,0z"/>
<path d="M1227.2,3427.4 L1229.5,3427.4 L1231.9,3427.4 L1234.2,3427.4 L1236.5,3427.4 L1238.8,3427.4 L1241.2,3427.4 L1243.5,3427.4 L1245.8,3427.4 L1248.1,3427.4 L1250.5,3427.4 L1252.8,3427.4 L1255.1,3427.4 L1257.4,3427.4 L1259.8,3427.4 L1262.1,3427.4 L1264.4,3427.4 L1266.7,3427.4 L1269.0,3427.4 L1271.4,3427.4 L1273.7,3427.4 L1276.0,3427.4 L1278.3,3427.4 L1280.7,3427.4 L1283.0,3427.4 L1285.3,3427.4 L1287.6,3427.4 L1290.0,3427.4 L1292.3,3427.4 L1294.6,3427.4 L1296.9,3427.4 L1299.3,3427.4 L1301.6,3427.4 L1303.9,3427.4 L1306.3,3427.4 L1308.6,3427.4 L1310.9,3427.4 L1313.2,3427.4 L1315.6,3427.4 L1317.9,3427.4 L1320.2,3427.4 L1322.5,3427.4 L1324.9,3427.4 L1327.2,3427.4 L1329.5,3427.4 L1331.8,3427.4 L1334.2,3427.4 L1336.5,3427.4 L1338.8,3427.4 L1341.1,3427.4 L1343.5,3427.4 L1345.8,3427.4 L1348.1,3427.4 L1350.4,3427.4 L1352.7,3427.4 L1355.1,3427.4 L1357.4,3427.4 L1359.7,3427.4 L1362.0,3427.4 L1364.4,3427.4 L1366.7,3427.4 L1369.0,3427.4 L1371.3,3427.4 L1373.7,3427.4 L1376.0,3427.4 L1378.3,3427.4 L1380.6,3427.4 L1383.0,3427.4 L1385.3,3427.4 L1387.6,3427.4 L1390.0,3427.4 L1392.3,3427.4 L1394.6,3427.3 L1396.9,3427.3 L1399.3,3427.3 L1401.6,3427.3 L1403.9,3427.3 L1406.2,3427.3 L1408.6,3427.3 L1410.9,3427.3 L1413.2,3427.2 L1415.5,3427.2 L1417.9,3427.2 L1420.2,3427.2 L1422.5,3427.1 L1424.8,3427.1 L1427.1,3427.1 L1429.5,3427.0 L1431.8,3427.0 L1434.1,3426.9 L1436.4,3426.9 L1438.8,3426.8 L1441.1,3426.7 L1443.4,3426.7 L1445.7,3426.6 L1448.1,3426.5 L1450.4,3426.4 L1452.7,3426.3 L1455.0,3426.1 L1457.4,3426.0 L1459.7,3425.8 L1462.0,3425.6 L1464.4,3425.4 L1466.7,3425.2 L1469.0,3425.0 L1471.3,3424.8 L1473.7,3424.5 L1476.0,3424.2 L1478.3,3423.9 L1480.6,3423.5 L1483.0,3423.1 L1485.3,3422.7 L1487.6,3422.3 L1489.9,3421.8 L1492.3,3421.3 L1494.6,3420.7 L1496.9,3420.1 L1499.2,3419.5 L1501.5,3418.8 L1503.9,3418.0 L1506.2,3417.2 L1508.5,3416.4 L1510.8,3415.5 L1513.2,3414.5 L1515.5,3413.5 L1517.8,3412.4 L1520.1,3411.3 L1522.5,3410.1 L1524.8,3408.8 L1527.1,3407.4 L1529.4,3406.0 L1531.8,3404.5 L1534.1,3402.9 L1536.4,3401.3 L1538.8,3399.6 L1541.1,3397.8 L1543.4,3395.9 L1545.7,3394.0 L1548.1,3391.9 L1550.4,3389.8 L1552.7,3387.6 L1555.0,3385.4 L1557.4,3383.0 L1559.7,3380.6 L1562.0,3378.2 L1564.3,3375.6 L1566.7,3373.0 L1569.0,3370.4 L1571.3,3367.6 L1573.6,3364.9 L1576.0,3362.0 L1578.3,3359.2 L1580.6,3356.3 L1582.9,3353.4 L1585.2,3350.4 L1587.6,3347.4 L1589.9,3344.4 L1592.2,3341.4 L1594.5,3338.4 L1596.9,3335.5 L1599.2,3332.5 L1601.5,3329.6 L1603.8,3326.6 L1606.2,3323.8 L1608.5,3321.0 L1610.8,3318.2 L1613.1,3315.5 L1615.5,3312.9 L1617.8,3310.4 L1620.1,3307.9 L1622.5,3305.6 L1624.8,3303.4 L1627.1,3301.2 L1629.4,3299.2 L1631.8,3297.4 L1634.1,3295.6 L1636.4,3294.1 L1638.7,3292.6 L1641.1,3291.3 L1643.4,3290.2 L1645.7,3289.2 L1648.0,3288.4 L1650.4,3287.8 L1652.7,3287.3 L1655.0,3287.0 L1657.3,3286.9 L1659.6,3287.0 L1662.0,3287.2 L1664.3,3287.6 L1666.6,3288.1 L1668.9,3288.9 L1671.3,3289.8 L1673.6,3290.9 L1675.9,3292.1 L1678.2,3293.5 L1680.6,3295.0 L1682.9,3296.7 L1685.2,3298.5 L1687.5,3300.4 L1689.9,3302.5 L1692.2,3304.7 L1694.5,3307.0 L1696.9,3309.4 L1699.2,3311.9 L1701.5,3314.5 L1703.8,3317.1 L1706.2,3319.9 L1708.5,3322.6 L1710.8,3325.5 L1713.1,3328.4 L1715.5,3331.3 L1717.8,3334.3 L1720.1,3337.2 L1722.4,3340.2 L1724.8,3343.2 L1727.1,3346.2 L1729.4,3349.2 L1731.7,3352.2 L1734.0,3355.1 L1736.4,3358.0 L1738.7,3360.9 L1741.0,3363.7 L1743.3,3366.5 L1745.7,3369.3 L1748.0,3372.0 L1750.3,3374.6 L1752.6,3377.2 L1755.0,3379.7 L1757.3,3382.1 L1759.6,3384.4 L1761.9,3386.7 L1764.3,3388.9 L1766.6,3391.1 L1768.9,3393.1 L1771.3,3395.1 L1773.6,3397.0 L1775.9,3398.9 L1778.2,3400.6 L1780.6,3402.3 L1782.9,3403.9 L1785.2,3405.4 L1787.5,3406.9 L1789.9,3408.3 L1792.2,3409.6 L1794.5,3410.8 L1796.8,3412.0 L1799.2,3413.1 L1801.5,3414.1 L1803.8,3415.1 L1806.1,3416.0 L1808.5,3416.9 L1810.8,3417.7 L1813.1,3418.5 L1815.4,3419.2 L1817.8,3419.9 L1820.1,3420.5 L1822.4,3421.0 L1824.7,3421.6 L1827.0,3422.1 L1829.4,3422.5 L1831.7,3423.0 L1834.0,3423.4 L1836.3,3423.7 L1838.7,3424.1 L1841.0,3424.4 L1843.3,3424.7 L1845.6,3424.9 L1848.0,3425.1 L1850.3,3425.4 L1852.6,3425.6 L1855.0,3425.7 L1857.3,3425.9 L1859.6,3426.1 L1861.9,3426.2 L1864.3,3426.3 L1866.6,3426.4 L1868.9,3426.5 L1871.2,3426.6 L1873.6,3426.7 L1875.9,3426.8 L1878.2,3426.9 L1880.5,3426.9 L1882.9,3427.0 L1885.2,3427.0 L1887.5,3427.1 L1889.8,3427.1 L1892.1,3427.1 L1894.5,3427.2 L1896.8,3427.2 L1899.1,3427.2 L1901.4,3427.2 L1903.8,3427.3 L1906.1,3427.3 L1908.4,3427.3 L1910.7,3427.3 L1913.1,3427.3 L1915.4,3427.3 L1917.7,3427.3 L1920.0,3427.3 L1922.4,3427.4 L1924.7,3427.4 L1927.0,3427.4 L1929.4,3427.4 L1931.7,3427.4 L1934.0,3427.4 L1936.3,3427.4 L1938.7,3427.4 L1941.0,3427.4 L1943.3,3427.4 L1945.6,3427.4 L1948.0,3427.4 L1950.3,3427.4 L1952.6,3427.4 L1954.9,3427.4 L1957.3,3427.4 L1959.6,3427.4 L1961.9,3427.4 L1964.2,3427.4 L1966.5,3427.4 L1968.9,3427.4 L1971.2,3427.4 L1973.5,3427.4 L1975.8,3427.4 L1978.2,3427.4 L1980.5,3427.4 L1982.8,3427.4 L1985.1,3427.4 L1987.5,3427.4 L1989.8,3427.4 L1992.1,3427.4 L1994.4,3427.4 L1996.8,3427.4 L1999.1,3427.4 L2001.4,3427.4 L2003.8,3427.4 L2006.1,3427.4 L2008.4,3427.4 L2010.7,3427.4 L2013.1,3427.4 L2015.4,3427.4 L2017.7,3427.4 L2020.0,3427.4 L2022.4,3427.4 L2024.7,3427.4 L2027.0,3427.4 L2029.3,3427.4 L2031.7,3427.4 L2034.0,3427.4 L2036.3,3427.4 L2038.6,3427.4 L2041.0,3427.4 L2043.3,3427.4 L2045.6,3427.4 L2047.9,3427.4 L2050.2,3427.4 L2052.6,3427.4 L2054.9,3427.4 L2057.2,3427.4 L2059.5,3427.4 L2061.9,3427.4 L2064.2,3427.4 L2066.5,3427.4 L2068.8,3427.4 L2071.2,3427.4 L2073.5,3427.4 L2075.8,3427.4 L2078.1,3427.4 L2080.5,3427.4 L2082.8,3427.4 L2085.1,3427.4 L2087.5,3427.4 L2089.8,3427.4 L2092.1,3427.4 L2094.4,3427.4 L2096.8,3427.4 L2099.1,3427.4 L2101.4,3427.4 L2103.7,3427.4 L2106.1,3427.4 L2108.4,3427.4 L2110.7,3427.4 L2113.0,3427.4 L2115.4,3427.4 L2117.7,3427.4 L2120.0,3427.4 L2122.3,3427.4 L2124.6,3427.4 L2127.0,3427.4 L2129.3,3427.4 L2131.6,3427.4 L2133.9,3427.4 L2136.3,3427.4 L2138.6,3427.4 L2140.9,3427.4 L2143.2,3427.4 L2145.6,3427.4 L2147.9,3427.4 L2150.2,3427.4 L2152.5,3427.4 L2154.9,3427.4 L2157.2,3427.4" fill="none" stroke="#00ff00" stroke-width="6.5" stroke-linejoin="round"/>
<circle class="cr" cx="1227.2" cy="3579.4" r="7.9"/>
<path class="fr" d="M1219.3,3579.4a7.9,7.9 0 0 1 15.8,0z"/>
<circle class="cr" cx="1242.6" cy="3577.6" r="7.9"/>
<path class="fr" d="M1234.7,3577.6a7.9,7.9 0 0 1 15.8,0z"/>
<circle class="cr" cx="1258.0" cy="3578.2" r="7.9"/>
<path class="fr" d="M1250.1,3578.2a7.9,7.9 0 0 1 15.8,0z"/>
<circle class="cr" cx="1273.4" cy="3579.5" r="7.9"/>
<path class="fr" d="M1265.5,3579.5a7.9,7.9 0 0 1 15.8,0z"/>
<circle class="cr" cx="1288.8" cy="3578.7" r="7.9"/>
<path class="fr" d="M1280.9,3578.7a7.9,7.9 0 0 1 15.8,0z"/>
<circle class="cr" cx="1304.2" cy="3577.8" r="7.9"/>
<path class="fr" d="M1296.3,3577.8a7.9,7.9 0 0 1 15.8,0z"/>
<circle class="cr" cx="1319.5" cy="3577.7" r="7.9"/>
<path class="fr" d="M1311.6,3577.7a7.9,7.9 0 0 1 15.8,0z"/>
<circle class="cr" cx="1334.9" cy="3577.9" r="7.9"/>
<path class="fr" d="M1327.0,3577.9a7.9,7.9 0 0 1 15.8,0z"/>
<circle class="cr" cx="1350.3" cy="3578.3" r="7.9"/>
<path class="fr" d="M1342.4,3578.3a7.9,7.9 0 0 1 15.8,0z"/>
<circle class="cr" cx="1365.7" cy="3579.0" r="7.9"/>
<path class="fr" d="M1357.8,3579.0a7.9,7.9 0 0 1 15.8,0z"/>
<circle class="cr" cx="1381.1" cy="3578.5" r="7.9"/>
<path class="fr" d="M1373.2,3578.5a7.9,7.9 0 0 1 15.8,0z"/>
<circle class="cr" cx="1396.5" cy="3579.0" r="7.9"/>
<path class="fr" d="M1388.6,3579.0a7.9,7.9 0 0 1 15.8,0z"/>
<circle class="cr" cx="1411.9" cy="3579.0" r="7.9"/>
<path class="fr" d="M1404.0,3579.0a7.9,7.9 0 0 1 15.8,0z"/>
<circle class="cr" cx="1427.3" cy="3578.3" r="7.9"/>
<path class="fr" d="M1419.4,3578.3a7.9,7.9 0 0 1 15.8,0z"/>
<circle class="cr" cx="1442.7" cy="3579.0" r="7.9"/>
<path class="fr" d="M1434.8,3579.0a7.9,7.9 0 0 1 15.8,0z"/>
<circle class="cr" cx="1458.1" cy="3578.0" r="7.9"/>
<path class="fr" d="M1450.2,3578.0a7.9,7.9 0 0 1 15.8,0z"/>
<circle class="cr" cx="1473.5" cy="3576.1" r="7.9"/>
<path class="fr" d="M1465.6,3576.1a7.9,7.9 0 0 1 15.8,0z"/>
<circle class="cr" cx="1488.9" cy="3574.2" r="7.9"/>
<path class="fr" d="M1481.0,3574.2a7.9,7.9 0 0 1 15.8,0z"/>
<circle class="cr" cx="1504.2" cy="3571.0" r="7.9"/>
<path class="fr" d="M1496.3,3571.0a7.9,7.9 0 0 1 15.8,0z"/>
<circle class="cr" cx="1519.6" cy="3565.2" r="7.9"/>
<path class="fr" d="M1511.7,3565.2a7.9,7.9 0 0 1 15.8,0z"/>
<circle class="cr" cx="1535.0" cy="3556.8" r="7.9"/>
<path class="fr" d="M1527.1,3556.8a7.9,7.9 0 0 1 15.8,0z"/>
<circle class="cr" cx="1550.4" cy="3546.8" r="7.9"/>
<path class="fr" d="M1542.5,3546.8a7.9,7.9 0 0 1 15.8,0z"/>
<circle class="cr" cx="1565.8" cy="3531.8" r="7.9"/>
<path class="fr" d="M1557.9,3531.8a7.9,7.9 0 0 1 15.8,0z"/>
<circle class="cr" cx="1581.2" cy="3515.2" r="7.9"/>
<path class="fr" d="M1573.3,3515.2a7.9,7.9 0 0 1 15.8,0z"/>
<circle class="cr" cx="1596.6" cy="3494.7" r="7.9"/>
<path class="fr" d="M1588.7,3494.7a7.9,7.9 0 0 1 15.8,0z"/>
<circle class="cr" cx="1612.0" cy="3475.6" r="7.9"/>
<path class="fr" d="M1604.1,3475.6a7.9,7.9 0 0 1 15.8,0z"/>
<circle class="cr" cx="1627.4" cy="3458.1" r="7.9"/>
<path class="fr" d="M1619.5,3458.1a7.9,7.9 0 0 1 15.8,0z"/>
<circle class="cr" cx="1642.8" cy="3444.5" r="7.9"/>
<path class="fr" d="M1634.9,3444.5a7.9,7.9 0 0 1 15.8,0z"/>
<circle class="cr" cx="1658.2" cy="3438.6" r="7.9"/>
<path class="fr" d="M1650.3,3438.6a7.9,7.9 0 0 1 15.8,0z"/>
<circle class="cr" cx="1673.6" cy="3438.8" r="7.9"/>
<path class="fr" d="M1665.7,3438.8a7.9,7.9 0 0 1 15.8,0z"/>
<circle class="cr" cx="1688.9" cy="3447.4" r="7.9"/>
<path class="fr" d="M1681.0,3447.4a7.9,7.9 0 0 1 15.8,0z"/>
<circle class="cr" cx="1704.3" cy="3462.9" r="7.9"/>
<path class="fr" d="M1696.4,3462.9a7.9,7.9 0 0 1 15.8,0z"/>
<circle class="cr" cx="1719.7" cy="3480.9" r="7.9"/>
<path class="fr" d="M1711.8,3480.9a7.9,7.9 0 0 1 15.8,0z"/>
<circle class="cr" cx="1735.1" cy="3500.4" r="7.9"/>
<path class="fr" d="M1727.2,3500.4a7.9,7.9 0 0 1 15.8,0z"/>
<circle class="cr" cx="1750.5" cy="3518.9" r="7.9"/>
<path class="fr" d="M1742.6,3518.9a7.9,7.9 0 0 1 15.8,0z"/>
<circle class="cr" cx="1765.9" cy="3537.0" r="7.9"/>
<path class="fr" d="M1758.0,3537.0a7.9,7.9 0 0 1 15.8,0z"/>
<circle class="cr" cx="1781.3" cy="3551.6" r="7.9"/>
<path class="fr" d="M1773.4,3551.6a7.9,7.9 0 0 1 15.8,0z"/>
<circle class="cr" cx="1796.7" cy="3558.4" r="7.9"/>
<path class="fr" d="M1788.8,3558.4a7.9,7.9 0 0 1 15.8,0z"/>
<circle class="cr" cx="1812.1" cy="3568.3" r="7.9"/>
<path class="fr" d="M1804.2,3568.3a7.9,7.9 0 0 1 15.8,0z"/>
<circle class="cr" cx="1827.5" cy="3572.3" r="7.9"/>
<path class="fr" d="M1819.6,3572.3a7.9,7.9 0 0 1 15.8,0z"/>
<circle class="cr" cx="1842.9" cy="3575.9" r="7.9"/>
<path class="fr" d="M1835.0,3575.9a7.9,7.9 0 0 1 15.8,0z"/>
<circle class="cr" cx="1858.3" cy="3577.6" r="7.9"/>
<path class="fr" d="M1850.4,3577.6a7.9,7.9 0 0 1 15.8,0z"/>
<circle class="cr" cx="1873.6" cy="3576.7" r="7.9"/>
<path class="fr" d="M1865.7,3576.7a7.9,7.9 0 0 1 15.8,0z"/>
<circle class="cr" cx="1889.0" cy="3579.4" r="7.9"/>
<path class="fr" d="M1881.1,3579.4a7.9,7.9 0 0 1 15.8,0z"/>
<circle class="cr" cx="1904.4" cy="3577.7" r="7.9"/>
<path class="fr" d="M1896.5,3577.7a7.9,7.9 0 0 1 15.8,0z"/>
<circle class="cr" cx="1919.8" cy="3578.1" r="7.9"/>
<path class="fr" d="M1911.9,3578.1a7.9,7.9 0 0 1 15.8,0z"/>
<circle class="cr" cx="1935.2" cy="3578.9" r="7.9"/>
<path class="fr" d="M1927.3,3578.9a7.9,7.9 0 0 1 15.8,0z"/>
<circle class="cr" cx="1950.6" cy="3578.3" r="7.9"/>
<path class="fr" d="M1942.7,3578.3a7.9,7.9 0 0 1 15.8,0z"/>
<circle class="cr" cx="1966.0" cy="3578.6" r="7.9"/>
<path class="fr" d="M1958.1,3578.6a7.9,7.9 0 0 1 15.8,0z"/>
<circle class="cr" cx="1981.4" cy="3578.0" r="7.9"/>
<path class="fr" d="M1973.5,3578.0a7.9,7.9 0 0 1 15.8,0z"/>
<circle class="cr" cx="1996.8" cy="3577.5" r="7.9"/>
<path class="fr" d="M1988.9,3577.5a7.9,7.9 0 0 1 15.8,0z"/>
<circle class="cr" cx="2012.2" cy="3578.4" r="7.9"/>
<path class="fr" d="M2004.3,3578.4a7.9,7.9 0 0 1 15.8,0z"/>
<circle class="cr" cx="2027.6" cy="3577.5" r="7.9"/>
<path class="fr" d="M2019.7,3577.5a7.9,7.9 0 0 1 15.8,0z"/>
<circle class="cr" cx="2042.9" cy="3579.5" r="7.9"/>
<path class="fr" d="M2035.0,3579.5a7.9,7.9 0 0 1 15.8,0z"/>
<circle class="cr" cx="2058.3" cy="3578.6" r="7.9"/>
<path class="fr" d="M2050.4,3578.6a7.9,7.9 0 0 1 15.8,0z"/>
<circle class="cr" cx="2073.7" cy="3579.5" r="7.9"/>
<path class="fr" d="M2065.8,3579.5a7.9,7.9 0 0 1 15.8,0z"/>
<circle class="cr" cx="2089.1" cy="3577.4" r="7.9"/>
<path class="fr" d="M2081.2,3577.4a7.9,7.9 0 0 1 15.8,0z"/>
<circle class="cr" cx="2104.5" cy="3576.7" r="7.9"/>
<path class="fr" d="M2096.6,3576.7a7.9,7.9 0 0 1 15.8,0z"/>
<circle class="cr" cx="2119.9" cy="3576.5" r="7.9"/>
<path class="fr" d="M2112.0,3576.5a7.9,7.9 0 0 1 15.8,0z"/>
<circle class="cr" cx="2135.3" cy="3578.1" r="7.9"/>
<path class="fr" d="M2127.4,3578.1a7.9,7.9 0 0 1 15.8,0z"/>
<circle class="cr" cx="2150.7" cy="3577.3" r="7.9"/>
<path class="fr" d="M2142.8,3577.3a7.9,7.9 0 0 1 15.8,0z"/>
<path d="M1227.2,3578.3 L1229.5,3578.3 L1231.9,3578.3 L1234.2,3578.3 L1236.5,3578.3 L1238.8,3578.3 L1241.2,3578.3 L1243.5,3578.3 L1245.8,3578.3 L1248.1,3578.3 L1250.5,3578.3 L1252.8,3578.3 L1255.1,3578.3 L1257.4,3578.3 L1259.8,3578.3 L1262.1,3578.3 L1264.4,3578.3 L1266.7,3578.3 L1269.0,3578.3 L1271.4,3578.3 L1273.7,3578.3 L1276.0,3578.3 L1278.3,3578.3 L1280.7,3578.3 L1283.0,3578.3 L1285.3,3578.3 L1287.6,3578.3 L1290.0,3578.3 L1292.3,3578.3 L1294.6,3578.3 L1296.9,3578.3 L1299.3,3578.3 L1301.6,3578.3 L1303.9,3578.3 L1306.3,3578.3 L1308.6,3578.3 L1310.9,3578.3 L1313.2,3578.3 L1315.6,3578.3 L1317.9,3578.3 L1320.2,3578.3 L1322.5,3578.3 L1324.9,3578.3 L1327.2,3578.3 L1329.5,3578.3 L1331.8,3578.3 L1334.2,3578.3 L1336.5,3578.3 L1338.8,3578.3 L1341.1,3578.3 L1343.5,3578.3 L1345.8,3578.3 L1348.1,3578.3 L1350.4,3578.3 L1352.7,3578.3 L1355.1,3578.3 L1357.4,3578.3 L1359.7,3578.3 L1362.0,3578.3 L1364.4,3578.3 L1366.7,3578.3 L1369.0,3578.3 L1371.3,3578.3 L1373.7,3578.3 L1376.0,3578.3 L1378.3,3578.3 L1380.6,3578.3 L1383.0,3578.3 L1385.3,3578.3 L1387.6,3578.3 L1390.0,3578.3 L1392.3,3578.3 L1394.6,3578.3 L1396.9,3578.3 L1399.3,3578.3 L1401.6,3578.3 L1403.9,3578.2 L1406.2,3578.2 L1408.6,3578.2 L1410.9,3578.2 L1413.2,3578.2 L1415.5,3578.2 L1417.9,3578.2 L1420.2,3578.2 L1422.5,3578.1 L1424.8,3578.1 L1427.1,3578.1 L1429.5,3578.1 L1431.8,3578.0 L1434.1,3578.0 L1436.4,3577.9 L1438.8,3577.9 L1441.1,3577.9 L1443.4,3577.8 L1445.7,3577.7 L1448.1,3577.7 L1450.4,3577.6 L1452.7,3577.5 L1455.0,3577.4 L1457.4,3577.3 L1459.7,3577.2 L1462.0,3577.0 L1464.4,3576.9 L1466.7,3576.7 L1469.0,3576.6 L1471.3,3576.4 L1473.7,3576.2 L1476.0,3575.9 L1478.3,3575.7 L1480.6,3575.4 L1483.0,3575.1 L1485.3,3574.8 L1487.6,3574.5 L1489.9,3574.1 L1492.3,3573.7 L1494.6,3573.2 L1496.9,3572.7 L1499.2,3572.2 L1501.5,3571.7 L1503.9,3571.1 L1506.2,3570.4 L1508.5,3569.7 L1510.8,3569.0 L1513.2,3568.2 L1515.5,3567.3 L1517.8,3566.4 L1520.1,3565.5 L1522.5,3564.4 L1524.8,3563.4 L1527.1,3562.2 L1529.4,3561.0 L1531.8,3559.7 L1534.1,3558.3 L1536.4,3556.9 L1538.8,3555.4 L1541.1,3553.8 L1543.4,3552.1 L1545.7,3550.4 L1548.1,3548.6 L1550.4,3546.7 L1552.7,3544.7 L1555.0,3542.7 L1557.4,3540.6 L1559.7,3538.3 L1562.0,3536.1 L1564.3,3533.7 L1566.7,3531.3 L1569.0,3528.8 L1571.3,3526.2 L1573.6,3523.6 L1576.0,3520.9 L1578.3,3518.2 L1580.6,3515.4 L1582.9,3512.5 L1585.2,3509.6 L1587.6,3506.7 L1589.9,3503.7 L1592.2,3500.8 L1594.5,3497.8 L1596.9,3494.7 L1599.2,3491.7 L1601.5,3488.7 L1603.8,3485.7 L1606.2,3482.7 L1608.5,3479.8 L1610.8,3476.9 L1613.1,3474.0 L1615.5,3471.2 L1617.8,3468.4 L1620.1,3465.7 L1622.5,3463.1 L1624.8,3460.6 L1627.1,3458.1 L1629.4,3455.8 L1631.8,3453.6 L1634.1,3451.5 L1636.4,3449.5 L1638.7,3447.7 L1641.1,3446.0 L1643.4,3444.5 L1645.7,3443.1 L1648.0,3441.8 L1650.4,3440.7 L1652.7,3439.8 L1655.0,3439.1 L1657.3,3438.5 L1659.6,3438.1 L1662.0,3437.9 L1664.3,3437.8 L1666.6,3437.9 L1668.9,3438.2 L1671.3,3438.7 L1673.6,3439.3 L1675.9,3440.2 L1678.2,3441.1 L1680.6,3442.3 L1682.9,3443.6 L1685.2,3445.1 L1687.5,3446.7 L1689.9,3448.4 L1692.2,3450.3 L1694.5,3452.3 L1696.9,3454.5 L1699.2,3456.7 L1701.5,3459.1 L1703.8,3461.6 L1706.2,3464.1 L1708.5,3466.8 L1710.8,3469.5 L1713.1,3472.3 L1715.5,3475.1 L1717.8,3478.0 L1720.1,3481.0 L1722.4,3483.9 L1724.8,3486.9 L1727.1,3489.9 L1729.4,3492.9 L1731.7,3495.9 L1734.0,3499.0 L1736.4,3502.0 L1738.7,3504.9 L1741.0,3507.9 L1743.3,3510.8 L1745.7,3513.7 L1748.0,3516.5 L1750.3,3519.3 L1752.6,3522.0 L1755.0,3524.7 L1757.3,3527.3 L1759.6,3529.8 L1761.9,3532.3 L1764.3,3534.7 L1766.6,3537.0 L1768.9,3539.2 L1771.3,3541.4 L1773.6,3543.5 L1775.9,3545.5 L1778.2,3547.5 L1780.6,3549.3 L1782.9,3551.1 L1785.2,3552.8 L1787.5,3554.4 L1789.9,3556.0 L1792.2,3557.5 L1794.5,3558.9 L1796.8,3560.2 L1799.2,3561.5 L1801.5,3562.7 L1803.8,3563.8 L1806.1,3564.9 L1808.5,3565.9 L1810.8,3566.8 L1813.1,3567.7 L1815.4,3568.5 L1817.8,3569.3 L1820.1,3570.0 L1822.4,3570.7 L1824.7,3571.3 L1827.0,3571.9 L1829.4,3572.4 L1831.7,3572.9 L1834.0,3573.4 L1836.3,3573.8 L1838.7,3574.2 L1841.0,3574.6 L1843.3,3574.9 L1845.6,3575.3 L1848.0,3575.5 L1850.3,3575.8 L1852.6,3576.0 L1855.0,3576.3 L1857.3,3576.5 L1859.6,3576.6 L1861.9,3576.8 L1864.3,3577.0 L1866.6,3577.1 L1868.9,3577.2 L1871.2,3577.3 L1873.6,3577.4 L1875.9,3577.5 L1878.2,3577.6 L1880.5,3577.7 L1882.9,3577.8 L1885.2,3577.8 L1887.5,3577.9 L1889.8,3577.9 L1892.1,3578.0 L1894.5,3578.0 L1896.8,3578.0 L1899.1,3578.1 L1901.4,3578.1 L1903.8,3578.1 L1906.1,3578.1 L1908.4,3578.2 L1910.7,3578.2 L1913.1,3578.2 L1915.4,3578.2 L1917.7,3578.2 L1920.0,3578.2 L1922.4,3578.2 L1924.7,3578.2 L1927.0,3578.3 L1929.4,3578.3 L1931.7,3578.3 L1934.0,3578.3 L1936.3,3578.3 L1938.7,3578.3 L1941.0,3578.3 L1943.3,3578.3 L1945.6,3578.3 L1948.0,3578.3 L1950.3,3578.3 L1952.6,3578.3 L1954.9,3578.3 L1957.3,3578.3 L1959.6,3578.3 L1961.9,3578.3 L1964.2,3578.3 L1966.5,3578.3 L1968.9,3578.3 L1971.2,3578.3 L1973.5,3578.3 L1975.8,3578.3 L1978.2,3578.3 L1980.5,3578.3 L1982.8,3578.3 L1985.1,3578.3 L1987.5,3578.3 L1989.8,3578.3 L1992.1,3578.3 L1994.4,3578.3 L1996.8,3578.3 L1999.1,3578.3 L2001.4,3578.3 L2003.8,3578.3 L2006.1,3578.3 L2008.4,3578.3 L2010.7,3578.3 L2013.1,3578.3 L2015.4,3578.3 L2017.7,3578.3 L2020.0,3578.3 L2022.4,3578.3 L2024.7,3578.3 L2027.0,3578.3 L2029.3,3578.3 L2031.7,3578.3 L2034.0,3578.3 L2036.3,3578.3 L2038.6,3578.3 L2041.0,3578.3 L2043.3,3578.3 L2045.6,3578.3 L2047.9,3578.3 L2050.2,3578.3 L2052.6,3578.3 L2054.9,3578.3 L2057.2,3578.3 L2059.5,3578.3 L2061.9,3578.3 L2064.2,3578.3 L2066.5,3578.3 L2068.8,3578.3 L2071.2,3578.3 L2073.5,3578.3 L2075.8,3578.3 L2078.1,3578.3 L2080.5,3578.3 L2082.8,3578.3 L2085.1,3578.3 L2087.5,3578.3 L2089.8,3578.3 L2092.1,3578.3 L2094.4,3578.3 L2096.8,3578.3 L2099.1,3578.3 L2101.4,3578.3 L2103.7,3578.3 L2106.1,3578.3 L2108.4,3578.3 L2110.7,3578.3 L2113.0,3578.3 L2115.4,3578.3 L2117.7,3578.3 L2120.0,3578.3 L2122.3,3578.3 L2124.6,3578.3 L2127.0,3578.3 L2129.3,3578.3 L2131.6,3578.3 L2133.9,3578.3 L2136.3,3578.3 L2138.6,3578.3 L2140.9,3578.3 L2143.2,3578.3 L2145.6,3578.3 L2147.9,3578.3 L2150.2,3578.3 L2152.5,3578.3 L2154.9,3578.3 L2157.2,3578.3" fill="none" stroke="#ff0000" stroke-width="6.5" stroke-linejoin="round"/>
<circle class="ck" cx="1227.2" cy="3730.2" r="7.9"/>
<path class="fk" d="M1219.3,3730.2a7.9,7.9 0 0 1 15.8,0z"/>
<circle class="ck" cx="1242.6" cy="3728.7" r="7.9"/>
<path class="fk" d="M1234.7,3728.7a7.9,7.9 0 0 1 15.8,0z"/>
<circle class="ck" cx="1258.0" cy="3728.7" r="7.9"/>
<path class="fk" d="M1250.1,3728.7a7.9,7.9 0 0 1 15.8,0z"/>
<circle class="ck" cx="1273.4" cy="3730.1" r="7.9"/>
<path class="fk" d="M1265.5,3730.1a7.9,7.9 0 0 1 15.8,0z"/>
<circle class="ck" cx="1288.8" cy="3729.6" r="7.9"/>
<path class="fk" d="M1280.9,3729.6a7.9,7.9 0 0 1 15.8,0z"/>
<circle class="ck" cx="1304.2" cy="3730.4" r="7.9"/>
<path class="fk" d="M1296.3,3730.4a7.9,7.9 0 0 1 15.8,0z"/>
<circle class="ck" cx="1319.5" cy="3730.6" r="7.9"/>
<path class="fk" d="M1311.6,3730.6a7.9,7.9 0 0 1 15.8,0z"/>
<circle class="ck" cx="1334.9" cy="3730.2" r="7.9"/>
<path class="fk" d="M1327.0,3730.2a7.9,7.9 0 0 1 15.8,0z"/>
<circle class="ck" cx="1350.3" cy="3728.9" r="7.9"/>
<path class="fk" d="M1342.4,3728.9a7.9,7.9 0 0 1 15.8,0z"/>
<circle class="ck" cx="1365.7" cy="3729.2" r="7.9"/>
<path class="fk" d="M1357.8,3729.2a7.9,7.9 0 0 1 15.8,0z"/>
<circle class="ck" cx="1381.1" cy="3731.7" r="7.9"/>
<path class="fk" d="M1373.2,3731.7a7.9,7.9 0 0 1 15.8,0z"/>
<circle class="ck" cx="1396.5" cy="3729.7" r="7.9"/>
<path class="fk" d="M1388.6,3729.7a7.9,7.9 0 0 1 15.8,0z"/>
<circle class="ck" cx="1411.9" cy="3730.1" r="7.9"/>
<path class="fk" d="M1404.0,3730.1a7.9,7.9 0 0 1 15.8,0z"/>
<circle class="ck" cx="1427.3" cy="3729.9" r="7.9"/>
<path class="fk" d="M1419.4,3729.9a7.9,7.9 0 0 1 15.8,0z"/>
<circle class="ck" cx="1442.7" cy="3729.7" r="7.9"/>
<path class="fk" d="M1434.8,3729.7a7.9,7.9 0 0 1 15.8,0z"/>
<circle class="ck" cx="1458.1" cy="3729.3" r="7.9"/>
<path class="fk" d="M1450.2,3729.3a7.9,7.9 0 0 1 15.8,0z"/>
<circle class="ck" cx="1473.5" cy="3728.5" r="7.9"/>
<path class="fk" d="M1465.6,3728.5a7.9,7.9 0 0 1 15.8,0z"/>
<circle class="ck" cx="1488.9" cy="3727.6" r="7.9"/>
<path class="fk" d="M1481.0,3727.6a7.9,7.9 0 0 1 15.8,0z"/>
<circle class="ck" cx="1504.2" cy="3724.5" r="7.9"/>
<path class="fk" d="M1496.3,3724.5a7.9,7.9 0 0 1 15.8,0z"/>
<circle class="ck" cx="1519.6" cy="3724.4" r="7.9"/>
<path class="fk" d="M1511.7,3724.4a7.9,7.9 0 0 1 15.8,0z"/>
<circle class="ck" cx="1535.0" cy="3717.9" r="7.9"/>
<path class="fk" d="M1527.1,3717.9a7.9,7.9 0 0 1 15.8,0z"/>
<circle class="ck" cx="1550.4" cy="3709.1" r="7.9"/>
<path class="fk" d="M1542.5,3709.1a7.9,7.9 0 0 1 15.8,0z"/>
<circle class="ck" cx="1565.8" cy="3699.7" r="7.9"/>
<path class="fk" d="M1557.9,3699.7a7.9,7.9 0 0 1 15.8,0z"/>
<circle class="ck" cx="1581.2" cy="3685.4" r="7.9"/>
<path class="fk" d="M1573.3,3685.4a7.9,7.9 0 0 1 15.8,0z"/>
<circle class="ck" cx="1596.6" cy="3666.1" r="7.9"/>
<path class="fk" d="M1588.7,3666.1a7.9,7.9 0 0 1 15.8,0z"/>
<circle class="ck" cx="1612.0" cy="3647.1" r="7.9"/>
<path class="fk" d="M1604.1,3647.1a7.9,7.9 0 0 1 15.8,0z"/>
<circle class="ck" cx="1627.4" cy="3628.9" r="7.9"/>
<path class="fk" d="M1619.5,3628.9a7.9,7.9 0 0 1 15.8,0z"/>
<circle class="ck" cx="1642.8" cy="3610.3" r="7.9"/>
<path class="fk" d="M1634.9,3610.3a7.9,7.9 0 0 1 15.8,0z"/>
<circle class="ck" cx="1658.2" cy="3597.1" r="7.9"/>
<path class="fk" d="M1650.3,3597.1a7.9,7.9 0 0 1 15.8,0z"/>
<circle class="ck" cx="1673.6" cy="3591.1" r="7.9"/>
<path class="fk" d="M1665.7,3591.1a7.9,7.9 0 0 1 15.8,0z"/>
<circle class="ck" cx="1688.9" cy="3591.5" r="7.9"/>
<path class="fk" d="M1681.0,3591.5a7.9,7.9 0 0 1 15.8,0z"/>
<circle class="ck" cx="1704.3" cy="3600.2" r="7.9"/>
<path class="fk" d="M1696.4,3600.2a7.9,7.9 0 0 1 15.8,0z"/>
<circle class="ck" cx="1719.7" cy="3616.6" r="7.9"/>
<path class="fk" d="M1711.8,3616.6a7.9,7.9 0 0 1 15.8,0z"/>
<circle class="ck" cx="1735.1" cy="3633.9" r="7.9"/>
<path class="fk" d="M1727.2,3633.9a7.9,7.9 0 0 1 15.8,0z"/>
<circle class="ck" cx="1750.5" cy="3654.1" r="7.9"/>
<path class="fk" d="M1742.6,3654.1a7.9,7.9 0 0 1 15.8,0z"/>
<circle class="ck" cx="1765.9" cy="3673.9" r="7.9"/>
<path class="fk" d="M1758.0,3673.9a7.9,7.9 0 0 1 15.8,0z"/>
<circle class="ck" cx="1781.3" cy="3690.0" r="7.9"/>
<path class="fk" d="M1773.4,3690.0a7.9,7.9 0 0 1 15.8,0z"/>
<circle class="ck" cx="1796.7" cy="3702.2" r="7.9"/>
<path class="fk" d="M1788.8,3702.2a7.9,7.9 0 0 1 15.8,0z"/>
<circle class="ck" cx="1812.1" cy="3714.7" r="7.9"/>
<path class="fk" d="M1804.2,3714.7a7.9,7.9 0 0 1 15.8,0z"/>
<circle class="ck" cx="1827.5" cy="3719.8" r="7.9"/>
<path class="fk" d="M1819.6,3719.8a7.9,7.9 0 0 1 15.8,0z"/>
<circle class="ck" cx="1842.9" cy="3725.7" r="7.9"/>
<path class="fk" d="M1835.0,3725.7a7.9,7.9 0 0 1 15.8,0z"/>
<circle class="ck" cx="1858.3" cy="3727.3" r="7.9"/>
<path class="fk" d="M1850.4,3727.3a7.9,7.9 0 0 1 15.8,0z"/>
<circle class="ck" cx="1873.6" cy="3727.6" r="7.9"/>
<path class="fk" d="M1865.7,3727.6a7.9,7.9 0 0 1 15.8,0z"/>
<circle class="ck" cx="1889.0" cy="3730.4" r="7.9"/>
<path class="fk" d="M1881.1,3730.4a7.9,7.9 0 0 1 15.8,0z"/>
<circle class="ck" cx="1904.4" cy="3729.4" r="7.9"/>
<path class="fk" d="M1896.5,3729.4a7.9,7.9 0 0 1 15.8,0z"/>
<circle class="ck" cx="1919.8" cy="3729.0" r="7.9"/>
<path class="fk" d="M1911.9,3729.0a7.9,7.9 0 0 1 15.8,0z"/>
<circle class="ck" cx="1935.2" cy="3729.8" r="7.9"/>
<path class="fk" d="M1927.3,3729.8a7.9,7.9 0 0 1 15.8,0z"/>
<circle class="ck" cx="1950.6" cy="3728.1" r="7.9"/>
<path class="fk" d="M1942.7,3728.1a7.9,7.9 0 0 1 15.8,0z"/>
<circle class="ck" cx="1966.0" cy="3730.2" r="7.9"/>
<path class="fk" d="M1958.1,3730.2a7.9,7.9 0 0 1 15.8,0z"/>
<circle class="ck" cx="1981.4" cy="3729.3" r="7.9"/>
<path class="fk" d="M1973.5,3729.3a7.9,7.9 0 0 1 15.8,0z"/>
<circle class="ck" cx="1996.8" cy="3729.7" r="7.9"/>
<path class="fk" d="M1988.9,3729.7a7.9,7.9 0 0 1 15.8,0z"/>
<circle class="ck" cx="2012.2" cy="3729.2" r="7.9"/>
<path class="fk" d="M2004.3,3729.2a7.9,7.9 0 0 1 15.8,0z"/>
<circle class="ck" cx="2027.6" cy="3730.4" r="7.9"/>
<path class="fk" d="M2019.7,3730.4a7.9,7.9 0 0 1 15.8,0z"/>
<circle class="ck" cx="2042.9" cy="3730.2" r="7.9"/>
<path class="fk" d="M2035.0,3730.2a7.9,7.9 0 0 1 15.8,0z"/>
<circle class="ck" cx="2058.3" cy="3730.8" r="7.9"/>
<path class="fk" d="M2050.4,3730.8a7.9,7.9 0 0 1 15.8,0z"/>
<circle class="ck" cx="2073.7" cy="3731.3" r="7.9"/>
<path class="fk" d="M2065.8,3731.3a7.9,7.9 0 0 1 15.8,0z"/>
<circle class="ck" cx="2089.1" cy="3730.1" r="7.9"/>
<path class="fk" d="M2081.2,3730.1a7.9,7.9 0 0 1 15.8,0z"/>
<circle class="ck" cx="2104.5" cy="3730.0" r="7.9"/>
<path class="fk" d="M2096.6,3730.0a7.9,7.9 0 0 1 15.8,0z"/>
<circle class="ck" cx="2119.9" cy="3730.1" r="7.9"/>
<path class="fk" d="M2112.0,3730.1a7.9,7.9 0 0 1 15.8,0z"/>
<circle class="ck" cx="2135.3" cy="3729.2" r="7.9"/>
<path class="fk" d="M2127.4,3729.2a7.9,7.9 0 0 1 15.8,0z"/>
<circle class="ck" cx="2150.7" cy="3729.4" r="7.9"/>
<path class="fk" d="M2142.8,3729.4a7.9,7.9 0 0 1 15.8,0z"/>
<path d="M1227.2,3729.8 L1229.5,3729.8 L1231.9,3729.8 L1234.2,3729.8 L1236.5,3729.8 L1238.8,3729.8 L1241.2,3729.8 L1243.5,3729.8 L1245.8,3729.8 L1248.1,3729.8 L1250.5,3729.8 L1252.8,3729.8 L1255.1,3729.8 L1257.4,3729.8 L1259.8,3729.8 L1262.1,3729.8 L1264.4,3729.8 L1266.7,3729.8 L1269.0,3729.8 L1271.4,3729.8 L1273.7,3729.8 L1276.0,3729.8 L1278.3,3729.8 L1280.7,3729.8 L1283.0,3729.8 L1285.3,3729.8 L1287.6,3729.8 L1290.0,3729.8 L1292.3,3729.8 L1294.6,3729.8 L1296.9,3729.8 L1299.3,3729.8 L1301.6,3729.8 L1303.9,3729.8 L1306.3,3729.8 L1308.6,3729.8 L1310.9,3729.8 L1313.2,3729.8 L1315.6,3729.8 L1317.9,3729.8 L1320.2,3729.8 L1322.5,3729.8 L1324.9,3729.8 L1327.2,3729.8 L1329.5,3729.8 L1331.8,3729.8 L1334.2,3729.8 L1336.5,3729.8 L1338.8,3729.8 L1341.1,3729.8 L1343.5,3729.8 L1345.8,3729.8 L1348.1,3729.8 L1350.4,3729.8 L1352.7,3729.8 L1355.1,3729.8 L1357.4,3729.8 L1359.7,3729.8 L1362.0,3729.8 L1364.4,3729.8 L1366.7,3729.8 L1369.0,3729.8 L1371.3,3729.8 L1373.7,3729.8 L1376.0,3729.8 L1378.3,3729.8 L1380.6,3729.8 L1383.0,3729.8 L1385.3,3729.8 L1387.6,3729.8 L1390.0,3729.8 L1392.3,3729.8 L1394.6,3729.8 L1396.9,3729.8 L1399.3,3729.8 L1401.6,3729.8 L1403.9,3729.8 L1406.2,3729.8 L1408.6,3729.8 L1410.9,3729.8 L1413.2,3729.8 L1415.5,3729.8 L1417.9,3729.8 L1420.2,3729.8 L1422.5,3729.7 L1424.8,3729.7 L1427.1,3729.7 L1429.5,3729.7 L1431.8,3729.7 L1434.1,3729.7 L1436.4,3729.7 L1438.8,3729.7 L1441.1,3729.6 L1443.4,3729.6 L1445.7,3729.6 L1448.1,3729.6 L1450.4,3729.5 L1452.7,3729.5 L1455.0,3729.4 L1457.4,3729.4 L1459.7,3729.3 L1462.0,3729.3 L1464.4,3729.2 L1466.7,3729.1 L1469.0,3729.1 L1471.3,3729.0 L1473.7,3728.9 L1476.0,3728.8 L1478.3,3728.6 L1480.6,3728.5 L1483.0,3728.4 L1485.3,3728.2 L1487.6,3728.0 L1489.9,3727.8 L1492.3,3727.6 L1494.6,3727.3 L1496.9,3727.1 L1499.2,3726.8 L1501.5,3726.5 L1503.9,3726.1 L1506.2,3725.8 L1508.5,3725.4 L1510.8,3724.9 L1513.2,3724.5 L1515.5,3724.0 L1517.8,3723.4 L1520.1,3722.8 L1522.5,3722.2 L1524.8,3721.5 L1527.1,3720.8 L1529.4,3720.0 L1531.8,3719.1 L1534.1,3718.2 L1536.4,3717.3 L1538.8,3716.3 L1541.1,3715.2 L1543.4,3714.0 L1545.7,3712.8 L1548.1,3711.5 L1550.4,3710.2 L1552.7,3708.7 L1555.0,3707.2 L1557.4,3705.6 L1559.7,3704.0 L1562.0,3702.2 L1564.3,3700.4 L1566.7,3698.5 L1569.0,3696.5 L1571.3,3694.4 L1573.6,3692.3 L1576.0,3690.1 L1578.3,3687.8 L1580.6,3685.4 L1582.9,3682.9 L1585.2,3680.4 L1587.6,3677.8 L1589.9,3675.2 L1592.2,3672.4 L1594.5,3669.6 L1596.9,3666.8 L1599.2,3663.9 L1601.5,3661.0 L1603.8,3658.0 L1606.2,3655.1 L1608.5,3652.0 L1610.8,3649.0 L1613.1,3646.0 L1615.5,3642.9 L1617.8,3639.9 L1620.1,3636.8 L1622.5,3633.8 L1624.8,3630.8 L1627.1,3627.9 L1629.4,3625.0 L1631.8,3622.2 L1634.1,3619.4 L1636.4,3616.7 L1638.7,3614.1 L1641.1,3611.6 L1643.4,3609.2 L1645.7,3606.9 L1648.0,3604.7 L1650.4,3602.6 L1652.7,3600.7 L1655.0,3598.9 L1657.3,3597.2 L1659.6,3595.7 L1662.0,3594.4 L1664.3,3593.2 L1666.6,3592.2 L1668.9,3591.4 L1671.3,3590.7 L1673.6,3590.2 L1675.9,3589.9 L1678.2,3589.8 L1680.6,3589.9 L1682.9,3590.1 L1685.2,3590.5 L1687.5,3591.1 L1689.9,3591.9 L1692.2,3592.8 L1694.5,3593.9 L1696.9,3595.2 L1699.2,3596.6 L1701.5,3598.2 L1703.8,3599.9 L1706.2,3601.8 L1708.5,3603.8 L1710.8,3606.0 L1713.1,3608.2 L1715.5,3610.6 L1717.8,3613.1 L1720.1,3615.7 L1722.4,3618.3 L1724.8,3621.1 L1727.1,3623.9 L1729.4,3626.7 L1731.7,3629.7 L1734.0,3632.6 L1736.4,3635.6 L1738.7,3638.6 L1741.0,3641.7 L1743.3,3644.7 L1745.7,3647.8 L1748.0,3650.8 L1750.3,3653.8 L1752.6,3656.9 L1755.0,3659.8 L1757.3,3662.8 L1759.6,3665.7 L1761.9,3668.5 L1764.3,3671.3 L1766.6,3674.1 L1768.9,3676.8 L1771.3,3679.4 L1773.6,3681.9 L1775.9,3684.4 L1778.2,3686.8 L1780.6,3689.2 L1782.9,3691.4 L1785.2,3693.6 L1787.5,3695.7 L1789.9,3697.7 L1792.2,3699.6 L1794.5,3701.5 L1796.8,3703.3 L1799.2,3705.0 L1801.5,3706.6 L1803.8,3708.1 L1806.1,3709.6 L1808.5,3711.0 L1810.8,3712.3 L1813.1,3713.6 L1815.4,3714.7 L1817.8,3715.8 L1820.1,3716.9 L1822.4,3717.9 L1824.7,3718.8 L1827.0,3719.6 L1829.4,3720.5 L1831.7,3721.2 L1834.0,3721.9 L1836.3,3722.6 L1838.7,3723.2 L1841.0,3723.7 L1843.3,3724.3 L1845.6,3724.8 L1848.0,3725.2 L1850.3,3725.6 L1852.6,3726.0 L1855.0,3726.4 L1857.3,3726.7 L1859.6,3727.0 L1861.9,3727.2 L1864.3,3727.5 L1866.6,3727.7 L1868.9,3727.9 L1871.2,3728.1 L1873.6,3728.3 L1875.9,3728.4 L1878.2,3728.6 L1880.5,3728.7 L1882.9,3728.8 L1885.2,3728.9 L1887.5,3729.0 L1889.8,3729.1 L1892.1,3729.2 L1894.5,3729.3 L1896.8,3729.3 L1899.1,3729.4 L1901.4,3729.4 L1903.8,3729.5 L1906.1,3729.5 L1908.4,3729.5 L1910.7,3729.6 L1913.1,3729.6 L1915.4,3729.6 L1917.7,3729.6 L1920.0,3729.7 L1922.4,3729.7 L1924.7,3729.7 L1927.0,3729.7 L1929.4,3729.7 L1931.7,3729.7 L1934.0,3729.7 L1936.3,3729.7 L1938.7,3729.8 L1941.0,3729.8 L1943.3,3729.8 L1945.6,3729.8 L1948.0,3729.8 L1950.3,3729.8 L1952.6,3729.8 L1954.9,3729.8 L1957.3,3729.8 L1959.6,3729.8 L1961.9,3729.8 L1964.2,3729.8 L1966.5,3729.8 L1968.9,3729.8 L1971.2,3729.8 L1973.5,3729.8 L1975.8,3729.8 L1978.2,3729.8 L1980.5,3729.8 L1982.8,3729.8 L1985.1,3729.8 L1987.5,3729.8 L1989.8,3729.8 L1992.1,3729.8 L1994.4,3729.8 L1996.8,3729.8 L1999.1,3729.8 L2001.4,3729.8 L2003.8,3729.8 L2006.1,3729.8 L2008.4,3729.8 L2010.7,3729.8 L2013.1,3729.8 L2015.4,3729.8 L2017.7,3729.8 L2020.0,3729.8 L2022.4,3729.8 L2024.7,3729.8 L2027.0,3729.8 L2029.3,3729.8 L2031.7,3729.8 L2034.0,3729.8 L2036.3,3729.8 L2038.6,3729.8 L2041.0,3729.8 L2043.3,3729.8 L2045.6,3729.8 L2047.9,3729.8 L2050.2,3729.8 L2052.6,3729.8 L2054.9,3729.8 L2057.2,3729.8 L2059.5,3729.8 L2061.9,3729.8 L2064.2,3729.8 L2066.5,3729.8 L2068.8,3729.8 L2071.2,3729.8 L2073.5,3729.8 L2075.8,3729.8 L2078.1,3729.8 L2080.5,3729.8 L2082.8,3729.8 L2085.1,3729.8 L2087.5,3729.8 L2089.8,3729.8 L2092.1,3729.8 L2094.4,3729.8 L2096.8,3729.8 L2099.1,3729.8 L2101.4,3729.8 L2103.7,3729.8 L2106.1,3729.8 L2108.4,3729.8 L2110.7,3729.8 L2113.0,3729.8 L2115.4,3729.8 L2117.7,3729.8 L2120.0,3729.8 L2122.3,3729.8 L2124.6,3729.8 L2127.0,3729.8 L2129.3,3729.8 L2131.6,3729.8 L2133.9,3729.8 L2136.3,3729.8 L2138.6,3729.8 L2140.9,3729.8 L2143.2,3729.8 L2145.6,3729.8 L2147.9,3729.8 L2150.2,3729.8 L2152.5,3729.8 L2154.9,3729.8 L2157.2,3729.8" fill="none" stroke="#000000" stroke-width="6.5" stroke-linejoin="round"/>
<line x1="1677.5" y1="3102.0" x2="1677.5" y2="3742.0" stroke="#9a00c8" stroke-width="8" stroke-dasharray="9.8 7"/>
<rect x="1227.0" y="3100.0" width="931.0" height="667.0" fill="none" stroke="#000" stroke-width="5.7" />
<line x1="1227.2" y1="3767.0" x2="1227.2" y2="3778.0" stroke="#000" stroke-width="5.7" />
<text x="1227.2" y="3827.8" font-size="44" font-family="'Liberation Sans', sans-serif" fill="#000" text-anchor="middle" textLength="80.5" lengthAdjust="spacingAndGlyphs" stroke="#000" stroke-width="0.9">27.5</text>
<line x1="1343.5" y1="3767.0" x2="1343.5" y2="3773.5" stroke="#000" stroke-width="5.7" />
<line x1="1459.7" y1="3767.0" x2="1459.7" y2="3778.0" stroke="#000" stroke-width="5.7" />
<text x="1459.7" y="3827.8" font-size="44" font-family="'Liberation Sans', sans-serif" fill="#000" text-anchor="middle" textLength="80.5" lengthAdjust="spacingAndGlyphs" stroke="#000" stroke-width="0.9">28.0</text>
<line x1="1576.0" y1="3767.0" x2="1576.0" y2="3773.5" stroke="#000" stroke-width="5.7" />
<line x1="1692.2" y1="3767.0" x2="1692.2" y2="3778.0" stroke="#000" stroke-width="5.7" />
<text x="1692.2" y="3827.8" font-size="44" font-family="'Liberation Sans', sans-serif" fill="#000" text-anchor="middle" textLength="80.5" lengthAdjust="spacingAndGlyphs" stroke="#000" stroke-width="0.9">28.5</text>
<line x1="1808.5" y1="3767.0" x2="1808.5" y2="3773.5" stroke="#000" stroke-width="5.7" />
<line x1="1924.7" y1="3767.0" x2="1924.7" y2="3778.0" stroke="#000" stroke-width="5.7" />
<text x="1924.7" y="3827.8" font-size="44" font-family="'Liberation Sans', sans-serif" fill="#000" text-anchor="middle" textLength="80.5" lengthAdjust="spacingAndGlyphs" stroke="#000" stroke-width="0.9">29.0</text>
<line x1="2041.0" y1="3767.0" x2="2041.0" y2="3773.5" stroke="#000" stroke-width="5.7" />
<line x1="2157.2" y1="3767.0" x2="2157.2" y2="3778.0" stroke="#000" stroke-width="5.7" />
<text x="2157.2" y="3827.8" font-size="44" font-family="'Liberation Sans', sans-serif" fill="#000" text-anchor="middle" textLength="80.5" lengthAdjust="spacingAndGlyphs" stroke="#000" stroke-width="0.9">29.5</text>
<text x="1698.5" y="3877.8" font-size="43" font-family="'Liberation Sans', sans-serif" fill="#000" textLength="99" lengthAdjust="spacingAndGlyphs" stroke="#000" stroke-width="0.9">2θ (°)</text>
<text x="1198.5" y="3432.4" font-size="43" font-family="'Liberation Sans', sans-serif" fill="#000" text-anchor="middle" textLength="462" lengthAdjust="spacingAndGlyphs" transform="rotate(-90 1198.5 3432.4)" stroke="#000" stroke-width="0.9">Normalized intensity (a.u)</text>
<text x="1790.0" y="3140.4" font-size="34.5" font-family="'Liberation Sans', sans-serif" fill="#000" textLength="330.5" lengthAdjust="spacingAndGlyphs" stroke="#000" stroke-width="0.9" style="white-space:pre">Tensile strain 110 °C</text>
<text x="2053.0" y="3254.7" font-size="36" font-family="'Liberation Sans', sans-serif" fill="#000" textLength="82.7" lengthAdjust="spacingAndGlyphs" stroke="#000" stroke-width="0.9" style="white-space:pre">Ψ=5°</text>
<text x="1991.0" y="3398.5" font-size="35" font-family="'DejaVu Sans', 'Liberation Sans', sans-serif" fill="#000" textLength="145.6" lengthAdjust="spacingAndGlyphs"  style="white-space:pre">Ψ=4.08°</text>
<text x="1987.0" y="3551.8" font-size="35" font-family="'DejaVu Sans', 'Liberation Sans', sans-serif" fill="#000" textLength="149.6" lengthAdjust="spacingAndGlyphs"  style="white-space:pre">Ψ=2.88°</text>
<text x="2058.0" y="3707.5" font-size="36" font-family="'Liberation Sans', sans-serif" fill="#000" textLength="70.5" lengthAdjust="spacingAndGlyphs" stroke="#000" stroke-width="0.9" style="white-space:pre">Ψ=0</text>
</svg></body></html>
